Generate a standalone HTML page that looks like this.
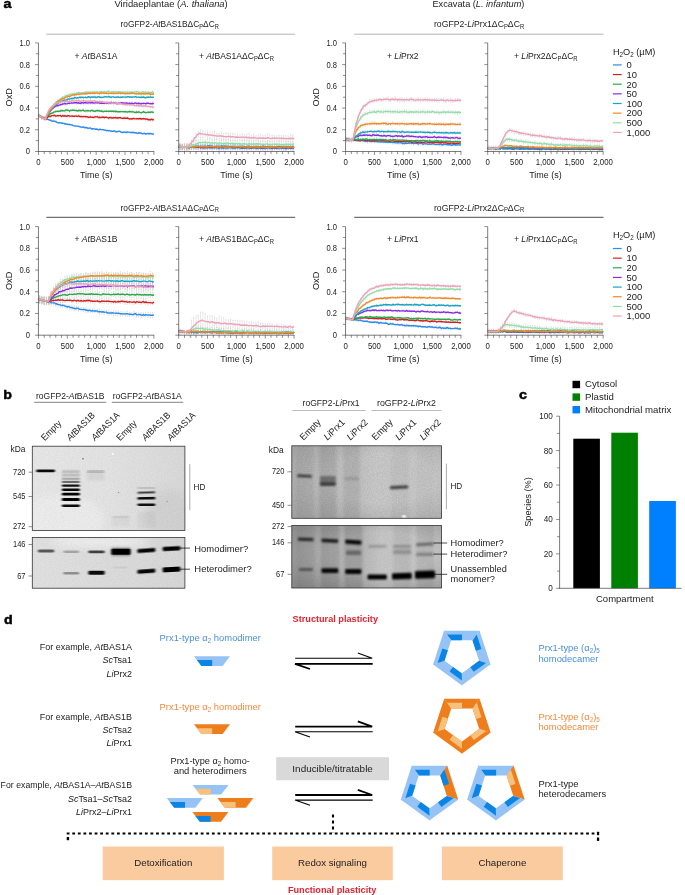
<!DOCTYPE html><html><head><meta charset="utf-8"><title>Figure</title><style>html,body{margin:0;padding:0;background:#fff}svg{display:block}</style></head><body><svg width="685" height="895" viewBox="0 0 685 895" ><style>text{font-family:"Liberation Sans",Arial,sans-serif}</style>
<rect width="685" height="895" fill="#fff"/>
<text transform="translate(3.40 7.80) scale(1.12 1)" font-size="12.8" text-anchor="start" fill="#000" font-weight="bold" stroke="#000" stroke-width="0.45">a</text>
<text transform="translate(171.10 7.00) scale(1.023 1)" font-size="9.2" text-anchor="middle" fill="#222">Viridaeplantae (<tspan font-style="italic">A. thaliana</tspan>)</text>
<text transform="translate(478.40 7.00)" font-size="9.2" text-anchor="middle" fill="#222">Excavata (<tspan font-style="italic">L. infantum</tspan>)</text>
<text transform="translate(169.70 27.20) scale(0.912 1)" font-size="9.2" text-anchor="middle" fill="#222">roGFP2-<tspan font-style="italic">At</tspan>BAS1B&#916;C<tspan font-size="6.3" dy="1.9">P</tspan><tspan dy="-1.9">&#8203;</tspan>&#916;C<tspan font-size="6.3" dy="1.9">R</tspan><tspan dy="-1.9">&#8203;</tspan></text>
<line x1="46.30" y1="34.20" x2="295.20" y2="34.20" stroke="#b4b4b4" stroke-width="1.0"/>
<text transform="translate(479.10 27.20) scale(0.943 1)" font-size="9.2" text-anchor="middle" fill="#222">roGFP2-<tspan font-style="italic">Li</tspan>Prx1&#916;C<tspan font-size="6.3" dy="1.9">P</tspan><tspan dy="-1.9">&#8203;</tspan>&#916;C<tspan font-size="6.3" dy="1.9">R</tspan><tspan dy="-1.9">&#8203;</tspan></text>
<line x1="354.20" y1="34.20" x2="603.50" y2="34.20" stroke="#b4b4b4" stroke-width="1.0"/>
<text transform="translate(169.70 210.50) scale(0.912 1)" font-size="9.2" text-anchor="middle" fill="#222">roGFP2-<tspan font-style="italic">At</tspan>BAS1A&#916;C<tspan font-size="6.3" dy="1.9">P</tspan><tspan dy="-1.9">&#8203;</tspan>&#916;C<tspan font-size="6.3" dy="1.9">R</tspan><tspan dy="-1.9">&#8203;</tspan></text>
<line x1="46.30" y1="217.30" x2="295.20" y2="217.30" stroke="#222" stroke-width="0.8"/>
<text transform="translate(479.10 210.50) scale(0.943 1)" font-size="9.2" text-anchor="middle" fill="#222">roGFP2-<tspan font-style="italic">Li</tspan>Prx2&#916;C<tspan font-size="6.3" dy="1.9">P</tspan><tspan dy="-1.9">&#8203;</tspan>&#916;C<tspan font-size="6.3" dy="1.9">R</tspan><tspan dy="-1.9">&#8203;</tspan></text>
<line x1="354.20" y1="217.30" x2="603.50" y2="217.30" stroke="#222" stroke-width="0.8"/>
<path d="M39.0 115.5h1.2m-.6 0v1.1m-.6 0h1.2M41.3 116.7h1.2m-.6 0v1.3m-.6 0h1.2M43.6 117.8h1.2m-.6 0v1.4m-.6 0h1.2M45.9 118.6h1.2m-.6 0v1.1m-.6 0h1.2M48.2 119.3h1.2m-.6 0v1.0m-.6 0h1.2M50.5 119.8h1.2m-.6 0v1.3m-.6 0h1.2M52.9 120.3h1.2m-.6 0v1.2m-.6 0h1.2M55.2 120.9h1.2m-.6 0v1.3m-.6 0h1.2M57.5 121.9h1.2m-.6 0v1.6m-.6 0h1.2M59.8 122.2h1.2m-.6 0v1.4m-.6 0h1.2M62.1 122.7h1.2m-.6 0v1.3m-.6 0h1.2M64.4 123.3h1.2m-.6 0v1.4m-.6 0h1.2M66.7 123.5h1.2m-.6 0v1.4m-.6 0h1.2M69.0 123.8h1.2m-.6 0v1.0m-.6 0h1.2M71.3 124.1h1.2m-.6 0v1.6m-.6 0h1.2M73.6 125.1h1.2m-.6 0v1.5m-.6 0h1.2M75.9 125.3h1.2m-.6 0v1.5m-.6 0h1.2M78.2 125.7h1.2m-.6 0v1.5m-.6 0h1.2M80.5 126.5h1.2m-.6 0v1.2m-.6 0h1.2M82.9 126.3h1.2m-.6 0v1.2m-.6 0h1.2M85.2 127.0h1.2m-.6 0v1.0m-.6 0h1.2M87.5 127.7h1.2m-.6 0v1.4m-.6 0h1.2M89.8 127.4h1.2m-.6 0v1.0m-.6 0h1.2M92.1 128.2h1.2m-.6 0v1.0m-.6 0h1.2M94.4 128.6h1.2m-.6 0v1.1m-.6 0h1.2M96.7 128.7h1.2m-.6 0v1.1m-.6 0h1.2M99.0 128.7h1.2m-.6 0v1.2m-.6 0h1.2M101.3 129.0h1.2m-.6 0v1.0m-.6 0h1.2M103.6 129.5h1.2m-.6 0v1.0m-.6 0h1.2M105.9 130.2h1.2m-.6 0v1.1m-.6 0h1.2M108.2 130.2h1.2m-.6 0v1.0m-.6 0h1.2M110.6 130.6h1.2m-.6 0v1.2m-.6 0h1.2M112.9 130.7h1.2m-.6 0v1.0m-.6 0h1.2M115.2 131.1h1.2m-.6 0v1.5m-.6 0h1.2M117.5 130.8h1.2m-.6 0v1.4m-.6 0h1.2M119.8 131.0h1.2m-.6 0v1.1m-.6 0h1.2M122.1 132.0h1.2m-.6 0v1.1m-.6 0h1.2M124.4 131.7h1.2m-.6 0v1.2m-.6 0h1.2M126.7 131.4h1.2m-.6 0v1.2m-.6 0h1.2M129.0 131.9h1.2m-.6 0v1.1m-.6 0h1.2M131.3 131.8h1.2m-.6 0v1.5m-.6 0h1.2M133.6 131.8h1.2m-.6 0v1.6m-.6 0h1.2M135.9 132.2h1.2m-.6 0v1.3m-.6 0h1.2M138.2 132.2h1.2m-.6 0v1.3m-.6 0h1.2M140.6 132.6h1.2m-.6 0v1.0m-.6 0h1.2M142.9 133.1h1.2m-.6 0v1.0m-.6 0h1.2M145.2 133.5h1.2m-.6 0v1.2m-.6 0h1.2M147.5 132.9h1.2m-.6 0v1.1m-.6 0h1.2M149.8 132.7h1.2m-.6 0v1.5m-.6 0h1.2M152.1 133.5h1.2m-.6 0v1.1m-.6 0h1.2" stroke="#c4c4c4" stroke-width="0.4" fill="none"/>
<defs><path id="c1" d="M38.5 115.7l1.1 .4 1.2 .7 1.1 .6 1.2 .7 1.1 .3 1.2 .2 1.1 .5 1.2 .2 1.1 .5 1.2 .3 1.1 .4 1.2 .8 1.2-.4 1.1 .4 1.2 .3 1.1 .8 1.2 .3 1.1 .1 1.2 .1 1.1 .1 1.2 .3 1.1 .1 1.2 .6 1.1 0 1.2 .2 1.2 .5 1.1-.4 1.2 .6 1.1 0 1.2 .7 1.1 .3 1.2 .1 1.1 .1 1.2 0 1.1 .3 1.2 .4 1.1 .3 1.2 .1 1.2-.3 1.1 .8 1.2-.2 1.1 .2 1.2 .7 1.1-.3 1.2-.2 1.1 1.1 1.2-.3 1.1 .1 1.2 .4 1.2-.2 1.1 .3 1.2 .5 1.1-.5 1.2 .2 1.1 .1 1.2 0 1.1 .4 1.2 .2 1.1 .5 1.2-.4 1.1 .5 1.2 0 1.2 .4 1.1 0 1.2 0 1.1-.4 1.2 1 1.1 0 1.2-.4 1.1-.2 1.2 .4 1.1 .7 1.2 .3 1.1-.7 1.2 .4 1.2 .2 1.1-.5 1.2 .1 1.1 .3 1.2 .1 1.1 0 1.2-.2 1.1 .4 1.2 .1 1.1 0 1.2 .7 1.1-.7 1.2 .2 1.2 .2 1.1 .7 1.2-.3 1.1-.3 1.2 .8 1.1-.4 1.2-.3 1.1 .7 1.2-.7 1.1 .4 1.2 .2 1.2 0"/></defs>
<path d="M39.0 114.2h1.2m-.6 0v2.6m-.6 0h1.2M41.3 116.5h1.2m-.6 0v2.0m-.6 0h1.2M43.6 117.2h1.2m-.6 0v2.5m-.6 0h1.2M45.9 117.5h1.2m-.6 0v2.2m-.6 0h1.2M48.2 115.4h1.2m-.6 0v2.0m-.6 0h1.2M50.5 114.5h1.2m-.6 0v3.0m-.6 0h1.2M52.9 114.5h1.2m-.6 0v2.2m-.6 0h1.2M55.2 114.9h1.2m-.6 0v2.6m-.6 0h1.2M57.5 114.4h1.2m-.6 0v2.9m-.6 0h1.2M59.8 114.1h1.2m-.6 0v2.7m-.6 0h1.2M62.1 114.3h1.2m-.6 0v2.4m-.6 0h1.2M64.4 114.4h1.2m-.6 0v2.6m-.6 0h1.2M66.7 114.6h1.2m-.6 0v2.7m-.6 0h1.2M69.0 114.6h1.2m-.6 0v3.0m-.6 0h1.2M71.3 114.9h1.2m-.6 0v2.1m-.6 0h1.2M73.6 115.0h1.2m-.6 0v2.7m-.6 0h1.2M75.9 114.9h1.2m-.6 0v2.3m-.6 0h1.2M78.2 114.6h1.2m-.6 0v2.3m-.6 0h1.2M80.5 114.8h1.2m-.6 0v3.0m-.6 0h1.2M82.9 115.3h1.2m-.6 0v2.6m-.6 0h1.2M85.2 115.3h1.2m-.6 0v2.7m-.6 0h1.2M87.5 115.8h1.2m-.6 0v2.9m-.6 0h1.2M89.8 115.2h1.2m-.6 0v3.1m-.6 0h1.2M92.1 116.0h1.2m-.6 0v2.5m-.6 0h1.2M94.4 115.4h1.2m-.6 0v2.8m-.6 0h1.2M96.7 115.5h1.2m-.6 0v2.6m-.6 0h1.2M99.0 116.0h1.2m-.6 0v2.6m-.6 0h1.2M101.3 115.7h1.2m-.6 0v2.9m-.6 0h1.2M103.6 116.4h1.2m-.6 0v2.5m-.6 0h1.2M105.9 116.0h1.2m-.6 0v2.6m-.6 0h1.2M108.2 116.9h1.2m-.6 0v2.6m-.6 0h1.2M110.6 116.2h1.2m-.6 0v3.2m-.6 0h1.2M112.9 116.3h1.2m-.6 0v2.9m-.6 0h1.2M115.2 116.0h1.2m-.6 0v3.1m-.6 0h1.2M117.5 116.1h1.2m-.6 0v3.2m-.6 0h1.2M119.8 116.6h1.2m-.6 0v2.3m-.6 0h1.2M122.1 117.1h1.2m-.6 0v2.7m-.6 0h1.2M124.4 116.7h1.2m-.6 0v3.2m-.6 0h1.2M126.7 116.5h1.2m-.6 0v3.0m-.6 0h1.2M129.0 118.0h1.2m-.6 0v2.1m-.6 0h1.2M131.3 118.0h1.2m-.6 0v2.1m-.6 0h1.2M133.6 117.3h1.2m-.6 0v2.5m-.6 0h1.2M135.9 117.7h1.2m-.6 0v2.0m-.6 0h1.2M138.2 117.7h1.2m-.6 0v2.3m-.6 0h1.2M140.6 117.9h1.2m-.6 0v2.1m-.6 0h1.2M142.9 117.2h1.2m-.6 0v2.8m-.6 0h1.2M145.2 117.8h1.2m-.6 0v3.0m-.6 0h1.2M147.5 118.2h1.2m-.6 0v3.1m-.6 0h1.2M149.8 118.8h1.2m-.6 0v2.2m-.6 0h1.2M152.1 118.3h1.2m-.6 0v2.9m-.6 0h1.2" stroke="#c4c4c4" stroke-width="0.4" fill="none"/>
<defs><path id="c2" d="M38.5 115.5l1.1 0 1.2 1.2 1.1 .7 1.2 .5 1.1 .5 1.2 .5 1.1-.3 1.2-1.4 1.1-.9 1.2 .3 1.1-.6 1.2-.4 1.2-.1 1.1-.2 1.2 .9 1.1-.4 1.2 0 1.1-.2 1.2-.1 1.1 1 1.2-1 1.1 .8 1.2-.6 1.1 .7 1.2-.4 1.2-.3 1.1 .4 1.2 0 1.1-.1 1.2 .2 1.1 .1 1.2-.4 1.1 .2 1.2 .4 1.1-.8 1.2 1.1 1.1-.5 1.2 .4 1.2-.1 1.1-.1 1.2 .2 1.1-.1 1.2 .6 1.1 .1 1.2-.5 1.1 .4 1.2 .1 1.1 .2 1.2-.7 1.2 .1 1.1-.1 1.2 .7 1.1-.2 1.2 .3 1.1-.4 1.2-.2 1.1 .7 1.2-.6 1.1 .2 1.2 .4 1.1 .5 1.2-.9 1.2 .5 1.1 .2 1.2-.3 1.1 .1 1.2-.3 1.1 .8 1.2-.6 1.1 0 1.2 0 1.1 .5 1.2 .2 1.1-.4 1.2 .3 1.2 0 1.1-.3 1.2 .5 1.1 .6 1.2-.5 1.1 .5 1.2-.7 1.1 .2 1.2 .3 1.1-.1 1.2-.2 1.1 .2 1.2-.3 1.2 .5 1.1-.3 1.2-.1 1.1 .1 1.2 .6 1.1-.4 1.2 .8 1.1-.1 1.2 .3 1.1-.8 1.2 .7 1.2-.3"/></defs>
<path d="M39.0 115.3h1.2m-.6 0v2.1m-.6 0h1.2M41.3 116.2h1.2m-.6 0v3.1m-.6 0h1.2M43.6 116.2h1.2m-.6 0v3.1m-.6 0h1.2M45.9 115.8h1.2m-.6 0v2.8m-.6 0h1.2M48.2 113.9h1.2m-.6 0v2.3m-.6 0h1.2M50.5 112.1h1.2m-.6 0v2.3m-.6 0h1.2M52.9 111.3h1.2m-.6 0v2.3m-.6 0h1.2M55.2 110.2h1.2m-.6 0v2.6m-.6 0h1.2M57.5 110.2h1.2m-.6 0v2.2m-.6 0h1.2M59.8 109.7h1.2m-.6 0v2.5m-.6 0h1.2M62.1 109.5h1.2m-.6 0v2.3m-.6 0h1.2M64.4 109.2h1.2m-.6 0v3.2m-.6 0h1.2M66.7 108.6h1.2m-.6 0v3.2m-.6 0h1.2M69.0 109.9h1.2m-.6 0v2.7m-.6 0h1.2M71.3 109.2h1.2m-.6 0v2.3m-.6 0h1.2M73.6 108.8h1.2m-.6 0v3.2m-.6 0h1.2M75.9 109.2h1.2m-.6 0v2.4m-.6 0h1.2M78.2 109.1h1.2m-.6 0v2.4m-.6 0h1.2M80.5 109.8h1.2m-.6 0v2.0m-.6 0h1.2M82.9 108.9h1.2m-.6 0v2.5m-.6 0h1.2M85.2 109.6h1.2m-.6 0v2.6m-.6 0h1.2M87.5 109.4h1.2m-.6 0v2.6m-.6 0h1.2M89.8 110.0h1.2m-.6 0v2.2m-.6 0h1.2M92.1 109.3h1.2m-.6 0v2.6m-.6 0h1.2M94.4 110.3h1.2m-.6 0v2.0m-.6 0h1.2M96.7 109.6h1.2m-.6 0v2.3m-.6 0h1.2M99.0 109.8h1.2m-.6 0v2.1m-.6 0h1.2M101.3 109.8h1.2m-.6 0v2.5m-.6 0h1.2M103.6 110.4h1.2m-.6 0v2.0m-.6 0h1.2M105.9 110.1h1.2m-.6 0v2.0m-.6 0h1.2M108.2 110.1h1.2m-.6 0v2.4m-.6 0h1.2M110.6 110.1h1.2m-.6 0v2.3m-.6 0h1.2M112.9 110.0h1.2m-.6 0v2.7m-.6 0h1.2M115.2 109.9h1.2m-.6 0v2.6m-.6 0h1.2M117.5 110.3h1.2m-.6 0v2.9m-.6 0h1.2M119.8 110.2h1.2m-.6 0v2.8m-.6 0h1.2M122.1 110.1h1.2m-.6 0v2.9m-.6 0h1.2M124.4 110.1h1.2m-.6 0v3.1m-.6 0h1.2M126.7 110.9h1.2m-.6 0v2.5m-.6 0h1.2M129.0 110.3h1.2m-.6 0v2.4m-.6 0h1.2M131.3 110.3h1.2m-.6 0v3.2m-.6 0h1.2M133.6 111.1h1.2m-.6 0v2.1m-.6 0h1.2M135.9 110.5h1.2m-.6 0v2.9m-.6 0h1.2M138.2 110.4h1.2m-.6 0v2.8m-.6 0h1.2M140.6 111.8h1.2m-.6 0v2.0m-.6 0h1.2M142.9 110.2h1.2m-.6 0v3.0m-.6 0h1.2M145.2 111.0h1.2m-.6 0v3.1m-.6 0h1.2M147.5 110.7h1.2m-.6 0v2.8m-.6 0h1.2M149.8 110.8h1.2m-.6 0v2.9m-.6 0h1.2M152.1 110.7h1.2m-.6 0v3.0m-.6 0h1.2" stroke="#c4c4c4" stroke-width="0.4" fill="none"/>
<defs><path id="c3" d="M38.5 115.7l1.1 .6 1.2-.1 1.1 1.6 1.2-.1 1.1 0 1.2 1.5 1.1-2 1.2-1.6 1.1-.5 1.2-1 1.1-.9 1.2 0 1.2-.8 1.1-.5 1.2-.4 1.1-.1 1.2-.1 1.1 0 1.2-.3 1.1-.5 1.2 .2 1.1 .2 1.2-.1 1.1-1 1.2 .4 1.2 .1 1.1 .9 1.2-.9 1.1 .1 1.2-.4 1.1 .4 1.2 .1 1.1-.1 1.2 .7 1.1-.8 1.2 .2 1.1 .3 1.2-.5 1.2-.1 1.1 .9 1.2-.2 1.1-.2 1.2 0 1.1 .2 1.2 .2 1.1-.8 1.2 .3 1.1 .6 1.2 .1 1.2-.8 1.1 .2 1.2-.2 1.1 .3 1.2 .5 1.1-.3 1.2 .7 1.1-.3 1.2-.2 1.1-.1 1.2 .3 1.1-.1 1.2-.1 1.2 0 1.1 0 1.2 .1 1.1 .2 1.2-.3 1.1 .3 1.2 .2 1.1 0 1.2-.1 1.1 0 1.2 0 1.1 .1 1.2-.1 1.2 .1 1.1 .4 1.2-.4 1.1-.2 1.2 .2 1.1 .2 1.2-.1 1.1 .4 1.2 .3 1.1-.5 1.2 .3 1.1-.5 1.2 .6 1.2 .4 1.1-.4 1.2-.7 1.1 .6 1.2 .3 1.1-.2 1.2-.3 1.1 .1 1.2 .1 1.1-.4 1.2 .3 1.2 .2"/></defs>
<path d="M39.0 114.4h1.2m-.6 0v3.1m-.6 0h1.2M41.3 116.6h1.2m-.6 0v2.3m-.6 0h1.2M43.6 117.0h1.2m-.6 0v2.4m-.6 0h1.2M45.9 115.8h1.2m-.6 0v2.5m-.6 0h1.2M48.2 111.3h1.2m-.6 0v3.3m-.6 0h1.2M50.5 108.6h1.2m-.6 0v2.7m-.6 0h1.2M52.9 106.5h1.2m-.6 0v2.4m-.6 0h1.2M55.2 104.8h1.2m-.6 0v2.5m-.6 0h1.2M57.5 104.5h1.2m-.6 0v2.3m-.6 0h1.2M59.8 103.8h1.2m-.6 0v2.0m-.6 0h1.2M62.1 103.0h1.2m-.6 0v2.1m-.6 0h1.2M64.4 101.9h1.2m-.6 0v3.0m-.6 0h1.2M66.7 102.5h1.2m-.6 0v2.3m-.6 0h1.2M69.0 101.6h1.2m-.6 0v3.2m-.6 0h1.2M71.3 101.8h1.2m-.6 0v2.3m-.6 0h1.2M73.6 101.5h1.2m-.6 0v2.3m-.6 0h1.2M75.9 101.5h1.2m-.6 0v2.6m-.6 0h1.2M78.2 101.7h1.2m-.6 0v2.2m-.6 0h1.2M80.5 101.8h1.2m-.6 0v2.4m-.6 0h1.2M82.9 101.6h1.2m-.6 0v3.2m-.6 0h1.2M85.2 101.2h1.2m-.6 0v3.1m-.6 0h1.2M87.5 101.3h1.2m-.6 0v3.0m-.6 0h1.2M89.8 101.3h1.2m-.6 0v2.8m-.6 0h1.2M92.1 101.3h1.2m-.6 0v3.1m-.6 0h1.2M94.4 101.3h1.2m-.6 0v3.2m-.6 0h1.2M96.7 101.3h1.2m-.6 0v2.7m-.6 0h1.2M99.0 101.7h1.2m-.6 0v2.9m-.6 0h1.2M101.3 102.0h1.2m-.6 0v2.0m-.6 0h1.2M103.6 101.8h1.2m-.6 0v2.9m-.6 0h1.2M105.9 101.9h1.2m-.6 0v2.5m-.6 0h1.2M108.2 101.4h1.2m-.6 0v2.9m-.6 0h1.2M110.6 101.0h1.2m-.6 0v2.8m-.6 0h1.2M112.9 101.6h1.2m-.6 0v2.3m-.6 0h1.2M115.2 101.8h1.2m-.6 0v2.0m-.6 0h1.2M117.5 101.8h1.2m-.6 0v3.2m-.6 0h1.2M119.8 102.0h1.2m-.6 0v2.1m-.6 0h1.2M122.1 101.9h1.2m-.6 0v2.6m-.6 0h1.2M124.4 101.9h1.2m-.6 0v2.4m-.6 0h1.2M126.7 102.0h1.2m-.6 0v2.3m-.6 0h1.2M129.0 101.8h1.2m-.6 0v2.9m-.6 0h1.2M131.3 101.5h1.2m-.6 0v3.2m-.6 0h1.2M133.6 102.2h1.2m-.6 0v2.3m-.6 0h1.2M135.9 102.1h1.2m-.6 0v2.8m-.6 0h1.2M138.2 102.0h1.2m-.6 0v2.3m-.6 0h1.2M140.6 102.4h1.2m-.6 0v2.7m-.6 0h1.2M142.9 102.2h1.2m-.6 0v2.5m-.6 0h1.2M145.2 102.7h1.2m-.6 0v2.2m-.6 0h1.2M147.5 102.1h1.2m-.6 0v2.2m-.6 0h1.2M149.8 102.5h1.2m-.6 0v2.2m-.6 0h1.2M152.1 101.7h1.2m-.6 0v3.1m-.6 0h1.2" stroke="#c4c4c4" stroke-width="0.4" fill="none"/>
<defs><path id="c4" d="M38.5 115.5l1.1 .5 1.2 .5 1.1 1.3 1.2 0 1.1 .4 1.2 1.2 1.1-2.4 1.2-2.2 1.1-1.9 1.2-1.3 1.1-1.7 1.2-1.1 1.2-1.1 1.1-.8 1.2-.9 1.1-.5 1.2 .2 1.1-.6 1.2-.3 1.1-.3 1.2-.5 1.1-.2 1.2-.3 1.1 .4 1.2-.3 1.2-.4 1.1 0 1.2-.1 1.1-.1 1.2 .1 1.1-.4 1.2 0 1.1 .1 1.2 .2 1.1-.2 1.2 .7 1.1-.5 1.2-.3 1.2 .5 1.1-.5 1.2 0 1.1 .4 1.2-.2 1.1 0 1.2-.2 1.1-.1 1.2 .2 1.1 .3 1.2-.2 1.2 0 1.1-.2 1.2 .1 1.1 .3 1.2 .2 1.1-.3 1.2 .2 1.1 .1 1.2-.3 1.1 .1 1.2-.1 1.1-.1 1.2 .3 1.2-.8 1.1 .8 1.2-.4 1.1 .3 1.2-.3 1.1 1 1.2-.4 1.1-.3 1.2 0 1.1-.5 1.2 .6 1.1-.3 1.2 .2 1.2-.1 1.1 .2 1.2 .2 1.1-.2 1.2 .5 1.1-.6 1.2 .6 1.1-.3 1.2-.5 1.1 .6 1.2 0 1.1-.3 1.2 .3 1.2 .2 1.1-.2 1.2-.1 1.1 0 1.2 .4 1.1-.7 1.2 .1 1.1 .4 1.2 0 1.1 .2 1.2-.5 1.2 .6"/></defs>
<path d="M39.0 115.3h1.2m-.6 0v1.7m-.6 0h1.2M41.3 117.1h1.2m-.6 0v1.5m-.6 0h1.2M43.6 117.3h1.2m-.6 0v2.1m-.6 0h1.2M45.9 115.7h1.2m-.6 0v1.6m-.6 0h1.2M48.2 111.5h1.2m-.6 0v2.0m-.6 0h1.2M50.5 108.5h1.2m-.6 0v1.5m-.6 0h1.2M52.9 106.4h1.2m-.6 0v1.5m-.6 0h1.2M55.2 104.2h1.2m-.6 0v2.0m-.6 0h1.2M57.5 102.3h1.2m-.6 0v1.6m-.6 0h1.2M59.8 100.7h1.2m-.6 0v2.1m-.6 0h1.2M62.1 100.0h1.2m-.6 0v1.7m-.6 0h1.2M64.4 99.4h1.2m-.6 0v1.5m-.6 0h1.2M66.7 98.7h1.2m-.6 0v1.5m-.6 0h1.2M69.0 98.2h1.2m-.6 0v1.7m-.6 0h1.2M71.3 97.4h1.2m-.6 0v1.9m-.6 0h1.2M73.6 96.9h1.2m-.6 0v2.1m-.6 0h1.2M75.9 97.3h1.2m-.6 0v1.4m-.6 0h1.2M78.2 96.9h1.2m-.6 0v1.6m-.6 0h1.2M80.5 96.7h1.2m-.6 0v1.5m-.6 0h1.2M82.9 96.5h1.2m-.6 0v2.1m-.6 0h1.2M85.2 96.6h1.2m-.6 0v1.4m-.6 0h1.2M87.5 96.2h1.2m-.6 0v1.3m-.6 0h1.2M89.8 97.0h1.2m-.6 0v1.4m-.6 0h1.2M92.1 96.3h1.2m-.6 0v1.6m-.6 0h1.2M94.4 95.9h1.2m-.6 0v2.1m-.6 0h1.2M96.7 96.1h1.2m-.6 0v2.1m-.6 0h1.2M99.0 96.2h1.2m-.6 0v1.9m-.6 0h1.2M101.3 96.3h1.2m-.6 0v2.2m-.6 0h1.2M103.6 95.9h1.2m-.6 0v2.1m-.6 0h1.2M105.9 96.1h1.2m-.6 0v1.6m-.6 0h1.2M108.2 95.7h1.2m-.6 0v1.5m-.6 0h1.2M110.6 96.2h1.2m-.6 0v2.1m-.6 0h1.2M112.9 95.9h1.2m-.6 0v2.0m-.6 0h1.2M115.2 96.7h1.2m-.6 0v1.3m-.6 0h1.2M117.5 96.0h1.2m-.6 0v1.9m-.6 0h1.2M119.8 96.3h1.2m-.6 0v1.6m-.6 0h1.2M122.1 96.1h1.2m-.6 0v1.6m-.6 0h1.2M124.4 96.3h1.2m-.6 0v1.6m-.6 0h1.2M126.7 96.1h1.2m-.6 0v1.5m-.6 0h1.2M129.0 96.5h1.2m-.6 0v1.3m-.6 0h1.2M131.3 96.5h1.2m-.6 0v1.5m-.6 0h1.2M133.6 96.1h1.2m-.6 0v1.6m-.6 0h1.2M135.9 96.2h1.2m-.6 0v2.1m-.6 0h1.2M138.2 96.4h1.2m-.6 0v1.4m-.6 0h1.2M140.6 96.1h1.2m-.6 0v2.1m-.6 0h1.2M142.9 96.3h1.2m-.6 0v1.5m-.6 0h1.2M145.2 96.9h1.2m-.6 0v1.6m-.6 0h1.2M147.5 96.1h1.2m-.6 0v2.0m-.6 0h1.2M149.8 95.9h1.2m-.6 0v2.0m-.6 0h1.2M152.1 96.5h1.2m-.6 0v1.7m-.6 0h1.2" stroke="#c4c4c4" stroke-width="0.4" fill="none"/>
<defs><path id="c5" d="M38.5 115.9l1.1 .3 1.2-.2 1.1 1.8 1.2 .2 1.1 .3 1.2 .6 1.1-2.4 1.2-1.9 1.1-2.1 1.2-1.6 1.1-1.7 1.2-.6 1.2-1.5 1.1-1.3 1.2-.6 1.1-.9 1.2-1.2 1.1-.3 1.2-1 1.1-.6 1.2-.4 1.1-.4 1.2-.3 1.1 0 1.2-.6 1.2-.5 1.1 .1 1.2-.4 1.1-.4 1.2 .3 1.1-.6 1.2-.5 1.1 .6 1.2-.3 1.1-.1 1.2-.5 1.1 .3 1.2-.3 1.2 .4 1.1-.2 1.2-.1 1.1 .5 1.2-1 1.1 .2 1.2 .6 1.1-.7 1.2 .3 1.1-.2 1.2 0 1.2 .5 1.1-.4 1.2-.4 1.1 .5 1.2 .1 1.1 .1 1.2 0 1.1-.5 1.2-.3 1.1 .3 1.2 .1 1.1-.6 1.2 .8 1.2 0 1.1-.3 1.2 0 1.1 .4 1.2 .1 1.1-.4 1.2 0 1.1 .4 1.2-.3 1.1 .1 1.2-.3 1.1 .2 1.2 0 1.2 .1 1.1-.4 1.2-.1 1.1 .5 1.2-.3 1.1 .4 1.2-.2 1.1-.2 1.2-.2 1.1 .5 1.2-.1 1.1 0 1.2 .4 1.2-.4 1.1 .2 1.2-.3 1.1 .5 1.2 .2 1.1-.5 1.2-.1 1.1 .2 1.2-.4 1.1 .4 1.2 .1 1.2-.3"/></defs>
<path d="M39.0 115.2h1.2m-.6 0v1.3m-.6 0h1.2M41.3 116.9h1.2m-.6 0v1.6m-.6 0h1.2M43.6 117.6h1.2m-.6 0v1.4m-.6 0h1.2M45.9 115.5h1.2m-.6 0v1.5m-.6 0h1.2M48.2 111.1h1.2m-.6 0v2.1m-.6 0h1.2M50.5 107.1h1.2m-.6 0v1.8m-.6 0h1.2M52.9 103.9h1.2m-.6 0v2.1m-.6 0h1.2M55.2 101.6h1.2m-.6 0v1.6m-.6 0h1.2M57.5 99.5h1.2m-.6 0v2.1m-.6 0h1.2M59.8 98.2h1.2m-.6 0v1.7m-.6 0h1.2M62.1 96.4h1.2m-.6 0v1.5m-.6 0h1.2M64.4 95.5h1.2m-.6 0v2.0m-.6 0h1.2M66.7 94.6h1.2m-.6 0v2.1m-.6 0h1.2M69.0 93.7h1.2m-.6 0v1.4m-.6 0h1.2M71.3 93.0h1.2m-.6 0v1.8m-.6 0h1.2M73.6 92.8h1.2m-.6 0v1.8m-.6 0h1.2M75.9 92.6h1.2m-.6 0v1.5m-.6 0h1.2M78.2 91.6h1.2m-.6 0v1.6m-.6 0h1.2M80.5 92.3h1.2m-.6 0v1.4m-.6 0h1.2M82.9 92.2h1.2m-.6 0v1.5m-.6 0h1.2M85.2 91.5h1.2m-.6 0v1.5m-.6 0h1.2M87.5 91.3h1.2m-.6 0v1.8m-.6 0h1.2M89.8 91.1h1.2m-.6 0v1.9m-.6 0h1.2M92.1 91.6h1.2m-.6 0v1.5m-.6 0h1.2M94.4 91.5h1.2m-.6 0v1.3m-.6 0h1.2M96.7 91.2h1.2m-.6 0v1.6m-.6 0h1.2M99.0 90.9h1.2m-.6 0v1.9m-.6 0h1.2M101.3 91.3h1.2m-.6 0v1.5m-.6 0h1.2M103.6 90.9h1.2m-.6 0v1.6m-.6 0h1.2M105.9 91.6h1.2m-.6 0v1.5m-.6 0h1.2M108.2 90.4h1.2m-.6 0v2.0m-.6 0h1.2M110.6 91.1h1.2m-.6 0v1.8m-.6 0h1.2M112.9 91.0h1.2m-.6 0v1.4m-.6 0h1.2M115.2 91.4h1.2m-.6 0v1.4m-.6 0h1.2M117.5 91.2h1.2m-.6 0v1.6m-.6 0h1.2M119.8 91.4h1.2m-.6 0v1.8m-.6 0h1.2M122.1 91.1h1.2m-.6 0v1.9m-.6 0h1.2M124.4 91.4h1.2m-.6 0v1.4m-.6 0h1.2M126.7 91.2h1.2m-.6 0v1.4m-.6 0h1.2M129.0 91.4h1.2m-.6 0v1.9m-.6 0h1.2M131.3 91.3h1.2m-.6 0v1.7m-.6 0h1.2M133.6 91.4h1.2m-.6 0v1.5m-.6 0h1.2M135.9 91.0h1.2m-.6 0v1.6m-.6 0h1.2M138.2 91.3h1.2m-.6 0v2.1m-.6 0h1.2M140.6 92.1h1.2m-.6 0v1.6m-.6 0h1.2M142.9 91.5h1.2m-.6 0v1.8m-.6 0h1.2M145.2 91.3h1.2m-.6 0v1.6m-.6 0h1.2M147.5 91.3h1.2m-.6 0v1.7m-.6 0h1.2M149.8 91.8h1.2m-.6 0v2.1m-.6 0h1.2M152.1 90.9h1.2m-.6 0v2.2m-.6 0h1.2" stroke="#c4c4c4" stroke-width="0.4" fill="none"/>
<defs><path id="c6" d="M38.5 116.1l1.1-.2 1.2 .8 1.1 1 1.2-.3 1.1 .9 1.2 .4 1.1-2.5 1.2-2.3 1.1-1.7 1.2-2.7 1.1-1.5 1.2-1.5 1.2-1.6 1.1-1.2 1.2-1.3 1.1-.8 1.2-1.1 1.1-.3 1.2-1.2 1.1-1 1.2-.8 1.1-.1 1.2-.6 1.1-1 1.2 .1 1.2-.6 1.1-.6 1.2 .1 1.1-.6 1.2 .3 1.1-.5 1.2-.1 1.1-.3 1.2-.4 1.1-.5 1.2 .7 1.1-.1 1.2-.4 1.2 .3 1.1-.5 1.2-.1 1.1 .2 1.2-.3 1.1 .5 1.2-.7 1.1 .6 1.2-.3 1.1 0 1.2-.1 1.2-.4 1.1 .2 1.2 .1 1.1-.2 1.2-.3 1.1 .4 1.2-.1 1.1-.3 1.2 .3 1.1 .4 1.2-1 1.1 .1 1.2 1.1 1.2-.5 1.1-.1 1.2-.2 1.1 .1 1.2 .3 1.1 .2 1.2-.3 1.1-.3 1.2 .6 1.1 0 1.2-.3 1.1 .6 1.2-.5 1.2 .1 1.1-.3 1.2 .4 1.1 0 1.2-.1 1.1-.1 1.2 .2 1.1-.2 1.2-.2 1.1-.1 1.2-.1 1.1 .7 1.2-.1 1.2 .6 1.1-1.2 1.2 .7 1.1-.2 1.2-.1 1.1 .5 1.2-.5 1.1 .2 1.2 .5 1.1-.6 1.2-.2 1.2 .8"/></defs>
<path d="M39.0 115.2h1.2m-.6 0v1.7m-.6 0h1.2M41.3 116.4h1.2m-.6 0v2.1m-.6 0h1.2M43.6 117.3h1.2m-.6 0v2.1m-.6 0h1.2M45.9 115.6h1.2m-.6 0v1.4m-.6 0h1.2M48.2 111.0h1.2m-.6 0v2.0m-.6 0h1.2M50.5 107.8h1.2m-.6 0v2.1m-.6 0h1.2M52.9 105.3h1.2m-.6 0v1.4m-.6 0h1.2M55.2 103.3h1.2m-.6 0v1.6m-.6 0h1.2M57.5 100.5h1.2m-.6 0v2.0m-.6 0h1.2M59.8 99.1h1.2m-.6 0v1.4m-.6 0h1.2M62.1 97.5h1.2m-.6 0v2.1m-.6 0h1.2M64.4 97.0h1.2m-.6 0v1.5m-.6 0h1.2M66.7 95.6h1.2m-.6 0v2.0m-.6 0h1.2M69.0 96.0h1.2m-.6 0v1.4m-.6 0h1.2M71.3 94.4h1.2m-.6 0v1.7m-.6 0h1.2M73.6 94.2h1.2m-.6 0v2.1m-.6 0h1.2M75.9 93.8h1.2m-.6 0v1.5m-.6 0h1.2M78.2 93.6h1.2m-.6 0v1.5m-.6 0h1.2M80.5 93.3h1.2m-.6 0v1.7m-.6 0h1.2M82.9 93.1h1.2m-.6 0v1.6m-.6 0h1.2M85.2 93.1h1.2m-.6 0v1.3m-.6 0h1.2M87.5 92.4h1.2m-.6 0v1.5m-.6 0h1.2M89.8 92.8h1.2m-.6 0v1.4m-.6 0h1.2M92.1 92.0h1.2m-.6 0v2.1m-.6 0h1.2M94.4 92.3h1.2m-.6 0v1.9m-.6 0h1.2M96.7 92.0h1.2m-.6 0v2.1m-.6 0h1.2M99.0 93.0h1.2m-.6 0v1.4m-.6 0h1.2M101.3 92.1h1.2m-.6 0v2.0m-.6 0h1.2M103.6 92.5h1.2m-.6 0v1.4m-.6 0h1.2M105.9 92.4h1.2m-.6 0v1.8m-.6 0h1.2M108.2 92.5h1.2m-.6 0v1.9m-.6 0h1.2M110.6 92.6h1.2m-.6 0v1.6m-.6 0h1.2M112.9 92.0h1.2m-.6 0v2.1m-.6 0h1.2M115.2 92.2h1.2m-.6 0v1.8m-.6 0h1.2M117.5 92.3h1.2m-.6 0v1.8m-.6 0h1.2M119.8 92.2h1.2m-.6 0v2.1m-.6 0h1.2M122.1 92.7h1.2m-.6 0v1.4m-.6 0h1.2M124.4 92.8h1.2m-.6 0v2.2m-.6 0h1.2M126.7 92.5h1.2m-.6 0v1.9m-.6 0h1.2M129.0 92.6h1.2m-.6 0v1.6m-.6 0h1.2M131.3 92.3h1.2m-.6 0v2.0m-.6 0h1.2M133.6 92.6h1.2m-.6 0v1.5m-.6 0h1.2M135.9 92.5h1.2m-.6 0v2.2m-.6 0h1.2M138.2 92.8h1.2m-.6 0v1.8m-.6 0h1.2M140.6 93.4h1.2m-.6 0v1.6m-.6 0h1.2M142.9 92.8h1.2m-.6 0v2.0m-.6 0h1.2M145.2 93.0h1.2m-.6 0v1.7m-.6 0h1.2M147.5 93.1h1.2m-.6 0v1.5m-.6 0h1.2M149.8 93.6h1.2m-.6 0v1.9m-.6 0h1.2M152.1 93.7h1.2m-.6 0v1.3m-.6 0h1.2" stroke="#c4c4c4" stroke-width="0.4" fill="none"/>
<defs><path id="c7" d="M38.5 115.8l1.1 .3 1.2 .7 1.1 .7 1.2-.3 1.1 1.2 1.2 1 1.1-3.1 1.2-1.5 1.1-2.8 1.2-1.3 1.1-1.9 1.2-1.8 1.2-1 1.1-.9 1.2-1 1.1-1.8 1.2-.8 1.1-.4 1.2-1.3 1.1-.5 1.2-.7 1.1 .2 1.2-1.1 1.1-.7 1.2-.4 1.2-.5 1.1 .6 1.2-1 1.1-.4 1.2-.8 1.1 .7 1.2-.4 1.1-.3 1.2-.4 1.1 .2 1.2-.5 1.1 .4 1.2-.4 1.2 .1 1.1-.3 1.2 .2 1.1 .2 1.2-.8 1.1 .1 1.2 .2 1.1-.2 1.2-.3 1.1 .5 1.2-.2 1.2-.2 1.1 0 1.2 .2 1.1 .5 1.2-1 1.1 .3 1.2 .1 1.1 .1 1.2-.2 1.1 .2 1.2 .2 1.1-.1 1.2 0 1.2 0 1.1 .1 1.2-.4 1.1 .5 1.2-.5 1.1 .5 1.2-.4 1.1-.3 1.2 .4 1.1 .2 1.2-.1 1.1-.1 1.2 .6 1.2-.3 1.1-.2 1.2 .2 1.1-.1 1.2-.2 1.1 0 1.2 0 1.1 .1 1.2 .3 1.1-.1 1.2 .1 1.1 0 1.2 0 1.2 .5 1.1-.4 1.2-.1 1.1 .3 1.2-.2 1.1-.1 1.2 .2 1.1-.6 1.2 1.3 1.1-.6 1.2 .4 1.2-.7"/></defs>
<path d="M39.0 114.7h1.2m-.6 0v2.9m-.6 0h1.2M41.3 116.6h1.2m-.6 0v2.4m-.6 0h1.2M43.6 117.2h1.2m-.6 0v3.1m-.6 0h1.2M45.9 114.3h1.2m-.6 0v2.4m-.6 0h1.2M48.2 109.2h1.2m-.6 0v2.3m-.6 0h1.2M50.5 105.9h1.2m-.6 0v3.1m-.6 0h1.2M52.9 104.3h1.2m-.6 0v2.8m-.6 0h1.2M55.2 102.1h1.2m-.6 0v2.9m-.6 0h1.2M57.5 101.4h1.2m-.6 0v2.8m-.6 0h1.2M59.8 100.3h1.2m-.6 0v3.2m-.6 0h1.2M62.1 100.3h1.2m-.6 0v2.6m-.6 0h1.2M64.4 99.9h1.2m-.6 0v3.0m-.6 0h1.2M66.7 100.1h1.2m-.6 0v2.9m-.6 0h1.2M69.0 99.9h1.2m-.6 0v3.1m-.6 0h1.2M71.3 99.5h1.2m-.6 0v2.5m-.6 0h1.2M73.6 99.6h1.2m-.6 0v2.9m-.6 0h1.2M75.9 99.4h1.2m-.6 0v2.7m-.6 0h1.2M78.2 99.5h1.2m-.6 0v2.4m-.6 0h1.2M80.5 100.1h1.2m-.6 0v2.2m-.6 0h1.2M82.9 99.2h1.2m-.6 0v2.8m-.6 0h1.2M85.2 100.2h1.2m-.6 0v2.1m-.6 0h1.2M87.5 99.6h1.2m-.6 0v3.1m-.6 0h1.2M89.8 99.5h1.2m-.6 0v2.1m-.6 0h1.2M92.1 100.2h1.2m-.6 0v2.0m-.6 0h1.2M94.4 100.1h1.2m-.6 0v2.1m-.6 0h1.2M96.7 100.2h1.2m-.6 0v3.2m-.6 0h1.2M99.0 100.2h1.2m-.6 0v2.4m-.6 0h1.2M101.3 100.7h1.2m-.6 0v2.1m-.6 0h1.2M103.6 101.2h1.2m-.6 0v2.0m-.6 0h1.2M105.9 101.4h1.2m-.6 0v2.0m-.6 0h1.2M108.2 101.7h1.2m-.6 0v2.9m-.6 0h1.2M110.6 101.5h1.2m-.6 0v2.8m-.6 0h1.2M112.9 101.8h1.2m-.6 0v2.9m-.6 0h1.2M115.2 101.4h1.2m-.6 0v2.9m-.6 0h1.2M117.5 102.5h1.2m-.6 0v2.0m-.6 0h1.2M119.8 101.9h1.2m-.6 0v2.7m-.6 0h1.2M122.1 102.8h1.2m-.6 0v2.4m-.6 0h1.2M124.4 102.8h1.2m-.6 0v3.0m-.6 0h1.2M126.7 102.9h1.2m-.6 0v3.0m-.6 0h1.2M129.0 103.1h1.2m-.6 0v3.1m-.6 0h1.2M131.3 104.1h1.2m-.6 0v2.0m-.6 0h1.2M133.6 103.8h1.2m-.6 0v3.1m-.6 0h1.2M135.9 103.8h1.2m-.6 0v3.1m-.6 0h1.2M138.2 104.2h1.2m-.6 0v3.2m-.6 0h1.2M140.6 104.7h1.2m-.6 0v2.1m-.6 0h1.2M142.9 104.9h1.2m-.6 0v2.2m-.6 0h1.2M145.2 105.0h1.2m-.6 0v2.1m-.6 0h1.2M147.5 105.4h1.2m-.6 0v2.0m-.6 0h1.2M149.8 105.1h1.2m-.6 0v3.1m-.6 0h1.2M152.1 105.4h1.2m-.6 0v3.0m-.6 0h1.2" stroke="#c4c4c4" stroke-width="0.4" fill="none"/>
<defs><path id="c8" d="M38.5 114.9l1.1 1.2 1.2 .8 1.1 .9 1.2 .6 1.1 .3 1.2 .4 1.1-3.6 1.2-2.8 1.1-2.3 1.2-1.7 1.1-1.2 1.2-1.2 1.2-.6 1.1-1.3 1.2-.8 1.1-.6 1.2-.2 1.1-.3 1.2-.6 1.1 0 1.2-.3 1.1-.1 1.2-.1 1.1-.3 1.2 .4 1.2-.1 1.1 0 1.2 0 1.1-.7 1.2-.1 1.1 .5 1.2-.2 1.1-.2 1.2 .1 1.1-.1 1.2 .7 1.1-.2 1.2-.3 1.2-.3 1.1 .4 1.2 .2 1.1-.1 1.2 .1 1.1 0 1.2-.6 1.1 .7 1.2-.1 1.1-.5 1.2 .4 1.2 .4 1.1 .3 1.2-.1 1.1-.3 1.2 .4 1.1-.1 1.2 .5 1.1 0 1.2 .3 1.1-.1 1.2-.1 1.1 .8 1.2-.2 1.2 0 1.1 .3 1.2 .1 1.1-.2 1.2-.3 1.1 .5 1.2 .2 1.1 .6 1.2-.8 1.1 .6 1.2 .2 1.1 .4 1.2-.2 1.2 .4 1.1-.2 1.2 0 1.1 .2 1.2 0 1.1 .4 1.2-.5 1.1 .7 1.2 .4 1.1-.3 1.2 .3 1.1 .1 1.2 0 1.2-.1 1.1 .5 1.2-.2 1.1-.3 1.2 .3 1.1 .4 1.2 0 1.1 .2 1.2 .1 1.1-.1 1.2 .3 1.2 .7"/></defs>
<use href="#c1" stroke="#2b8cf0" stroke-width="1.4" fill="none" stroke-linejoin="round"/>
<use href="#c2" stroke="#d62020" stroke-width="1.4" fill="none" stroke-linejoin="round"/>
<use href="#c3" stroke="#2aa84a" stroke-width="1.4" fill="none" stroke-linejoin="round"/>
<use href="#c4" stroke="#8a2be8" stroke-width="1.4" fill="none" stroke-linejoin="round"/>
<use href="#c5" stroke="#18a4c4" stroke-width="1.4" fill="none" stroke-linejoin="round"/>
<use href="#c6" stroke="#8fe0a8" stroke-width="1.4" fill="none" stroke-linejoin="round"/>
<use href="#c7" stroke="#f5881f" stroke-width="1.4" fill="none" stroke-linejoin="round"/>
<use href="#c8" stroke="#eea0b8" stroke-width="1.4" fill="none" stroke-linejoin="round"/>
<line x1="38.45" y1="42.90" x2="38.45" y2="151.85" stroke="#444" stroke-width="0.7"/>
<line x1="38.10" y1="151.50" x2="154.20" y2="151.50" stroke="#444" stroke-width="0.7"/>
<line x1="35.05" y1="151.50" x2="38.45" y2="151.50" stroke="#444" stroke-width="0.6"/>
<line x1="35.85" y1="140.64" x2="38.45" y2="140.64" stroke="#444" stroke-width="0.6"/>
<line x1="35.05" y1="129.78" x2="38.45" y2="129.78" stroke="#444" stroke-width="0.6"/>
<line x1="35.85" y1="118.92" x2="38.45" y2="118.92" stroke="#444" stroke-width="0.6"/>
<line x1="35.05" y1="108.06" x2="38.45" y2="108.06" stroke="#444" stroke-width="0.6"/>
<line x1="35.85" y1="97.20" x2="38.45" y2="97.20" stroke="#444" stroke-width="0.6"/>
<line x1="35.05" y1="86.34" x2="38.45" y2="86.34" stroke="#444" stroke-width="0.6"/>
<line x1="35.85" y1="75.48" x2="38.45" y2="75.48" stroke="#444" stroke-width="0.6"/>
<line x1="35.05" y1="64.62" x2="38.45" y2="64.62" stroke="#444" stroke-width="0.6"/>
<line x1="35.85" y1="53.76" x2="38.45" y2="53.76" stroke="#444" stroke-width="0.6"/>
<line x1="35.05" y1="42.90" x2="38.45" y2="42.90" stroke="#444" stroke-width="0.6"/>
<line x1="38.45" y1="151.50" x2="38.45" y2="154.90" stroke="#444" stroke-width="0.6"/>
<line x1="44.22" y1="151.50" x2="44.22" y2="154.10" stroke="#444" stroke-width="0.6"/>
<line x1="49.99" y1="151.50" x2="49.99" y2="154.10" stroke="#444" stroke-width="0.6"/>
<line x1="55.76" y1="151.50" x2="55.76" y2="154.10" stroke="#444" stroke-width="0.6"/>
<line x1="61.53" y1="151.50" x2="61.53" y2="154.10" stroke="#444" stroke-width="0.6"/>
<line x1="67.30" y1="151.50" x2="67.30" y2="154.90" stroke="#444" stroke-width="0.6"/>
<line x1="73.07" y1="151.50" x2="73.07" y2="154.10" stroke="#444" stroke-width="0.6"/>
<line x1="78.84" y1="151.50" x2="78.84" y2="154.10" stroke="#444" stroke-width="0.6"/>
<line x1="84.61" y1="151.50" x2="84.61" y2="154.10" stroke="#444" stroke-width="0.6"/>
<line x1="90.38" y1="151.50" x2="90.38" y2="154.10" stroke="#444" stroke-width="0.6"/>
<line x1="96.15" y1="151.50" x2="96.15" y2="154.90" stroke="#444" stroke-width="0.6"/>
<line x1="101.92" y1="151.50" x2="101.92" y2="154.10" stroke="#444" stroke-width="0.6"/>
<line x1="107.69" y1="151.50" x2="107.69" y2="154.10" stroke="#444" stroke-width="0.6"/>
<line x1="113.46" y1="151.50" x2="113.46" y2="154.10" stroke="#444" stroke-width="0.6"/>
<line x1="119.23" y1="151.50" x2="119.23" y2="154.10" stroke="#444" stroke-width="0.6"/>
<line x1="125.00" y1="151.50" x2="125.00" y2="154.90" stroke="#444" stroke-width="0.6"/>
<line x1="130.77" y1="151.50" x2="130.77" y2="154.10" stroke="#444" stroke-width="0.6"/>
<line x1="136.54" y1="151.50" x2="136.54" y2="154.10" stroke="#444" stroke-width="0.6"/>
<line x1="142.31" y1="151.50" x2="142.31" y2="154.10" stroke="#444" stroke-width="0.6"/>
<line x1="148.08" y1="151.50" x2="148.08" y2="154.10" stroke="#444" stroke-width="0.6"/>
<line x1="153.85" y1="151.50" x2="153.85" y2="154.90" stroke="#444" stroke-width="0.6"/>
<text transform="translate(29.95 154.40) scale(0.9 1)" font-size="8.4" text-anchor="end" fill="#222">0</text>
<text transform="translate(29.95 132.68) scale(0.9 1)" font-size="8.4" text-anchor="end" fill="#222">0.2</text>
<text transform="translate(29.95 110.96) scale(0.9 1)" font-size="8.4" text-anchor="end" fill="#222">0.4</text>
<text transform="translate(29.95 89.24) scale(0.9 1)" font-size="8.4" text-anchor="end" fill="#222">0.6</text>
<text transform="translate(29.95 67.52) scale(0.9 1)" font-size="8.4" text-anchor="end" fill="#222">0.8</text>
<text transform="translate(29.95 45.80) scale(0.9 1)" font-size="8.4" text-anchor="end" fill="#222">1.0</text>
<text transform="translate(38.45 165.40) scale(0.93 1)" font-size="8.4" text-anchor="middle" fill="#222">0</text>
<text transform="translate(67.30 165.40) scale(0.93 1)" font-size="8.4" text-anchor="middle" fill="#222">500</text>
<text transform="translate(96.15 165.40) scale(0.93 1)" font-size="8.4" text-anchor="middle" fill="#222">1,000</text>
<text transform="translate(125.00 165.40) scale(0.93 1)" font-size="8.4" text-anchor="middle" fill="#222">1,500</text>
<text transform="translate(153.85 165.40) scale(0.93 1)" font-size="8.4" text-anchor="middle" fill="#222">2,000</text>
<text transform="translate(96.15 178.40) scale(0.975 1)" font-size="9.2" text-anchor="middle" fill="#222">Time (s)</text>
<text transform="translate(11.85 97.20) rotate(-90)" font-size="9.2" text-anchor="middle" fill="#222">OxD</text>
<text transform="translate(74.50 58.70) scale(0.93 1)" font-size="9.2" text-anchor="start" fill="#222">+ <tspan font-style="italic">At</tspan>BAS1A</text>
<path d="M179.3 144.4h1.2m-.6 0v5.4m-.6 0h1.2M181.6 144.6h1.2m-.6 0v4.8m-.6 0h1.2M183.9 145.3h1.2m-.6 0v3.5m-.6 0h1.2M186.2 144.7h1.2m-.6 0v5.3m-.6 0h1.2M188.5 145.3h1.2m-.6 0v3.5m-.6 0h1.2M190.8 145.3h1.2m-.6 0v4.1m-.6 0h1.2M193.1 144.3h1.2m-.6 0v5.4m-.6 0h1.2M195.4 144.8h1.2m-.6 0v5.0m-.6 0h1.2M197.7 145.2h1.2m-.6 0v4.9m-.6 0h1.2M200.0 145.8h1.2m-.6 0v4.2m-.6 0h1.2M202.3 145.7h1.2m-.6 0v3.7m-.6 0h1.2M204.6 145.2h1.2m-.6 0v4.6m-.6 0h1.2M206.9 145.6h1.2m-.6 0v3.5m-.6 0h1.2M209.3 145.9h1.2m-.6 0v3.7m-.6 0h1.2M211.6 145.8h1.2m-.6 0v4.1m-.6 0h1.2M213.9 146.3h1.2m-.6 0v3.3m-.6 0h1.2M216.2 145.7h1.2m-.6 0v4.1m-.6 0h1.2M218.5 146.1h1.2m-.6 0v5.0m-.6 0h1.2M220.8 145.5h1.2m-.6 0v4.8m-.6 0h1.2M223.1 145.7h1.2m-.6 0v4.3m-.6 0h1.2M225.4 145.3h1.2m-.6 0v4.6m-.6 0h1.2M227.7 145.3h1.2m-.6 0v4.3m-.6 0h1.2M230.0 145.5h1.2m-.6 0v3.6m-.6 0h1.2M232.3 145.5h1.2m-.6 0v4.6m-.6 0h1.2M234.6 146.2h1.2m-.6 0v4.1m-.6 0h1.2M237.0 145.3h1.2m-.6 0v4.9m-.6 0h1.2M239.3 145.1h1.2m-.6 0v5.2m-.6 0h1.2M241.6 146.3h1.2m-.6 0v4.2m-.6 0h1.2M243.9 145.9h1.2m-.6 0v4.5m-.6 0h1.2M246.2 145.4h1.2m-.6 0v4.9m-.6 0h1.2M248.5 146.0h1.2m-.6 0v4.2m-.6 0h1.2M250.8 146.2h1.2m-.6 0v3.8m-.6 0h1.2M253.1 145.4h1.2m-.6 0v4.8m-.6 0h1.2M255.4 145.7h1.2m-.6 0v5.2m-.6 0h1.2M257.7 145.2h1.2m-.6 0v4.9m-.6 0h1.2M260.0 145.4h1.2m-.6 0v4.8m-.6 0h1.2M262.3 145.6h1.2m-.6 0v5.1m-.6 0h1.2M264.6 146.1h1.2m-.6 0v4.7m-.6 0h1.2M267.0 145.6h1.2m-.6 0v4.7m-.6 0h1.2M269.3 145.6h1.2m-.6 0v4.2m-.6 0h1.2M271.6 146.5h1.2m-.6 0v3.9m-.6 0h1.2M273.9 145.6h1.2m-.6 0v4.6m-.6 0h1.2M276.2 146.8h1.2m-.6 0v3.5m-.6 0h1.2M278.5 145.9h1.2m-.6 0v4.2m-.6 0h1.2M280.8 145.8h1.2m-.6 0v5.0m-.6 0h1.2M283.1 145.6h1.2m-.6 0v4.8m-.6 0h1.2M285.4 146.4h1.2m-.6 0v4.6m-.6 0h1.2M287.7 146.2h1.2m-.6 0v3.8m-.6 0h1.2M290.0 145.9h1.2m-.6 0v4.2m-.6 0h1.2M292.3 146.1h1.2m-.6 0v4.2m-.6 0h1.2" stroke="#c4c4c4" stroke-width="0.4" fill="none"/>
<defs><path id="c9" d="M178.7 147l1.2 .1 1.1-.2 1.2 .1 1.1-.1 1.2 .1 1.1 .1 1.2 .3 1.1 0 1.2-.4 1.1 .1 1.2 .3 1.1 .1 1.2-.5 1.2 .6 1.1-.3 1.2-.1 1.1 .4 1.2-.2 1.1 .5 1.2-.5 1.1 .2 1.2 .5 1.1-.6 1.2 .4 1.1-.5 1.2 .5 1.2-.1 1.1-.1 1.2 .2 1.1-.2 1.2 .2 1.1-.3 1.2 .2 1.1 0 1.2 .8 1.1-1.1 1.2 .3 1.2 .5 1.1-.5 1.2-.1 1.1-.1 1.2 .6 1.1-.7 1.2 .4 1.1-.6 1.2 .7 1.1-.3 1.2 .3 1.1 .2 1.2-.6 1.2 .1 1.1-.2 1.2 .2 1.1 .4 1.2 .3 1.1-.2 1.2 0 1.1 0 1.2-.4 1.1 .1 1.2 .2 1.1-.1 1.2 .1 1.2-.1 1.1-.2 1.2 0 1.1 .4 1.2 .3 1.1-.8 1.2 .3 1.1-.2 1.2 .7 1.1-.3 1.2-.1 1.1 .4 1.2-.3 1.2-.3 1.1-.1 1.2-.1 1.1 .7 1.2 .1 1.1-.5 1.2-.1 1.1 .2 1.2 .4 1.1-.6 1.2 .1 1.2 0 1.1 .3 1.2-.2 1.1-.1 1.2 .3 1.1 .4 1.2-.6 1.1 0 1.2 .1 1.1-.2 1.2 .4 1.1-.1 1.2 0"/></defs>
<path d="M179.3 145.0h1.2m-.6 0v3.8m-.6 0h1.2M181.6 144.7h1.2m-.6 0v4.9m-.6 0h1.2M183.9 144.9h1.2m-.6 0v4.0m-.6 0h1.2M186.2 145.3h1.2m-.6 0v3.6m-.6 0h1.2M188.5 145.3h1.2m-.6 0v5.2m-.6 0h1.2M190.8 144.3h1.2m-.6 0v5.0m-.6 0h1.2M193.1 145.1h1.2m-.6 0v3.6m-.6 0h1.2M195.4 144.3h1.2m-.6 0v5.2m-.6 0h1.2M197.7 144.6h1.2m-.6 0v4.6m-.6 0h1.2M200.0 145.2h1.2m-.6 0v5.0m-.6 0h1.2M202.3 145.3h1.2m-.6 0v4.7m-.6 0h1.2M204.6 144.5h1.2m-.6 0v5.2m-.6 0h1.2M206.9 145.3h1.2m-.6 0v5.0m-.6 0h1.2M209.3 144.6h1.2m-.6 0v5.1m-.6 0h1.2M211.6 145.8h1.2m-.6 0v3.7m-.6 0h1.2M213.9 144.3h1.2m-.6 0v4.8m-.6 0h1.2M216.2 145.2h1.2m-.6 0v4.4m-.6 0h1.2M218.5 144.9h1.2m-.6 0v4.9m-.6 0h1.2M220.8 144.9h1.2m-.6 0v4.2m-.6 0h1.2M223.1 145.1h1.2m-.6 0v5.2m-.6 0h1.2M225.4 145.2h1.2m-.6 0v4.5m-.6 0h1.2M227.7 145.4h1.2m-.6 0v3.8m-.6 0h1.2M230.0 145.2h1.2m-.6 0v3.8m-.6 0h1.2M232.3 145.5h1.2m-.6 0v3.6m-.6 0h1.2M234.6 145.4h1.2m-.6 0v4.3m-.6 0h1.2M237.0 145.4h1.2m-.6 0v3.4m-.6 0h1.2M239.3 145.1h1.2m-.6 0v4.3m-.6 0h1.2M241.6 146.0h1.2m-.6 0v3.6m-.6 0h1.2M243.9 145.2h1.2m-.6 0v4.3m-.6 0h1.2M246.2 145.5h1.2m-.6 0v4.3m-.6 0h1.2M248.5 145.0h1.2m-.6 0v4.4m-.6 0h1.2M250.8 145.1h1.2m-.6 0v5.1m-.6 0h1.2M253.1 146.0h1.2m-.6 0v3.3m-.6 0h1.2M255.4 144.8h1.2m-.6 0v5.1m-.6 0h1.2M257.7 145.3h1.2m-.6 0v4.3m-.6 0h1.2M260.0 145.4h1.2m-.6 0v4.5m-.6 0h1.2M262.3 145.3h1.2m-.6 0v4.7m-.6 0h1.2M264.6 144.6h1.2m-.6 0v5.1m-.6 0h1.2M267.0 145.6h1.2m-.6 0v4.1m-.6 0h1.2M269.3 145.6h1.2m-.6 0v4.2m-.6 0h1.2M271.6 145.3h1.2m-.6 0v5.3m-.6 0h1.2M273.9 146.0h1.2m-.6 0v3.4m-.6 0h1.2M276.2 144.8h1.2m-.6 0v4.6m-.6 0h1.2M278.5 144.8h1.2m-.6 0v4.6m-.6 0h1.2M280.8 145.6h1.2m-.6 0v3.3m-.6 0h1.2M283.1 145.0h1.2m-.6 0v4.6m-.6 0h1.2M285.4 145.3h1.2m-.6 0v4.7m-.6 0h1.2M287.7 144.4h1.2m-.6 0v5.3m-.6 0h1.2M290.0 145.8h1.2m-.6 0v4.0m-.6 0h1.2M292.3 144.9h1.2m-.6 0v5.4m-.6 0h1.2" stroke="#c4c4c4" stroke-width="0.4" fill="none"/>
<defs><path id="c10" d="M178.7 146.5l1.2 .4 1.1 .1 1.2 .2 1.1 .3 1.2-.6 1.1-.1 1.2 .3 1.1 .3 1.2 .5 1.1-.8 1.2-.3 1.1 .3 1.2-.2 1.2-.1 1.1 .1 1.2 .4 1.1-.4 1.2 .1 1.1 .6 1.2-.3 1.1 .3 1.2-.3 1.1-.2 1.2 .4 1.1 .3 1.2-.9 1.2 .3 1.1-.3 1.2 .7 1.1-.6 1.2-.3 1.1 .1 1.2 .6 1.1-.2 1.2 .2 1.1-.4 1.2 0 1.2 .3 1.1 .4 1.2-.6 1.1 .4 1.2-.3 1.1 .1 1.2-.4 1.1 .2 1.2 .4 1.1-.2 1.2-.4 1.1 .6 1.2-.2 1.2-.2 1.1 0 1.2 .2 1.1 .5 1.2 0 1.1-.4 1.2-.1 1.1-.5 1.2 .9 1.1-.5 1.2 .1 1.1 .6 1.2-.2 1.2-.3 1.1 .2 1.2-.1 1.1-.1 1.2 .3 1.1-.3 1.2 .3 1.1 0 1.2-.3 1.1 .3 1.2-.2 1.1-.4 1.2 .5 1.2 0 1.1-.2 1.2 .3 1.1-.4 1.2 .6 1.1-.5 1.2 .3 1.1 .1 1.2-.7 1.1 .7 1.2-.7 1.2 .4 1.1-.3 1.2 .7 1.1-.6 1.2 0 1.1 .4 1.2 0 1.1-.7 1.2 .6 1.1 .2 1.2 .1 1.1-.3 1.2 0"/></defs>
<path d="M179.3 144.3h1.2m-.6 0v4.9m-.6 0h1.2M181.6 145.1h1.2m-.6 0v3.7m-.6 0h1.2M183.9 145.8h1.2m-.6 0v3.4m-.6 0h1.2M186.2 144.2h1.2m-.6 0v4.9m-.6 0h1.2M188.5 144.4h1.2m-.6 0v4.8m-.6 0h1.2M190.8 144.5h1.2m-.6 0v5.1m-.6 0h1.2M193.1 144.2h1.2m-.6 0v4.8m-.6 0h1.2M195.4 145.0h1.2m-.6 0v3.4m-.6 0h1.2M197.7 144.7h1.2m-.6 0v4.6m-.6 0h1.2M200.0 144.7h1.2m-.6 0v4.8m-.6 0h1.2M202.3 144.7h1.2m-.6 0v4.3m-.6 0h1.2M204.6 144.2h1.2m-.6 0v5.3m-.6 0h1.2M206.9 145.3h1.2m-.6 0v3.8m-.6 0h1.2M209.3 143.9h1.2m-.6 0v5.4m-.6 0h1.2M211.6 144.0h1.2m-.6 0v4.8m-.6 0h1.2M213.9 145.5h1.2m-.6 0v3.3m-.6 0h1.2M216.2 145.0h1.2m-.6 0v3.3m-.6 0h1.2M218.5 144.7h1.2m-.6 0v4.7m-.6 0h1.2M220.8 144.2h1.2m-.6 0v5.0m-.6 0h1.2M223.1 145.1h1.2m-.6 0v3.4m-.6 0h1.2M225.4 145.0h1.2m-.6 0v3.9m-.6 0h1.2M227.7 144.8h1.2m-.6 0v4.8m-.6 0h1.2M230.0 145.2h1.2m-.6 0v3.6m-.6 0h1.2M232.3 144.5h1.2m-.6 0v5.1m-.6 0h1.2M234.6 145.1h1.2m-.6 0v4.3m-.6 0h1.2M237.0 145.4h1.2m-.6 0v3.4m-.6 0h1.2M239.3 145.1h1.2m-.6 0v4.1m-.6 0h1.2M241.6 144.8h1.2m-.6 0v4.5m-.6 0h1.2M243.9 144.7h1.2m-.6 0v4.2m-.6 0h1.2M246.2 145.2h1.2m-.6 0v4.7m-.6 0h1.2M248.5 145.4h1.2m-.6 0v3.6m-.6 0h1.2M250.8 144.9h1.2m-.6 0v5.0m-.6 0h1.2M253.1 145.0h1.2m-.6 0v4.0m-.6 0h1.2M255.4 144.4h1.2m-.6 0v4.7m-.6 0h1.2M257.7 144.4h1.2m-.6 0v4.6m-.6 0h1.2M260.0 145.4h1.2m-.6 0v4.2m-.6 0h1.2M262.3 144.8h1.2m-.6 0v4.1m-.6 0h1.2M264.6 144.5h1.2m-.6 0v5.0m-.6 0h1.2M267.0 144.7h1.2m-.6 0v5.3m-.6 0h1.2M269.3 144.7h1.2m-.6 0v5.0m-.6 0h1.2M271.6 144.8h1.2m-.6 0v4.5m-.6 0h1.2M273.9 145.5h1.2m-.6 0v3.9m-.6 0h1.2M276.2 145.4h1.2m-.6 0v3.4m-.6 0h1.2M278.5 144.3h1.2m-.6 0v5.4m-.6 0h1.2M280.8 144.8h1.2m-.6 0v4.8m-.6 0h1.2M283.1 144.5h1.2m-.6 0v5.1m-.6 0h1.2M285.4 145.1h1.2m-.6 0v4.0m-.6 0h1.2M287.7 144.4h1.2m-.6 0v4.6m-.6 0h1.2M290.0 144.2h1.2m-.6 0v5.4m-.6 0h1.2M292.3 144.6h1.2m-.6 0v5.1m-.6 0h1.2" stroke="#c4c4c4" stroke-width="0.4" fill="none"/>
<defs><path id="c11" d="M178.7 146.9l1.2-.2 1.1 0 1.2 .2 1.1 .2 1.2 .3 1.1 0 1.2-.8 1.1 .7 1.2-.5 1.1 .6 1.2-.4 1.1-.1 1.2-.3 1.2 .6 1.1-.5 1.2 0 1.1 .3 1.2-.3 1.1 .4 1.2-.1 1.1-.2 1.2 .7 1.1-.7 1.2 .3 1.1 .1 1.2-.3 1.2-.3 1.1 .3 1.2-.5 1.1 .7 1.2 0 1.1-.7 1.2 .3 1.1-.2 1.2 .5 1.1-.4 1.2 .1 1.2-.1 1.1 .2 1.2-.3 1.1 .5 1.2 .1 1.1 .1 1.2-.7 1.1 .5 1.2 .1 1.1 0 1.2-.1 1.1 .2 1.2-.3 1.2 .1 1.1 0 1.2 .1 1.1-.2 1.2 .1 1.1-.1 1.2-.1 1.1 0 1.2 .7 1.1-.4 1.2 0 1.1-.4 1.2 .7 1.2-.3 1.1-.1 1.2 .1 1.1-.4 1.2 .4 1.1-.4 1.2 .7 1.1 .1 1.2-.8 1.1 .2 1.2 0 1.1 .1 1.2-.1 1.2 .5 1.1-.6 1.2 .4 1.1-.4 1.2 .2 1.1 .6 1.2-.2 1.1-.6 1.2 .3 1.1 .1 1.2-.2 1.2 .2 1.1 0 1.2-.1 1.1 0 1.2-.4 1.1 .4 1.2-.5 1.1 0 1.2 .1 1.1 .2 1.2 .2 1.1 0 1.2 .1"/></defs>
<path d="M179.3 145.0h1.2m-.6 0v3.8m-.6 0h1.2M181.6 145.2h1.2m-.6 0v4.5m-.6 0h1.2M183.9 145.0h1.2m-.6 0v4.6m-.6 0h1.2M186.2 144.9h1.2m-.6 0v5.3m-.6 0h1.2M188.5 144.6h1.2m-.6 0v4.7m-.6 0h1.2M190.8 144.7h1.2m-.6 0v4.1m-.6 0h1.2M193.1 145.1h1.2m-.6 0v4.2m-.6 0h1.2M195.4 144.8h1.2m-.6 0v3.6m-.6 0h1.2M197.7 143.7h1.2m-.6 0v5.4m-.6 0h1.2M200.0 143.9h1.2m-.6 0v5.4m-.6 0h1.2M202.3 145.1h1.2m-.6 0v3.7m-.6 0h1.2M204.6 144.8h1.2m-.6 0v3.3m-.6 0h1.2M206.9 145.1h1.2m-.6 0v3.8m-.6 0h1.2M209.3 144.8h1.2m-.6 0v4.0m-.6 0h1.2M211.6 144.6h1.2m-.6 0v5.2m-.6 0h1.2M213.9 144.0h1.2m-.6 0v5.2m-.6 0h1.2M216.2 144.1h1.2m-.6 0v5.1m-.6 0h1.2M218.5 145.4h1.2m-.6 0v3.4m-.6 0h1.2M220.8 144.5h1.2m-.6 0v5.0m-.6 0h1.2M223.1 144.4h1.2m-.6 0v4.8m-.6 0h1.2M225.4 144.4h1.2m-.6 0v4.7m-.6 0h1.2M227.7 143.7h1.2m-.6 0v5.4m-.6 0h1.2M230.0 145.1h1.2m-.6 0v3.4m-.6 0h1.2M232.3 145.6h1.2m-.6 0v3.6m-.6 0h1.2M234.6 144.2h1.2m-.6 0v4.9m-.6 0h1.2M237.0 144.6h1.2m-.6 0v5.3m-.6 0h1.2M239.3 144.5h1.2m-.6 0v4.7m-.6 0h1.2M241.6 144.8h1.2m-.6 0v3.9m-.6 0h1.2M243.9 144.9h1.2m-.6 0v4.5m-.6 0h1.2M246.2 144.7h1.2m-.6 0v4.9m-.6 0h1.2M248.5 145.1h1.2m-.6 0v3.5m-.6 0h1.2M250.8 144.7h1.2m-.6 0v4.0m-.6 0h1.2M253.1 144.7h1.2m-.6 0v3.8m-.6 0h1.2M255.4 145.2h1.2m-.6 0v3.5m-.6 0h1.2M257.7 145.0h1.2m-.6 0v4.3m-.6 0h1.2M260.0 145.2h1.2m-.6 0v3.6m-.6 0h1.2M262.3 144.3h1.2m-.6 0v3.8m-.6 0h1.2M264.6 145.0h1.2m-.6 0v3.6m-.6 0h1.2M267.0 144.9h1.2m-.6 0v4.7m-.6 0h1.2M269.3 145.3h1.2m-.6 0v3.3m-.6 0h1.2M271.6 144.2h1.2m-.6 0v4.8m-.6 0h1.2M273.9 144.9h1.2m-.6 0v3.7m-.6 0h1.2M276.2 145.4h1.2m-.6 0v3.3m-.6 0h1.2M278.5 144.4h1.2m-.6 0v5.3m-.6 0h1.2M280.8 145.1h1.2m-.6 0v3.7m-.6 0h1.2M283.1 145.0h1.2m-.6 0v5.3m-.6 0h1.2M285.4 145.2h1.2m-.6 0v5.1m-.6 0h1.2M287.7 144.4h1.2m-.6 0v5.2m-.6 0h1.2M290.0 145.6h1.2m-.6 0v3.6m-.6 0h1.2M292.3 144.5h1.2m-.6 0v4.2m-.6 0h1.2" stroke="#c4c4c4" stroke-width="0.4" fill="none"/>
<defs><path id="c12" d="M178.7 146.8l1.2 .1 1.1 0 1.2 .5 1.1-.7 1.2 .7 1.1-.5 1.2 .7 1.1-.2 1.2-.5 1.1 .3 1.2-.5 1.1 .2 1.2 .3 1.2-.5 1.1-.1 1.2 .8 1.1-1.1 1.2 .4 1.1-.1 1.2 .7 1.1-.3 1.2-.1 1.1-.4 1.2 .7 1.1-.2 1.2 .3 1.2-.4 1.1-.2 1.2 .5 1.1-.3 1.2-.2 1.1-.3 1.2 .2 1.1 .3 1.2 .2 1.1 0 1.2-.1 1.2-.2 1.1 0 1.2-.4 1.1 .3 1.2 .4 1.1-.7 1.2 .2 1.1 .2 1.2 .2 1.1 .4 1.2-.3 1.1-.5 1.2 .5 1.2 .1 1.1-.4 1.2 0 1.1-.1 1.2 0 1.1-.2 1.2 .6 1.1-.5 1.2 .6 1.1-.5 1.2 .2 1.1 0 1.2-.2 1.2 .3 1.1-.3 1.2 0 1.1 .2 1.2 .2 1.1 .1 1.2-.1 1.1-.1 1.2 0 1.1-.8 1.2 .6 1.1 0 1.2 .5 1.2-.1 1.1-.1 1.2-.1 1.1 .3 1.2-.7 1.1 .6 1.2-.4 1.1 .9 1.2-.6 1.1-.1 1.2 0 1.2-.1 1.1 .1 1.2 .1 1.1 .5 1.2-.3 1.1 .5 1.2-.8 1.1 0 1.2 .2 1.1 .2 1.2-.1 1.1-.7 1.2 .1"/></defs>
<path d="M179.3 143.8h1.2m-.6 0v5.0m-.6 0h1.2M181.6 144.6h1.2m-.6 0v5.1m-.6 0h1.2M183.9 145.0h1.2m-.6 0v4.0m-.6 0h1.2M186.2 144.9h1.2m-.6 0v4.8m-.6 0h1.2M188.5 144.9h1.2m-.6 0v4.1m-.6 0h1.2M190.8 144.2h1.2m-.6 0v4.9m-.6 0h1.2M193.1 145.3h1.2m-.6 0v3.4m-.6 0h1.2M195.4 143.6h1.2m-.6 0v5.2m-.6 0h1.2M197.7 143.6h1.2m-.6 0v5.3m-.6 0h1.2M200.0 144.1h1.2m-.6 0v4.3m-.6 0h1.2M202.3 144.5h1.2m-.6 0v4.4m-.6 0h1.2M204.6 143.9h1.2m-.6 0v4.4m-.6 0h1.2M206.9 143.7h1.2m-.6 0v4.4m-.6 0h1.2M209.3 144.3h1.2m-.6 0v3.3m-.6 0h1.2M211.6 143.5h1.2m-.6 0v5.4m-.6 0h1.2M213.9 144.7h1.2m-.6 0v3.7m-.6 0h1.2M216.2 144.6h1.2m-.6 0v3.7m-.6 0h1.2M218.5 144.5h1.2m-.6 0v3.5m-.6 0h1.2M220.8 143.9h1.2m-.6 0v3.8m-.6 0h1.2M223.1 144.0h1.2m-.6 0v5.0m-.6 0h1.2M225.4 144.7h1.2m-.6 0v3.3m-.6 0h1.2M227.7 144.8h1.2m-.6 0v3.5m-.6 0h1.2M230.0 144.4h1.2m-.6 0v4.8m-.6 0h1.2M232.3 144.7h1.2m-.6 0v3.7m-.6 0h1.2M234.6 145.2h1.2m-.6 0v3.3m-.6 0h1.2M237.0 144.3h1.2m-.6 0v4.6m-.6 0h1.2M239.3 144.7h1.2m-.6 0v4.5m-.6 0h1.2M241.6 144.2h1.2m-.6 0v4.4m-.6 0h1.2M243.9 144.4h1.2m-.6 0v4.8m-.6 0h1.2M246.2 145.0h1.2m-.6 0v3.5m-.6 0h1.2M248.5 143.7h1.2m-.6 0v5.1m-.6 0h1.2M250.8 144.5h1.2m-.6 0v4.8m-.6 0h1.2M253.1 145.0h1.2m-.6 0v3.4m-.6 0h1.2M255.4 145.2h1.2m-.6 0v3.5m-.6 0h1.2M257.7 144.5h1.2m-.6 0v4.3m-.6 0h1.2M260.0 144.9h1.2m-.6 0v4.3m-.6 0h1.2M262.3 145.2h1.2m-.6 0v3.9m-.6 0h1.2M264.6 145.0h1.2m-.6 0v3.5m-.6 0h1.2M267.0 145.1h1.2m-.6 0v4.1m-.6 0h1.2M269.3 145.2h1.2m-.6 0v3.6m-.6 0h1.2M271.6 144.9h1.2m-.6 0v4.5m-.6 0h1.2M273.9 144.9h1.2m-.6 0v5.1m-.6 0h1.2M276.2 145.2h1.2m-.6 0v3.6m-.6 0h1.2M278.5 144.9h1.2m-.6 0v4.5m-.6 0h1.2M280.8 144.7h1.2m-.6 0v4.9m-.6 0h1.2M283.1 144.8h1.2m-.6 0v3.6m-.6 0h1.2M285.4 144.4h1.2m-.6 0v5.1m-.6 0h1.2M287.7 144.2h1.2m-.6 0v5.3m-.6 0h1.2M290.0 145.1h1.2m-.6 0v4.1m-.6 0h1.2M292.3 144.9h1.2m-.6 0v4.2m-.6 0h1.2" stroke="#c4c4c4" stroke-width="0.4" fill="none"/>
<defs><path id="c13" d="M178.7 146.1l1.2 .2 1.1 .3 1.2 .6 1.1 0 1.2-.2 1.1 0 1.2 .3 1.1-.2 1.2-.1 1.1-.2 1.2-.1 1.1 .1 1.2 .2 1.2-.7 1.1-.2 1.2 .5 1.1-.4 1.2 .2 1.1-.1 1.2 0 1.1 .4 1.2-.4 1.1-.1 1.2 .5 1.1-.8 1.2-.1 1.2 .1 1.1 0 1.2 .3 1.1 .3 1.2 .1 1.1 0 1.2-.2 1.1 0 1.2-.1 1.1 .7 1.2-1.2 1.2 .1 1.1 .6 1.2-.2 1.1 .1 1.2 0 1.1 .2 1.2 0 1.1 .2 1.2-.3 1.1 .1 1.2-.1 1.1 .3 1.2-.2 1.2 0 1.1-.2 1.2 .5 1.1-.4 1.2-.1 1.1 .1 1.2 .3 1.1 0 1.2-.1 1.1-.2 1.2-.2 1.1 .5 1.2 .1 1.2-.3 1.1 .1 1.2 .3 1.1 0 1.2-.2 1.1-.2 1.2 .5 1.1 0 1.2-.4 1.1 .5 1.2-.4 1.1 0 1.2 .1 1.2 .3 1.1-.3 1.2 .1 1.1-.2 1.2 .4 1.1-.5 1.2 .7 1.1-.4 1.2 0 1.1-.3 1.2 .5 1.2-.3 1.1 .3 1.2-.4 1.1-.2 1.2 .6 1.1-.2 1.2 .3 1.1-.5 1.2 0 1.1 .3 1.2 .3 1.1-.4 1.2-.2"/></defs>
<path d="M179.3 144.8h1.2m-.6 0v3.5m-.6 0h1.2M181.6 145.5h1.2m-.6 0v3.7m-.6 0h1.2M183.9 144.4h1.2m-.6 0v5.3m-.6 0h1.2M186.2 144.6h1.2m-.6 0v4.9m-.6 0h1.2M188.5 145.8h1.2m-.6 0v3.6m-.6 0h1.2M190.8 144.6h1.2m-.6 0v4.0m-.6 0h1.2M193.1 144.6h1.2m-.6 0v4.0m-.6 0h1.2M195.4 144.1h1.2m-.6 0v4.7m-.6 0h1.2M197.7 143.8h1.2m-.6 0v4.6m-.6 0h1.2M200.0 144.2h1.2m-.6 0v5.1m-.6 0h1.2M202.3 144.4h1.2m-.6 0v5.0m-.6 0h1.2M204.6 144.6h1.2m-.6 0v4.4m-.6 0h1.2M206.9 144.6h1.2m-.6 0v4.9m-.6 0h1.2M209.3 144.2h1.2m-.6 0v4.9m-.6 0h1.2M211.6 143.8h1.2m-.6 0v4.9m-.6 0h1.2M213.9 144.3h1.2m-.6 0v4.3m-.6 0h1.2M216.2 144.1h1.2m-.6 0v5.0m-.6 0h1.2M218.5 144.3h1.2m-.6 0v4.8m-.6 0h1.2M220.8 144.3h1.2m-.6 0v5.2m-.6 0h1.2M223.1 145.1h1.2m-.6 0v3.5m-.6 0h1.2M225.4 144.8h1.2m-.6 0v5.1m-.6 0h1.2M227.7 145.3h1.2m-.6 0v3.3m-.6 0h1.2M230.0 144.7h1.2m-.6 0v4.9m-.6 0h1.2M232.3 144.4h1.2m-.6 0v4.5m-.6 0h1.2M234.6 144.8h1.2m-.6 0v4.3m-.6 0h1.2M237.0 143.9h1.2m-.6 0v5.3m-.6 0h1.2M239.3 144.3h1.2m-.6 0v4.5m-.6 0h1.2M241.6 144.8h1.2m-.6 0v4.2m-.6 0h1.2M243.9 144.6h1.2m-.6 0v5.0m-.6 0h1.2M246.2 144.2h1.2m-.6 0v5.2m-.6 0h1.2M248.5 144.7h1.2m-.6 0v4.6m-.6 0h1.2M250.8 144.9h1.2m-.6 0v4.1m-.6 0h1.2M253.1 144.5h1.2m-.6 0v4.2m-.6 0h1.2M255.4 144.6h1.2m-.6 0v4.3m-.6 0h1.2M257.7 144.9h1.2m-.6 0v4.8m-.6 0h1.2M260.0 144.9h1.2m-.6 0v3.9m-.6 0h1.2M262.3 145.3h1.2m-.6 0v4.1m-.6 0h1.2M264.6 145.0h1.2m-.6 0v4.5m-.6 0h1.2M267.0 145.1h1.2m-.6 0v4.1m-.6 0h1.2M269.3 145.0h1.2m-.6 0v4.0m-.6 0h1.2M271.6 144.8h1.2m-.6 0v5.0m-.6 0h1.2M273.9 144.3h1.2m-.6 0v5.1m-.6 0h1.2M276.2 144.8h1.2m-.6 0v4.3m-.6 0h1.2M278.5 145.3h1.2m-.6 0v4.2m-.6 0h1.2M280.8 145.4h1.2m-.6 0v3.7m-.6 0h1.2M283.1 145.3h1.2m-.6 0v3.9m-.6 0h1.2M285.4 145.3h1.2m-.6 0v3.6m-.6 0h1.2M287.7 144.7h1.2m-.6 0v4.5m-.6 0h1.2M290.0 144.6h1.2m-.6 0v4.5m-.6 0h1.2M292.3 145.8h1.2m-.6 0v3.4m-.6 0h1.2" stroke="#c4c4c4" stroke-width="0.4" fill="none"/>
<defs><path id="c14" d="M178.7 146.3l1.2 .2 1.1 .6 1.2 .3 1.1-.8 1.2 .4 1.1 .4 1.2-.4 1.1-.3 1.2 .9 1.1-1 1.2 0 1.1 .8 1.2-.8 1.2 .6 1.1-.8 1.2 .2 1.1-.5 1.2 .8 1.1-.2 1.2-.3 1.1 .5 1.2 0 1.1-.1 1.2-.1 1.1 .3 1.2-.4 1.2 0 1.1 .1 1.2-.4 1.1 .5 1.2-.4 1.1 .5 1.2-.3 1.1 .7 1.2-.6 1.1 .1 1.2 .1 1.2 .1 1.1-.1 1.2 .1 1.1 .4 1.2-.4 1.1 0 1.2 0 1.1 .1 1.2-.2 1.1-.3 1.2 .3 1.1 .1 1.2-.5 1.2 .1 1.1 0 1.2 0 1.1 .4 1.2-.1 1.1-.3 1.2 .5 1.1-.2 1.2-.1 1.1 0 1.2 .2 1.1-.3 1.2 .3 1.2-.2 1.1-.1 1.2 .1 1.1 0 1.2 .5 1.1 0 1.2-.1 1.1-.3 1.2-.3 1.1 .7 1.2-.4 1.1 .3 1.2 0 1.2-.1 1.1-.3 1.2 .2 1.1-.3 1.2 .6 1.1-.5 1.2 0 1.1 .2 1.2-.1 1.1 .3 1.2 .2 1.2-.2 1.1 .1 1.2-1 1.1 .9 1.2-.5 1.1 .4 1.2-.1 1.1-.1 1.2 .4 1.1-.4 1.2 .1 1.1 .6 1.2-.6"/></defs>
<path d="M179.3 143.4h1.2m-.6 0v6.8m-.6 0h1.2M181.6 144.3h1.2m-.6 0v6.0m-.6 0h1.2M183.9 143.9h1.2m-.6 0v6.4m-.6 0h1.2M186.2 143.8h1.2m-.6 0v6.1m-.6 0h1.2M188.5 144.1h1.2m-.6 0v5.1m-.6 0h1.2M190.8 142.0h1.2m-.6 0v7.8m-.6 0h1.2M193.1 141.5h1.2m-.6 0v6.8m-.6 0h1.2M195.4 139.9h1.2m-.6 0v8.0m-.6 0h1.2M197.7 139.7h1.2m-.6 0v6.3m-.6 0h1.2M200.0 139.1h1.2m-.6 0v6.9m-.6 0h1.2M202.3 139.2h1.2m-.6 0v5.7m-.6 0h1.2M204.6 139.4h1.2m-.6 0v5.0m-.6 0h1.2M206.9 138.9h1.2m-.6 0v7.9m-.6 0h1.2M209.3 138.7h1.2m-.6 0v7.7m-.6 0h1.2M211.6 139.7h1.2m-.6 0v5.9m-.6 0h1.2M213.9 139.3h1.2m-.6 0v7.8m-.6 0h1.2M216.2 139.3h1.2m-.6 0v7.5m-.6 0h1.2M218.5 140.0h1.2m-.6 0v5.9m-.6 0h1.2M220.8 139.8h1.2m-.6 0v6.9m-.6 0h1.2M223.1 139.4h1.2m-.6 0v8.0m-.6 0h1.2M225.4 139.9h1.2m-.6 0v6.5m-.6 0h1.2M227.7 139.5h1.2m-.6 0v8.0m-.6 0h1.2M230.0 140.7h1.2m-.6 0v5.7m-.6 0h1.2M232.3 140.7h1.2m-.6 0v6.2m-.6 0h1.2M234.6 140.7h1.2m-.6 0v7.2m-.6 0h1.2M237.0 141.0h1.2m-.6 0v5.6m-.6 0h1.2M239.3 140.6h1.2m-.6 0v5.9m-.6 0h1.2M241.6 139.9h1.2m-.6 0v7.7m-.6 0h1.2M243.9 140.4h1.2m-.6 0v6.5m-.6 0h1.2M246.2 140.4h1.2m-.6 0v7.5m-.6 0h1.2M248.5 140.4h1.2m-.6 0v5.7m-.6 0h1.2M250.8 141.3h1.2m-.6 0v5.5m-.6 0h1.2M253.1 140.7h1.2m-.6 0v6.1m-.6 0h1.2M255.4 140.9h1.2m-.6 0v5.5m-.6 0h1.2M257.7 140.0h1.2m-.6 0v8.1m-.6 0h1.2M260.0 141.4h1.2m-.6 0v5.8m-.6 0h1.2M262.3 140.9h1.2m-.6 0v6.7m-.6 0h1.2M264.6 141.5h1.2m-.6 0v5.3m-.6 0h1.2M267.0 140.4h1.2m-.6 0v6.6m-.6 0h1.2M269.3 141.2h1.2m-.6 0v6.1m-.6 0h1.2M271.6 141.2h1.2m-.6 0v6.2m-.6 0h1.2M273.9 141.5h1.2m-.6 0v5.1m-.6 0h1.2M276.2 141.7h1.2m-.6 0v5.3m-.6 0h1.2M278.5 140.3h1.2m-.6 0v7.6m-.6 0h1.2M280.8 141.3h1.2m-.6 0v6.0m-.6 0h1.2M283.1 141.7h1.2m-.6 0v5.7m-.6 0h1.2M285.4 141.5h1.2m-.6 0v5.5m-.6 0h1.2M287.7 141.6h1.2m-.6 0v5.8m-.6 0h1.2M290.0 141.7h1.2m-.6 0v5.7m-.6 0h1.2M292.3 141.6h1.2m-.6 0v5.0m-.6 0h1.2" stroke="#c4c4c4" stroke-width="0.4" fill="none"/>
<defs><path id="c15" d="M178.7 146.4l1.2 .4 1.1-.3 1.2 .8 1.1-.5 1.2 .3 1.1 .6 1.2-.9 1.1 0 1.2-.2 1.1-.1 1.2-.6 1.1-1.1 1.2 .1 1.2 .2 1.1-1.2 1.2-.4 1.1-.7 1.2-.2 1.1 0 1.2-.1 1.1-.4 1.2 .7 1.1-.9 1.2 .8 1.1 .2 1.2-.5 1.2 .2 1.1 .5 1.2-.5 1.1 .8 1.2-.2 1.1-.5 1.2 .4 1.1 .3 1.2-.4 1.1-.1 1.2 .3 1.2 .5 1.1-.3 1.2-.2 1.1 0 1.2-.3 1.1 .6 1.2 .1 1.1-.1 1.2-.3 1.1 .6 1.2-.6 1.1 1.2 1.2-1 1.2 .5 1.1-.3 1.2-.1 1.1 .6 1.2-.3 1.1-.1 1.2-.1 1.1 .5 1.2 0 1.1 .3 1.2-1.2 1.1 .8 1.2 0 1.2 .3 1.1-.6 1.2 .4 1.1-.5 1.2 .2 1.1 .2 1.2-.2 1.1 .5 1.2-.2 1.1 .1 1.2 .2 1.1-.3 1.2 0 1.2-.4 1.1 1.3 1.2-.7 1.1 .1 1.2-.1 1.1-.2 1.2 0 1.1 .1 1.2 .1 1.1-.2 1.2 0 1.2 .6 1.1-.4 1.2 .3 1.1 0 1.2-.4 1.1 0 1.2 0 1.1 .3 1.2-.2 1.1 .2 1.2-.3 1.1-.1 1.2-.3"/></defs>
<path d="M179.3 143.9h1.2m-.6 0v5.8m-.6 0h1.2M181.6 144.1h1.2m-.6 0v5.0m-.6 0h1.2M183.9 143.1h1.2m-.6 0v7.7m-.6 0h1.2M186.2 143.5h1.2m-.6 0v6.9m-.6 0h1.2M188.5 143.4h1.2m-.6 0v5.0m-.6 0h1.2M190.8 139.9h1.2m-.6 0v5.7m-.6 0h1.2M193.1 137.2h1.2m-.6 0v5.2m-.6 0h1.2M195.4 133.3h1.2m-.6 0v7.5m-.6 0h1.2M197.7 131.4h1.2m-.6 0v5.6m-.6 0h1.2M200.0 129.8h1.2m-.6 0v7.9m-.6 0h1.2M202.3 130.4h1.2m-.6 0v7.3m-.6 0h1.2M204.6 131.8h1.2m-.6 0v5.2m-.6 0h1.2M206.9 130.8h1.2m-.6 0v7.2m-.6 0h1.2M209.3 132.0h1.2m-.6 0v6.2m-.6 0h1.2M211.6 131.7h1.2m-.6 0v7.3m-.6 0h1.2M213.9 131.6h1.2m-.6 0v7.6m-.6 0h1.2M216.2 133.2h1.2m-.6 0v5.8m-.6 0h1.2M218.5 133.5h1.2m-.6 0v5.2m-.6 0h1.2M220.8 132.5h1.2m-.6 0v8.0m-.6 0h1.2M223.1 133.5h1.2m-.6 0v6.3m-.6 0h1.2M225.4 132.7h1.2m-.6 0v7.9m-.6 0h1.2M227.7 132.9h1.2m-.6 0v7.1m-.6 0h1.2M230.0 133.4h1.2m-.6 0v7.3m-.6 0h1.2M232.3 133.0h1.2m-.6 0v7.6m-.6 0h1.2M234.6 133.9h1.2m-.6 0v6.9m-.6 0h1.2M237.0 134.1h1.2m-.6 0v6.4m-.6 0h1.2M239.3 134.9h1.2m-.6 0v5.1m-.6 0h1.2M241.6 133.6h1.2m-.6 0v7.2m-.6 0h1.2M243.9 134.5h1.2m-.6 0v6.3m-.6 0h1.2M246.2 134.0h1.2m-.6 0v6.6m-.6 0h1.2M248.5 133.4h1.2m-.6 0v7.9m-.6 0h1.2M250.8 135.0h1.2m-.6 0v5.3m-.6 0h1.2M253.1 133.8h1.2m-.6 0v7.4m-.6 0h1.2M255.4 135.6h1.2m-.6 0v5.0m-.6 0h1.2M257.7 134.7h1.2m-.6 0v7.2m-.6 0h1.2M260.0 134.4h1.2m-.6 0v7.5m-.6 0h1.2M262.3 135.1h1.2m-.6 0v5.7m-.6 0h1.2M264.6 134.9h1.2m-.6 0v6.7m-.6 0h1.2M267.0 133.7h1.2m-.6 0v8.0m-.6 0h1.2M269.3 134.8h1.2m-.6 0v7.0m-.6 0h1.2M271.6 134.9h1.2m-.6 0v6.7m-.6 0h1.2M273.9 135.3h1.2m-.6 0v5.7m-.6 0h1.2M276.2 135.9h1.2m-.6 0v5.1m-.6 0h1.2M278.5 135.1h1.2m-.6 0v6.1m-.6 0h1.2M280.8 135.4h1.2m-.6 0v6.2m-.6 0h1.2M283.1 135.4h1.2m-.6 0v5.5m-.6 0h1.2M285.4 135.5h1.2m-.6 0v5.9m-.6 0h1.2M287.7 136.2h1.2m-.6 0v5.3m-.6 0h1.2M290.0 134.9h1.2m-.6 0v7.2m-.6 0h1.2M292.3 134.7h1.2m-.6 0v7.1m-.6 0h1.2" stroke="#c4c4c4" stroke-width="0.4" fill="none"/>
<defs><path id="c16" d="M178.7 146.3l1.2 .5 1.1 .2 1.2-.4 1.1 0 1.2 .3 1.1 .1 1.2-.1 1.1-.4 1.2-.6 1.1-1.9 1.2-1.3 1.1-1.4 1.2-1.5 1.2-2.2 1.1-.6 1.2-2.2 1.1-.6 1.2-1.1 1.1 .7 1.2 0 1.1 .3 1.2 0 1.1 .3 1.2 .3 1.1-.3 1.2 .6 1.2 .1 1.1-.1 1.2 .4 1.1 .1 1.2-.1 1.1 .4 1.2 .3 1.1-.2 1.2 .2 1.1-.5 1.2 .9 1.2-.5 1.1 .6 1.2 0 1.1 .1 1.2-.1 1.1-.1 1.2-.2 1.1 .8 1.2-.5 1.1 .1 1.2 .2 1.1 .5 1.2-.4 1.2 .3 1.1-.1 1.2 .2 1.1-.2 1.2 0 1.1 0 1.2 .4 1.1-.3 1.2 0 1.1 .6 1.2-.6 1.1 .8 1.2-.4 1.2 0 1.1-.2 1.2 .3 1.1 .3 1.2 .1 1.1 .1 1.2-.5 1.1 .3 1.2 .2 1.1-.3 1.2 .3 1.1 0 1.2 0 1.2-.6 1.1 .1 1.2 .5 1.1 .4 1.2-.5 1.1 .1 1.2-.1 1.1 0 1.2 .2 1.1-.3 1.2 0 1.2 .2 1.1 .2 1.2 0 1.1-.3 1.2 .5 1.1-.2 1.2 .1 1.1 .2 1.2-.5 1.1 .2 1.2 0 1.1-.3 1.2 .7"/></defs>
<use href="#c9" stroke="#2b8cf0" stroke-width="1.4" fill="none" stroke-linejoin="round"/>
<use href="#c10" stroke="#d62020" stroke-width="1.4" fill="none" stroke-linejoin="round"/>
<use href="#c11" stroke="#2aa84a" stroke-width="1.4" fill="none" stroke-linejoin="round"/>
<use href="#c12" stroke="#8a2be8" stroke-width="1.4" fill="none" stroke-linejoin="round"/>
<use href="#c13" stroke="#18a4c4" stroke-width="1.4" fill="none" stroke-linejoin="round"/>
<use href="#c14" stroke="#f5881f" stroke-width="1.4" fill="none" stroke-linejoin="round"/>
<use href="#c15" stroke="#8fe0a8" stroke-width="1.4" fill="none" stroke-linejoin="round"/>
<use href="#c16" stroke="#eea0b8" stroke-width="1.4" fill="none" stroke-linejoin="round"/>
<line x1="178.70" y1="42.90" x2="178.70" y2="151.85" stroke="#444" stroke-width="0.7"/>
<line x1="178.35" y1="151.50" x2="294.45" y2="151.50" stroke="#444" stroke-width="0.7"/>
<line x1="175.30" y1="151.50" x2="178.70" y2="151.50" stroke="#444" stroke-width="0.6"/>
<line x1="176.10" y1="140.64" x2="178.70" y2="140.64" stroke="#444" stroke-width="0.6"/>
<line x1="175.30" y1="129.78" x2="178.70" y2="129.78" stroke="#444" stroke-width="0.6"/>
<line x1="176.10" y1="118.92" x2="178.70" y2="118.92" stroke="#444" stroke-width="0.6"/>
<line x1="175.30" y1="108.06" x2="178.70" y2="108.06" stroke="#444" stroke-width="0.6"/>
<line x1="176.10" y1="97.20" x2="178.70" y2="97.20" stroke="#444" stroke-width="0.6"/>
<line x1="175.30" y1="86.34" x2="178.70" y2="86.34" stroke="#444" stroke-width="0.6"/>
<line x1="176.10" y1="75.48" x2="178.70" y2="75.48" stroke="#444" stroke-width="0.6"/>
<line x1="175.30" y1="64.62" x2="178.70" y2="64.62" stroke="#444" stroke-width="0.6"/>
<line x1="176.10" y1="53.76" x2="178.70" y2="53.76" stroke="#444" stroke-width="0.6"/>
<line x1="175.30" y1="42.90" x2="178.70" y2="42.90" stroke="#444" stroke-width="0.6"/>
<line x1="178.70" y1="151.50" x2="178.70" y2="154.90" stroke="#444" stroke-width="0.6"/>
<line x1="184.47" y1="151.50" x2="184.47" y2="154.10" stroke="#444" stroke-width="0.6"/>
<line x1="190.24" y1="151.50" x2="190.24" y2="154.10" stroke="#444" stroke-width="0.6"/>
<line x1="196.01" y1="151.50" x2="196.01" y2="154.10" stroke="#444" stroke-width="0.6"/>
<line x1="201.78" y1="151.50" x2="201.78" y2="154.10" stroke="#444" stroke-width="0.6"/>
<line x1="207.55" y1="151.50" x2="207.55" y2="154.90" stroke="#444" stroke-width="0.6"/>
<line x1="213.32" y1="151.50" x2="213.32" y2="154.10" stroke="#444" stroke-width="0.6"/>
<line x1="219.09" y1="151.50" x2="219.09" y2="154.10" stroke="#444" stroke-width="0.6"/>
<line x1="224.86" y1="151.50" x2="224.86" y2="154.10" stroke="#444" stroke-width="0.6"/>
<line x1="230.63" y1="151.50" x2="230.63" y2="154.10" stroke="#444" stroke-width="0.6"/>
<line x1="236.40" y1="151.50" x2="236.40" y2="154.90" stroke="#444" stroke-width="0.6"/>
<line x1="242.17" y1="151.50" x2="242.17" y2="154.10" stroke="#444" stroke-width="0.6"/>
<line x1="247.94" y1="151.50" x2="247.94" y2="154.10" stroke="#444" stroke-width="0.6"/>
<line x1="253.71" y1="151.50" x2="253.71" y2="154.10" stroke="#444" stroke-width="0.6"/>
<line x1="259.48" y1="151.50" x2="259.48" y2="154.10" stroke="#444" stroke-width="0.6"/>
<line x1="265.25" y1="151.50" x2="265.25" y2="154.90" stroke="#444" stroke-width="0.6"/>
<line x1="271.02" y1="151.50" x2="271.02" y2="154.10" stroke="#444" stroke-width="0.6"/>
<line x1="276.79" y1="151.50" x2="276.79" y2="154.10" stroke="#444" stroke-width="0.6"/>
<line x1="282.56" y1="151.50" x2="282.56" y2="154.10" stroke="#444" stroke-width="0.6"/>
<line x1="288.33" y1="151.50" x2="288.33" y2="154.10" stroke="#444" stroke-width="0.6"/>
<line x1="294.10" y1="151.50" x2="294.10" y2="154.90" stroke="#444" stroke-width="0.6"/>
<text transform="translate(178.70 165.40) scale(0.93 1)" font-size="8.4" text-anchor="middle" fill="#222">0</text>
<text transform="translate(207.55 165.40) scale(0.93 1)" font-size="8.4" text-anchor="middle" fill="#222">500</text>
<text transform="translate(236.40 165.40) scale(0.93 1)" font-size="8.4" text-anchor="middle" fill="#222">1,000</text>
<text transform="translate(265.25 165.40) scale(0.93 1)" font-size="8.4" text-anchor="middle" fill="#222">1,500</text>
<text transform="translate(294.10 165.40) scale(0.93 1)" font-size="8.4" text-anchor="middle" fill="#222">2,000</text>
<text transform="translate(236.40 178.40) scale(0.975 1)" font-size="9.2" text-anchor="middle" fill="#222">Time (s)</text>
<text transform="translate(199.00 58.70) scale(0.93 1)" font-size="9.2" text-anchor="start" fill="#222">+ <tspan font-style="italic">At</tspan>BAS1A&#916;C<tspan font-size="6.3" dy="1.9">P</tspan><tspan dy="-1.9">&#8203;</tspan>&#916;C<tspan font-size="6.3" dy="1.9">R</tspan><tspan dy="-1.9">&#8203;</tspan></text>
<path d="M346.1 137.9h1.2m-.6 0v3.0m-.6 0h1.2M348.4 138.6h1.2m-.6 0v2.5m-.6 0h1.2M350.7 138.9h1.2m-.6 0v2.3m-.6 0h1.2M353.0 138.2h1.2m-.6 0v2.8m-.6 0h1.2M355.3 138.7h1.2m-.6 0v2.6m-.6 0h1.2M357.6 138.8h1.2m-.6 0v2.5m-.6 0h1.2M360.0 139.6h1.2m-.6 0v2.4m-.6 0h1.2M362.3 139.2h1.2m-.6 0v2.5m-.6 0h1.2M364.6 139.7h1.2m-.6 0v2.8m-.6 0h1.2M366.9 140.1h1.2m-.6 0v3.0m-.6 0h1.2M369.2 139.6h1.2m-.6 0v3.1m-.6 0h1.2M371.5 140.2h1.2m-.6 0v2.2m-.6 0h1.2M373.8 140.3h1.2m-.6 0v2.3m-.6 0h1.2M376.1 140.0h1.2m-.6 0v2.5m-.6 0h1.2M378.4 140.4h1.2m-.6 0v2.7m-.6 0h1.2M380.7 140.5h1.2m-.6 0v2.4m-.6 0h1.2M383.0 140.9h1.2m-.6 0v2.2m-.6 0h1.2M385.3 141.2h1.2m-.6 0v2.1m-.6 0h1.2M387.6 141.2h1.2m-.6 0v2.4m-.6 0h1.2M390.0 140.9h1.2m-.6 0v2.6m-.6 0h1.2M392.3 141.0h1.2m-.6 0v3.2m-.6 0h1.2M394.6 140.9h1.2m-.6 0v3.1m-.6 0h1.2M396.9 141.2h1.2m-.6 0v3.1m-.6 0h1.2M399.2 141.3h1.2m-.6 0v3.2m-.6 0h1.2M401.5 141.6h1.2m-.6 0v3.2m-.6 0h1.2M403.8 142.2h1.2m-.6 0v2.8m-.6 0h1.2M406.1 141.8h1.2m-.6 0v3.0m-.6 0h1.2M408.4 142.1h1.2m-.6 0v2.0m-.6 0h1.2M410.7 141.9h1.2m-.6 0v2.8m-.6 0h1.2M413.0 142.3h1.2m-.6 0v2.7m-.6 0h1.2M415.3 142.0h1.2m-.6 0v2.3m-.6 0h1.2M417.7 142.8h1.2m-.6 0v2.7m-.6 0h1.2M420.0 141.7h1.2m-.6 0v3.2m-.6 0h1.2M422.3 142.9h1.2m-.6 0v2.6m-.6 0h1.2M424.6 142.3h1.2m-.6 0v2.8m-.6 0h1.2M426.9 143.0h1.2m-.6 0v2.3m-.6 0h1.2M429.2 142.6h1.2m-.6 0v2.4m-.6 0h1.2M431.5 142.2h1.2m-.6 0v3.1m-.6 0h1.2M433.8 143.1h1.2m-.6 0v2.0m-.6 0h1.2M436.1 143.3h1.2m-.6 0v2.2m-.6 0h1.2M438.4 143.3h1.2m-.6 0v2.8m-.6 0h1.2M440.7 143.5h1.2m-.6 0v2.5m-.6 0h1.2M443.0 143.4h1.2m-.6 0v2.1m-.6 0h1.2M445.3 142.9h1.2m-.6 0v2.8m-.6 0h1.2M447.7 143.4h1.2m-.6 0v2.4m-.6 0h1.2M450.0 143.5h1.2m-.6 0v2.7m-.6 0h1.2M452.3 143.2h1.2m-.6 0v2.5m-.6 0h1.2M454.6 143.4h1.2m-.6 0v2.6m-.6 0h1.2M456.9 143.5h1.2m-.6 0v2.7m-.6 0h1.2M459.2 143.7h1.2m-.6 0v2.5m-.6 0h1.2" stroke="#c4c4c4" stroke-width="0.4" fill="none"/>
<defs><path id="c17" d="M345.6 139.5l1.1-.1 1.2 .6 1.1-.2 1.2-.1 1.1 .4 1.2 .1 1.1-.6 1.2 .4 1.1 0 1.2 .7 1.1-.6 1.2 .9 1.2-.2 1.1-.3 1.2 0 1.1 .6 1.2 .1 1.1-.2 1.2 .6 1.1-.6 1.2 .1 1.1 .4 1.2-.2 1.1 0 1.2 .2 1.2 0 1.1-.2 1.2 .6 1.1-.1 1.2 .2 1.1-.3 1.2 .4 1.1-.1 1.2 .1 1.1 .1 1.2-.4 1.1 .5 1.2-.3 1.2 .2 1.1 0 1.2 .4 1.1-.2 1.2 .1 1.1 .4 1.2-.2 1.1 .2 1.2 0 1.1-.3 1.2 .6 1.1 .3 1.2 0 1.2-.3 1.1 .1 1.2-.1 1.1-.1 1.2-.2 1.1 .4 1.2 0 1.1 .3 1.2-.3 1.1-.1 1.2 0 1.2 .9 1.1-.7 1.2-.1 1.1 .2 1.2 .7 1.1-.3 1.2-.2 1.1 .1 1.2 .4 1.1 0 1.2-.4 1.1 .6 1.2-.7 1.2 .4 1.1 0 1.2 .5 1.1-.2 1.2-.3 1.1 .6 1.2-.9 1.1 1 1.2 0 1.1-.3 1.2-.1 1.1 0 1.2 .3 1.2 0 1.1 0 1.2 .1 1.1 .6 1.2-.9 1.1 .2 1.2 .1 1.1 .2 1.2-.2 1.1 .1 1.2 .1 1.2-.3"/></defs>
<path d="M346.1 138.1h1.2m-.6 0v2.8m-.6 0h1.2M348.4 138.3h1.2m-.6 0v2.5m-.6 0h1.2M350.7 138.3h1.2m-.6 0v2.6m-.6 0h1.2M353.0 139.0h1.2m-.6 0v2.2m-.6 0h1.2M355.3 138.8h1.2m-.6 0v3.1m-.6 0h1.2M357.6 139.2h1.2m-.6 0v2.5m-.6 0h1.2M360.0 138.6h1.2m-.6 0v3.1m-.6 0h1.2M362.3 138.6h1.2m-.6 0v2.8m-.6 0h1.2M364.6 139.3h1.2m-.6 0v2.1m-.6 0h1.2M366.9 139.2h1.2m-.6 0v2.4m-.6 0h1.2M369.2 139.8h1.2m-.6 0v2.2m-.6 0h1.2M371.5 139.3h1.2m-.6 0v3.1m-.6 0h1.2M373.8 139.2h1.2m-.6 0v2.7m-.6 0h1.2M376.1 139.2h1.2m-.6 0v2.0m-.6 0h1.2M378.4 139.2h1.2m-.6 0v2.2m-.6 0h1.2M380.7 139.7h1.2m-.6 0v2.4m-.6 0h1.2M383.0 139.2h1.2m-.6 0v2.6m-.6 0h1.2M385.3 139.6h1.2m-.6 0v2.7m-.6 0h1.2M387.6 139.8h1.2m-.6 0v2.5m-.6 0h1.2M390.0 139.9h1.2m-.6 0v2.4m-.6 0h1.2M392.3 139.8h1.2m-.6 0v2.0m-.6 0h1.2M394.6 139.8h1.2m-.6 0v2.7m-.6 0h1.2M396.9 140.2h1.2m-.6 0v2.4m-.6 0h1.2M399.2 140.1h1.2m-.6 0v2.0m-.6 0h1.2M401.5 140.0h1.2m-.6 0v2.6m-.6 0h1.2M403.8 139.5h1.2m-.6 0v3.2m-.6 0h1.2M406.1 140.4h1.2m-.6 0v2.0m-.6 0h1.2M408.4 140.9h1.2m-.6 0v2.1m-.6 0h1.2M410.7 140.6h1.2m-.6 0v2.8m-.6 0h1.2M413.0 140.5h1.2m-.6 0v2.3m-.6 0h1.2M415.3 140.8h1.2m-.6 0v2.3m-.6 0h1.2M417.7 140.7h1.2m-.6 0v2.6m-.6 0h1.2M420.0 141.0h1.2m-.6 0v2.3m-.6 0h1.2M422.3 141.3h1.2m-.6 0v2.7m-.6 0h1.2M424.6 140.5h1.2m-.6 0v2.6m-.6 0h1.2M426.9 140.8h1.2m-.6 0v3.2m-.6 0h1.2M429.2 140.7h1.2m-.6 0v3.2m-.6 0h1.2M431.5 141.3h1.2m-.6 0v2.0m-.6 0h1.2M433.8 141.1h1.2m-.6 0v2.7m-.6 0h1.2M436.1 140.7h1.2m-.6 0v3.0m-.6 0h1.2M438.4 141.0h1.2m-.6 0v3.1m-.6 0h1.2M440.7 141.4h1.2m-.6 0v3.0m-.6 0h1.2M443.0 141.5h1.2m-.6 0v2.8m-.6 0h1.2M445.3 141.3h1.2m-.6 0v2.8m-.6 0h1.2M447.7 141.9h1.2m-.6 0v2.4m-.6 0h1.2M450.0 141.8h1.2m-.6 0v2.3m-.6 0h1.2M452.3 141.7h1.2m-.6 0v3.0m-.6 0h1.2M454.6 142.2h1.2m-.6 0v3.1m-.6 0h1.2M456.9 141.6h1.2m-.6 0v3.2m-.6 0h1.2M459.2 141.7h1.2m-.6 0v2.8m-.6 0h1.2" stroke="#c4c4c4" stroke-width="0.4" fill="none"/>
<defs><path id="c18" d="M345.6 140l1.1-.5 1.2 .1 1.1-.1 1.2 .6 1.1-.5 1.2 .1 1.1 .4 1.2-.1 1.1 .3 1.2-.1 1.1 .3 1.2-.4 1.2 0 1.1-.3 1.2 .2 1.1 0 1.2 .4 1.1 0 1.2 0 1.1-.1 1.2 .6 1.1-.7 1.2 .7 1.1-.2 1.2-.2 1.2 .2 1.1-.5 1.2 .5 1.1-.4 1.2 .1 1.1 .5 1.2-.2 1.1-.2 1.2 .5 1.1-.1 1.2 .2 1.1-.1 1.2 .2 1.2-.1 1.1-.2 1.2-.1 1.1 .4 1.2 0 1.1-.1 1.2 .3 1.1 .3 1.2-.6 1.1 .6 1.2-.5 1.1 .6 1.2-.7 1.2 .8 1.1-.5 1.2-.1 1.1 .7 1.2-.6 1.1 .6 1.2 .3 1.1-.6 1.2 0 1.1 .3 1.2 .6 1.2-.6 1.1 .1 1.2 .1 1.1 0 1.2 .4 1.1-.2 1.2-.6 1.1 .1 1.2 .5 1.1 .1 1.2-.2 1.1-.2 1.2 .2 1.2 .5 1.1-.3 1.2 0 1.1-.3 1.2 .1 1.1 .2 1.2-.1 1.1 .4 1.2-.4 1.1 .5 1.2-.1 1.1-.2 1.2 .6 1.2-.1 1.1 .4 1.2-.5 1.1 .1 1.2 .1 1.1-.2 1.2 .7 1.1-.5 1.2 0 1.1 .1 1.2-.2 1.2-.2"/></defs>
<path d="M346.1 137.9h1.2m-.6 0v2.7m-.6 0h1.2M348.4 138.8h1.2m-.6 0v2.7m-.6 0h1.2M350.7 138.8h1.2m-.6 0v2.7m-.6 0h1.2M353.0 138.7h1.2m-.6 0v2.8m-.6 0h1.2M355.3 138.2h1.2m-.6 0v2.7m-.6 0h1.2M357.6 137.6h1.2m-.6 0v2.4m-.6 0h1.2M360.0 138.0h1.2m-.6 0v2.9m-.6 0h1.2M362.3 138.1h1.2m-.6 0v2.3m-.6 0h1.2M364.6 137.9h1.2m-.6 0v2.9m-.6 0h1.2M366.9 137.9h1.2m-.6 0v2.9m-.6 0h1.2M369.2 137.9h1.2m-.6 0v3.0m-.6 0h1.2M371.5 138.4h1.2m-.6 0v2.4m-.6 0h1.2M373.8 138.0h1.2m-.6 0v3.0m-.6 0h1.2M376.1 137.8h1.2m-.6 0v3.2m-.6 0h1.2M378.4 138.7h1.2m-.6 0v2.5m-.6 0h1.2M380.7 138.7h1.2m-.6 0v2.3m-.6 0h1.2M383.0 138.6h1.2m-.6 0v2.6m-.6 0h1.2M385.3 138.2h1.2m-.6 0v3.2m-.6 0h1.2M387.6 139.2h1.2m-.6 0v2.1m-.6 0h1.2M390.0 138.6h1.2m-.6 0v2.0m-.6 0h1.2M392.3 138.5h1.2m-.6 0v2.6m-.6 0h1.2M394.6 138.5h1.2m-.6 0v2.8m-.6 0h1.2M396.9 138.8h1.2m-.6 0v3.0m-.6 0h1.2M399.2 138.9h1.2m-.6 0v2.4m-.6 0h1.2M401.5 138.4h1.2m-.6 0v3.2m-.6 0h1.2M403.8 139.4h1.2m-.6 0v2.3m-.6 0h1.2M406.1 138.8h1.2m-.6 0v2.9m-.6 0h1.2M408.4 139.7h1.2m-.6 0v2.1m-.6 0h1.2M410.7 139.6h1.2m-.6 0v2.0m-.6 0h1.2M413.0 140.2h1.2m-.6 0v2.1m-.6 0h1.2M415.3 139.6h1.2m-.6 0v2.0m-.6 0h1.2M417.7 139.9h1.2m-.6 0v2.6m-.6 0h1.2M420.0 139.2h1.2m-.6 0v2.7m-.6 0h1.2M422.3 139.4h1.2m-.6 0v2.2m-.6 0h1.2M424.6 139.5h1.2m-.6 0v3.2m-.6 0h1.2M426.9 139.8h1.2m-.6 0v2.4m-.6 0h1.2M429.2 139.5h1.2m-.6 0v2.1m-.6 0h1.2M431.5 140.1h1.2m-.6 0v2.2m-.6 0h1.2M433.8 139.8h1.2m-.6 0v2.9m-.6 0h1.2M436.1 139.4h1.2m-.6 0v3.2m-.6 0h1.2M438.4 140.0h1.2m-.6 0v2.2m-.6 0h1.2M440.7 140.0h1.2m-.6 0v2.0m-.6 0h1.2M443.0 139.9h1.2m-.6 0v3.0m-.6 0h1.2M445.3 140.2h1.2m-.6 0v2.3m-.6 0h1.2M447.7 139.9h1.2m-.6 0v3.2m-.6 0h1.2M450.0 140.2h1.2m-.6 0v2.6m-.6 0h1.2M452.3 140.4h1.2m-.6 0v2.8m-.6 0h1.2M454.6 140.3h1.2m-.6 0v2.4m-.6 0h1.2M456.9 140.0h1.2m-.6 0v3.0m-.6 0h1.2M459.2 140.5h1.2m-.6 0v2.6m-.6 0h1.2" stroke="#c4c4c4" stroke-width="0.4" fill="none"/>
<defs><path id="c19" d="M345.6 139.7l1.1-.5 1.2 .5 1.1 .4 1.2 0 1.1 .1 1.2 .1 1.1-.2 1.2-.5 1.1 0 1.2 .4 1.1-1.2 1.2 .9 1.2-.3 1.1 0 1.2-.2 1.1 .3 1.2-.2 1.1-.4 1.2 .5 1.1 .3 1.2-.3 1.1 .3 1.2-.1 1.1-.1 1.2 0 1.2 .2 1.1-.3 1.2 .3 1.1 .3 1.2-.5 1.1 .3 1.2-.4 1.1 .6 1.2-.3 1.1 .1 1.2 .8 1.1-.3 1.2-.1 1.2-.6 1.1 .9 1.2-.7 1.1 0 1.2 .1 1.1 0 1.2 .4 1.1-.1 1.2-.1 1.1 0 1.2 0 1.1 .2 1.2 .2 1.2 0 1.1-.2 1.2 .5 1.1-.1 1.2-.1 1.1 0 1.2 0 1.1 .6 1.2-.5 1.1 0 1.2-.3 1.2 .8 1.1-.4 1.2-.2 1.1 0 1.2-.1 1.1 0 1.2 .6 1.1-.4 1.2 .3 1.1 .1 1.2-.6 1.1 .6 1.2 .1 1.2-.1 1.1 .2 1.2-.5 1.1 .2 1.2-.2 1.1 .3 1.2 .3 1.1-.4 1.2 .4 1.1 0 1.2 0 1.1-.1 1.2-.2 1.2 .5 1.1-.3 1.2 .2 1.1 .3 1.2 0 1.1-.2 1.2-.1 1.1 0 1.2 0 1.1 .2 1.2 .1 1.2-.2"/></defs>
<path d="M346.1 138.8h1.2m-.6 0v2.3m-.6 0h1.2M348.4 138.4h1.2m-.6 0v2.0m-.6 0h1.2M350.7 138.6h1.2m-.6 0v2.0m-.6 0h1.2M353.0 138.4h1.2m-.6 0v2.6m-.6 0h1.2M355.3 135.5h1.2m-.6 0v2.5m-.6 0h1.2M357.6 135.2h1.2m-.6 0v2.7m-.6 0h1.2M360.0 133.9h1.2m-.6 0v2.4m-.6 0h1.2M362.3 134.3h1.2m-.6 0v2.0m-.6 0h1.2M364.6 133.8h1.2m-.6 0v2.9m-.6 0h1.2M366.9 133.8h1.2m-.6 0v2.8m-.6 0h1.2M369.2 133.9h1.2m-.6 0v2.7m-.6 0h1.2M371.5 134.2h1.2m-.6 0v2.7m-.6 0h1.2M373.8 133.9h1.2m-.6 0v2.9m-.6 0h1.2M376.1 133.5h1.2m-.6 0v3.2m-.6 0h1.2M378.4 133.8h1.2m-.6 0v3.1m-.6 0h1.2M380.7 134.2h1.2m-.6 0v2.9m-.6 0h1.2M383.0 134.5h1.2m-.6 0v2.5m-.6 0h1.2M385.3 135.1h1.2m-.6 0v2.4m-.6 0h1.2M387.6 134.4h1.2m-.6 0v2.5m-.6 0h1.2M390.0 134.5h1.2m-.6 0v3.2m-.6 0h1.2M392.3 135.3h1.2m-.6 0v2.5m-.6 0h1.2M394.6 134.7h1.2m-.6 0v2.5m-.6 0h1.2M396.9 135.2h1.2m-.6 0v2.5m-.6 0h1.2M399.2 135.0h1.2m-.6 0v2.1m-.6 0h1.2M401.5 134.1h1.2m-.6 0v3.3m-.6 0h1.2M403.8 135.4h1.2m-.6 0v2.0m-.6 0h1.2M406.1 134.5h1.2m-.6 0v2.7m-.6 0h1.2M408.4 134.3h1.2m-.6 0v3.2m-.6 0h1.2M410.7 135.2h1.2m-.6 0v2.3m-.6 0h1.2M413.0 135.2h1.2m-.6 0v2.8m-.6 0h1.2M415.3 135.6h1.2m-.6 0v2.4m-.6 0h1.2M417.7 136.0h1.2m-.6 0v2.3m-.6 0h1.2M420.0 135.9h1.2m-.6 0v2.2m-.6 0h1.2M422.3 135.9h1.2m-.6 0v2.1m-.6 0h1.2M424.6 135.5h1.2m-.6 0v3.1m-.6 0h1.2M426.9 135.7h1.2m-.6 0v3.0m-.6 0h1.2M429.2 135.8h1.2m-.6 0v3.1m-.6 0h1.2M431.5 136.4h1.2m-.6 0v2.0m-.6 0h1.2M433.8 135.1h1.2m-.6 0v2.9m-.6 0h1.2M436.1 136.5h1.2m-.6 0v2.4m-.6 0h1.2M438.4 135.9h1.2m-.6 0v2.8m-.6 0h1.2M440.7 136.1h1.2m-.6 0v2.7m-.6 0h1.2M443.0 136.3h1.2m-.6 0v2.4m-.6 0h1.2M445.3 135.9h1.2m-.6 0v3.2m-.6 0h1.2M447.7 137.0h1.2m-.6 0v2.0m-.6 0h1.2M450.0 136.6h1.2m-.6 0v2.9m-.6 0h1.2M452.3 136.2h1.2m-.6 0v3.1m-.6 0h1.2M454.6 136.6h1.2m-.6 0v2.6m-.6 0h1.2M456.9 136.4h1.2m-.6 0v2.7m-.6 0h1.2M459.2 136.6h1.2m-.6 0v3.3m-.6 0h1.2" stroke="#c4c4c4" stroke-width="0.4" fill="none"/>
<defs><path id="c20" d="M345.6 139.8l1.1 .1 1.2-.7 1.1 .3 1.2 .1 1.1 0 1.2 .3 1.1-.2 1.2-2 1.1-.9 1.2-.5 1.1 .2 1.2-1.1 1.2-.2 1.1 .3 1.2-.2 1.1-.3 1.2 .2 1.1-.3 1.2 .3 1.1-.1 1.2 .1 1.1 .5 1.2-.1 1.1-1.1 1.2 .8 1.2-.2 1.1 .1 1.2-.2 1.1 .4 1.2 .3 1.1-.1 1.2 .6 1.1-.5 1.2-.2 1.1 .8 1.2-.6 1.1-.1 1.2-.1 1.2 .7 1.1-.1 1.2 .4 1.1-.2 1.2-.4 1.1-.3 1.2 .8 1.1-.6 1.2 .3 1.1 .3 1.2-.7 1.1 1.3 1.2-.6 1.2 0 1.1-.5 1.2 .1 1.1-.1 1.2 .6 1.1-.2 1.2 0 1.1 .2 1.2 .1 1.1 .2 1.2 .1 1.2 .3 1.1-.8 1.2 .6 1.1 .5 1.2-.6 1.1 .1 1.2 0 1.1-.4 1.2 .6 1.1 0 1.2 .2 1.1-.1 1.2 .1 1.2-.1 1.1-.8 1.2 .8 1.1 .4 1.2-.7 1.1 .3 1.2 0 1.1 .1 1.2 0 1.1 .1 1.2-.2 1.1 .2 1.2-.1 1.2 .6 1.1-.1 1.2 .2 1.1-.4 1.2 .1 1.1 .3 1.2-.2 1.1-.5 1.2 .4 1.1 .7 1.2-.3 1.2-.1"/></defs>
<path d="M346.1 137.9h1.2m-.6 0v2.6m-.6 0h1.2M348.4 138.8h1.2m-.6 0v2.6m-.6 0h1.2M350.7 138.7h1.2m-.6 0v3.1m-.6 0h1.2M353.0 137.7h1.2m-.6 0v2.9m-.6 0h1.2M355.3 135.4h1.2m-.6 0v2.0m-.6 0h1.2M357.6 133.2h1.2m-.6 0v2.7m-.6 0h1.2M360.0 131.5h1.2m-.6 0v2.6m-.6 0h1.2M362.3 130.6h1.2m-.6 0v2.6m-.6 0h1.2M364.6 130.4h1.2m-.6 0v3.0m-.6 0h1.2M366.9 130.5h1.2m-.6 0v2.5m-.6 0h1.2M369.2 130.1h1.2m-.6 0v2.6m-.6 0h1.2M371.5 130.1h1.2m-.6 0v3.1m-.6 0h1.2M373.8 130.2h1.2m-.6 0v2.5m-.6 0h1.2M376.1 130.3h1.2m-.6 0v2.6m-.6 0h1.2M378.4 129.7h1.2m-.6 0v2.6m-.6 0h1.2M380.7 129.9h1.2m-.6 0v3.0m-.6 0h1.2M383.0 130.6h1.2m-.6 0v2.8m-.6 0h1.2M385.3 130.1h1.2m-.6 0v2.9m-.6 0h1.2M387.6 130.0h1.2m-.6 0v2.5m-.6 0h1.2M390.0 130.8h1.2m-.6 0v2.0m-.6 0h1.2M392.3 130.1h1.2m-.6 0v2.8m-.6 0h1.2M394.6 130.2h1.2m-.6 0v2.7m-.6 0h1.2M396.9 130.6h1.2m-.6 0v3.0m-.6 0h1.2M399.2 130.3h1.2m-.6 0v3.0m-.6 0h1.2M401.5 130.2h1.2m-.6 0v2.1m-.6 0h1.2M403.8 131.1h1.2m-.6 0v2.2m-.6 0h1.2M406.1 130.9h1.2m-.6 0v2.1m-.6 0h1.2M408.4 130.6h1.2m-.6 0v3.0m-.6 0h1.2M410.7 131.2h1.2m-.6 0v2.1m-.6 0h1.2M413.0 131.1h1.2m-.6 0v2.1m-.6 0h1.2M415.3 130.5h1.2m-.6 0v2.9m-.6 0h1.2M417.7 130.8h1.2m-.6 0v2.7m-.6 0h1.2M420.0 130.9h1.2m-.6 0v2.0m-.6 0h1.2M422.3 130.8h1.2m-.6 0v2.8m-.6 0h1.2M424.6 131.1h1.2m-.6 0v2.9m-.6 0h1.2M426.9 130.9h1.2m-.6 0v2.6m-.6 0h1.2M429.2 131.5h1.2m-.6 0v2.0m-.6 0h1.2M431.5 131.4h1.2m-.6 0v2.9m-.6 0h1.2M433.8 131.0h1.2m-.6 0v2.5m-.6 0h1.2M436.1 131.6h1.2m-.6 0v2.7m-.6 0h1.2M438.4 130.9h1.2m-.6 0v3.3m-.6 0h1.2M440.7 131.0h1.2m-.6 0v3.0m-.6 0h1.2M443.0 131.4h1.2m-.6 0v3.1m-.6 0h1.2M445.3 131.4h1.2m-.6 0v2.1m-.6 0h1.2M447.7 131.8h1.2m-.6 0v2.4m-.6 0h1.2M450.0 131.3h1.2m-.6 0v2.6m-.6 0h1.2M452.3 132.0h1.2m-.6 0v2.0m-.6 0h1.2M454.6 131.4h1.2m-.6 0v3.2m-.6 0h1.2M456.9 131.5h1.2m-.6 0v2.3m-.6 0h1.2M459.2 131.8h1.2m-.6 0v2.3m-.6 0h1.2" stroke="#c4c4c4" stroke-width="0.4" fill="none"/>
<defs><path id="c21" d="M345.6 139.5l1.1-.2 1.2 .4 1.1 .4 1.2-.1 1.1 .2 1.2 .2 1.1-1.2 1.2-1.6 1.1-1.2 1.2-1 1.1-.8 1.2-1 1.2-.8 1.1 0 1.2-1 1.1 .8 1.2-.7 1.1 .2 1.2-.3 1.1-.2 1.2-.2 1.1-.2 1.2 .4 1.1 .2 1.2-.3 1.2-.1 1.1 .2 1.2-.4 1.1-.2 1.2 .8 1.1-.4 1.2-.2 1.1 .8 1.2-.5 1.1 .1 1.2 .3 1.1-.7 1.2 .3 1.2 .3 1.1-.3 1.2 0 1.1 0 1.2 .1 1.1 0 1.2 .5 1.1-.2 1.2-.1 1.1 .8 1.2-1.3 1.1 .7 1.2 .2 1.2 .2 1.1-.5 1.2 .1 1.1 .1 1.2 0 1.1 .2 1.2 0 1.1-.2 1.2 .2 1.1-.3 1.2 .2 1.2-.1 1.1 0 1.2-.2 1.1 .2 1.2 .1 1.1 .1 1.2 .2 1.1-.1 1.2-.2 1.1 .1 1.2 .2 1.1 .3 1.2 .1 1.2-.5 1.1-.2 1.2 .2 1.1 .5 1.2-.3 1.1-.1 1.2 .4 1.1-.3 1.2 .1 1.1 .2 1.2 .1 1.1-.5 1.2 .2 1.2 .3 1.1 .1 1.2-.5 1.1 .1 1.2 .3 1.1-.5 1.2 .5 1.1 .2 1.2-.5 1.1 .3 1.2-.1 1.2 .1"/></defs>
<path d="M346.1 137.9h1.2m-.6 0v3.7m-.6 0h1.2M348.4 137.7h1.2m-.6 0v3.8m-.6 0h1.2M350.7 138.4h1.2m-.6 0v3.7m-.6 0h1.2M353.0 136.1h1.2m-.6 0v3.1m-.6 0h1.2M355.3 129.8h1.2m-.6 0v2.7m-.6 0h1.2M357.6 126.4h1.2m-.6 0v2.8m-.6 0h1.2M360.0 124.2h1.2m-.6 0v3.4m-.6 0h1.2M362.3 123.6h1.2m-.6 0v3.0m-.6 0h1.2M364.6 122.7h1.2m-.6 0v3.7m-.6 0h1.2M366.9 122.9h1.2m-.6 0v2.4m-.6 0h1.2M369.2 122.1h1.2m-.6 0v3.0m-.6 0h1.2M371.5 121.5h1.2m-.6 0v3.6m-.6 0h1.2M373.8 121.7h1.2m-.6 0v3.2m-.6 0h1.2M376.1 122.3h1.2m-.6 0v3.1m-.6 0h1.2M378.4 122.6h1.2m-.6 0v2.4m-.6 0h1.2M380.7 122.4h1.2m-.6 0v2.5m-.6 0h1.2M383.0 122.3h1.2m-.6 0v2.7m-.6 0h1.2M385.3 121.7h1.2m-.6 0v3.6m-.6 0h1.2M387.6 122.4h1.2m-.6 0v3.6m-.6 0h1.2M390.0 122.9h1.2m-.6 0v2.6m-.6 0h1.2M392.3 121.6h1.2m-.6 0v3.7m-.6 0h1.2M394.6 122.6h1.2m-.6 0v2.3m-.6 0h1.2M396.9 122.0h1.2m-.6 0v3.2m-.6 0h1.2M399.2 122.0h1.2m-.6 0v3.8m-.6 0h1.2M401.5 122.0h1.2m-.6 0v2.8m-.6 0h1.2M403.8 121.8h1.2m-.6 0v3.7m-.6 0h1.2M406.1 122.4h1.2m-.6 0v3.3m-.6 0h1.2M408.4 122.7h1.2m-.6 0v2.4m-.6 0h1.2M410.7 122.4h1.2m-.6 0v2.8m-.6 0h1.2M413.0 122.2h1.2m-.6 0v3.0m-.6 0h1.2M415.3 122.5h1.2m-.6 0v2.7m-.6 0h1.2M417.7 122.1h1.2m-.6 0v3.4m-.6 0h1.2M420.0 123.0h1.2m-.6 0v2.6m-.6 0h1.2M422.3 122.3h1.2m-.6 0v3.5m-.6 0h1.2M424.6 122.7h1.2m-.6 0v2.7m-.6 0h1.2M426.9 122.4h1.2m-.6 0v2.4m-.6 0h1.2M429.2 122.0h1.2m-.6 0v3.1m-.6 0h1.2M431.5 122.9h1.2m-.6 0v2.4m-.6 0h1.2M433.8 122.7h1.2m-.6 0v3.1m-.6 0h1.2M436.1 122.5h1.2m-.6 0v3.5m-.6 0h1.2M438.4 122.3h1.2m-.6 0v3.2m-.6 0h1.2M440.7 122.6h1.2m-.6 0v3.0m-.6 0h1.2M443.0 122.8h1.2m-.6 0v2.3m-.6 0h1.2M445.3 122.7h1.2m-.6 0v3.1m-.6 0h1.2M447.7 123.3h1.2m-.6 0v2.4m-.6 0h1.2M450.0 122.6h1.2m-.6 0v3.3m-.6 0h1.2M452.3 122.8h1.2m-.6 0v2.5m-.6 0h1.2M454.6 122.8h1.2m-.6 0v3.2m-.6 0h1.2M456.9 123.0h1.2m-.6 0v2.8m-.6 0h1.2M459.2 122.8h1.2m-.6 0v2.9m-.6 0h1.2" stroke="#c4c4c4" stroke-width="0.4" fill="none"/>
<defs><path id="c22" d="M345.6 139.8l1.1-.1 1.2-.2 1.1 .1 1.2 .6 1.1 .1 1.2-.2 1.1-2.5 1.2-3.4 1.1-3 1.2-1.4 1.1-2 1.2-.8 1.2-1.1 1.1-.7 1.2-.1 1.1-.6 1.2 0 1.1-.5 1.2 .1 1.1-.2 1.2-.3 1.1 .2 1.2-.5 1.1 .4 1.2-.4 1.2 .2 1.1 .3 1.2-.2 1.1 .2 1.2-.1 1.1-.1 1.2-.5 1.1 .6 1.2-.5 1.1 .3 1.2 .5 1.1 .2 1.2-.7 1.2 .7 1.1-.7 1.2-.1 1.1 .2 1.2 .1 1.1 .1 1.2-.2 1.1 .2 1.2 .1 1.1-.1 1.2-.4 1.1 .5 1.2-.2 1.2 .4 1.1-.1 1.2 .2 1.1-.3 1.2-.2 1.1 .1 1.2 .2 1.1-.3 1.2 .3 1.1-.2 1.2 0 1.2 0 1.1 .8 1.2-.3 1.1-.5 1.2 .2 1.1-.6 1.2 .7 1.1 0 1.2-.5 1.1 .3 1.2-.4 1.1 .4 1.2 .2 1.2-.2 1.1 .4 1.2-.1 1.1 .1 1.2-.1 1.1-.3 1.2 .4 1.1-.2 1.2 .2 1.1-.4 1.2 1 1.1-.6 1.2-.1 1.2 .3 1.1-.5 1.2 .2 1.1-.3 1.2 .1 1.1 .1 1.2 .2 1.1 .3 1.2-.2 1.1 0 1.2-.1 1.2 .2"/></defs>
<path d="M346.1 138.2h1.2m-.6 0v3.2m-.6 0h1.2M348.4 137.8h1.2m-.6 0v2.9m-.6 0h1.2M350.7 137.7h1.2m-.6 0v3.5m-.6 0h1.2M353.0 135.6h1.2m-.6 0v3.5m-.6 0h1.2M355.3 125.9h1.2m-.6 0v3.6m-.6 0h1.2M357.6 120.7h1.2m-.6 0v2.7m-.6 0h1.2M360.0 116.3h1.2m-.6 0v3.7m-.6 0h1.2M362.3 114.0h1.2m-.6 0v3.1m-.6 0h1.2M364.6 112.1h1.2m-.6 0v3.7m-.6 0h1.2M366.9 112.0h1.2m-.6 0v2.5m-.6 0h1.2M369.2 110.5h1.2m-.6 0v3.8m-.6 0h1.2M371.5 110.4h1.2m-.6 0v3.5m-.6 0h1.2M373.8 110.1h1.2m-.6 0v2.7m-.6 0h1.2M376.1 110.1h1.2m-.6 0v3.6m-.6 0h1.2M378.4 110.4h1.2m-.6 0v2.6m-.6 0h1.2M380.7 110.4h1.2m-.6 0v2.6m-.6 0h1.2M383.0 110.4h1.2m-.6 0v3.0m-.6 0h1.2M385.3 109.9h1.2m-.6 0v2.6m-.6 0h1.2M387.6 110.0h1.2m-.6 0v3.0m-.6 0h1.2M390.0 109.8h1.2m-.6 0v3.7m-.6 0h1.2M392.3 110.1h1.2m-.6 0v3.3m-.6 0h1.2M394.6 110.1h1.2m-.6 0v3.4m-.6 0h1.2M396.9 110.4h1.2m-.6 0v2.9m-.6 0h1.2M399.2 110.3h1.2m-.6 0v3.5m-.6 0h1.2M401.5 110.2h1.2m-.6 0v3.5m-.6 0h1.2M403.8 109.8h1.2m-.6 0v3.3m-.6 0h1.2M406.1 110.0h1.2m-.6 0v3.7m-.6 0h1.2M408.4 110.4h1.2m-.6 0v3.5m-.6 0h1.2M410.7 110.7h1.2m-.6 0v2.9m-.6 0h1.2M413.0 111.0h1.2m-.6 0v2.4m-.6 0h1.2M415.3 110.3h1.2m-.6 0v3.3m-.6 0h1.2M417.7 110.3h1.2m-.6 0v3.6m-.6 0h1.2M420.0 110.5h1.2m-.6 0v2.8m-.6 0h1.2M422.3 110.0h1.2m-.6 0v3.2m-.6 0h1.2M424.6 110.4h1.2m-.6 0v3.6m-.6 0h1.2M426.9 110.2h1.2m-.6 0v3.5m-.6 0h1.2M429.2 110.8h1.2m-.6 0v2.3m-.6 0h1.2M431.5 110.0h1.2m-.6 0v3.0m-.6 0h1.2M433.8 111.0h1.2m-.6 0v2.3m-.6 0h1.2M436.1 110.9h1.2m-.6 0v2.4m-.6 0h1.2M438.4 111.0h1.2m-.6 0v3.5m-.6 0h1.2M440.7 111.1h1.2m-.6 0v2.9m-.6 0h1.2M443.0 110.3h1.2m-.6 0v3.2m-.6 0h1.2M445.3 111.2h1.2m-.6 0v3.0m-.6 0h1.2M447.7 110.6h1.2m-.6 0v2.8m-.6 0h1.2M450.0 110.9h1.2m-.6 0v2.6m-.6 0h1.2M452.3 111.0h1.2m-.6 0v2.8m-.6 0h1.2M454.6 110.7h1.2m-.6 0v3.6m-.6 0h1.2M456.9 111.3h1.2m-.6 0v3.2m-.6 0h1.2M459.2 111.3h1.2m-.6 0v2.7m-.6 0h1.2" stroke="#c4c4c4" stroke-width="0.4" fill="none"/>
<defs><path id="c23" d="M345.6 139.6l1.1 .2 1.2-.4 1.1-.2 1.2 .9 1.1-.6 1.2 .3 1.1-2.5 1.2-5.4 1.1-4.2 1.2-3.2 1.1-2.5 1.2-1.8 1.2-2 1.1-1.6 1.2-1.1 1.1-.8 1.2-.8 1.1 0 1.2-.6 1.1-.5 1.2-.4 1.1 0 1.2-.3 1.1 0 1.2-.6 1.2 1 1.1-.6 1.2-.7 1.1 .5 1.2 .5 1.1-.5 1.2 .4 1.1-.2 1.2-.3 1.1-.3 1.2 .3 1.1-.1 1.2-.1 1.2 .3 1.1 .2 1.2-.1 1.1-.1 1.2 .1 1.1 .1 1.2 0 1.1 .3 1.2-.1 1.1-.3 1.2 .1 1.1-.1 1.2-.3 1.2 .3 1.1 .1 1.2 .3 1.1 0 1.2-.4 1.1 .3 1.2-.3 1.1 .4 1.2-.3 1.1 .1 1.2-.3 1.2 .4 1.1 0 1.2-.2 1.1 .1 1.2-.4 1.1 .5 1.2 .1 1.1-.1 1.2-.2 1.1 .1 1.2-.1 1.1 .6 1.2-1 1.2 .1 1.1 .5 1.2 .4 1.1-.4 1.2 0 1.1 .7 1.2-.6 1.1 .4 1.2-.5 1.1-.2 1.2 .1 1.1 .6 1.2-.7 1.2 .1 1.1 .4 1.2-.2 1.1-.3 1.2 .5 1.1-.1 1.2 .2 1.1-.4 1.2 .8 1.1-.9 1.2 .6 1.2-.4"/></defs>
<path d="M346.1 137.5h1.2m-.6 0v3.9m-.6 0h1.2M348.4 138.4h1.2m-.6 0v2.9m-.6 0h1.2M350.7 138.7h1.2m-.6 0v3.1m-.6 0h1.2M353.0 134.9h1.2m-.6 0v2.7m-.6 0h1.2M355.3 123.0h1.2m-.6 0v3.1m-.6 0h1.2M357.6 115.4h1.2m-.6 0v3.3m-.6 0h1.2M360.0 109.2h1.2m-.6 0v4.3m-.6 0h1.2M362.3 105.5h1.2m-.6 0v4.3m-.6 0h1.2M364.6 104.1h1.2m-.6 0v2.9m-.6 0h1.2M366.9 102.0h1.2m-.6 0v3.1m-.6 0h1.2M369.2 99.6h1.2m-.6 0v4.2m-.6 0h1.2M371.5 99.5h1.2m-.6 0v2.9m-.6 0h1.2M373.8 98.9h1.2m-.6 0v3.2m-.6 0h1.2M376.1 98.5h1.2m-.6 0v3.4m-.6 0h1.2M378.4 98.2h1.2m-.6 0v2.8m-.6 0h1.2M380.7 98.7h1.2m-.6 0v3.1m-.6 0h1.2M383.0 98.0h1.2m-.6 0v3.3m-.6 0h1.2M385.3 97.6h1.2m-.6 0v3.3m-.6 0h1.2M387.6 97.2h1.2m-.6 0v4.3m-.6 0h1.2M390.0 98.4h1.2m-.6 0v3.1m-.6 0h1.2M392.3 97.7h1.2m-.6 0v3.0m-.6 0h1.2M394.6 97.1h1.2m-.6 0v4.2m-.6 0h1.2M396.9 98.5h1.2m-.6 0v3.4m-.6 0h1.2M399.2 97.8h1.2m-.6 0v4.1m-.6 0h1.2M401.5 97.9h1.2m-.6 0v3.7m-.6 0h1.2M403.8 98.0h1.2m-.6 0v4.0m-.6 0h1.2M406.1 97.8h1.2m-.6 0v3.2m-.6 0h1.2M408.4 98.7h1.2m-.6 0v2.9m-.6 0h1.2M410.7 97.3h1.2m-.6 0v3.9m-.6 0h1.2M413.0 98.2h1.2m-.6 0v3.4m-.6 0h1.2M415.3 98.4h1.2m-.6 0v3.6m-.6 0h1.2M417.7 97.6h1.2m-.6 0v3.8m-.6 0h1.2M420.0 97.9h1.2m-.6 0v3.9m-.6 0h1.2M422.3 98.4h1.2m-.6 0v3.1m-.6 0h1.2M424.6 97.8h1.2m-.6 0v3.2m-.6 0h1.2M426.9 97.6h1.2m-.6 0v4.2m-.6 0h1.2M429.2 98.3h1.2m-.6 0v3.5m-.6 0h1.2M431.5 98.8h1.2m-.6 0v3.1m-.6 0h1.2M433.8 98.3h1.2m-.6 0v3.7m-.6 0h1.2M436.1 98.5h1.2m-.6 0v3.1m-.6 0h1.2M438.4 98.4h1.2m-.6 0v3.9m-.6 0h1.2M440.7 98.4h1.2m-.6 0v2.7m-.6 0h1.2M443.0 98.0h1.2m-.6 0v4.0m-.6 0h1.2M445.3 98.9h1.2m-.6 0v3.6m-.6 0h1.2M447.7 98.8h1.2m-.6 0v3.2m-.6 0h1.2M450.0 98.2h1.2m-.6 0v4.2m-.6 0h1.2M452.3 99.3h1.2m-.6 0v3.1m-.6 0h1.2M454.6 98.8h1.2m-.6 0v3.0m-.6 0h1.2M456.9 98.8h1.2m-.6 0v2.7m-.6 0h1.2M459.2 98.5h1.2m-.6 0v3.6m-.6 0h1.2" stroke="#c4c4c4" stroke-width="0.4" fill="none"/>
<defs><path id="c24" d="M345.6 140l1.1-.5 1.2 .1 1.1 .3 1.2 .3 1.1 0 1.2 .3 1.1-4.3 1.2-6.2 1.1-5.4 1.2-4 1.1-3.6 1.2-3.1 1.2-2.6 1.1-1.8 1.2-1.8 1.1-2 1.2-.2 1.1-1 1.2-1 1.1-1.1 1.2-.7 1.1-.1 1.2-.6 1.1-.2 1.2-.3 1.2 0 1.1-.3 1.2-.2 1.1-.4 1.2-.4 1.1 1 1.2-.7 1.1 .1 1.2-.3 1.1 0 1.2 0 1.1 0 1.2 .5 1.2 .2 1.1-.9 1.2 .1 1.1 .6 1.2-.6 1.1 .2 1.2 .8 1.1-.9 1.2 .5 1.1-.5 1.2 .5 1.1 0 1.2 .2 1.2-.3 1.1-.3 1.2 .4 1.1 .4 1.2-1.1 1.1 .1 1.2 .3 1.1 .4 1.2 .2 1.1 .1 1.2-.5 1.2-.2 1.1 .6 1.2-.3 1.1 .1 1.2 .1 1.1-.2 1.2-.4 1.1 .7 1.2-.4 1.1 0 1.2 .4 1.1-.1 1.2 .4 1.2-.6 1.1 .4 1.2 0 1.1-.1 1.2 .2 1.1 .1 1.2-.2 1.1-.4 1.2 .4 1.1-.1 1.2 .5 1.1 .1 1.2-.9 1.2 .6 1.1 .3 1.2-.4 1.1-.1 1.2 .6 1.1-.2 1.2-.3 1.1 .3 1.2-.4 1.1 0 1.2 .1 1.2 .3"/></defs>
<use href="#c17" stroke="#2b8cf0" stroke-width="1.4" fill="none" stroke-linejoin="round"/>
<use href="#c18" stroke="#d62020" stroke-width="1.4" fill="none" stroke-linejoin="round"/>
<use href="#c19" stroke="#2aa84a" stroke-width="1.4" fill="none" stroke-linejoin="round"/>
<use href="#c20" stroke="#8a2be8" stroke-width="1.4" fill="none" stroke-linejoin="round"/>
<use href="#c21" stroke="#18a4c4" stroke-width="1.4" fill="none" stroke-linejoin="round"/>
<use href="#c22" stroke="#f5881f" stroke-width="1.4" fill="none" stroke-linejoin="round"/>
<use href="#c23" stroke="#8fe0a8" stroke-width="1.4" fill="none" stroke-linejoin="round"/>
<use href="#c24" stroke="#eea0b8" stroke-width="1.4" fill="none" stroke-linejoin="round"/>
<line x1="345.55" y1="42.90" x2="345.55" y2="151.85" stroke="#444" stroke-width="0.7"/>
<line x1="345.20" y1="151.50" x2="461.30" y2="151.50" stroke="#444" stroke-width="0.7"/>
<line x1="342.15" y1="151.50" x2="345.55" y2="151.50" stroke="#444" stroke-width="0.6"/>
<line x1="342.95" y1="140.64" x2="345.55" y2="140.64" stroke="#444" stroke-width="0.6"/>
<line x1="342.15" y1="129.78" x2="345.55" y2="129.78" stroke="#444" stroke-width="0.6"/>
<line x1="342.95" y1="118.92" x2="345.55" y2="118.92" stroke="#444" stroke-width="0.6"/>
<line x1="342.15" y1="108.06" x2="345.55" y2="108.06" stroke="#444" stroke-width="0.6"/>
<line x1="342.95" y1="97.20" x2="345.55" y2="97.20" stroke="#444" stroke-width="0.6"/>
<line x1="342.15" y1="86.34" x2="345.55" y2="86.34" stroke="#444" stroke-width="0.6"/>
<line x1="342.95" y1="75.48" x2="345.55" y2="75.48" stroke="#444" stroke-width="0.6"/>
<line x1="342.15" y1="64.62" x2="345.55" y2="64.62" stroke="#444" stroke-width="0.6"/>
<line x1="342.95" y1="53.76" x2="345.55" y2="53.76" stroke="#444" stroke-width="0.6"/>
<line x1="342.15" y1="42.90" x2="345.55" y2="42.90" stroke="#444" stroke-width="0.6"/>
<line x1="345.55" y1="151.50" x2="345.55" y2="154.90" stroke="#444" stroke-width="0.6"/>
<line x1="351.32" y1="151.50" x2="351.32" y2="154.10" stroke="#444" stroke-width="0.6"/>
<line x1="357.09" y1="151.50" x2="357.09" y2="154.10" stroke="#444" stroke-width="0.6"/>
<line x1="362.86" y1="151.50" x2="362.86" y2="154.10" stroke="#444" stroke-width="0.6"/>
<line x1="368.63" y1="151.50" x2="368.63" y2="154.10" stroke="#444" stroke-width="0.6"/>
<line x1="374.40" y1="151.50" x2="374.40" y2="154.90" stroke="#444" stroke-width="0.6"/>
<line x1="380.17" y1="151.50" x2="380.17" y2="154.10" stroke="#444" stroke-width="0.6"/>
<line x1="385.94" y1="151.50" x2="385.94" y2="154.10" stroke="#444" stroke-width="0.6"/>
<line x1="391.71" y1="151.50" x2="391.71" y2="154.10" stroke="#444" stroke-width="0.6"/>
<line x1="397.48" y1="151.50" x2="397.48" y2="154.10" stroke="#444" stroke-width="0.6"/>
<line x1="403.25" y1="151.50" x2="403.25" y2="154.90" stroke="#444" stroke-width="0.6"/>
<line x1="409.02" y1="151.50" x2="409.02" y2="154.10" stroke="#444" stroke-width="0.6"/>
<line x1="414.79" y1="151.50" x2="414.79" y2="154.10" stroke="#444" stroke-width="0.6"/>
<line x1="420.56" y1="151.50" x2="420.56" y2="154.10" stroke="#444" stroke-width="0.6"/>
<line x1="426.33" y1="151.50" x2="426.33" y2="154.10" stroke="#444" stroke-width="0.6"/>
<line x1="432.10" y1="151.50" x2="432.10" y2="154.90" stroke="#444" stroke-width="0.6"/>
<line x1="437.87" y1="151.50" x2="437.87" y2="154.10" stroke="#444" stroke-width="0.6"/>
<line x1="443.64" y1="151.50" x2="443.64" y2="154.10" stroke="#444" stroke-width="0.6"/>
<line x1="449.41" y1="151.50" x2="449.41" y2="154.10" stroke="#444" stroke-width="0.6"/>
<line x1="455.18" y1="151.50" x2="455.18" y2="154.10" stroke="#444" stroke-width="0.6"/>
<line x1="460.95" y1="151.50" x2="460.95" y2="154.90" stroke="#444" stroke-width="0.6"/>
<text transform="translate(337.05 154.40) scale(0.9 1)" font-size="8.4" text-anchor="end" fill="#222">0</text>
<text transform="translate(337.05 132.68) scale(0.9 1)" font-size="8.4" text-anchor="end" fill="#222">0.2</text>
<text transform="translate(337.05 110.96) scale(0.9 1)" font-size="8.4" text-anchor="end" fill="#222">0.4</text>
<text transform="translate(337.05 89.24) scale(0.9 1)" font-size="8.4" text-anchor="end" fill="#222">0.6</text>
<text transform="translate(337.05 67.52) scale(0.9 1)" font-size="8.4" text-anchor="end" fill="#222">0.8</text>
<text transform="translate(337.05 45.80) scale(0.9 1)" font-size="8.4" text-anchor="end" fill="#222">1.0</text>
<text transform="translate(345.55 165.40) scale(0.93 1)" font-size="8.4" text-anchor="middle" fill="#222">0</text>
<text transform="translate(374.40 165.40) scale(0.93 1)" font-size="8.4" text-anchor="middle" fill="#222">500</text>
<text transform="translate(403.25 165.40) scale(0.93 1)" font-size="8.4" text-anchor="middle" fill="#222">1,000</text>
<text transform="translate(432.10 165.40) scale(0.93 1)" font-size="8.4" text-anchor="middle" fill="#222">1,500</text>
<text transform="translate(460.95 165.40) scale(0.93 1)" font-size="8.4" text-anchor="middle" fill="#222">2,000</text>
<text transform="translate(403.25 178.40) scale(0.975 1)" font-size="9.2" text-anchor="middle" fill="#222">Time (s)</text>
<text transform="translate(318.95 97.20) rotate(-90)" font-size="9.2" text-anchor="middle" fill="#222">OxD</text>
<text transform="translate(387.00 58.70) scale(0.93 1)" font-size="9.2" text-anchor="start" fill="#222">+ <tspan font-style="italic">Li</tspan>Prx2</text>
<path d="M488.3 147.9h1.2m-.6 0v1.5m-.6 0h1.2M490.6 147.0h1.2m-.6 0v2.1m-.6 0h1.2M492.9 147.0h1.2m-.6 0v2.2m-.6 0h1.2M495.2 147.8h1.2m-.6 0v2.0m-.6 0h1.2M497.5 147.6h1.2m-.6 0v2.1m-.6 0h1.2M499.8 147.9h1.2m-.6 0v1.6m-.6 0h1.2M502.1 147.6h1.2m-.6 0v2.2m-.6 0h1.2M504.4 147.6h1.2m-.6 0v1.4m-.6 0h1.2M506.7 148.0h1.2m-.6 0v1.7m-.6 0h1.2M509.0 147.4h1.2m-.6 0v1.4m-.6 0h1.2M511.3 147.9h1.2m-.6 0v1.7m-.6 0h1.2M513.6 148.3h1.2m-.6 0v1.9m-.6 0h1.2M515.9 147.6h1.2m-.6 0v1.9m-.6 0h1.2M518.3 147.8h1.2m-.6 0v1.7m-.6 0h1.2M520.6 148.0h1.2m-.6 0v1.6m-.6 0h1.2M522.9 148.4h1.2m-.6 0v1.5m-.6 0h1.2M525.2 147.9h1.2m-.6 0v1.7m-.6 0h1.2M527.5 147.6h1.2m-.6 0v1.5m-.6 0h1.2M529.8 148.7h1.2m-.6 0v1.5m-.6 0h1.2M532.1 147.6h1.2m-.6 0v1.9m-.6 0h1.2M534.4 148.4h1.2m-.6 0v1.8m-.6 0h1.2M536.7 148.5h1.2m-.6 0v1.7m-.6 0h1.2M539.0 148.8h1.2m-.6 0v1.5m-.6 0h1.2M541.3 148.5h1.2m-.6 0v1.9m-.6 0h1.2M543.6 148.0h1.2m-.6 0v1.5m-.6 0h1.2M546.0 148.6h1.2m-.6 0v1.5m-.6 0h1.2M548.3 148.0h1.2m-.6 0v1.8m-.6 0h1.2M550.6 148.4h1.2m-.6 0v1.9m-.6 0h1.2M552.9 147.8h1.2m-.6 0v2.1m-.6 0h1.2M555.2 148.0h1.2m-.6 0v2.0m-.6 0h1.2M557.5 148.7h1.2m-.6 0v2.1m-.6 0h1.2M559.8 148.3h1.2m-.6 0v2.1m-.6 0h1.2M562.1 148.3h1.2m-.6 0v1.9m-.6 0h1.2M564.4 148.4h1.2m-.6 0v1.9m-.6 0h1.2M566.7 148.5h1.2m-.6 0v1.4m-.6 0h1.2M569.0 148.2h1.2m-.6 0v1.5m-.6 0h1.2M571.3 148.4h1.2m-.6 0v1.3m-.6 0h1.2M573.6 148.3h1.2m-.6 0v2.1m-.6 0h1.2M576.0 148.1h1.2m-.6 0v1.9m-.6 0h1.2M578.3 148.2h1.2m-.6 0v1.9m-.6 0h1.2M580.6 148.6h1.2m-.6 0v1.5m-.6 0h1.2M582.9 148.1h1.2m-.6 0v1.6m-.6 0h1.2M585.2 148.0h1.2m-.6 0v1.4m-.6 0h1.2M587.5 147.8h1.2m-.6 0v1.9m-.6 0h1.2M589.8 148.5h1.2m-.6 0v2.2m-.6 0h1.2M592.1 148.4h1.2m-.6 0v1.6m-.6 0h1.2M594.4 148.6h1.2m-.6 0v1.3m-.6 0h1.2M596.7 148.5h1.2m-.6 0v1.5m-.6 0h1.2M599.0 148.8h1.2m-.6 0v1.6m-.6 0h1.2M601.3 148.4h1.2m-.6 0v2.1m-.6 0h1.2" stroke="#c4c4c4" stroke-width="0.4" fill="none"/>
<defs><path id="c25" d="M487.7 148.2l1.2 .5 1.1 0 1.2-.7 1.1 .1 1.2 0 1.1 .6 1.2 .1 1.1-.3 1.2 .1 1.1-.3 1.2 .4 1.1-.7 1.2 .6 1.2 .1 1.1-.4 1.2 .2 1.1 .3 1.2-.4 1.1-.2 1.2 .8 1.1-.2 1.2 .2 1.1 .3 1.2-.7 1.1 0 1.2-.1 1.2 .2 1.1 .7 1.2-.6 1.1 .2 1.2 .2 1.1 0 1.2-.5 1.1 .3 1.2-.6 1.1 .4 1.2 .6 1.2-.7 1.1-.1 1.2 .3 1.1 .4 1.2-.8 1.1 .8 1.2-.3 1.1 .5 1.2-.2 1.1 .2 1.2-.8 1.1 0 1.2 .4 1.2 .3 1.1-.3 1.2-.2 1.1 .6 1.2-.1 1.1-.3 1.2-.2 1.1 .2 1.2-.1 1.1 .4 1.2 .4 1.1-.8 1.2 .4 1.2-.3 1.1 .1 1.2-.2 1.1 .3 1.2-.5 1.1 .3 1.2-.1 1.1 0 1.2-.1 1.1 .2 1.2 .5 1.1-.3 1.2-.6 1.2 .4 1.1-.1 1.2 .1 1.1 .3 1.2 0 1.1 0 1.2-.5 1.1 .2 1.2-.3 1.1 .3 1.2-.4 1.2 .4 1.1 .5 1.2-.8 1.1 .4 1.2-.2 1.1 .2 1.2 .2 1.1-.1 1.2 .3 1.1 0 1.2 0 1.1-.1 1.2 .2"/></defs>
<path d="M488.3 147.1h1.2m-.6 0v2.1m-.6 0h1.2M490.6 147.2h1.2m-.6 0v1.9m-.6 0h1.2M492.9 147.2h1.2m-.6 0v1.5m-.6 0h1.2M495.2 148.1h1.2m-.6 0v2.0m-.6 0h1.2M497.5 147.1h1.2m-.6 0v1.4m-.6 0h1.2M499.8 147.9h1.2m-.6 0v1.7m-.6 0h1.2M502.1 147.5h1.2m-.6 0v1.4m-.6 0h1.2M504.4 147.6h1.2m-.6 0v2.0m-.6 0h1.2M506.7 147.2h1.2m-.6 0v2.1m-.6 0h1.2M509.0 146.7h1.2m-.6 0v2.1m-.6 0h1.2M511.3 147.8h1.2m-.6 0v1.3m-.6 0h1.2M513.6 147.0h1.2m-.6 0v2.0m-.6 0h1.2M515.9 147.5h1.2m-.6 0v1.8m-.6 0h1.2M518.3 147.2h1.2m-.6 0v2.0m-.6 0h1.2M520.6 147.5h1.2m-.6 0v1.7m-.6 0h1.2M522.9 147.4h1.2m-.6 0v1.8m-.6 0h1.2M525.2 147.6h1.2m-.6 0v1.8m-.6 0h1.2M527.5 147.3h1.2m-.6 0v2.0m-.6 0h1.2M529.8 147.9h1.2m-.6 0v1.4m-.6 0h1.2M532.1 147.6h1.2m-.6 0v1.4m-.6 0h1.2M534.4 147.4h1.2m-.6 0v1.8m-.6 0h1.2M536.7 148.2h1.2m-.6 0v1.6m-.6 0h1.2M539.0 148.1h1.2m-.6 0v1.6m-.6 0h1.2M541.3 147.9h1.2m-.6 0v1.3m-.6 0h1.2M543.6 147.4h1.2m-.6 0v2.0m-.6 0h1.2M546.0 147.7h1.2m-.6 0v1.3m-.6 0h1.2M548.3 147.5h1.2m-.6 0v2.0m-.6 0h1.2M550.6 148.0h1.2m-.6 0v2.0m-.6 0h1.2M552.9 148.1h1.2m-.6 0v1.7m-.6 0h1.2M555.2 148.1h1.2m-.6 0v1.4m-.6 0h1.2M557.5 147.8h1.2m-.6 0v1.9m-.6 0h1.2M559.8 148.3h1.2m-.6 0v1.5m-.6 0h1.2M562.1 148.1h1.2m-.6 0v1.7m-.6 0h1.2M564.4 148.1h1.2m-.6 0v1.4m-.6 0h1.2M566.7 147.9h1.2m-.6 0v2.2m-.6 0h1.2M569.0 147.6h1.2m-.6 0v1.8m-.6 0h1.2M571.3 148.1h1.2m-.6 0v1.6m-.6 0h1.2M573.6 148.1h1.2m-.6 0v1.4m-.6 0h1.2M576.0 147.9h1.2m-.6 0v1.9m-.6 0h1.2M578.3 147.8h1.2m-.6 0v2.0m-.6 0h1.2M580.6 148.2h1.2m-.6 0v2.0m-.6 0h1.2M582.9 148.1h1.2m-.6 0v1.4m-.6 0h1.2M585.2 147.7h1.2m-.6 0v1.6m-.6 0h1.2M587.5 148.1h1.2m-.6 0v1.6m-.6 0h1.2M589.8 148.0h1.2m-.6 0v2.0m-.6 0h1.2M592.1 148.2h1.2m-.6 0v1.4m-.6 0h1.2M594.4 147.8h1.2m-.6 0v1.8m-.6 0h1.2M596.7 147.8h1.2m-.6 0v2.2m-.6 0h1.2M599.0 148.1h1.2m-.6 0v2.0m-.6 0h1.2M601.3 148.4h1.2m-.6 0v1.3m-.6 0h1.2" stroke="#c4c4c4" stroke-width="0.4" fill="none"/>
<defs><path id="c26" d="M487.7 148.3l1.2-.2 1.1 .4 1.2-.4 1.1 .1 1.2-.2 1.1-.1 1.2 1.2 1.1-1 1.2-.3 1.1 .7 1.2 .3 1.1-.6 1.2 0 1.2 0 1.1 .4 1.2-.2 1.1-.2 1.2-.1 1.1-.4 1.2 .5 1.1 .3 1.2 .5 1.1-.9 1.2 .3 1.1 0 1.2 .3 1.2-.5 1.1 .7 1.2-.5 1.1 0 1.2 0 1.1-.3 1.2 .4 1.1-.1 1.2-.1 1.1 .6 1.2-.3 1.2-.1 1.1-.2 1.2 .5 1.1-.5 1.2 .2 1.1 .5 1.2 0 1.1 0 1.2-.4 1.1 0 1.2-.2 1.1 0 1.2 .4 1.2-.4 1.1 0 1.2 .1 1.1 0 1.2 .5 1.1-.4 1.2 .4 1.1 0 1.2-.2 1.1-.1 1.2 .1 1.1 0 1.2 .2 1.2-.3 1.1 .3 1.2 .2 1.1-.4 1.2-.4 1.1 .5 1.2 .2 1.1-.6 1.2-.1 1.1 .5 1.2 0 1.1-.1 1.2-.7 1.2 .8 1.1-.3 1.2 .2 1.1 .6 1.2-.2 1.1 .1 1.2-.5 1.1 .1 1.2-.4 1.1 .6 1.2-.2 1.2 .1 1.1 0 1.2-.6 1.1 .5 1.2-.3 1.1 .1 1.2 .5 1.1-.3 1.2 .3 1.1-.1 1.2-.1 1.1 .1 1.2 .1"/></defs>
<path d="M488.3 147.4h1.2m-.6 0v1.5m-.6 0h1.2M490.6 147.6h1.2m-.6 0v2.0m-.6 0h1.2M492.9 147.6h1.2m-.6 0v1.5m-.6 0h1.2M495.2 147.3h1.2m-.6 0v1.4m-.6 0h1.2M497.5 147.9h1.2m-.6 0v1.6m-.6 0h1.2M499.8 147.9h1.2m-.6 0v1.7m-.6 0h1.2M502.1 147.6h1.2m-.6 0v1.9m-.6 0h1.2M504.4 147.5h1.2m-.6 0v1.7m-.6 0h1.2M506.7 147.8h1.2m-.6 0v1.9m-.6 0h1.2M509.0 147.4h1.2m-.6 0v1.4m-.6 0h1.2M511.3 146.7h1.2m-.6 0v2.1m-.6 0h1.2M513.6 147.4h1.2m-.6 0v1.6m-.6 0h1.2M515.9 147.1h1.2m-.6 0v2.0m-.6 0h1.2M518.3 147.5h1.2m-.6 0v1.3m-.6 0h1.2M520.6 147.2h1.2m-.6 0v2.0m-.6 0h1.2M522.9 147.7h1.2m-.6 0v1.5m-.6 0h1.2M525.2 147.5h1.2m-.6 0v2.0m-.6 0h1.2M527.5 148.1h1.2m-.6 0v2.0m-.6 0h1.2M529.8 147.7h1.2m-.6 0v1.9m-.6 0h1.2M532.1 147.4h1.2m-.6 0v1.5m-.6 0h1.2M534.4 147.8h1.2m-.6 0v1.3m-.6 0h1.2M536.7 148.1h1.2m-.6 0v1.5m-.6 0h1.2M539.0 147.0h1.2m-.6 0v2.1m-.6 0h1.2M541.3 148.3h1.2m-.6 0v1.4m-.6 0h1.2M543.6 147.9h1.2m-.6 0v1.9m-.6 0h1.2M546.0 147.3h1.2m-.6 0v1.8m-.6 0h1.2M548.3 147.2h1.2m-.6 0v1.9m-.6 0h1.2M550.6 147.5h1.2m-.6 0v1.5m-.6 0h1.2M552.9 147.9h1.2m-.6 0v1.4m-.6 0h1.2M555.2 147.9h1.2m-.6 0v1.4m-.6 0h1.2M557.5 147.6h1.2m-.6 0v2.2m-.6 0h1.2M559.8 147.4h1.2m-.6 0v1.6m-.6 0h1.2M562.1 148.3h1.2m-.6 0v1.9m-.6 0h1.2M564.4 147.6h1.2m-.6 0v1.8m-.6 0h1.2M566.7 147.3h1.2m-.6 0v1.5m-.6 0h1.2M569.0 147.9h1.2m-.6 0v1.4m-.6 0h1.2M571.3 148.8h1.2m-.6 0v1.3m-.6 0h1.2M573.6 147.4h1.2m-.6 0v2.0m-.6 0h1.2M576.0 148.3h1.2m-.6 0v1.4m-.6 0h1.2M578.3 148.0h1.2m-.6 0v2.1m-.6 0h1.2M580.6 147.7h1.2m-.6 0v1.6m-.6 0h1.2M582.9 147.6h1.2m-.6 0v1.9m-.6 0h1.2M585.2 147.8h1.2m-.6 0v1.4m-.6 0h1.2M587.5 147.8h1.2m-.6 0v2.0m-.6 0h1.2M589.8 148.2h1.2m-.6 0v1.5m-.6 0h1.2M592.1 148.2h1.2m-.6 0v1.6m-.6 0h1.2M594.4 147.8h1.2m-.6 0v1.8m-.6 0h1.2M596.7 148.0h1.2m-.6 0v1.4m-.6 0h1.2M599.0 147.9h1.2m-.6 0v1.5m-.6 0h1.2M601.3 147.6h1.2m-.6 0v2.0m-.6 0h1.2" stroke="#c4c4c4" stroke-width="0.4" fill="none"/>
<defs><path id="c27" d="M487.7 148.1l1.2 .1 1.1 .2 1.2 .2 1.1-.1 1.2-.2 1.1 .3 1.2-.6 1.1 .6 1.2 .1 1.1-.4 1.2 .4 1.1-.9 1.2 .7 1.2-.2 1.1 0 1.2 .2 1.1 .3 1.2 0 1.1-.7 1.2-.1 1.1-.3 1.2 1 1.1-.5 1.2 .1 1.1-.2 1.2 .4 1.2-.4 1.1 0 1.2 .1 1.1-.2 1.2 .4 1.1-.4 1.2 .6 1.1-.7 1.2 1.2 1.1-.7 1.2 .2 1.2-.2 1.1-.3 1.2 .1 1.1 .2 1.2-.4 1.1 .8 1.2-.1 1.1-.7 1.2 .4 1.1 .6 1.2-.6 1.1 .4 1.2-.7 1.2 .1 1.1 .4 1.2-.4 1.1 .5 1.2-.4 1.1 .1 1.2 .2 1.1 .3 1.2-.3 1.1 .6 1.2-.5 1.1 .4 1.2-.9 1.2 .6 1.1 .4 1.2-.8 1.1 .1 1.2 .2 1.1-.7 1.2 .4 1.1 .2 1.2 .2 1.1 .6 1.2-.9 1.1-.1 1.2 .4 1.2 .2 1.1-.3 1.2 .4 1.1-.4 1.2-.2 1.1-.2 1.2 .3 1.1 0 1.2-.1 1.1-.2 1.2 .5 1.2 .2 1.1-.1 1.2 .2 1.1-.1 1.2-.2 1.1-.1 1.2 0 1.1 0 1.2 .2 1.1-.2 1.2-.2 1.1 .1 1.2-.2"/></defs>
<path d="M488.3 147.4h1.2m-.6 0v1.7m-.6 0h1.2M490.6 147.1h1.2m-.6 0v2.2m-.6 0h1.2M492.9 147.3h1.2m-.6 0v1.8m-.6 0h1.2M495.2 147.7h1.2m-.6 0v1.5m-.6 0h1.2M497.5 147.4h1.2m-.6 0v2.0m-.6 0h1.2M499.8 147.4h1.2m-.6 0v1.5m-.6 0h1.2M502.1 147.4h1.2m-.6 0v2.2m-.6 0h1.2M504.4 147.3h1.2m-.6 0v1.7m-.6 0h1.2M506.7 147.5h1.2m-.6 0v1.5m-.6 0h1.2M509.0 147.5h1.2m-.6 0v2.1m-.6 0h1.2M511.3 147.3h1.2m-.6 0v1.6m-.6 0h1.2M513.6 147.5h1.2m-.6 0v1.7m-.6 0h1.2M515.9 147.3h1.2m-.6 0v1.6m-.6 0h1.2M518.3 147.2h1.2m-.6 0v1.9m-.6 0h1.2M520.6 147.7h1.2m-.6 0v1.3m-.6 0h1.2M522.9 147.1h1.2m-.6 0v1.6m-.6 0h1.2M525.2 147.3h1.2m-.6 0v1.4m-.6 0h1.2M527.5 147.3h1.2m-.6 0v2.0m-.6 0h1.2M529.8 147.1h1.2m-.6 0v1.3m-.6 0h1.2M532.1 147.3h1.2m-.6 0v1.8m-.6 0h1.2M534.4 147.2h1.2m-.6 0v1.5m-.6 0h1.2M536.7 147.5h1.2m-.6 0v1.7m-.6 0h1.2M539.0 147.3h1.2m-.6 0v1.8m-.6 0h1.2M541.3 147.2h1.2m-.6 0v1.9m-.6 0h1.2M543.6 147.4h1.2m-.6 0v1.4m-.6 0h1.2M546.0 147.6h1.2m-.6 0v1.5m-.6 0h1.2M548.3 147.9h1.2m-.6 0v1.4m-.6 0h1.2M550.6 147.2h1.2m-.6 0v2.1m-.6 0h1.2M552.9 147.8h1.2m-.6 0v1.4m-.6 0h1.2M555.2 147.4h1.2m-.6 0v1.4m-.6 0h1.2M557.5 147.6h1.2m-.6 0v1.8m-.6 0h1.2M559.8 147.8h1.2m-.6 0v1.8m-.6 0h1.2M562.1 147.2h1.2m-.6 0v2.1m-.6 0h1.2M564.4 147.9h1.2m-.6 0v1.4m-.6 0h1.2M566.7 147.7h1.2m-.6 0v1.5m-.6 0h1.2M569.0 148.1h1.2m-.6 0v1.4m-.6 0h1.2M571.3 147.4h1.2m-.6 0v1.8m-.6 0h1.2M573.6 147.3h1.2m-.6 0v1.7m-.6 0h1.2M576.0 147.6h1.2m-.6 0v1.7m-.6 0h1.2M578.3 147.4h1.2m-.6 0v2.1m-.6 0h1.2M580.6 147.6h1.2m-.6 0v1.9m-.6 0h1.2M582.9 147.5h1.2m-.6 0v2.1m-.6 0h1.2M585.2 147.6h1.2m-.6 0v2.1m-.6 0h1.2M587.5 148.0h1.2m-.6 0v1.5m-.6 0h1.2M589.8 147.5h1.2m-.6 0v2.1m-.6 0h1.2M592.1 148.4h1.2m-.6 0v1.7m-.6 0h1.2M594.4 148.4h1.2m-.6 0v1.3m-.6 0h1.2M596.7 147.0h1.2m-.6 0v2.1m-.6 0h1.2M599.0 148.0h1.2m-.6 0v1.4m-.6 0h1.2M601.3 148.8h1.2m-.6 0v1.3m-.6 0h1.2" stroke="#c4c4c4" stroke-width="0.4" fill="none"/>
<defs><path id="c28" d="M487.7 148.3l1.2 0 1.1-.3 1.2 .2 1.1 .2 1.2-.2 1.1-.1 1.2 .3 1.1-.3 1.2 .3 1.1 0 1.2-.3 1.1 .1 1.2 .2 1.2 .2 1.1-.4 1.2-.1 1.1 .2 1.2-.2 1.1 .5 1.2-.5 1.1 0 1.2 0 1.1 .2 1.2-.1 1.1-.1 1.2-.2 1.2 .2 1.1 0 1.2 .3 1.1-.4 1.2-.1 1.1 .5 1.2-.3 1.1 .1 1.2 .1 1.1 .3 1.2-.8 1.2 1 1.1-.6 1.2 .2 1.1-.4 1.2 .4 1.1-.1 1.2-.1 1.1 0 1.2 .3 1.1-.3 1.2 0 1.1-.1 1.2 .4 1.2-.1 1.1 .1 1.2 .1 1.1-.3 1.2 0 1.1-.3 1.2 .5 1.1-.2 1.2-.2 1.1 .4 1.2-.1 1.1 0 1.2 .3 1.2 .1 1.1-.6 1.2 .3 1.1 0 1.2 .4 1.1-.4 1.2-.3 1.1 .7 1.2-.1 1.1-.5 1.2-.1 1.1 0 1.2 .5 1.2-.3 1.1 .4 1.2-.3 1.1 .2 1.2-.1 1.1-.3 1.2 .3 1.1 .1 1.2-.1 1.1 0 1.2 .2 1.2-.2 1.1-.1 1.2-.2 1.1 1 1.2-.3 1.1 .1 1.2-.6 1.1-.4 1.2 .6 1.1 0 1.2-.2 1.1 .9 1.2-.6"/></defs>
<path d="M488.3 147.3h1.2m-.6 0v1.5m-.6 0h1.2M490.6 147.4h1.2m-.6 0v1.9m-.6 0h1.2M492.9 147.0h1.2m-.6 0v2.2m-.6 0h1.2M495.2 148.0h1.2m-.6 0v1.3m-.6 0h1.2M497.5 147.7h1.2m-.6 0v1.4m-.6 0h1.2M499.8 146.9h1.2m-.6 0v2.1m-.6 0h1.2M502.1 147.3h1.2m-.6 0v2.1m-.6 0h1.2M504.4 147.8h1.2m-.6 0v1.4m-.6 0h1.2M506.7 147.2h1.2m-.6 0v1.6m-.6 0h1.2M509.0 146.8h1.2m-.6 0v1.8m-.6 0h1.2M511.3 147.2h1.2m-.6 0v1.6m-.6 0h1.2M513.6 147.3h1.2m-.6 0v1.7m-.6 0h1.2M515.9 146.8h1.2m-.6 0v1.7m-.6 0h1.2M518.3 147.2h1.2m-.6 0v1.5m-.6 0h1.2M520.6 147.0h1.2m-.6 0v1.4m-.6 0h1.2M522.9 147.5h1.2m-.6 0v1.4m-.6 0h1.2M525.2 147.6h1.2m-.6 0v1.4m-.6 0h1.2M527.5 147.2h1.2m-.6 0v1.4m-.6 0h1.2M529.8 147.4h1.2m-.6 0v1.8m-.6 0h1.2M532.1 147.2h1.2m-.6 0v1.9m-.6 0h1.2M534.4 147.3h1.2m-.6 0v1.5m-.6 0h1.2M536.7 146.7h1.2m-.6 0v2.0m-.6 0h1.2M539.0 147.1h1.2m-.6 0v1.9m-.6 0h1.2M541.3 146.9h1.2m-.6 0v1.6m-.6 0h1.2M543.6 147.3h1.2m-.6 0v1.7m-.6 0h1.2M546.0 147.6h1.2m-.6 0v1.5m-.6 0h1.2M548.3 147.4h1.2m-.6 0v2.1m-.6 0h1.2M550.6 147.1h1.2m-.6 0v1.8m-.6 0h1.2M552.9 147.2h1.2m-.6 0v1.3m-.6 0h1.2M555.2 147.4h1.2m-.6 0v1.4m-.6 0h1.2M557.5 147.0h1.2m-.6 0v1.9m-.6 0h1.2M559.8 147.2h1.2m-.6 0v1.6m-.6 0h1.2M562.1 147.3h1.2m-.6 0v1.9m-.6 0h1.2M564.4 147.1h1.2m-.6 0v1.5m-.6 0h1.2M566.7 147.1h1.2m-.6 0v2.0m-.6 0h1.2M569.0 147.2h1.2m-.6 0v2.0m-.6 0h1.2M571.3 147.7h1.2m-.6 0v1.4m-.6 0h1.2M573.6 146.8h1.2m-.6 0v1.8m-.6 0h1.2M576.0 148.0h1.2m-.6 0v1.5m-.6 0h1.2M578.3 147.6h1.2m-.6 0v1.9m-.6 0h1.2M580.6 148.0h1.2m-.6 0v2.0m-.6 0h1.2M582.9 146.9h1.2m-.6 0v2.0m-.6 0h1.2M585.2 147.4h1.2m-.6 0v1.5m-.6 0h1.2M587.5 148.0h1.2m-.6 0v1.4m-.6 0h1.2M589.8 147.9h1.2m-.6 0v1.9m-.6 0h1.2M592.1 147.6h1.2m-.6 0v1.8m-.6 0h1.2M594.4 147.7h1.2m-.6 0v1.4m-.6 0h1.2M596.7 147.9h1.2m-.6 0v1.5m-.6 0h1.2M599.0 147.5h1.2m-.6 0v1.8m-.6 0h1.2M601.3 147.4h1.2m-.6 0v1.4m-.6 0h1.2" stroke="#c4c4c4" stroke-width="0.4" fill="none"/>
<defs><path id="c29" d="M487.7 148.3l1.2-.3 1.1-.3 1.2 .7 1.1 .1 1.2-.4 1.1-.1 1.2 .6 1.1-.2 1.2 0 1.1-.4 1.2 0 1.1 .3 1.2 0 1.2-.5 1.1 .7 1.2-.7 1.1 .2 1.2-.6 1.1 .3 1.2 .4 1.1-.1 1.2 0 1.1 .1 1.2-.2 1.1-.2 1.2 .6 1.2-.3 1.1-.5 1.2 .2 1.1 .4 1.2 0 1.1 .1 1.2 .2 1.1-.8 1.2 .3 1.1 .2 1.2 .2 1.2-.2 1.1 0 1.2-.6 1.1 .6 1.2-.1 1.1-.3 1.2 .1 1.1 .3 1.2 .5 1.1-.9 1.2 .2 1.1 .3 1.2-.1 1.2 .2 1.1 0 1.2 .2 1.1-.6 1.2 .1 1.1 .1 1.2-.2 1.1 .1 1.2 .1 1.1 .3 1.2-.4 1.1-.2 1.2 .2 1.2-.2 1.1 .5 1.2 .1 1.1-.5 1.2 .5 1.1-.3 1.2 .2 1.1-.1 1.2 .1 1.1 .1 1.2 .3 1.1-1 1.2 .5 1.2 .6 1.1-.3 1.2 .1 1.1-.1 1.2 .5 1.1-.8 1.2-.3 1.1 .5 1.2-.3 1.1 .1 1.2 .5 1.2-.7 1.1 .8 1.2-.3 1.1 0 1.2-.4 1.1 .3 1.2 0 1.1 .2 1.2-.2 1.1 0 1.2-.2 1.1-.1 1.2 .2"/></defs>
<path d="M488.3 147.3h1.2m-.6 0v2.1m-.6 0h1.2M490.6 147.2h1.2m-.6 0v2.1m-.6 0h1.2M492.9 147.8h1.2m-.6 0v1.7m-.6 0h1.2M495.2 146.7h1.2m-.6 0v2.1m-.6 0h1.2M497.5 147.0h1.2m-.6 0v1.8m-.6 0h1.2M499.8 146.5h1.2m-.6 0v1.6m-.6 0h1.2M502.1 145.6h1.2m-.6 0v1.7m-.6 0h1.2M504.4 144.5h1.2m-.6 0v1.9m-.6 0h1.2M506.7 144.8h1.2m-.6 0v1.9m-.6 0h1.2M509.0 145.1h1.2m-.6 0v1.4m-.6 0h1.2M511.3 145.2h1.2m-.6 0v1.5m-.6 0h1.2M513.6 145.2h1.2m-.6 0v2.1m-.6 0h1.2M515.9 145.5h1.2m-.6 0v1.4m-.6 0h1.2M518.3 145.6h1.2m-.6 0v2.0m-.6 0h1.2M520.6 145.4h1.2m-.6 0v1.6m-.6 0h1.2M522.9 145.8h1.2m-.6 0v1.5m-.6 0h1.2M525.2 146.1h1.2m-.6 0v1.5m-.6 0h1.2M527.5 145.5h1.2m-.6 0v1.7m-.6 0h1.2M529.8 146.0h1.2m-.6 0v2.2m-.6 0h1.2M532.1 146.1h1.2m-.6 0v1.4m-.6 0h1.2M534.4 146.3h1.2m-.6 0v2.0m-.6 0h1.2M536.7 146.5h1.2m-.6 0v1.6m-.6 0h1.2M539.0 146.5h1.2m-.6 0v1.5m-.6 0h1.2M541.3 146.1h1.2m-.6 0v2.0m-.6 0h1.2M543.6 146.8h1.2m-.6 0v1.6m-.6 0h1.2M546.0 146.8h1.2m-.6 0v1.5m-.6 0h1.2M548.3 146.8h1.2m-.6 0v1.7m-.6 0h1.2M550.6 146.6h1.2m-.6 0v2.0m-.6 0h1.2M552.9 146.8h1.2m-.6 0v2.1m-.6 0h1.2M555.2 146.1h1.2m-.6 0v1.8m-.6 0h1.2M557.5 147.1h1.2m-.6 0v1.3m-.6 0h1.2M559.8 147.1h1.2m-.6 0v2.0m-.6 0h1.2M562.1 146.8h1.2m-.6 0v1.8m-.6 0h1.2M564.4 146.1h1.2m-.6 0v2.1m-.6 0h1.2M566.7 146.5h1.2m-.6 0v2.1m-.6 0h1.2M569.0 147.2h1.2m-.6 0v1.6m-.6 0h1.2M571.3 146.4h1.2m-.6 0v2.0m-.6 0h1.2M573.6 146.8h1.2m-.6 0v2.0m-.6 0h1.2M576.0 146.9h1.2m-.6 0v1.5m-.6 0h1.2M578.3 146.5h1.2m-.6 0v1.6m-.6 0h1.2M580.6 146.9h1.2m-.6 0v1.6m-.6 0h1.2M582.9 147.1h1.2m-.6 0v1.6m-.6 0h1.2M585.2 147.1h1.2m-.6 0v1.6m-.6 0h1.2M587.5 147.1h1.2m-.6 0v1.4m-.6 0h1.2M589.8 147.2h1.2m-.6 0v1.5m-.6 0h1.2M592.1 146.8h1.2m-.6 0v2.1m-.6 0h1.2M594.4 147.4h1.2m-.6 0v1.7m-.6 0h1.2M596.7 147.0h1.2m-.6 0v1.9m-.6 0h1.2M599.0 146.9h1.2m-.6 0v2.1m-.6 0h1.2M601.3 147.1h1.2m-.6 0v2.0m-.6 0h1.2" stroke="#c4c4c4" stroke-width="0.4" fill="none"/>
<defs><path id="c30" d="M487.7 148.2l1.2 .2 1.1 0 1.2-.1 1.1-.3 1.2 .7 1.1-.4 1.2-.5 1.1 .3 1.2-.2 1.1-.6 1.2 0 1.1-.5 1.2-.4 1.2-.4 1.1-.5 1.2-.1 1.1 .4 1.2 .2 1.1-.2 1.2 0 1.1 .2 1.2 .6 1.1-.3 1.2 .6 1.1-.7 1.2 .4 1.2 0 1.1-.5 1.2 .1 1.1 .3 1.2 .1 1.1 .1 1.2 .2 1.1-.1 1.2-.5 1.1 .8 1.2 0 1.2-.2 1.1-.1 1.2 0 1.1 .6 1.2-.2 1.1 0 1.2 .3 1.1-.3 1.2 .2 1.1-.3 1.2 .1 1.1 .4 1.2-.2 1.2 .1 1.1 .1 1.2 0 1.1-.4 1.2 .4 1.1 .4 1.2-.2 1.1-.4 1.2-.4 1.1 .9 1.2-.2 1.1 .1 1.2 .3 1.2-.5 1.1 .1 1.2 0 1.1-.5 1.2 .6 1.1-.2 1.2 0 1.1 .4 1.2 0 1.1-.6 1.2 .3 1.1 .1 1.2 .4 1.2-.5 1.1 .1 1.2-.5 1.1 .2 1.2 .2 1.1 .2 1.2 0 1.1 .2 1.2-.2 1.1 0 1.2-.1 1.2-.1 1.1 .2 1.2 .3 1.1-.4 1.2-.2 1.1 .7 1.2-.4 1.1 0 1.2 0 1.1 0 1.2 .2 1.1 0 1.2-.5"/></defs>
<path d="M488.3 145.7h1.2m-.6 0v3.8m-.6 0h1.2M490.6 147.5h1.2m-.6 0v3.1m-.6 0h1.2M492.9 146.9h1.2m-.6 0v3.5m-.6 0h1.2M495.2 147.2h1.2m-.6 0v2.6m-.6 0h1.2M497.5 146.1h1.2m-.6 0v3.7m-.6 0h1.2M499.8 144.3h1.2m-.6 0v3.1m-.6 0h1.2M502.1 141.2h1.2m-.6 0v3.4m-.6 0h1.2M504.4 138.8h1.2m-.6 0v3.6m-.6 0h1.2M506.7 138.1h1.2m-.6 0v2.8m-.6 0h1.2M509.0 137.6h1.2m-.6 0v3.7m-.6 0h1.2M511.3 138.7h1.2m-.6 0v2.6m-.6 0h1.2M513.6 139.4h1.2m-.6 0v2.3m-.6 0h1.2M515.9 138.9h1.2m-.6 0v3.0m-.6 0h1.2M518.3 139.2h1.2m-.6 0v3.6m-.6 0h1.2M520.6 139.1h1.2m-.6 0v3.6m-.6 0h1.2M522.9 140.3h1.2m-.6 0v3.7m-.6 0h1.2M525.2 140.2h1.2m-.6 0v3.1m-.6 0h1.2M527.5 140.2h1.2m-.6 0v3.7m-.6 0h1.2M529.8 140.9h1.2m-.6 0v3.1m-.6 0h1.2M532.1 141.7h1.2m-.6 0v2.5m-.6 0h1.2M534.4 141.3h1.2m-.6 0v3.2m-.6 0h1.2M536.7 141.7h1.2m-.6 0v3.5m-.6 0h1.2M539.0 141.9h1.2m-.6 0v2.9m-.6 0h1.2M541.3 142.7h1.2m-.6 0v3.2m-.6 0h1.2M543.6 142.2h1.2m-.6 0v2.7m-.6 0h1.2M546.0 142.9h1.2m-.6 0v2.7m-.6 0h1.2M548.3 143.0h1.2m-.6 0v2.9m-.6 0h1.2M550.6 142.3h1.2m-.6 0v3.1m-.6 0h1.2M552.9 143.1h1.2m-.6 0v3.0m-.6 0h1.2M555.2 143.7h1.2m-.6 0v2.4m-.6 0h1.2M557.5 143.7h1.2m-.6 0v2.3m-.6 0h1.2M559.8 143.3h1.2m-.6 0v2.8m-.6 0h1.2M562.1 143.5h1.2m-.6 0v3.4m-.6 0h1.2M564.4 143.3h1.2m-.6 0v3.4m-.6 0h1.2M566.7 144.1h1.2m-.6 0v2.6m-.6 0h1.2M569.0 143.6h1.2m-.6 0v2.7m-.6 0h1.2M571.3 143.9h1.2m-.6 0v3.1m-.6 0h1.2M573.6 144.1h1.2m-.6 0v2.5m-.6 0h1.2M576.0 144.0h1.2m-.6 0v3.2m-.6 0h1.2M578.3 144.0h1.2m-.6 0v3.7m-.6 0h1.2M580.6 144.8h1.2m-.6 0v2.6m-.6 0h1.2M582.9 143.9h1.2m-.6 0v3.2m-.6 0h1.2M585.2 144.5h1.2m-.6 0v3.4m-.6 0h1.2M587.5 144.9h1.2m-.6 0v3.4m-.6 0h1.2M589.8 144.3h1.2m-.6 0v3.4m-.6 0h1.2M592.1 145.1h1.2m-.6 0v3.4m-.6 0h1.2M594.4 144.6h1.2m-.6 0v2.7m-.6 0h1.2M596.7 144.1h1.2m-.6 0v3.6m-.6 0h1.2M599.0 144.2h1.2m-.6 0v3.7m-.6 0h1.2M601.3 145.2h1.2m-.6 0v2.4m-.6 0h1.2" stroke="#c4c4c4" stroke-width="0.4" fill="none"/>
<defs><path id="c31" d="M487.7 148.2l1.2-.6 1.1 .4 1.2 1 1.1-.7 1.2 .4 1.1-.5 1.2 .2 1.1-.1 1.2-.3 1.1-1.2 1.2-1 1.1-1.2 1.2-1.6 1.2-1.6 1.1-.8 1.2-1.4 1.1 .3 1.2-.5 1.1 .5 1.2-.3 1.1 .8 1.2 .2 1.1 .3 1.2-.6 1.1 .5 1.2 .7 1.2-.1 1.1 .4 1.2-.5 1.1 .4 1.2 .9 1.1-.5 1.2 0 1.1 .4 1.2 0 1.1 .3 1.2 0 1.2 .2 1.1 .3 1.2-.1 1.1 .2 1.2 .1 1.1 .3 1.2 .2 1.1-.2 1.2-.1 1.1 1 1.2-.4 1.1-.4 1.2 .2 1.2 .5 1.1-.4 1.2 .7 1.1 0 1.2-.6 1.1 .7 1.2 0 1.1 .4 1.2-.1 1.1 .1 1.2-.2 1.1 .6 1.2-.7 1.2 .4 1.1 .1 1.2 .1 1.1-.3 1.2-.2 1.1 .6 1.2-.5 1.1 .1 1.2 .1 1.1 .3 1.2 .5 1.1-.5 1.2 .3 1.2-.1 1.1 .6 1.2-.4 1.1-.1 1.2 .4 1.1-.3 1.2-.3 1.1 .4 1.2 .3 1.1-.8 1.2 1.2 1.2-.3 1.1-.3 1.2 .3 1.1 .5 1.2-.7 1.1-.1 1.2 .5 1.1-.6 1.2 .3 1.1-.2 1.2 .7 1.1-.3 1.2-.4"/></defs>
<path d="M488.3 146.8h1.2m-.6 0v2.3m-.6 0h1.2M490.6 146.9h1.2m-.6 0v2.6m-.6 0h1.2M492.9 146.9h1.2m-.6 0v2.4m-.6 0h1.2M495.2 146.3h1.2m-.6 0v3.5m-.6 0h1.2M497.5 146.9h1.2m-.6 0v2.5m-.6 0h1.2M499.8 143.4h1.2m-.6 0v2.6m-.6 0h1.2M502.1 138.7h1.2m-.6 0v2.4m-.6 0h1.2M504.4 133.7h1.2m-.6 0v2.7m-.6 0h1.2M506.7 130.1h1.2m-.6 0v3.4m-.6 0h1.2M509.0 128.5h1.2m-.6 0v3.4m-.6 0h1.2M511.3 128.9h1.2m-.6 0v3.7m-.6 0h1.2M513.6 129.7h1.2m-.6 0v3.7m-.6 0h1.2M515.9 130.3h1.2m-.6 0v3.1m-.6 0h1.2M518.3 131.3h1.2m-.6 0v3.7m-.6 0h1.2M520.6 132.4h1.2m-.6 0v2.4m-.6 0h1.2M522.9 131.7h1.2m-.6 0v3.7m-.6 0h1.2M525.2 132.5h1.2m-.6 0v2.9m-.6 0h1.2M527.5 132.9h1.2m-.6 0v2.6m-.6 0h1.2M529.8 133.1h1.2m-.6 0v3.4m-.6 0h1.2M532.1 133.4h1.2m-.6 0v3.6m-.6 0h1.2M534.4 134.2h1.2m-.6 0v2.9m-.6 0h1.2M536.7 134.6h1.2m-.6 0v2.4m-.6 0h1.2M539.0 133.9h1.2m-.6 0v3.6m-.6 0h1.2M541.3 134.7h1.2m-.6 0v3.4m-.6 0h1.2M543.6 134.8h1.2m-.6 0v3.2m-.6 0h1.2M546.0 135.3h1.2m-.6 0v3.8m-.6 0h1.2M548.3 135.8h1.2m-.6 0v2.3m-.6 0h1.2M550.6 136.5h1.2m-.6 0v2.4m-.6 0h1.2M552.9 136.9h1.2m-.6 0v2.5m-.6 0h1.2M555.2 136.9h1.2m-.6 0v2.3m-.6 0h1.2M557.5 136.4h1.2m-.6 0v3.4m-.6 0h1.2M559.8 136.5h1.2m-.6 0v3.2m-.6 0h1.2M562.1 137.8h1.2m-.6 0v2.5m-.6 0h1.2M564.4 138.0h1.2m-.6 0v2.5m-.6 0h1.2M566.7 138.0h1.2m-.6 0v2.6m-.6 0h1.2M569.0 137.6h1.2m-.6 0v3.2m-.6 0h1.2M571.3 137.4h1.2m-.6 0v3.3m-.6 0h1.2M573.6 137.5h1.2m-.6 0v3.8m-.6 0h1.2M576.0 138.7h1.2m-.6 0v2.8m-.6 0h1.2M578.3 138.4h1.2m-.6 0v3.8m-.6 0h1.2M580.6 138.8h1.2m-.6 0v2.9m-.6 0h1.2M582.9 138.4h1.2m-.6 0v2.9m-.6 0h1.2M585.2 139.3h1.2m-.6 0v2.7m-.6 0h1.2M587.5 139.4h1.2m-.6 0v2.6m-.6 0h1.2M589.8 138.7h1.2m-.6 0v3.8m-.6 0h1.2M592.1 139.0h1.2m-.6 0v3.8m-.6 0h1.2M594.4 139.6h1.2m-.6 0v3.4m-.6 0h1.2M596.7 139.9h1.2m-.6 0v2.5m-.6 0h1.2M599.0 140.0h1.2m-.6 0v2.6m-.6 0h1.2M601.3 139.7h1.2m-.6 0v2.5m-.6 0h1.2" stroke="#c4c4c4" stroke-width="0.4" fill="none"/>
<defs><path id="c32" d="M487.7 147.7l1.2 .3 1.1 .3 1.2-.1 1.1 0 1.2-.1 1.1 .5 1.2-.5 1.1-.2 1.2 .2 1.1-1.1 1.2-2.3 1.1-2.8 1.2-2 1.2-2.6 1.1-2.3 1.2-2.1 1.1-1.1 1.2-1 1.1-.6 1.2 .2 1.1 .3 1.2 .4 1.1 .5 1.2-.2 1.1 .4 1.2 .1 1.2 1.2 1.1-.7 1.2 1.2 1.1-.5 1.2 .5 1.1 0 1.2 .3 1.1 .2 1.2 .1 1.1 .1 1.2 .5 1.2 .7 1.1-.3 1.2-.2 1.1 .6 1.2-.2 1.1 .4 1.2 .3 1.1-.4 1.2 .1 1.1 .6 1.2 .1 1.1-.1 1.2 .8 1.2 0 1.1-.4 1.2 .2 1.1 .5 1.2 .2 1.1-.2 1.2 .6 1.1-.1 1.2 .1 1.1 .7 1.2-.7 1.1 0 1.2 .1 1.2 .7 1.1 .1 1.2 0 1.1 .2 1.2-.8 1.1 .9 1.2-.1 1.1 0 1.2 0 1.1-.2 1.2 .8 1.1-.4 1.2 .2 1.2 .5 1.1-.3 1.2 .5 1.1-.7 1.2 .7 1.1-.4 1.2 0 1.1 .5 1.2 .2 1.1-.2 1.2 .4 1.2-.5 1.1 .3 1.2 .3 1.1 0 1.2-.3 1.1 .6 1.2-.8 1.1 .8 1.2-.1 1.1 .2 1.2-.6 1.1 .2 1.2-.1"/></defs>
<use href="#c25" stroke="#2b8cf0" stroke-width="1.4" fill="none" stroke-linejoin="round"/>
<use href="#c26" stroke="#d62020" stroke-width="1.4" fill="none" stroke-linejoin="round"/>
<use href="#c27" stroke="#2aa84a" stroke-width="1.4" fill="none" stroke-linejoin="round"/>
<use href="#c28" stroke="#8a2be8" stroke-width="1.4" fill="none" stroke-linejoin="round"/>
<use href="#c29" stroke="#18a4c4" stroke-width="1.4" fill="none" stroke-linejoin="round"/>
<use href="#c30" stroke="#f5881f" stroke-width="1.4" fill="none" stroke-linejoin="round"/>
<use href="#c31" stroke="#8fe0a8" stroke-width="1.4" fill="none" stroke-linejoin="round"/>
<use href="#c32" stroke="#eea0b8" stroke-width="1.4" fill="none" stroke-linejoin="round"/>
<line x1="487.70" y1="42.90" x2="487.70" y2="151.85" stroke="#444" stroke-width="0.7"/>
<line x1="487.35" y1="151.50" x2="603.45" y2="151.50" stroke="#444" stroke-width="0.7"/>
<line x1="484.30" y1="151.50" x2="487.70" y2="151.50" stroke="#444" stroke-width="0.6"/>
<line x1="485.10" y1="140.64" x2="487.70" y2="140.64" stroke="#444" stroke-width="0.6"/>
<line x1="484.30" y1="129.78" x2="487.70" y2="129.78" stroke="#444" stroke-width="0.6"/>
<line x1="485.10" y1="118.92" x2="487.70" y2="118.92" stroke="#444" stroke-width="0.6"/>
<line x1="484.30" y1="108.06" x2="487.70" y2="108.06" stroke="#444" stroke-width="0.6"/>
<line x1="485.10" y1="97.20" x2="487.70" y2="97.20" stroke="#444" stroke-width="0.6"/>
<line x1="484.30" y1="86.34" x2="487.70" y2="86.34" stroke="#444" stroke-width="0.6"/>
<line x1="485.10" y1="75.48" x2="487.70" y2="75.48" stroke="#444" stroke-width="0.6"/>
<line x1="484.30" y1="64.62" x2="487.70" y2="64.62" stroke="#444" stroke-width="0.6"/>
<line x1="485.10" y1="53.76" x2="487.70" y2="53.76" stroke="#444" stroke-width="0.6"/>
<line x1="484.30" y1="42.90" x2="487.70" y2="42.90" stroke="#444" stroke-width="0.6"/>
<line x1="487.70" y1="151.50" x2="487.70" y2="154.90" stroke="#444" stroke-width="0.6"/>
<line x1="493.47" y1="151.50" x2="493.47" y2="154.10" stroke="#444" stroke-width="0.6"/>
<line x1="499.24" y1="151.50" x2="499.24" y2="154.10" stroke="#444" stroke-width="0.6"/>
<line x1="505.01" y1="151.50" x2="505.01" y2="154.10" stroke="#444" stroke-width="0.6"/>
<line x1="510.78" y1="151.50" x2="510.78" y2="154.10" stroke="#444" stroke-width="0.6"/>
<line x1="516.55" y1="151.50" x2="516.55" y2="154.90" stroke="#444" stroke-width="0.6"/>
<line x1="522.32" y1="151.50" x2="522.32" y2="154.10" stroke="#444" stroke-width="0.6"/>
<line x1="528.09" y1="151.50" x2="528.09" y2="154.10" stroke="#444" stroke-width="0.6"/>
<line x1="533.86" y1="151.50" x2="533.86" y2="154.10" stroke="#444" stroke-width="0.6"/>
<line x1="539.63" y1="151.50" x2="539.63" y2="154.10" stroke="#444" stroke-width="0.6"/>
<line x1="545.40" y1="151.50" x2="545.40" y2="154.90" stroke="#444" stroke-width="0.6"/>
<line x1="551.17" y1="151.50" x2="551.17" y2="154.10" stroke="#444" stroke-width="0.6"/>
<line x1="556.94" y1="151.50" x2="556.94" y2="154.10" stroke="#444" stroke-width="0.6"/>
<line x1="562.71" y1="151.50" x2="562.71" y2="154.10" stroke="#444" stroke-width="0.6"/>
<line x1="568.48" y1="151.50" x2="568.48" y2="154.10" stroke="#444" stroke-width="0.6"/>
<line x1="574.25" y1="151.50" x2="574.25" y2="154.90" stroke="#444" stroke-width="0.6"/>
<line x1="580.02" y1="151.50" x2="580.02" y2="154.10" stroke="#444" stroke-width="0.6"/>
<line x1="585.79" y1="151.50" x2="585.79" y2="154.10" stroke="#444" stroke-width="0.6"/>
<line x1="591.56" y1="151.50" x2="591.56" y2="154.10" stroke="#444" stroke-width="0.6"/>
<line x1="597.33" y1="151.50" x2="597.33" y2="154.10" stroke="#444" stroke-width="0.6"/>
<line x1="603.10" y1="151.50" x2="603.10" y2="154.90" stroke="#444" stroke-width="0.6"/>
<text transform="translate(487.70 165.40) scale(0.93 1)" font-size="8.4" text-anchor="middle" fill="#222">0</text>
<text transform="translate(516.55 165.40) scale(0.93 1)" font-size="8.4" text-anchor="middle" fill="#222">500</text>
<text transform="translate(545.40 165.40) scale(0.93 1)" font-size="8.4" text-anchor="middle" fill="#222">1,000</text>
<text transform="translate(574.25 165.40) scale(0.93 1)" font-size="8.4" text-anchor="middle" fill="#222">1,500</text>
<text transform="translate(603.10 165.40) scale(0.93 1)" font-size="8.4" text-anchor="middle" fill="#222">2,000</text>
<text transform="translate(545.40 178.40) scale(0.975 1)" font-size="9.2" text-anchor="middle" fill="#222">Time (s)</text>
<text transform="translate(514.00 58.70) scale(0.93 1)" font-size="9.2" text-anchor="start" fill="#222">+ <tspan font-style="italic">Li</tspan>Prx2&#916;C<tspan font-size="6.3" dy="1.9">P</tspan><tspan dy="-1.9">&#8203;</tspan>&#916;C<tspan font-size="6.3" dy="1.9">R</tspan><tspan dy="-1.9">&#8203;</tspan></text>
<text transform="translate(612.90 54.60)" font-size="9.2" text-anchor="start" fill="#222">H<tspan font-size="6.3" dy="1.9">2</tspan><tspan dy="-1.9">&#8203;</tspan>O<tspan font-size="6.3" dy="1.9">2</tspan><tspan dy="-1.9">&#8203;</tspan> (&#181;M)</text>
<line x1="612.90" y1="64.90" x2="621.70" y2="64.90" stroke="#2b8cf0" stroke-width="1.2"/>
<text transform="translate(626.60 68.20) scale(0.99 1)" font-size="9.5" text-anchor="start" fill="#222">0</text>
<line x1="612.90" y1="74.55" x2="621.70" y2="74.55" stroke="#d62020" stroke-width="1.2"/>
<text transform="translate(626.60 77.85) scale(0.99 1)" font-size="9.5" text-anchor="start" fill="#222">10</text>
<line x1="612.90" y1="84.20" x2="621.70" y2="84.20" stroke="#2aa84a" stroke-width="1.2"/>
<text transform="translate(626.60 87.50) scale(0.99 1)" font-size="9.5" text-anchor="start" fill="#222">20</text>
<line x1="612.90" y1="93.85" x2="621.70" y2="93.85" stroke="#8a2be8" stroke-width="1.2"/>
<text transform="translate(626.60 97.15) scale(0.99 1)" font-size="9.5" text-anchor="start" fill="#222">50</text>
<line x1="612.90" y1="103.50" x2="621.70" y2="103.50" stroke="#18a4c4" stroke-width="1.2"/>
<text transform="translate(626.60 106.80) scale(0.99 1)" font-size="9.5" text-anchor="start" fill="#222">100</text>
<line x1="612.90" y1="113.15" x2="621.70" y2="113.15" stroke="#f5881f" stroke-width="1.2"/>
<text transform="translate(626.60 116.45) scale(0.99 1)" font-size="9.5" text-anchor="start" fill="#222">200</text>
<line x1="612.90" y1="122.80" x2="621.70" y2="122.80" stroke="#8fe0a8" stroke-width="1.2"/>
<text transform="translate(626.60 126.10) scale(0.99 1)" font-size="9.5" text-anchor="start" fill="#222">500</text>
<line x1="612.90" y1="132.45" x2="621.70" y2="132.45" stroke="#eea0b8" stroke-width="1.2"/>
<text transform="translate(626.60 135.75) scale(0.99 1)" font-size="9.5" text-anchor="start" fill="#222">1,000</text>
<path d="M39.0 296.8h1.2m-.6 0v4.9m-.6 0h1.2M41.3 298.2h1.2m-.6 0v3.5m-.6 0h1.2M43.6 298.4h1.2m-.6 0v4.6m-.6 0h1.2M45.9 298.9h1.2m-.6 0v4.1m-.6 0h1.2M48.2 300.0h1.2m-.6 0v3.8m-.6 0h1.2M50.5 300.2h1.2m-.6 0v5.0m-.6 0h1.2M52.9 301.3h1.2m-.6 0v3.3m-.6 0h1.2M55.2 301.9h1.2m-.6 0v4.3m-.6 0h1.2M57.5 302.9h1.2m-.6 0v3.4m-.6 0h1.2M59.8 302.4h1.2m-.6 0v5.1m-.6 0h1.2M62.1 302.7h1.2m-.6 0v5.2m-.6 0h1.2M64.4 304.5h1.2m-.6 0v3.3m-.6 0h1.2M66.7 304.9h1.2m-.6 0v4.3m-.6 0h1.2M69.0 305.0h1.2m-.6 0v4.3m-.6 0h1.2M71.3 305.0h1.2m-.6 0v4.8m-.6 0h1.2M73.6 305.8h1.2m-.6 0v4.8m-.6 0h1.2M75.9 306.1h1.2m-.6 0v4.0m-.6 0h1.2M78.2 306.4h1.2m-.6 0v5.3m-.6 0h1.2M80.5 307.6h1.2m-.6 0v3.7m-.6 0h1.2M82.9 307.7h1.2m-.6 0v3.6m-.6 0h1.2M85.2 307.8h1.2m-.6 0v5.0m-.6 0h1.2M87.5 309.1h1.2m-.6 0v3.5m-.6 0h1.2M89.8 308.8h1.2m-.6 0v3.7m-.6 0h1.2M92.1 308.3h1.2m-.6 0v4.3m-.6 0h1.2M94.4 308.8h1.2m-.6 0v4.0m-.6 0h1.2M96.7 309.2h1.2m-.6 0v3.6m-.6 0h1.2M99.0 309.1h1.2m-.6 0v5.3m-.6 0h1.2M101.3 309.9h1.2m-.6 0v4.3m-.6 0h1.2M103.6 309.9h1.2m-.6 0v5.0m-.6 0h1.2M105.9 310.2h1.2m-.6 0v3.8m-.6 0h1.2M108.2 310.3h1.2m-.6 0v5.2m-.6 0h1.2M110.6 311.1h1.2m-.6 0v3.7m-.6 0h1.2M112.9 310.5h1.2m-.6 0v5.2m-.6 0h1.2M115.2 311.0h1.2m-.6 0v4.6m-.6 0h1.2M117.5 310.6h1.2m-.6 0v5.4m-.6 0h1.2M119.8 311.3h1.2m-.6 0v4.9m-.6 0h1.2M122.1 311.6h1.2m-.6 0v4.6m-.6 0h1.2M124.4 312.0h1.2m-.6 0v4.4m-.6 0h1.2M126.7 311.3h1.2m-.6 0v5.1m-.6 0h1.2M129.0 312.2h1.2m-.6 0v4.2m-.6 0h1.2M131.3 312.7h1.2m-.6 0v3.5m-.6 0h1.2M133.6 311.3h1.2m-.6 0v5.2m-.6 0h1.2M135.9 312.3h1.2m-.6 0v5.0m-.6 0h1.2M138.2 312.1h1.2m-.6 0v4.7m-.6 0h1.2M140.6 312.7h1.2m-.6 0v4.9m-.6 0h1.2M142.9 312.8h1.2m-.6 0v3.8m-.6 0h1.2M145.2 312.4h1.2m-.6 0v4.3m-.6 0h1.2M147.5 312.4h1.2m-.6 0v5.0m-.6 0h1.2M149.8 312.6h1.2m-.6 0v5.3m-.6 0h1.2M152.1 312.6h1.2m-.6 0v5.3m-.6 0h1.2" stroke="#c4c4c4" stroke-width="0.4" fill="none"/>
<defs><path id="c33" d="M38.5 299.6l1.1-.3 1.2 .3 1.1 .4 1.2 .4 1.1 .3 1.2 .6 1.1-.3 1.2 .7 1.1 .2 1.2-.1 1.1 .9 1.2 .2 1.2 0 1.1 .1 1.2 1 1.1-.2 1.2 .8 1.1 0 1.2 .3 1.1 .7 1.2-.3 1.1 .1 1.2 .7 1.1 .2 1.2 .7 1.2-.6 1.1 .7 1.2 .6 1.1-.3 1.2 .9 1.1 0 1.2 .6 1.1-.8 1.2 0 1.1 1 1.2 .2 1.1 .1 1.2 .2 1.2-.1 1.1-.1 1.2 .9 1.1-.3 1.2 .8 1.1-.7 1.2 .6 1.1 .3 1.2-.5 1.1 .6 1.2-.3 1.2 .3 1.1-.1 1.2 .8 1.1-.1 1.2 .1 1.1 .2 1.2-.3 1.1 .7 1.2-.3 1.1 0 1.2 1 1.1-.2 1.2 .1 1.2 0 1.1-.2 1.2 .3 1.1 0 1.2 .2 1.1 0 1.2 0 1.1 0 1.2 .5 1.1-.1 1.2 .2 1.1-.1 1.2 .4 1.2-.5 1.1 .1 1.2 .3 1.1 .2 1.2 0 1.1 .1 1.2 .3 1.1-.8 1.2-.4 1.1 1.3 1.2 .1 1.1-.5 1.2 .1 1.2 .6 1.1 .2 1.2-.6 1.1 .7 1.2-.9 1.1 .6 1.2-.1 1.1 0 1.2 .2 1.1 0 1.2 0 1.2-.3"/></defs>
<path d="M39.0 297.5h1.2m-.6 0v3.8m-.6 0h1.2M41.3 298.6h1.2m-.6 0v3.6m-.6 0h1.2M43.6 298.8h1.2m-.6 0v3.6m-.6 0h1.2M45.9 299.7h1.2m-.6 0v3.6m-.6 0h1.2M48.2 299.0h1.2m-.6 0v4.5m-.6 0h1.2M50.5 298.6h1.2m-.6 0v5.0m-.6 0h1.2M52.9 298.7h1.2m-.6 0v3.6m-.6 0h1.2M55.2 297.9h1.2m-.6 0v4.4m-.6 0h1.2M57.5 297.2h1.2m-.6 0v4.5m-.6 0h1.2M59.8 297.8h1.2m-.6 0v4.5m-.6 0h1.2M62.1 298.0h1.2m-.6 0v4.2m-.6 0h1.2M64.4 298.4h1.2m-.6 0v4.4m-.6 0h1.2M66.7 298.6h1.2m-.6 0v3.3m-.6 0h1.2M69.0 298.6h1.2m-.6 0v3.4m-.6 0h1.2M71.3 298.7h1.2m-.6 0v4.2m-.6 0h1.2M73.6 298.3h1.2m-.6 0v3.8m-.6 0h1.2M75.9 298.6h1.2m-.6 0v4.9m-.6 0h1.2M78.2 299.0h1.2m-.6 0v3.8m-.6 0h1.2M80.5 298.0h1.2m-.6 0v5.0m-.6 0h1.2M82.9 299.2h1.2m-.6 0v3.8m-.6 0h1.2M85.2 299.4h1.2m-.6 0v3.5m-.6 0h1.2M87.5 298.8h1.2m-.6 0v4.3m-.6 0h1.2M89.8 298.9h1.2m-.6 0v4.1m-.6 0h1.2M92.1 299.2h1.2m-.6 0v4.0m-.6 0h1.2M94.4 298.8h1.2m-.6 0v4.9m-.6 0h1.2M96.7 299.1h1.2m-.6 0v3.7m-.6 0h1.2M99.0 299.1h1.2m-.6 0v4.7m-.6 0h1.2M101.3 298.3h1.2m-.6 0v5.1m-.6 0h1.2M103.6 299.2h1.2m-.6 0v4.2m-.6 0h1.2M105.9 299.0h1.2m-.6 0v4.4m-.6 0h1.2M108.2 298.6h1.2m-.6 0v5.3m-.6 0h1.2M110.6 299.3h1.2m-.6 0v4.6m-.6 0h1.2M112.9 300.3h1.2m-.6 0v3.7m-.6 0h1.2M115.2 300.4h1.2m-.6 0v3.4m-.6 0h1.2M117.5 299.8h1.2m-.6 0v3.4m-.6 0h1.2M119.8 299.5h1.2m-.6 0v4.0m-.6 0h1.2M122.1 299.6h1.2m-.6 0v3.5m-.6 0h1.2M124.4 299.6h1.2m-.6 0v4.7m-.6 0h1.2M126.7 300.1h1.2m-.6 0v4.2m-.6 0h1.2M129.0 299.8h1.2m-.6 0v3.9m-.6 0h1.2M131.3 299.9h1.2m-.6 0v4.4m-.6 0h1.2M133.6 299.1h1.2m-.6 0v5.3m-.6 0h1.2M135.9 299.9h1.2m-.6 0v3.8m-.6 0h1.2M138.2 300.5h1.2m-.6 0v3.6m-.6 0h1.2M140.6 300.6h1.2m-.6 0v3.9m-.6 0h1.2M142.9 299.5h1.2m-.6 0v4.0m-.6 0h1.2M145.2 299.4h1.2m-.6 0v5.2m-.6 0h1.2M147.5 300.2h1.2m-.6 0v4.8m-.6 0h1.2M149.8 300.5h1.2m-.6 0v4.2m-.6 0h1.2M152.1 301.1h1.2m-.6 0v3.6m-.6 0h1.2" stroke="#c4c4c4" stroke-width="0.4" fill="none"/>
<defs><path id="c34" d="M38.5 299.4l1.1 0 1.2 .1 1.1 .9 1.2 .1 1.1 .1 1.2 .2 1.1 .7 1.2-.2 1.1 0 1.2-.6 1.1 .4 1.2-.5 1.2-.1 1.1-.1 1.2-.3 1.1 .3 1.2-.9 1.1 .9 1.2-.4 1.1 0 1.2 0 1.1 .4 1.2 .2 1.1-.2 1.2-.2 1.2 .2 1.1-.1 1.2 0 1.1 .5 1.2 0 1.1-.6 1.2 .5 1.1 .4 1.2-.9 1.1 .7 1.2 .1 1.1-.5 1.2 .6 1.2-.1 1.1-.4 1.2 .5 1.1-.9 1.2 .7 1.1-.7 1.2 .8 1.1 0 1.2 .2 1.1-.1 1.2 .1 1.2-.1 1.1-.1 1.2 .5 1.1 0 1.2 .3 1.1-.9 1.2 .4 1.1 0 1.2 .1 1.1-.3 1.2 .2 1.1-.1 1.2 .3 1.2 .1 1.1 0 1.2 .5 1.1-.8 1.2 .8 1.1-.2 1.2-.4 1.1 .2 1.2-.2 1.1-.2 1.2 0 1.1 .2 1.2 .4 1.2-.5 1.1 .8 1.2-.2 1.1-.3 1.2 .4 1.1 0 1.2 .1 1.1-.5 1.2 1.1 1.1-1 1.2 .1 1.1 .4 1.2-.2 1.2 .5 1.1-.6 1.2-.5 1.1 1.1 1.2-.6 1.1 .5 1.2 .1 1.1 0 1.2 0 1.1 .3 1.2 .1 1.2-.8"/></defs>
<path d="M39.0 296.2h1.2m-.6 0v6.8m-.6 0h1.2M41.3 297.6h1.2m-.6 0v5.6m-.6 0h1.2M43.6 297.4h1.2m-.6 0v5.8m-.6 0h1.2M45.9 297.8h1.2m-.6 0v6.5m-.6 0h1.2M48.2 297.6h1.2m-.6 0v6.5m-.6 0h1.2M50.5 296.5h1.2m-.6 0v6.3m-.6 0h1.2M52.9 294.4h1.2m-.6 0v7.1m-.6 0h1.2M55.2 294.4h1.2m-.6 0v5.5m-.6 0h1.2M57.5 292.9h1.2m-.6 0v6.6m-.6 0h1.2M59.8 292.7h1.2m-.6 0v5.8m-.6 0h1.2M62.1 291.1h1.2m-.6 0v7.4m-.6 0h1.2M64.4 291.1h1.2m-.6 0v7.2m-.6 0h1.2M66.7 291.6h1.2m-.6 0v7.4m-.6 0h1.2M69.0 290.9h1.2m-.6 0v6.6m-.6 0h1.2M71.3 291.6h1.2m-.6 0v5.7m-.6 0h1.2M73.6 290.0h1.2m-.6 0v7.9m-.6 0h1.2M75.9 290.8h1.2m-.6 0v6.6m-.6 0h1.2M78.2 290.9h1.2m-.6 0v6.1m-.6 0h1.2M80.5 291.2h1.2m-.6 0v5.8m-.6 0h1.2M82.9 290.8h1.2m-.6 0v6.2m-.6 0h1.2M85.2 290.5h1.2m-.6 0v7.2m-.6 0h1.2M87.5 290.6h1.2m-.6 0v7.6m-.6 0h1.2M89.8 291.1h1.2m-.6 0v6.5m-.6 0h1.2M92.1 290.7h1.2m-.6 0v7.3m-.6 0h1.2M94.4 291.3h1.2m-.6 0v5.6m-.6 0h1.2M96.7 291.0h1.2m-.6 0v6.4m-.6 0h1.2M99.0 291.6h1.2m-.6 0v6.1m-.6 0h1.2M101.3 291.6h1.2m-.6 0v5.9m-.6 0h1.2M103.6 291.1h1.2m-.6 0v6.1m-.6 0h1.2M105.9 290.7h1.2m-.6 0v7.3m-.6 0h1.2M108.2 290.6h1.2m-.6 0v7.3m-.6 0h1.2M110.6 291.8h1.2m-.6 0v5.6m-.6 0h1.2M112.9 291.2h1.2m-.6 0v5.6m-.6 0h1.2M115.2 290.4h1.2m-.6 0v7.4m-.6 0h1.2M117.5 290.2h1.2m-.6 0v7.0m-.6 0h1.2M119.8 290.9h1.2m-.6 0v7.1m-.6 0h1.2M122.1 290.8h1.2m-.6 0v7.0m-.6 0h1.2M124.4 291.3h1.2m-.6 0v7.1m-.6 0h1.2M126.7 291.3h1.2m-.6 0v5.8m-.6 0h1.2M129.0 292.2h1.2m-.6 0v5.1m-.6 0h1.2M131.3 291.4h1.2m-.6 0v6.1m-.6 0h1.2M133.6 292.2h1.2m-.6 0v5.0m-.6 0h1.2M135.9 290.3h1.2m-.6 0v8.0m-.6 0h1.2M138.2 291.5h1.2m-.6 0v6.6m-.6 0h1.2M140.6 291.5h1.2m-.6 0v7.1m-.6 0h1.2M142.9 291.1h1.2m-.6 0v8.0m-.6 0h1.2M145.2 291.2h1.2m-.6 0v7.5m-.6 0h1.2M147.5 292.2h1.2m-.6 0v5.6m-.6 0h1.2M149.8 291.7h1.2m-.6 0v6.0m-.6 0h1.2M152.1 292.4h1.2m-.6 0v5.2m-.6 0h1.2" stroke="#c4c4c4" stroke-width="0.4" fill="none"/>
<defs><path id="c35" d="M38.5 299.2l1.1 .4 1.2 0 1.1 .8 1.2-.2 1.1 .1 1.2 .3 1.1 .4 1.2 .5 1.1-.6 1.2-.8 1.1-.4 1.2-1 1.2-.8 1.1-.4 1.2-.4 1.1-.6 1.2-.3 1.1-.4 1.2-.2 1.1-.3 1.2-.5 1.1 .1 1.2-.2 1.1 .3 1.2 .4 1.2-.8 1.1-.4 1.2 .2 1.1 0 1.2 .1 1.1-.6 1.2 .4 1.1-.2 1.2-.3 1.1 .1 1.2-.4 1.1 .6 1.2-.3 1.2 .1 1.1 .3 1.2-.1 1.1 .1 1.2 .2 1.1-.4 1.2 .3 1.1-.6 1.2 .6 1.1 0 1.2-.2 1.2 .2 1.1-.1 1.2 .2 1.1 .2 1.2 .3 1.1-.3 1.2-.8 1.1 .3 1.2 .1 1.1 .2 1.2 0 1.1-.2 1.2 .5 1.2-.1 1.1 0 1.2-.5 1.1 .6 1.2-.6 1.1 .5 1.2-.9 1.1 .8 1.2 0 1.1-.3 1.2 .1 1.1 0 1.2 .6 1.2-.6 1.1-.1 1.2 .5 1.1 .1 1.2 .2 1.1-.6 1.2 .2 1.1 .1 1.2 .4 1.1-.8 1.2 .2 1.1 .3 1.2-.4 1.2 .7 1.1-.5 1.2 .5 1.1-.6 1.2 .5 1.1-.4 1.2 .4 1.1-.2 1.2-.1 1.1 .5 1.2-.2 1.2 .2"/></defs>
<path d="M39.0 296.2h1.2m-.6 0v6.5m-.6 0h1.2M41.3 297.5h1.2m-.6 0v5.8m-.6 0h1.2M43.6 297.1h1.2m-.6 0v7.2m-.6 0h1.2M45.9 298.0h1.2m-.6 0v6.6m-.6 0h1.2M48.2 296.5h1.2m-.6 0v8.1m-.6 0h1.2M50.5 295.9h1.2m-.6 0v5.4m-.6 0h1.2M52.9 293.3h1.2m-.6 0v6.6m-.6 0h1.2M55.2 291.2h1.2m-.6 0v6.5m-.6 0h1.2M57.5 290.1h1.2m-.6 0v6.1m-.6 0h1.2M59.8 287.9h1.2m-.6 0v7.7m-.6 0h1.2M62.1 287.7h1.2m-.6 0v5.6m-.6 0h1.2M64.4 286.3h1.2m-.6 0v7.7m-.6 0h1.2M66.7 286.2h1.2m-.6 0v6.1m-.6 0h1.2M69.0 285.3h1.2m-.6 0v6.0m-.6 0h1.2M71.3 285.0h1.2m-.6 0v6.9m-.6 0h1.2M73.6 284.6h1.2m-.6 0v6.7m-.6 0h1.2M75.9 284.3h1.2m-.6 0v5.8m-.6 0h1.2M78.2 284.6h1.2m-.6 0v5.2m-.6 0h1.2M80.5 283.2h1.2m-.6 0v8.0m-.6 0h1.2M82.9 283.9h1.2m-.6 0v6.1m-.6 0h1.2M85.2 284.1h1.2m-.6 0v5.3m-.6 0h1.2M87.5 282.5h1.2m-.6 0v7.0m-.6 0h1.2M89.8 283.2h1.2m-.6 0v6.6m-.6 0h1.2M92.1 283.1h1.2m-.6 0v6.0m-.6 0h1.2M94.4 283.0h1.2m-.6 0v6.0m-.6 0h1.2M96.7 282.6h1.2m-.6 0v7.6m-.6 0h1.2M99.0 283.1h1.2m-.6 0v6.0m-.6 0h1.2M101.3 283.1h1.2m-.6 0v6.2m-.6 0h1.2M103.6 282.3h1.2m-.6 0v8.0m-.6 0h1.2M105.9 282.9h1.2m-.6 0v6.1m-.6 0h1.2M108.2 283.0h1.2m-.6 0v6.2m-.6 0h1.2M110.6 283.7h1.2m-.6 0v5.4m-.6 0h1.2M112.9 281.9h1.2m-.6 0v7.0m-.6 0h1.2M115.2 282.5h1.2m-.6 0v7.1m-.6 0h1.2M117.5 282.9h1.2m-.6 0v6.3m-.6 0h1.2M119.8 283.0h1.2m-.6 0v6.2m-.6 0h1.2M122.1 283.1h1.2m-.6 0v5.6m-.6 0h1.2M124.4 282.4h1.2m-.6 0v7.5m-.6 0h1.2M126.7 283.7h1.2m-.6 0v6.4m-.6 0h1.2M129.0 282.1h1.2m-.6 0v7.6m-.6 0h1.2M131.3 283.0h1.2m-.6 0v6.1m-.6 0h1.2M133.6 282.4h1.2m-.6 0v7.3m-.6 0h1.2M135.9 283.9h1.2m-.6 0v5.0m-.6 0h1.2M138.2 283.4h1.2m-.6 0v5.6m-.6 0h1.2M140.6 282.2h1.2m-.6 0v8.0m-.6 0h1.2M142.9 283.5h1.2m-.6 0v7.1m-.6 0h1.2M145.2 282.5h1.2m-.6 0v7.1m-.6 0h1.2M147.5 283.0h1.2m-.6 0v6.5m-.6 0h1.2M149.8 283.0h1.2m-.6 0v6.4m-.6 0h1.2M152.1 283.8h1.2m-.6 0v5.5m-.6 0h1.2" stroke="#c4c4c4" stroke-width="0.4" fill="none"/>
<defs><path id="c36" d="M38.5 299.1l1.1 .4 1.2 .8 1.1 .1 1.2 0 1.1 .3 1.2-.1 1.1 .7 1.2 .7 1.1-1.5 1.2-.5 1.1-1.4 1.2-1.4 1.2-.6 1.1-1.9 1.2-.2 1.1-.9 1.2-.4 1.1-1.4 1.2-.1 1.1-.2 1.2-1 1.1 .3 1.2-.7 1.1-.6 1.2-.3 1.2 0 1.1-.9 1.2-.3 1.1 .4 1.2-.5 1.1 0 1.2-.2 1.1-.5 1.2 .1 1.1-.1 1.2-.2 1.1 .2 1.2-.7 1.2 .4 1.1-.6 1.2 .4 1.1-.1 1.2-.6 1.1 .3 1.2 .2 1.1-.1 1.2-.3 1.1-.4 1.2 .3 1.2 .3 1.1 .1 1.2-.1 1.1-.2 1.2-.1 1.1 .2 1.2-.5 1.1 .6 1.2-.1 1.1-.3 1.2 0 1.1 .2 1.2-.3 1.2 .6 1.1-.8 1.2-.2 1.1 .1 1.2 .5 1.1-.5 1.2 .5 1.1-.3 1.2 .4 1.1-.1 1.2-.1 1.1 .6 1.2-.4 1.2-.5 1.1 1.3 1.2-.9 1.1-.1 1.2 .1 1.1 .1 1.2-.3 1.1 .3 1.2 .6 1.1-.3 1.2-.1 1.1-.1 1.2 .1 1.2-.1 1.1-.4 1.2 1.2 1.1-1.1 1.2 .1 1.1 .1 1.2 .2 1.1 0 1.2-.1 1.1 0 1.2 .3 1.2-.4"/></defs>
<path d="M39.0 296.3h1.2m-.6 0v6.0m-.6 0h1.2M41.3 296.7h1.2m-.6 0v7.3m-.6 0h1.2M43.6 297.2h1.2m-.6 0v7.0m-.6 0h1.2M45.9 298.2h1.2m-.6 0v6.2m-.6 0h1.2M48.2 297.0h1.2m-.6 0v6.6m-.6 0h1.2M50.5 293.2h1.2m-.6 0v5.4m-.6 0h1.2M52.9 288.5h1.2m-.6 0v7.9m-.6 0h1.2M55.2 286.4h1.2m-.6 0v6.4m-.6 0h1.2M57.5 284.8h1.2m-.6 0v6.5m-.6 0h1.2M59.8 282.7h1.2m-.6 0v7.5m-.6 0h1.2M62.1 282.2h1.2m-.6 0v5.5m-.6 0h1.2M64.4 280.2h1.2m-.6 0v7.2m-.6 0h1.2M66.7 280.4h1.2m-.6 0v6.0m-.6 0h1.2M69.0 278.7h1.2m-.6 0v7.5m-.6 0h1.2M71.3 279.7h1.2m-.6 0v5.2m-.6 0h1.2M73.6 279.1h1.2m-.6 0v5.8m-.6 0h1.2M75.9 278.2h1.2m-.6 0v7.0m-.6 0h1.2M78.2 278.5h1.2m-.6 0v6.5m-.6 0h1.2M80.5 278.4h1.2m-.6 0v6.1m-.6 0h1.2M82.9 277.9h1.2m-.6 0v6.8m-.6 0h1.2M85.2 278.6h1.2m-.6 0v5.6m-.6 0h1.2M87.5 277.8h1.2m-.6 0v6.3m-.6 0h1.2M89.8 278.4h1.2m-.6 0v4.9m-.6 0h1.2M92.1 277.5h1.2m-.6 0v7.5m-.6 0h1.2M94.4 278.3h1.2m-.6 0v5.7m-.6 0h1.2M96.7 277.3h1.2m-.6 0v7.6m-.6 0h1.2M99.0 277.6h1.2m-.6 0v6.7m-.6 0h1.2M101.3 277.5h1.2m-.6 0v6.8m-.6 0h1.2M103.6 277.6h1.2m-.6 0v6.9m-.6 0h1.2M105.9 278.2h1.2m-.6 0v5.3m-.6 0h1.2M108.2 276.7h1.2m-.6 0v7.4m-.6 0h1.2M110.6 278.4h1.2m-.6 0v5.8m-.6 0h1.2M112.9 277.2h1.2m-.6 0v7.7m-.6 0h1.2M115.2 277.6h1.2m-.6 0v7.4m-.6 0h1.2M117.5 277.8h1.2m-.6 0v7.1m-.6 0h1.2M119.8 277.5h1.2m-.6 0v7.5m-.6 0h1.2M122.1 277.6h1.2m-.6 0v6.3m-.6 0h1.2M124.4 277.7h1.2m-.6 0v7.1m-.6 0h1.2M126.7 277.3h1.2m-.6 0v8.0m-.6 0h1.2M129.0 278.7h1.2m-.6 0v5.5m-.6 0h1.2M131.3 278.9h1.2m-.6 0v5.2m-.6 0h1.2M133.6 277.5h1.2m-.6 0v6.2m-.6 0h1.2M135.9 277.6h1.2m-.6 0v6.5m-.6 0h1.2M138.2 278.8h1.2m-.6 0v5.4m-.6 0h1.2M140.6 278.8h1.2m-.6 0v5.6m-.6 0h1.2M142.9 277.3h1.2m-.6 0v7.7m-.6 0h1.2M145.2 278.4h1.2m-.6 0v6.2m-.6 0h1.2M147.5 278.7h1.2m-.6 0v5.4m-.6 0h1.2M149.8 278.6h1.2m-.6 0v5.5m-.6 0h1.2M152.1 278.6h1.2m-.6 0v6.8m-.6 0h1.2" stroke="#c4c4c4" stroke-width="0.4" fill="none"/>
<defs><path id="c37" d="M38.5 299.2l1.1 .1 1.2 .6 1.1 .4 1.2 .2 1.1 .3 1.2 .2 1.1 .3 1.2 .3 1.1-1.3 1.2-2.2 1.1-2.2 1.2-1.5 1.2-2 1.1-1.5 1.2-1.3 1.1-.7 1.2-.9 1.1-.8 1.2-.7 1.1-.8 1.2-.7 1.1-.1 1.2-1.1 1.1 .2 1.2-.6 1.2-.3 1.1-.7 1.2-.5 1.1 .4 1.2-.2 1.1-.1 1.2-.2 1.1-.1 1.2-.8 1.1 .8 1.2-.3 1.1 .1 1.2-.4 1.2 .2 1.1-.3 1.2 .4 1.1-.9 1.2 .5 1.1 .5 1.2-.7 1.1 .3 1.2 .2 1.1-.4 1.2 .2 1.2-.3 1.1 .3 1.2-.4 1.1 .2 1.2 0 1.1 0 1.2 .2 1.1 0 1.2-.2 1.1-.1 1.2 .3 1.1-.7 1.2 .2 1.2 .7 1.1-.6 1.2 .4 1.1-.1 1.2 .3 1.1-.7 1.2 .7 1.1-.2 1.2 .2 1.1-.7 1.2 .2 1.1 .7 1.2-.2 1.2-.2 1.1 .2 1.2 0 1.1 .2 1.2-.4 1.1 .4 1.2-.5 1.1-.4 1.2 .7 1.1-.5 1.2 .4 1.1 .3 1.2-.1 1.2 .2 1.1-.3 1.2-.2 1.1 0 1.2 .3 1.1 .3 1.2-.3 1.1-.5 1.2 .4 1.1 .1 1.2 .6 1.2-.4"/></defs>
<path d="M39.0 296.0h1.2m-.6 0v7.1m-.6 0h1.2M41.3 297.5h1.2m-.6 0v5.8m-.6 0h1.2M43.6 297.4h1.2m-.6 0v7.5m-.6 0h1.2M45.9 297.6h1.2m-.6 0v5.9m-.6 0h1.2M48.2 296.7h1.2m-.6 0v6.7m-.6 0h1.2M50.5 291.0h1.2m-.6 0v7.5m-.6 0h1.2M52.9 288.2h1.2m-.6 0v5.3m-.6 0h1.2M55.2 283.7h1.2m-.6 0v7.3m-.6 0h1.2M57.5 282.3h1.2m-.6 0v5.1m-.6 0h1.2M59.8 279.2h1.2m-.6 0v7.9m-.6 0h1.2M62.1 279.0h1.2m-.6 0v5.0m-.6 0h1.2M64.4 276.1h1.2m-.6 0v7.2m-.6 0h1.2M66.7 276.1h1.2m-.6 0v6.1m-.6 0h1.2M69.0 276.0h1.2m-.6 0v5.5m-.6 0h1.2M71.3 274.3h1.2m-.6 0v6.2m-.6 0h1.2M73.6 274.0h1.2m-.6 0v6.5m-.6 0h1.2M75.9 273.8h1.2m-.6 0v6.2m-.6 0h1.2M78.2 274.1h1.2m-.6 0v5.3m-.6 0h1.2M80.5 273.4h1.2m-.6 0v6.6m-.6 0h1.2M82.9 273.5h1.2m-.6 0v5.9m-.6 0h1.2M85.2 272.6h1.2m-.6 0v8.0m-.6 0h1.2M87.5 273.1h1.2m-.6 0v6.1m-.6 0h1.2M89.8 273.0h1.2m-.6 0v6.3m-.6 0h1.2M92.1 273.4h1.2m-.6 0v5.6m-.6 0h1.2M94.4 272.2h1.2m-.6 0v8.0m-.6 0h1.2M96.7 273.0h1.2m-.6 0v5.9m-.6 0h1.2M99.0 272.2h1.2m-.6 0v7.0m-.6 0h1.2M101.3 272.9h1.2m-.6 0v7.6m-.6 0h1.2M103.6 273.3h1.2m-.6 0v6.2m-.6 0h1.2M105.9 271.9h1.2m-.6 0v7.3m-.6 0h1.2M108.2 273.6h1.2m-.6 0v5.8m-.6 0h1.2M110.6 274.1h1.2m-.6 0v5.2m-.6 0h1.2M112.9 273.6h1.2m-.6 0v5.0m-.6 0h1.2M115.2 273.0h1.2m-.6 0v6.3m-.6 0h1.2M117.5 272.3h1.2m-.6 0v7.7m-.6 0h1.2M119.8 273.8h1.2m-.6 0v5.5m-.6 0h1.2M122.1 273.7h1.2m-.6 0v6.3m-.6 0h1.2M124.4 272.8h1.2m-.6 0v7.4m-.6 0h1.2M126.7 273.6h1.2m-.6 0v5.8m-.6 0h1.2M129.0 274.3h1.2m-.6 0v5.4m-.6 0h1.2M131.3 273.3h1.2m-.6 0v6.6m-.6 0h1.2M133.6 273.8h1.2m-.6 0v6.3m-.6 0h1.2M135.9 272.6h1.2m-.6 0v7.9m-.6 0h1.2M138.2 272.7h1.2m-.6 0v7.8m-.6 0h1.2M140.6 274.1h1.2m-.6 0v5.7m-.6 0h1.2M142.9 273.4h1.2m-.6 0v6.7m-.6 0h1.2M145.2 274.0h1.2m-.6 0v6.2m-.6 0h1.2M147.5 274.2h1.2m-.6 0v5.0m-.6 0h1.2M149.8 274.0h1.2m-.6 0v6.3m-.6 0h1.2M152.1 273.2h1.2m-.6 0v7.9m-.6 0h1.2" stroke="#c4c4c4" stroke-width="0.4" fill="none"/>
<defs><path id="c38" d="M38.5 299.2l1.1 .3 1.2 .1 1.1 .8 1.2 .1 1.1 .7 1.2-.3 1.1-.4 1.2 .8 1.1-1.3 1.2-2.8 1.1-2.5 1.2-1.8 1.2-2.1 1.1-1.8 1.2-1.7 1.1-1 1.2-1.4 1.1-.9 1.2-.8 1.1-1 1.2-.7 1.1-1.1 1.2-.7 1.1-.3 1.2-.3 1.2-.3 1.1 0 1.2-.6 1.1-.9 1.2-.1 1.1 0 1.2 0 1.1-.2 1.2-.3 1.1 0 1.2-.2 1.1 .2 1.2-.3 1.2 .1 1.1-.5 1.2 .6 1.1-.7 1.2 .3 1.1 .1 1.2-.2 1.1 0 1.2 .1 1.1-.2 1.2 .3 1.2 .3 1.1-.7 1.2 .2 1.1-.4 1.2 .3 1.1 .7 1.2-.9 1.1 .5 1.2-.3 1.1-.4 1.2 .3 1.1 .6 1.2-.2 1.2 .4 1.1-.6 1.2 .1 1.1 .4 1.2-.4 1.1-.1 1.2 .1 1.1 .4 1.2 0 1.1 .1 1.2 .1 1.1-.4 1.2 .1 1.2-.3 1.1 .3 1.2 .2 1.1 .3 1.2-.8 1.1 .4 1.2 .1 1.1 .3 1.2 0 1.1-.4 1.2 .4 1.1-.4 1.2 0 1.2 .3 1.1 .4 1.2-.5 1.1-.3 1.2 .7 1.1 .1 1.2-.6 1.1 .3 1.2 .2 1.1-.5 1.2 .4 1.2-.1"/></defs>
<path d="M39.0 295.5h1.2m-.6 0v7.6m-.6 0h1.2M41.3 297.4h1.2m-.6 0v5.7m-.6 0h1.2M43.6 297.0h1.2m-.6 0v7.3m-.6 0h1.2M45.9 297.1h1.2m-.6 0v7.2m-.6 0h1.2M48.2 296.4h1.2m-.6 0v7.9m-.6 0h1.2M50.5 292.2h1.2m-.6 0v7.6m-.6 0h1.2M52.9 288.9h1.2m-.6 0v7.8m-.6 0h1.2M55.2 286.9h1.2m-.6 0v5.8m-.6 0h1.2M57.5 283.6h1.2m-.6 0v7.5m-.6 0h1.2M59.8 282.2h1.2m-.6 0v6.4m-.6 0h1.2M62.1 281.0h1.2m-.6 0v5.9m-.6 0h1.2M64.4 279.0h1.2m-.6 0v6.1m-.6 0h1.2M66.7 277.4h1.2m-.6 0v7.5m-.6 0h1.2M69.0 276.4h1.2m-.6 0v7.6m-.6 0h1.2M71.3 275.5h1.2m-.6 0v7.6m-.6 0h1.2M73.6 275.3h1.2m-.6 0v7.1m-.6 0h1.2M75.9 275.2h1.2m-.6 0v5.4m-.6 0h1.2M78.2 275.2h1.2m-.6 0v5.4m-.6 0h1.2M80.5 274.0h1.2m-.6 0v6.7m-.6 0h1.2M82.9 274.0h1.2m-.6 0v5.6m-.6 0h1.2M85.2 273.5h1.2m-.6 0v6.0m-.6 0h1.2M87.5 273.8h1.2m-.6 0v5.2m-.6 0h1.2M89.8 273.1h1.2m-.6 0v5.4m-.6 0h1.2M92.1 272.1h1.2m-.6 0v7.2m-.6 0h1.2M94.4 273.1h1.2m-.6 0v5.6m-.6 0h1.2M96.7 271.8h1.2m-.6 0v7.6m-.6 0h1.2M99.0 272.8h1.2m-.6 0v6.0m-.6 0h1.2M101.3 271.6h1.2m-.6 0v7.7m-.6 0h1.2M103.6 272.8h1.2m-.6 0v5.9m-.6 0h1.2M105.9 272.8h1.2m-.6 0v5.8m-.6 0h1.2M108.2 272.5h1.2m-.6 0v6.2m-.6 0h1.2M110.6 272.6h1.2m-.6 0v4.9m-.6 0h1.2M112.9 272.5h1.2m-.6 0v6.3m-.6 0h1.2M115.2 272.5h1.2m-.6 0v6.1m-.6 0h1.2M117.5 273.5h1.2m-.6 0v4.9m-.6 0h1.2M119.8 271.5h1.2m-.6 0v7.7m-.6 0h1.2M122.1 272.4h1.2m-.6 0v6.1m-.6 0h1.2M124.4 273.3h1.2m-.6 0v4.9m-.6 0h1.2M126.7 271.6h1.2m-.6 0v8.0m-.6 0h1.2M129.0 272.7h1.2m-.6 0v5.6m-.6 0h1.2M131.3 272.7h1.2m-.6 0v5.7m-.6 0h1.2M133.6 273.6h1.2m-.6 0v5.0m-.6 0h1.2M135.9 273.1h1.2m-.6 0v5.2m-.6 0h1.2M138.2 272.3h1.2m-.6 0v7.2m-.6 0h1.2M140.6 272.3h1.2m-.6 0v6.8m-.6 0h1.2M142.9 273.0h1.2m-.6 0v6.5m-.6 0h1.2M145.2 273.3h1.2m-.6 0v5.7m-.6 0h1.2M147.5 273.2h1.2m-.6 0v5.8m-.6 0h1.2M149.8 271.3h1.2m-.6 0v8.0m-.6 0h1.2M152.1 273.1h1.2m-.6 0v6.1m-.6 0h1.2" stroke="#c4c4c4" stroke-width="0.4" fill="none"/>
<defs><path id="c39" d="M38.5 299.5l1.1-.2 1.2 .6 1.1 .3 1.2 .1 1.1 .4 1.2 .3 1.1-.3 1.2 .4 1.1-.8 1.2-2.3 1.1-2 1.2-1.7 1.2-1.5 1.1-1.6 1.2-1.4 1.1-1.4 1.2-1.1 1.1-.8 1.2-1.1 1.1-1 1.2-.5 1.1-1 1.2-.8 1.1-.5 1.2-.5 1.2-.5 1.1-.4 1.2-.8 1.1-.1 1.2 0 1.1-.4 1.2-.7 1.1-.3 1.2 0 1.1 0 1.2-.5 1.1-.1 1.2-.2 1.2-.3 1.1 .1 1.2-.4 1.1 .1 1.2-.2 1.1-.1 1.2-.5 1.1-.2 1.2 .2 1.1 .3 1.2-.2 1.2-.3 1.1 0 1.2 .6 1.1-.5 1.2 .2 1.1-.4 1.2 0 1.1 .3 1.2-.7 1.1 .6 1.2-.8 1.1 .7 1.2 0 1.2-.5 1.1 .6 1.2 0 1.1-.5 1.2 .4 1.1-.1 1.2 .4 1.1-.8 1.2 .3 1.1 .1 1.2-.1 1.1 .4 1.2 0 1.2 .3 1.1-.5 1.2-.2 1.1 .1 1.2 0 1.1 0 1.2 .5 1.1 .1 1.2-.5 1.1 .1 1.2-.2 1.1 .4 1.2 .2 1.2-.4 1.1 .3 1.2 .3 1.1-.2 1.2 0 1.1 .1 1.2-.1 1.1-.4 1.2-.3 1.1 .1 1.2 .6 1.2-.4"/></defs>
<path d="M39.0 296.4h1.2m-.6 0v5.3m-.6 0h1.2M41.3 296.3h1.2m-.6 0v6.8m-.6 0h1.2M43.6 296.4h1.2m-.6 0v7.7m-.6 0h1.2M45.9 296.9h1.2m-.6 0v8.1m-.6 0h1.2M48.2 296.6h1.2m-.6 0v7.4m-.6 0h1.2M50.5 291.7h1.2m-.6 0v5.0m-.6 0h1.2M52.9 286.9h1.2m-.6 0v7.7m-.6 0h1.2M55.2 284.6h1.2m-.6 0v7.1m-.6 0h1.2M57.5 284.1h1.2m-.6 0v5.8m-.6 0h1.2M59.8 281.7h1.2m-.6 0v7.9m-.6 0h1.2M62.1 280.4h1.2m-.6 0v7.6m-.6 0h1.2M64.4 280.5h1.2m-.6 0v7.8m-.6 0h1.2M66.7 280.8h1.2m-.6 0v5.7m-.6 0h1.2M69.0 280.1h1.2m-.6 0v6.8m-.6 0h1.2M71.3 280.8h1.2m-.6 0v6.1m-.6 0h1.2M73.6 280.9h1.2m-.6 0v5.9m-.6 0h1.2M75.9 279.5h1.2m-.6 0v7.4m-.6 0h1.2M78.2 280.5h1.2m-.6 0v6.9m-.6 0h1.2M80.5 280.8h1.2m-.6 0v6.0m-.6 0h1.2M82.9 280.2h1.2m-.6 0v6.7m-.6 0h1.2M85.2 279.9h1.2m-.6 0v7.9m-.6 0h1.2M87.5 280.9h1.2m-.6 0v6.7m-.6 0h1.2M89.8 280.1h1.2m-.6 0v7.9m-.6 0h1.2M92.1 281.2h1.2m-.6 0v6.7m-.6 0h1.2M94.4 279.5h1.2m-.6 0v8.1m-.6 0h1.2M96.7 282.5h1.2m-.6 0v5.0m-.6 0h1.2M99.0 281.6h1.2m-.6 0v6.4m-.6 0h1.2M101.3 281.2h1.2m-.6 0v6.7m-.6 0h1.2M103.6 281.0h1.2m-.6 0v7.3m-.6 0h1.2M105.9 280.7h1.2m-.6 0v8.0m-.6 0h1.2M108.2 282.2h1.2m-.6 0v6.9m-.6 0h1.2M110.6 282.5h1.2m-.6 0v6.4m-.6 0h1.2M112.9 281.8h1.2m-.6 0v7.0m-.6 0h1.2M115.2 282.1h1.2m-.6 0v6.6m-.6 0h1.2M117.5 282.3h1.2m-.6 0v7.2m-.6 0h1.2M119.8 281.9h1.2m-.6 0v8.0m-.6 0h1.2M122.1 283.5h1.2m-.6 0v4.9m-.6 0h1.2M124.4 282.8h1.2m-.6 0v5.9m-.6 0h1.2M126.7 282.2h1.2m-.6 0v7.7m-.6 0h1.2M129.0 283.6h1.2m-.6 0v5.1m-.6 0h1.2M131.3 283.0h1.2m-.6 0v7.5m-.6 0h1.2M133.6 284.1h1.2m-.6 0v5.0m-.6 0h1.2M135.9 282.8h1.2m-.6 0v7.0m-.6 0h1.2M138.2 282.9h1.2m-.6 0v7.5m-.6 0h1.2M140.6 284.1h1.2m-.6 0v5.7m-.6 0h1.2M142.9 283.9h1.2m-.6 0v6.1m-.6 0h1.2M145.2 284.4h1.2m-.6 0v5.6m-.6 0h1.2M147.5 283.8h1.2m-.6 0v7.2m-.6 0h1.2M149.8 283.6h1.2m-.6 0v6.6m-.6 0h1.2M152.1 283.8h1.2m-.6 0v6.9m-.6 0h1.2" stroke="#c4c4c4" stroke-width="0.4" fill="none"/>
<defs><path id="c40" d="M38.5 299.4l1.1-.3 1.2 .8 1.1-.1 1.2 .2 1.1 .2 1.2 .6 1.1 .2 1.2 .8 1.1-1.5 1.2-3.3 1.1-2.7 1.2-2.2 1.2-1.3 1.1-1.7 1.2-1 1.1-1.2 1.2 .1 1.1-.9 1.2-.4 1.1-.4 1.2-1.1 1.1 .4 1.2-.2 1.1-.3 1.2-.4 1.2 .2 1.1-.4 1.2 0 1.1 .3 1.2 .4 1.1-.3 1.2 .1 1.1-.8 1.2 .7 1.1 .1 1.2-.4 1.1 .2 1.2 .3 1.2-.5 1.1 .1 1.2 .2 1.1 .3 1.2 .1 1.1 .3 1.2-.5 1.1 0 1.2 .4 1.1-.2 1.2-.8 1.2 1.2 1.1 .3 1.2-.6 1.1 .3 1.2 .1 1.1-.2 1.2 .2 1.1-.2 1.2 .2 1.1-.1 1.2 .3 1.1 .7 1.2-.9 1.2 .9 1.1-.7 1.2 .3 1.1 .5 1.2-.4 1.1-.1 1.2 .5 1.1-.2 1.2 .3 1.1 .1 1.2 0 1.1-.5 1.2 .2 1.2 .3 1.1 .1 1.2 0 1.1 0 1.2 .1 1.1 .5 1.2-.6 1.1 .5 1.2 .5 1.1-.8 1.2 .6 1.1-.2 1.2 0 1.2 .2 1.1-.2 1.2 .3 1.1 0 1.2 .3 1.1-.2 1.2 .3 1.1-.2 1.2-.3 1.1 .1 1.2 .2 1.2 .6"/></defs>
<use href="#c33" stroke="#2b8cf0" stroke-width="1.4" fill="none" stroke-linejoin="round"/>
<use href="#c34" stroke="#d62020" stroke-width="1.4" fill="none" stroke-linejoin="round"/>
<use href="#c35" stroke="#2aa84a" stroke-width="1.4" fill="none" stroke-linejoin="round"/>
<use href="#c36" stroke="#8a2be8" stroke-width="1.4" fill="none" stroke-linejoin="round"/>
<use href="#c37" stroke="#18a4c4" stroke-width="1.4" fill="none" stroke-linejoin="round"/>
<use href="#c38" stroke="#8fe0a8" stroke-width="1.4" fill="none" stroke-linejoin="round"/>
<use href="#c39" stroke="#f5881f" stroke-width="1.4" fill="none" stroke-linejoin="round"/>
<use href="#c40" stroke="#eea0b8" stroke-width="1.4" fill="none" stroke-linejoin="round"/>
<line x1="38.45" y1="226.60" x2="38.45" y2="335.55" stroke="#444" stroke-width="0.7"/>
<line x1="38.10" y1="335.20" x2="154.20" y2="335.20" stroke="#444" stroke-width="0.7"/>
<line x1="35.05" y1="335.20" x2="38.45" y2="335.20" stroke="#444" stroke-width="0.6"/>
<line x1="35.85" y1="324.34" x2="38.45" y2="324.34" stroke="#444" stroke-width="0.6"/>
<line x1="35.05" y1="313.48" x2="38.45" y2="313.48" stroke="#444" stroke-width="0.6"/>
<line x1="35.85" y1="302.62" x2="38.45" y2="302.62" stroke="#444" stroke-width="0.6"/>
<line x1="35.05" y1="291.76" x2="38.45" y2="291.76" stroke="#444" stroke-width="0.6"/>
<line x1="35.85" y1="280.90" x2="38.45" y2="280.90" stroke="#444" stroke-width="0.6"/>
<line x1="35.05" y1="270.04" x2="38.45" y2="270.04" stroke="#444" stroke-width="0.6"/>
<line x1="35.85" y1="259.18" x2="38.45" y2="259.18" stroke="#444" stroke-width="0.6"/>
<line x1="35.05" y1="248.32" x2="38.45" y2="248.32" stroke="#444" stroke-width="0.6"/>
<line x1="35.85" y1="237.46" x2="38.45" y2="237.46" stroke="#444" stroke-width="0.6"/>
<line x1="35.05" y1="226.60" x2="38.45" y2="226.60" stroke="#444" stroke-width="0.6"/>
<line x1="38.45" y1="335.20" x2="38.45" y2="338.60" stroke="#444" stroke-width="0.6"/>
<line x1="44.22" y1="335.20" x2="44.22" y2="337.80" stroke="#444" stroke-width="0.6"/>
<line x1="49.99" y1="335.20" x2="49.99" y2="337.80" stroke="#444" stroke-width="0.6"/>
<line x1="55.76" y1="335.20" x2="55.76" y2="337.80" stroke="#444" stroke-width="0.6"/>
<line x1="61.53" y1="335.20" x2="61.53" y2="337.80" stroke="#444" stroke-width="0.6"/>
<line x1="67.30" y1="335.20" x2="67.30" y2="338.60" stroke="#444" stroke-width="0.6"/>
<line x1="73.07" y1="335.20" x2="73.07" y2="337.80" stroke="#444" stroke-width="0.6"/>
<line x1="78.84" y1="335.20" x2="78.84" y2="337.80" stroke="#444" stroke-width="0.6"/>
<line x1="84.61" y1="335.20" x2="84.61" y2="337.80" stroke="#444" stroke-width="0.6"/>
<line x1="90.38" y1="335.20" x2="90.38" y2="337.80" stroke="#444" stroke-width="0.6"/>
<line x1="96.15" y1="335.20" x2="96.15" y2="338.60" stroke="#444" stroke-width="0.6"/>
<line x1="101.92" y1="335.20" x2="101.92" y2="337.80" stroke="#444" stroke-width="0.6"/>
<line x1="107.69" y1="335.20" x2="107.69" y2="337.80" stroke="#444" stroke-width="0.6"/>
<line x1="113.46" y1="335.20" x2="113.46" y2="337.80" stroke="#444" stroke-width="0.6"/>
<line x1="119.23" y1="335.20" x2="119.23" y2="337.80" stroke="#444" stroke-width="0.6"/>
<line x1="125.00" y1="335.20" x2="125.00" y2="338.60" stroke="#444" stroke-width="0.6"/>
<line x1="130.77" y1="335.20" x2="130.77" y2="337.80" stroke="#444" stroke-width="0.6"/>
<line x1="136.54" y1="335.20" x2="136.54" y2="337.80" stroke="#444" stroke-width="0.6"/>
<line x1="142.31" y1="335.20" x2="142.31" y2="337.80" stroke="#444" stroke-width="0.6"/>
<line x1="148.08" y1="335.20" x2="148.08" y2="337.80" stroke="#444" stroke-width="0.6"/>
<line x1="153.85" y1="335.20" x2="153.85" y2="338.60" stroke="#444" stroke-width="0.6"/>
<text transform="translate(29.95 338.10) scale(0.9 1)" font-size="8.4" text-anchor="end" fill="#222">0</text>
<text transform="translate(29.95 316.38) scale(0.9 1)" font-size="8.4" text-anchor="end" fill="#222">0.2</text>
<text transform="translate(29.95 294.66) scale(0.9 1)" font-size="8.4" text-anchor="end" fill="#222">0.4</text>
<text transform="translate(29.95 272.94) scale(0.9 1)" font-size="8.4" text-anchor="end" fill="#222">0.6</text>
<text transform="translate(29.95 251.22) scale(0.9 1)" font-size="8.4" text-anchor="end" fill="#222">0.8</text>
<text transform="translate(29.95 229.50) scale(0.9 1)" font-size="8.4" text-anchor="end" fill="#222">1.0</text>
<text transform="translate(38.45 349.10) scale(0.93 1)" font-size="8.4" text-anchor="middle" fill="#222">0</text>
<text transform="translate(67.30 349.10) scale(0.93 1)" font-size="8.4" text-anchor="middle" fill="#222">500</text>
<text transform="translate(96.15 349.10) scale(0.93 1)" font-size="8.4" text-anchor="middle" fill="#222">1,000</text>
<text transform="translate(125.00 349.10) scale(0.93 1)" font-size="8.4" text-anchor="middle" fill="#222">1,500</text>
<text transform="translate(153.85 349.10) scale(0.93 1)" font-size="8.4" text-anchor="middle" fill="#222">2,000</text>
<text transform="translate(96.15 362.10) scale(0.975 1)" font-size="9.2" text-anchor="middle" fill="#222">Time (s)</text>
<text transform="translate(11.85 280.90) rotate(-90)" font-size="9.2" text-anchor="middle" fill="#222">OxD</text>
<text transform="translate(74.50 242.40) scale(0.93 1)" font-size="9.2" text-anchor="start" fill="#222">+ <tspan font-style="italic">At</tspan>BAS1B</text>
<path d="M179.3 330.0h1.2m-.6 0v2.4m-.6 0h1.2M181.6 330.9h1.2m-.6 0v1.9m-.6 0h1.2M183.9 330.9h1.2m-.6 0v2.0m-.6 0h1.2M186.2 331.1h1.2m-.6 0v1.9m-.6 0h1.2M188.5 330.4h1.2m-.6 0v2.6m-.6 0h1.2M190.8 330.7h1.2m-.6 0v2.3m-.6 0h1.2M193.1 331.8h1.2m-.6 0v2.2m-.6 0h1.2M195.4 331.2h1.2m-.6 0v2.0m-.6 0h1.2M197.7 331.0h1.2m-.6 0v2.6m-.6 0h1.2M200.0 330.6h1.2m-.6 0v2.6m-.6 0h1.2M202.3 331.2h1.2m-.6 0v2.1m-.6 0h1.2M204.6 331.4h1.2m-.6 0v2.2m-.6 0h1.2M206.9 331.1h1.2m-.6 0v2.6m-.6 0h1.2M209.3 331.4h1.2m-.6 0v1.9m-.6 0h1.2M211.6 331.9h1.2m-.6 0v1.9m-.6 0h1.2M213.9 331.4h1.2m-.6 0v1.7m-.6 0h1.2M216.2 331.5h1.2m-.6 0v2.2m-.6 0h1.2M218.5 331.8h1.2m-.6 0v2.5m-.6 0h1.2M220.8 331.1h1.2m-.6 0v1.8m-.6 0h1.2M223.1 331.8h1.2m-.6 0v2.1m-.6 0h1.2M225.4 331.3h1.2m-.6 0v2.7m-.6 0h1.2M227.7 331.7h1.2m-.6 0v2.2m-.6 0h1.2M230.0 332.1h1.2m-.6 0v2.0m-.6 0h1.2M232.3 331.8h1.2m-.6 0v2.5m-.6 0h1.2M234.6 331.4h1.2m-.6 0v2.6m-.6 0h1.2M237.0 332.2h1.2m-.6 0v2.0m-.6 0h1.2M239.3 331.5h1.2m-.6 0v1.8m-.6 0h1.2M241.6 332.1h1.2m-.6 0v2.3m-.6 0h1.2M243.9 331.6h1.2m-.6 0v2.4m-.6 0h1.2M246.2 331.1h1.2m-.6 0v2.6m-.6 0h1.2M248.5 331.2h1.2m-.6 0v2.3m-.6 0h1.2M250.8 332.0h1.2m-.6 0v2.0m-.6 0h1.2M253.1 332.1h1.2m-.6 0v2.2m-.6 0h1.2M255.4 331.5h1.2m-.6 0v1.9m-.6 0h1.2M257.7 332.0h1.2m-.6 0v2.1m-.6 0h1.2M260.0 331.7h1.2m-.6 0v2.1m-.6 0h1.2M262.3 331.9h1.2m-.6 0v2.6m-.6 0h1.2M264.6 331.7h1.2m-.6 0v2.6m-.6 0h1.2M267.0 331.4h1.2m-.6 0v2.6m-.6 0h1.2M269.3 331.9h1.2m-.6 0v2.1m-.6 0h1.2M271.6 331.4h1.2m-.6 0v2.7m-.6 0h1.2M273.9 331.8h1.2m-.6 0v1.8m-.6 0h1.2M276.2 331.5h1.2m-.6 0v2.6m-.6 0h1.2M278.5 332.3h1.2m-.6 0v2.3m-.6 0h1.2M280.8 331.5h1.2m-.6 0v2.6m-.6 0h1.2M283.1 331.9h1.2m-.6 0v2.1m-.6 0h1.2M285.4 331.2h1.2m-.6 0v2.7m-.6 0h1.2M287.7 332.6h1.2m-.6 0v1.7m-.6 0h1.2M290.0 331.8h1.2m-.6 0v2.5m-.6 0h1.2M292.3 331.6h1.2m-.6 0v2.5m-.6 0h1.2" stroke="#c4c4c4" stroke-width="0.4" fill="none"/>
<defs><path id="c41" d="M178.7 331.6l1.2-.4 1.1-.1 1.2 .7 1.1-.2 1.2 .3 1.1 .3 1.2-.2 1.1 .3 1.2-.6 1.1 .3 1.2-.1 1.1 .2 1.2 .8 1.2-.8 1.1 .2 1.2 .7 1.1-.7 1.2-.2 1.1-.2 1.2 .8 1.1-.5 1.2 .2 1.1 .1 1.2 .1 1.1-.2 1.2 0 1.2 0 1.1 .2 1.2 .3 1.1-.7 1.2 0 1.1 .5 1.2-.1 1.1-.2 1.2 .7 1.1-.6 1.2-.5 1.2 .6 1.1 .2 1.2-.7 1.1 .6 1.2-.1 1.1 .2 1.2-.2 1.1 .6 1.2-.2 1.1 .1 1.2-.6 1.1 .2 1.2-.3 1.2 .9 1.1-.4 1.2-.5 1.1 .6 1.2 .2 1.1-.2 1.2-.1 1.1-.1 1.2-.4 1.1 0 1.2 0 1.1 .3 1.2 .2 1.2 0 1.1 .3 1.2-.7 1.1 0 1.2 .3 1.1 .3 1.2-.4 1.1 0 1.2 .1 1.1 .4 1.2-.4 1.1 .2 1.2-.3 1.2 0 1.1 .1 1.2 .2 1.1-.5 1.2 .2 1.1-.1 1.2 .1 1.1 .1 1.2 0 1.1 .4 1.2 .2 1.2-.2 1.1-.4 1.2-.1 1.1 .2 1.2 .1 1.1-.5 1.2 .6 1.1 .4 1.2-.1 1.1-.3 1.2-.3 1.1 0 1.2 .3"/></defs>
<path d="M179.3 330.8h1.2m-.6 0v2.0m-.6 0h1.2M181.6 330.3h1.2m-.6 0v2.5m-.6 0h1.2M183.9 331.0h1.2m-.6 0v2.3m-.6 0h1.2M186.2 330.5h1.2m-.6 0v2.5m-.6 0h1.2M188.5 330.6h1.2m-.6 0v2.7m-.6 0h1.2M190.8 330.7h1.2m-.6 0v2.0m-.6 0h1.2M193.1 330.8h1.2m-.6 0v2.7m-.6 0h1.2M195.4 331.7h1.2m-.6 0v1.6m-.6 0h1.2M197.7 330.4h1.2m-.6 0v2.6m-.6 0h1.2M200.0 331.3h1.2m-.6 0v1.7m-.6 0h1.2M202.3 330.6h1.2m-.6 0v2.2m-.6 0h1.2M204.6 331.3h1.2m-.6 0v2.1m-.6 0h1.2M206.9 330.6h1.2m-.6 0v2.5m-.6 0h1.2M209.3 331.3h1.2m-.6 0v2.0m-.6 0h1.2M211.6 330.9h1.2m-.6 0v1.9m-.6 0h1.2M213.9 331.2h1.2m-.6 0v2.5m-.6 0h1.2M216.2 331.2h1.2m-.6 0v2.2m-.6 0h1.2M218.5 331.1h1.2m-.6 0v2.4m-.6 0h1.2M220.8 331.8h1.2m-.6 0v2.2m-.6 0h1.2M223.1 331.6h1.2m-.6 0v1.7m-.6 0h1.2M225.4 330.9h1.2m-.6 0v2.5m-.6 0h1.2M227.7 331.6h1.2m-.6 0v1.9m-.6 0h1.2M230.0 331.1h1.2m-.6 0v2.1m-.6 0h1.2M232.3 331.4h1.2m-.6 0v1.6m-.6 0h1.2M234.6 331.7h1.2m-.6 0v1.9m-.6 0h1.2M237.0 331.1h1.2m-.6 0v2.4m-.6 0h1.2M239.3 331.3h1.2m-.6 0v2.5m-.6 0h1.2M241.6 331.7h1.2m-.6 0v2.3m-.6 0h1.2M243.9 331.3h1.2m-.6 0v2.1m-.6 0h1.2M246.2 330.9h1.2m-.6 0v2.4m-.6 0h1.2M248.5 331.4h1.2m-.6 0v2.4m-.6 0h1.2M250.8 331.2h1.2m-.6 0v1.9m-.6 0h1.2M253.1 330.9h1.2m-.6 0v2.2m-.6 0h1.2M255.4 331.5h1.2m-.6 0v2.3m-.6 0h1.2M257.7 331.5h1.2m-.6 0v2.4m-.6 0h1.2M260.0 331.6h1.2m-.6 0v1.8m-.6 0h1.2M262.3 331.5h1.2m-.6 0v2.0m-.6 0h1.2M264.6 331.6h1.2m-.6 0v2.0m-.6 0h1.2M267.0 331.6h1.2m-.6 0v1.7m-.6 0h1.2M269.3 331.8h1.2m-.6 0v2.0m-.6 0h1.2M271.6 331.6h1.2m-.6 0v2.4m-.6 0h1.2M273.9 331.1h1.2m-.6 0v2.3m-.6 0h1.2M276.2 332.1h1.2m-.6 0v1.8m-.6 0h1.2M278.5 331.3h1.2m-.6 0v2.4m-.6 0h1.2M280.8 331.8h1.2m-.6 0v1.8m-.6 0h1.2M283.1 331.2h1.2m-.6 0v2.4m-.6 0h1.2M285.4 331.5h1.2m-.6 0v1.8m-.6 0h1.2M287.7 331.9h1.2m-.6 0v1.7m-.6 0h1.2M290.0 331.8h1.2m-.6 0v1.9m-.6 0h1.2M292.3 331.8h1.2m-.6 0v2.2m-.6 0h1.2" stroke="#c4c4c4" stroke-width="0.4" fill="none"/>
<defs><path id="c42" d="M178.7 331.2l1.2 .6 1.1-.6 1.2 .4 1.1-.3 1.2 .8 1.1-.2 1.2-.1 1.1-.3 1.2 .5 1.1 .1 1.2-.3 1.1 .2 1.2 .2 1.2-.4 1.1 .7 1.2-.2 1.1-.7 1.2 .5 1.1 0 1.2-.2 1.1-.1 1.2 .1 1.1 .4 1.2-.1 1.1-.4 1.2 .3 1.2 .2 1.1-.4 1.2-.1 1.1-.2 1.2 .8 1.1-.1 1.2 .1 1.1-.3 1.2 .2 1.1-.4 1.2 1 1.2-.9 1.1 .4 1.2-.1 1.1-.2 1.2 .1 1.1 .3 1.2-.6 1.1 .2 1.2 .3 1.1-.1 1.2 .3 1.1 .1 1.2-.3 1.2-.1 1.1 0 1.2 .3 1.1 .1 1.2 .1 1.1-.8 1.2 .3 1.1 .3 1.2-.5 1.1 .2 1.2 .3 1.1 0 1.2-.4 1.2 .2 1.1-.3 1.2 .3 1.1 .3 1.2 0 1.1 0 1.2-.2 1.1 0 1.2-.1 1.1 0 1.2 .4 1.1-.2 1.2 .2 1.2-.3 1.1 .4 1.2-.1 1.1 0 1.2 0 1.1-.1 1.2-.4 1.1 .4 1.2 .4 1.1-.3 1.2-.3 1.2 .1 1.1 0 1.2-.4 1.1 .2 1.2 .3 1.1-.3 1.2 .7 1.1-.3 1.2 .2 1.1-.3 1.2-.3 1.1 .5 1.2-.5"/></defs>
<path d="M179.3 329.9h1.2m-.6 0v2.1m-.6 0h1.2M181.6 330.5h1.2m-.6 0v2.5m-.6 0h1.2M183.9 331.3h1.2m-.6 0v2.0m-.6 0h1.2M186.2 330.9h1.2m-.6 0v2.2m-.6 0h1.2M188.5 331.3h1.2m-.6 0v1.7m-.6 0h1.2M190.8 330.9h1.2m-.6 0v2.2m-.6 0h1.2M193.1 330.9h1.2m-.6 0v1.7m-.6 0h1.2M195.4 330.4h1.2m-.6 0v2.6m-.6 0h1.2M197.7 330.7h1.2m-.6 0v2.4m-.6 0h1.2M200.0 330.9h1.2m-.6 0v2.1m-.6 0h1.2M202.3 330.8h1.2m-.6 0v2.7m-.6 0h1.2M204.6 330.6h1.2m-.6 0v2.7m-.6 0h1.2M206.9 330.6h1.2m-.6 0v2.7m-.6 0h1.2M209.3 331.0h1.2m-.6 0v1.7m-.6 0h1.2M211.6 331.0h1.2m-.6 0v2.4m-.6 0h1.2M213.9 330.6h1.2m-.6 0v2.4m-.6 0h1.2M216.2 331.4h1.2m-.6 0v2.3m-.6 0h1.2M218.5 330.8h1.2m-.6 0v1.6m-.6 0h1.2M220.8 331.1h1.2m-.6 0v2.6m-.6 0h1.2M223.1 331.0h1.2m-.6 0v2.1m-.6 0h1.2M225.4 330.6h1.2m-.6 0v2.3m-.6 0h1.2M227.7 331.0h1.2m-.6 0v2.5m-.6 0h1.2M230.0 331.5h1.2m-.6 0v1.9m-.6 0h1.2M232.3 331.3h1.2m-.6 0v1.7m-.6 0h1.2M234.6 330.5h1.2m-.6 0v2.6m-.6 0h1.2M237.0 331.5h1.2m-.6 0v1.9m-.6 0h1.2M239.3 331.4h1.2m-.6 0v1.7m-.6 0h1.2M241.6 331.0h1.2m-.6 0v1.8m-.6 0h1.2M243.9 330.5h1.2m-.6 0v2.7m-.6 0h1.2M246.2 330.6h1.2m-.6 0v2.4m-.6 0h1.2M248.5 331.3h1.2m-.6 0v1.9m-.6 0h1.2M250.8 331.3h1.2m-.6 0v1.8m-.6 0h1.2M253.1 331.0h1.2m-.6 0v2.6m-.6 0h1.2M255.4 331.2h1.2m-.6 0v2.4m-.6 0h1.2M257.7 331.6h1.2m-.6 0v2.3m-.6 0h1.2M260.0 331.3h1.2m-.6 0v1.8m-.6 0h1.2M262.3 331.6h1.2m-.6 0v2.1m-.6 0h1.2M264.6 331.1h1.2m-.6 0v2.7m-.6 0h1.2M267.0 331.1h1.2m-.6 0v1.6m-.6 0h1.2M269.3 330.7h1.2m-.6 0v2.1m-.6 0h1.2M271.6 331.6h1.2m-.6 0v1.7m-.6 0h1.2M273.9 331.2h1.2m-.6 0v2.7m-.6 0h1.2M276.2 331.2h1.2m-.6 0v1.7m-.6 0h1.2M278.5 331.5h1.2m-.6 0v2.7m-.6 0h1.2M280.8 331.2h1.2m-.6 0v2.5m-.6 0h1.2M283.1 331.3h1.2m-.6 0v2.4m-.6 0h1.2M285.4 332.0h1.2m-.6 0v1.7m-.6 0h1.2M287.7 330.9h1.2m-.6 0v2.4m-.6 0h1.2M290.0 331.1h1.2m-.6 0v2.2m-.6 0h1.2M292.3 331.2h1.2m-.6 0v2.2m-.6 0h1.2" stroke="#c4c4c4" stroke-width="0.4" fill="none"/>
<defs><path id="c43" d="M178.7 331.5l1.2-.6 1.1 .5 1.2 .4 1.1 0 1.2 .5 1.1-.2 1.2-.1 1.1-.7 1.2 .9 1.1-.5 1.2 .2 1.1 .1 1.2-.2 1.2 .7 1.1-.8 1.2-.2 1.1 .4 1.2 .1 1.1 0 1.2-.2 1.1 .3 1.2-.1 1.1-.1 1.2 .2 1.1-.2 1.2 .1 1.2-.1 1.1 .4 1.2-.1 1.1 0 1.2-.4 1.1 .2 1.2 .5 1.1-.1 1.2-.8 1.1 .4 1.2 .5 1.2-.1 1.1-.3 1.2-.3 1.1-.1 1.2 .5 1.1 0 1.2-.5 1.1 .7 1.2-.6 1.1 .3 1.2 .1 1.1-.3 1.2 .2 1.2 .3 1.1 .2 1.2-.4 1.1-.1 1.2-.2 1.1 1 1.2-1 1.1 .2 1.2-.2 1.1 .1 1.2 .2 1.1 0 1.2 0 1.2 .2 1.1-.1 1.2 0 1.1 .1 1.2 .3 1.1 0 1.2-.5 1.1 0 1.2 .1 1.1 .3 1.2-.5 1.1 .3 1.2 .5 1.2-1 1.1 .9 1.2-1 1.1 .4 1.2 .3 1.1 .5 1.2-.4 1.1-.6 1.2 0 1.1 .3 1.2 .6 1.2-.4 1.1 0 1.2-.2 1.1 .2 1.2-.2 1.1 .6 1.2-.3 1.1-.5 1.2 .7 1.1-.6 1.2-.3 1.1 .4 1.2 .6"/></defs>
<path d="M179.3 330.4h1.2m-.6 0v1.7m-.6 0h1.2M181.6 330.4h1.2m-.6 0v2.5m-.6 0h1.2M183.9 330.5h1.2m-.6 0v2.4m-.6 0h1.2M186.2 330.9h1.2m-.6 0v2.1m-.6 0h1.2M188.5 331.0h1.2m-.6 0v2.6m-.6 0h1.2M190.8 331.1h1.2m-.6 0v2.6m-.6 0h1.2M193.1 331.1h1.2m-.6 0v2.3m-.6 0h1.2M195.4 330.9h1.2m-.6 0v1.7m-.6 0h1.2M197.7 330.6h1.2m-.6 0v2.3m-.6 0h1.2M200.0 331.0h1.2m-.6 0v2.1m-.6 0h1.2M202.3 331.1h1.2m-.6 0v1.9m-.6 0h1.2M204.6 330.4h1.2m-.6 0v2.6m-.6 0h1.2M206.9 330.5h1.2m-.6 0v2.4m-.6 0h1.2M209.3 331.2h1.2m-.6 0v1.8m-.6 0h1.2M211.6 331.3h1.2m-.6 0v1.9m-.6 0h1.2M213.9 331.0h1.2m-.6 0v2.0m-.6 0h1.2M216.2 331.3h1.2m-.6 0v2.3m-.6 0h1.2M218.5 331.0h1.2m-.6 0v2.0m-.6 0h1.2M220.8 330.8h1.2m-.6 0v2.1m-.6 0h1.2M223.1 330.7h1.2m-.6 0v2.5m-.6 0h1.2M225.4 331.2h1.2m-.6 0v1.8m-.6 0h1.2M227.7 331.0h1.2m-.6 0v2.4m-.6 0h1.2M230.0 331.5h1.2m-.6 0v2.0m-.6 0h1.2M232.3 331.2h1.2m-.6 0v2.7m-.6 0h1.2M234.6 330.5h1.2m-.6 0v2.7m-.6 0h1.2M237.0 331.4h1.2m-.6 0v2.0m-.6 0h1.2M239.3 331.5h1.2m-.6 0v2.3m-.6 0h1.2M241.6 331.5h1.2m-.6 0v1.7m-.6 0h1.2M243.9 331.5h1.2m-.6 0v2.1m-.6 0h1.2M246.2 331.4h1.2m-.6 0v2.3m-.6 0h1.2M248.5 331.3h1.2m-.6 0v2.3m-.6 0h1.2M250.8 331.5h1.2m-.6 0v2.0m-.6 0h1.2M253.1 331.3h1.2m-.6 0v1.7m-.6 0h1.2M255.4 331.0h1.2m-.6 0v1.8m-.6 0h1.2M257.7 331.4h1.2m-.6 0v2.2m-.6 0h1.2M260.0 331.6h1.2m-.6 0v1.8m-.6 0h1.2M262.3 331.3h1.2m-.6 0v2.0m-.6 0h1.2M264.6 330.7h1.2m-.6 0v2.3m-.6 0h1.2M267.0 331.1h1.2m-.6 0v2.6m-.6 0h1.2M269.3 331.3h1.2m-.6 0v2.2m-.6 0h1.2M271.6 331.0h1.2m-.6 0v1.9m-.6 0h1.2M273.9 331.2h1.2m-.6 0v2.3m-.6 0h1.2M276.2 331.6h1.2m-.6 0v1.9m-.6 0h1.2M278.5 331.4h1.2m-.6 0v2.5m-.6 0h1.2M280.8 331.5h1.2m-.6 0v1.8m-.6 0h1.2M283.1 331.1h1.2m-.6 0v1.9m-.6 0h1.2M285.4 331.1h1.2m-.6 0v2.1m-.6 0h1.2M287.7 330.7h1.2m-.6 0v2.6m-.6 0h1.2M290.0 331.7h1.2m-.6 0v1.8m-.6 0h1.2M292.3 331.2h1.2m-.6 0v1.8m-.6 0h1.2" stroke="#c4c4c4" stroke-width="0.4" fill="none"/>
<defs><path id="c44" d="M178.7 331.1l1.2 .2 1.1 0 1.2 .3 1.1 .3 1.2-.3 1.1 .5 1.2-.1 1.1-.3 1.2 .6 1.1-.4 1.2 .6 1.1-.3 1.2 .1 1.2-.3 1.1-.2 1.2 .2 1.1-.3 1.2 .3 1.1 .1 1.2-.2 1.1 .2 1.2-.1 1.1-.3 1.2 .5 1.1-.5 1.2 .6 1.2-.2 1.1 .4 1.2-.3 1.1-.5 1.2 .3 1.1-.3 1.2 .8 1.1-.1 1.2-.4 1.1-.1 1.2 0 1.2 .7 1.1-.6 1.2 .2 1.1-.1 1.2-.1 1.1 .2 1.2 .4 1.1-.2 1.2 .1 1.1 0 1.2-.3 1.1-.4 1.2 .6 1.2 0 1.1 .1 1.2 .2 1.1-.5 1.2 .2 1.1-.1 1.2 .2 1.1-.4 1.2 .5 1.1-.5 1.2 .3 1.1-.3 1.2 .4 1.2-.3 1.1 0 1.2 .1 1.1-.4 1.2 .4 1.1 .2 1.2-.4 1.1 .4 1.2 0 1.1-.2 1.2 0 1.1-.4 1.2 .9 1.2-.4 1.1-.3 1.2 .3 1.1-.1 1.2-.3 1.1 .7 1.2-.3 1.1-.2 1.2 .4 1.1 .3 1.2-.2 1.2-.3 1.1 0 1.2-.5 1.1 .2 1.2 .7 1.1-.6 1.2 0 1.1-.2 1.2 .5 1.1 .1 1.2-.2 1.1-.3 1.2 .2"/></defs>
<path d="M179.3 330.4h1.2m-.6 0v2.0m-.6 0h1.2M181.6 330.2h1.2m-.6 0v2.4m-.6 0h1.2M183.9 331.1h1.2m-.6 0v2.1m-.6 0h1.2M186.2 330.5h1.2m-.6 0v2.7m-.6 0h1.2M188.5 331.0h1.2m-.6 0v3.0m-.6 0h1.2M190.8 330.6h1.2m-.6 0v2.1m-.6 0h1.2M193.1 330.0h1.2m-.6 0v2.3m-.6 0h1.2M195.4 330.5h1.2m-.6 0v3.1m-.6 0h1.2M197.7 330.4h1.2m-.6 0v2.9m-.6 0h1.2M200.0 330.5h1.2m-.6 0v2.1m-.6 0h1.2M202.3 330.3h1.2m-.6 0v2.8m-.6 0h1.2M204.6 330.4h1.2m-.6 0v3.0m-.6 0h1.2M206.9 330.6h1.2m-.6 0v2.5m-.6 0h1.2M209.3 330.6h1.2m-.6 0v2.2m-.6 0h1.2M211.6 330.7h1.2m-.6 0v2.8m-.6 0h1.2M213.9 331.2h1.2m-.6 0v2.4m-.6 0h1.2M216.2 330.9h1.2m-.6 0v2.1m-.6 0h1.2M218.5 330.5h1.2m-.6 0v2.2m-.6 0h1.2M220.8 330.9h1.2m-.6 0v2.5m-.6 0h1.2M223.1 330.8h1.2m-.6 0v2.1m-.6 0h1.2M225.4 330.7h1.2m-.6 0v2.5m-.6 0h1.2M227.7 331.3h1.2m-.6 0v2.7m-.6 0h1.2M230.0 331.4h1.2m-.6 0v2.7m-.6 0h1.2M232.3 331.0h1.2m-.6 0v2.5m-.6 0h1.2M234.6 330.6h1.2m-.6 0v3.0m-.6 0h1.2M237.0 330.8h1.2m-.6 0v2.1m-.6 0h1.2M239.3 331.3h1.2m-.6 0v2.4m-.6 0h1.2M241.6 330.6h1.2m-.6 0v3.2m-.6 0h1.2M243.9 330.7h1.2m-.6 0v3.1m-.6 0h1.2M246.2 330.6h1.2m-.6 0v3.2m-.6 0h1.2M248.5 330.8h1.2m-.6 0v3.0m-.6 0h1.2M250.8 331.1h1.2m-.6 0v2.7m-.6 0h1.2M253.1 331.0h1.2m-.6 0v3.0m-.6 0h1.2M255.4 331.1h1.2m-.6 0v2.7m-.6 0h1.2M257.7 331.1h1.2m-.6 0v2.1m-.6 0h1.2M260.0 331.9h1.2m-.6 0v2.3m-.6 0h1.2M262.3 331.6h1.2m-.6 0v2.1m-.6 0h1.2M264.6 330.6h1.2m-.6 0v3.1m-.6 0h1.2M267.0 330.8h1.2m-.6 0v2.4m-.6 0h1.2M269.3 331.0h1.2m-.6 0v2.5m-.6 0h1.2M271.6 330.9h1.2m-.6 0v2.7m-.6 0h1.2M273.9 331.1h1.2m-.6 0v2.1m-.6 0h1.2M276.2 330.8h1.2m-.6 0v2.9m-.6 0h1.2M278.5 331.2h1.2m-.6 0v3.0m-.6 0h1.2M280.8 330.9h1.2m-.6 0v3.0m-.6 0h1.2M283.1 331.0h1.2m-.6 0v3.1m-.6 0h1.2M285.4 331.1h1.2m-.6 0v2.4m-.6 0h1.2M287.7 331.4h1.2m-.6 0v2.1m-.6 0h1.2M290.0 331.1h1.2m-.6 0v2.9m-.6 0h1.2M292.3 331.2h1.2m-.6 0v2.9m-.6 0h1.2" stroke="#c4c4c4" stroke-width="0.4" fill="none"/>
<defs><path id="c45" d="M178.7 331.3l1.2 .1 1.1 .3 1.2-.3 1.1 .3 1.2 .4 1.1 .1 1.2-.3 1.1 0 1.2 .6 1.1 0 1.2-.8 1.1 .3 1.2-.8 1.2 1.2 1.1-.4 1.2 .1 1.1-.3 1.2-.2 1.1 0 1.2 .7 1.1-.6 1.2 .6 1.1-.4 1.2 .1 1.1-.1 1.2 .4 1.2-.6 1.1 .4 1.2 0 1.1 0 1.2 .3 1.1-.5 1.2 .1 1.1 0 1.2-.4 1.1 .7 1.2-.1 1.2-.1 1.1-.2 1.2 .3 1.1-.3 1.2 .1 1.1 .6 1.2-.3 1.1 .4 1.2-.5 1.1 .1 1.2-.3 1.1 .1 1.2 .1 1.2-.3 1.1 .1 1.2 .5 1.1-.1 1.2-.3 1.1-.3 1.2 .5 1.1 0 1.2-.1 1.1-.2 1.2 .3 1.1-.1 1.2 .2 1.2 0 1.1 .1 1.2-.4 1.1 .3 1.2-.2 1.1 0 1.2-.1 1.1 .9 1.2-.4 1.1 0 1.2-.2 1.1-.3 1.2-.4 1.2 .2 1.1 .1 1.2 .3 1.1 .2 1.2-.3 1.1 .8 1.2-.9 1.1 .3 1.2-.2 1.1 .5 1.2 0 1.2-.1 1.1-.2 1.2-.1 1.1 .2 1.2-.2 1.1 0 1.2 .5 1.1-.3 1.2 .4 1.1-.3 1.2-.4 1.1 .5 1.2-.7"/></defs>
<path d="M179.3 329.1h1.2m-.6 0v5.1m-.6 0h1.2M181.6 329.7h1.2m-.6 0v3.4m-.6 0h1.2M183.9 330.6h1.2m-.6 0v3.5m-.6 0h1.2M186.2 330.0h1.2m-.6 0v4.0m-.6 0h1.2M188.5 329.9h1.2m-.6 0v3.5m-.6 0h1.2M190.8 327.9h1.2m-.6 0v4.2m-.6 0h1.2M193.1 326.5h1.2m-.6 0v5.4m-.6 0h1.2M195.4 325.5h1.2m-.6 0v5.1m-.6 0h1.2M197.7 325.8h1.2m-.6 0v5.3m-.6 0h1.2M200.0 326.7h1.2m-.6 0v3.7m-.6 0h1.2M202.3 326.9h1.2m-.6 0v3.7m-.6 0h1.2M204.6 327.3h1.2m-.6 0v3.3m-.6 0h1.2M206.9 327.3h1.2m-.6 0v3.9m-.6 0h1.2M209.3 327.7h1.2m-.6 0v3.4m-.6 0h1.2M211.6 327.8h1.2m-.6 0v4.4m-.6 0h1.2M213.9 328.2h1.2m-.6 0v3.9m-.6 0h1.2M216.2 327.2h1.2m-.6 0v4.7m-.6 0h1.2M218.5 327.9h1.2m-.6 0v4.5m-.6 0h1.2M220.8 328.3h1.2m-.6 0v4.6m-.6 0h1.2M223.1 328.4h1.2m-.6 0v3.9m-.6 0h1.2M225.4 328.1h1.2m-.6 0v4.9m-.6 0h1.2M227.7 328.2h1.2m-.6 0v4.8m-.6 0h1.2M230.0 328.4h1.2m-.6 0v4.8m-.6 0h1.2M232.3 329.3h1.2m-.6 0v4.3m-.6 0h1.2M234.6 328.7h1.2m-.6 0v4.3m-.6 0h1.2M237.0 328.8h1.2m-.6 0v3.9m-.6 0h1.2M239.3 329.8h1.2m-.6 0v3.3m-.6 0h1.2M241.6 329.3h1.2m-.6 0v4.3m-.6 0h1.2M243.9 329.0h1.2m-.6 0v4.6m-.6 0h1.2M246.2 329.7h1.2m-.6 0v3.7m-.6 0h1.2M248.5 329.4h1.2m-.6 0v5.1m-.6 0h1.2M250.8 329.3h1.2m-.6 0v5.2m-.6 0h1.2M253.1 329.1h1.2m-.6 0v5.1m-.6 0h1.2M255.4 329.6h1.2m-.6 0v5.0m-.6 0h1.2M257.7 330.2h1.2m-.6 0v4.3m-.6 0h1.2M260.0 329.3h1.2m-.6 0v3.6m-.6 0h1.2M262.3 329.9h1.2m-.6 0v3.8m-.6 0h1.2M264.6 329.3h1.2m-.6 0v4.9m-.6 0h1.2M267.0 329.3h1.2m-.6 0v5.4m-.6 0h1.2M269.3 330.0h1.2m-.6 0v3.5m-.6 0h1.2M271.6 329.8h1.2m-.6 0v3.3m-.6 0h1.2M273.9 329.7h1.2m-.6 0v4.0m-.6 0h1.2M276.2 329.6h1.2m-.6 0v4.0m-.6 0h1.2M278.5 329.7h1.2m-.6 0v4.6m-.6 0h1.2M280.8 330.3h1.2m-.6 0v3.5m-.6 0h1.2M283.1 329.0h1.2m-.6 0v5.1m-.6 0h1.2M285.4 330.2h1.2m-.6 0v4.0m-.6 0h1.2M287.7 329.5h1.2m-.6 0v5.2m-.6 0h1.2M290.0 330.4h1.2m-.6 0v4.0m-.6 0h1.2M292.3 329.6h1.2m-.6 0v3.9m-.6 0h1.2" stroke="#c4c4c4" stroke-width="0.4" fill="none"/>
<defs><path id="c46" d="M178.7 331.3l1.2 .4 1.1-.3 1.2 0 1.1-.1 1.2 1 1.1-.5 1.2 .2 1.1-.6 1.2 .3 1.1-.9 1.2-.8 1.1-.2 1.2-.6 1.2-.3 1.1-.9 1.2 .5 1.1 0 1.2 0 1.1 .1 1.2-.5 1.1 .6 1.2 .5 1.1-.3 1.2 .2 1.1 .1 1.2 .2 1.2 0 1.1 .5 1.2 .1 1.1-.1 1.2 .3 1.1-.4 1.2-.2 1.1 .2 1.2 .3 1.1 .1 1.2 .4 1.2 .2 1.1-.4 1.2 .6 1.1-.4 1.2 .1 1.1-.1 1.2 .2 1.1 0 1.2 .3 1.1 .3 1.2-.3 1.1-.2 1.2-.1 1.2 0 1.1 .7 1.2 0 1.1-.4 1.2 .3 1.1-.7 1.2 .6 1.1 .5 1.2-.2 1.1-.6 1.2 1 1.1-.5 1.2 .4 1.2-.8 1.1 .6 1.2 .2 1.1 .2 1.2-.3 1.1 .5 1.2-.5 1.1-.7 1.2 .6 1.1 .1 1.2 .3 1.1-.4 1.2 .2 1.2 .1 1.1-.6 1.2 .3 1.1 .4 1.2-.6 1.1 .4 1.2-.2 1.1 .2 1.2-.3 1.1 .1 1.2 .3 1.2-.3 1.1 .3 1.2-.1 1.1-.4 1.2 .7 1.1 0 1.2-.1 1.1 0 1.2-.5 1.1 .8 1.2-1 1.1 .2 1.2 .5"/></defs>
<path d="M179.3 329.4h1.2m-.6 0v3.0m-.6 0h1.2M181.6 330.8h1.2m-.6 0v2.2m-.6 0h1.2M183.9 330.7h1.2m-.6 0v2.1m-.6 0h1.2M186.2 331.3h1.2m-.6 0v2.8m-.6 0h1.2M188.5 330.5h1.2m-.6 0v2.5m-.6 0h1.2M190.8 329.2h1.2m-.6 0v3.2m-.6 0h1.2M193.1 330.5h1.2m-.6 0v2.1m-.6 0h1.2M195.4 330.0h1.2m-.6 0v2.9m-.6 0h1.2M197.7 330.3h1.2m-.6 0v2.8m-.6 0h1.2M200.0 330.6h1.2m-.6 0v2.4m-.6 0h1.2M202.3 331.1h1.2m-.6 0v2.1m-.6 0h1.2M204.6 330.8h1.2m-.6 0v2.8m-.6 0h1.2M206.9 330.1h1.2m-.6 0v2.9m-.6 0h1.2M209.3 330.8h1.2m-.6 0v2.6m-.6 0h1.2M211.6 331.0h1.2m-.6 0v2.6m-.6 0h1.2M213.9 330.6h1.2m-.6 0v2.8m-.6 0h1.2M216.2 330.5h1.2m-.6 0v2.7m-.6 0h1.2M218.5 331.2h1.2m-.6 0v2.5m-.6 0h1.2M220.8 331.4h1.2m-.6 0v2.2m-.6 0h1.2M223.1 331.4h1.2m-.6 0v2.6m-.6 0h1.2M225.4 331.1h1.2m-.6 0v2.7m-.6 0h1.2M227.7 331.0h1.2m-.6 0v3.1m-.6 0h1.2M230.0 330.8h1.2m-.6 0v3.3m-.6 0h1.2M232.3 331.4h1.2m-.6 0v2.7m-.6 0h1.2M234.6 331.5h1.2m-.6 0v2.4m-.6 0h1.2M237.0 331.6h1.2m-.6 0v2.2m-.6 0h1.2M239.3 331.7h1.2m-.6 0v2.8m-.6 0h1.2M241.6 331.5h1.2m-.6 0v2.9m-.6 0h1.2M243.9 331.8h1.2m-.6 0v2.3m-.6 0h1.2M246.2 330.8h1.2m-.6 0v2.9m-.6 0h1.2M248.5 331.1h1.2m-.6 0v3.3m-.6 0h1.2M250.8 331.6h1.2m-.6 0v2.5m-.6 0h1.2M253.1 331.4h1.2m-.6 0v3.2m-.6 0h1.2M255.4 331.3h1.2m-.6 0v2.5m-.6 0h1.2M257.7 331.6h1.2m-.6 0v2.8m-.6 0h1.2M260.0 331.3h1.2m-.6 0v3.1m-.6 0h1.2M262.3 331.9h1.2m-.6 0v2.2m-.6 0h1.2M264.6 331.2h1.2m-.6 0v2.4m-.6 0h1.2M267.0 331.7h1.2m-.6 0v3.2m-.6 0h1.2M269.3 331.9h1.2m-.6 0v2.0m-.6 0h1.2M271.6 332.1h1.2m-.6 0v2.4m-.6 0h1.2M273.9 331.6h1.2m-.6 0v2.6m-.6 0h1.2M276.2 331.4h1.2m-.6 0v2.9m-.6 0h1.2M278.5 332.0h1.2m-.6 0v2.8m-.6 0h1.2M280.8 331.3h1.2m-.6 0v3.2m-.6 0h1.2M283.1 331.7h1.2m-.6 0v2.8m-.6 0h1.2M285.4 331.7h1.2m-.6 0v2.0m-.6 0h1.2M287.7 332.0h1.2m-.6 0v2.0m-.6 0h1.2M290.0 331.7h1.2m-.6 0v2.0m-.6 0h1.2M292.3 331.5h1.2m-.6 0v2.5m-.6 0h1.2" stroke="#c4c4c4" stroke-width="0.4" fill="none"/>
<defs><path id="c47" d="M178.7 331.1l1.2-.2 1.1 1.1 1.2-.1 1.1-.5 1.2 .3 1.1 .3 1.2 .7 1.1-1 1.2 .1 1.1 .5 1.2-1.5 1.1 1.3 1.2-.5 1.2-.1 1.1 0 1.2-.1 1.1 .3 1.2 .3 1.1-.1 1.2 .5 1.1-.2 1.2-.8 1.1 .7 1.2-.1 1.1-.5 1.2 .3 1.2 .3 1.1-.1 1.2 .3 1.1 .2 1.2-.5 1.1 .2 1.2-.3 1.1 .5 1.2 .1 1.1-.2 1.2 .2 1.2 0 1.1 .2 1.2-.3 1.1 0 1.2-.4 1.1 .6 1.2 .4 1.1-.5 1.2-.5 1.1 .7 1.2 .1 1.1-.1 1.2 .7 1.2-.6 1.1-.1 1.2 .4 1.1-.5 1.2 .4 1.1 .2 1.2-.3 1.1-.3 1.2-.3 1.1 .2 1.2 .2 1.1 .2 1.2 0 1.2-.3 1.1 .4 1.2-.3 1.1-.1 1.2 .5 1.1-.1 1.2-.3 1.1 .2 1.2 0 1.1 .1 1.2-.1 1.1-.5 1.2 .1 1.2 .8 1.1-.4 1.2 0 1.1 0 1.2 .4 1.1-.3 1.2-.1 1.1 .2 1.2-.2 1.1 .7 1.2-.3 1.2-.4 1.1-.1 1.2 .2 1.1 .1 1.2-.2 1.1-.2 1.2 0 1.1 .3 1.2 .1 1.1-.4 1.2 .1 1.1-.1 1.2 .4"/></defs>
<path d="M179.3 330.1h1.2m-.6 0v2.1m-.6 0h1.2M181.6 330.8h1.2m-.6 0v2.1m-.6 0h1.2M183.9 330.5h1.2m-.6 0v2.4m-.6 0h1.2M186.2 330.5h1.2m-.6 0v2.1m-.6 0h1.2M188.5 329.9h1.2m-.6 0v2.0m-.6 0h1.2M190.8 320.1h1.2m-.6 0v17.3m-.6 0h1.2M193.1 317.3h1.2m-.6 0v17.4m-.6 0h1.2M195.4 315.7h1.2m-.6 0v16.5m-.6 0h1.2M197.7 315.2h1.2m-.6 0v13.3m-.6 0h1.2M200.0 312.1h1.2m-.6 0v17.4m-.6 0h1.2M202.3 312.0h1.2m-.6 0v17.5m-.6 0h1.2M204.6 313.4h1.2m-.6 0v15.2m-.6 0h1.2M206.9 315.8h1.2m-.6 0v11.9m-.6 0h1.2M209.3 315.8h1.2m-.6 0v13.7m-.6 0h1.2M211.6 315.6h1.2m-.6 0v12.0m-.6 0h1.2M213.9 317.1h1.2m-.6 0v10.8m-.6 0h1.2M216.2 317.9h1.2m-.6 0v9.7m-.6 0h1.2M218.5 316.1h1.2m-.6 0v13.3m-.6 0h1.2M220.8 317.6h1.2m-.6 0v11.6m-.6 0h1.2M223.1 317.2h1.2m-.6 0v12.7m-.6 0h1.2M225.4 319.6h1.2m-.6 0v8.4m-.6 0h1.2M227.7 319.8h1.2m-.6 0v8.5m-.6 0h1.2M230.0 318.8h1.2m-.6 0v9.4m-.6 0h1.2M232.3 320.4h1.2m-.6 0v7.0m-.6 0h1.2M234.6 320.3h1.2m-.6 0v7.8m-.6 0h1.2M237.0 320.1h1.2m-.6 0v8.5m-.6 0h1.2M239.3 320.7h1.2m-.6 0v8.0m-.6 0h1.2M241.6 320.3h1.2m-.6 0v9.4m-.6 0h1.2M243.9 321.1h1.2m-.6 0v7.8m-.6 0h1.2M246.2 321.1h1.2m-.6 0v7.8m-.6 0h1.2M248.5 321.9h1.2m-.6 0v7.4m-.6 0h1.2M250.8 321.5h1.2m-.6 0v7.8m-.6 0h1.2M253.1 322.6h1.2m-.6 0v6.2m-.6 0h1.2M255.4 323.1h1.2m-.6 0v4.8m-.6 0h1.2M257.7 321.9h1.2m-.6 0v7.7m-.6 0h1.2M260.0 323.2h1.2m-.6 0v6.9m-.6 0h1.2M262.3 323.6h1.2m-.6 0v4.8m-.6 0h1.2M264.6 323.7h1.2m-.6 0v4.6m-.6 0h1.2M267.0 323.8h1.2m-.6 0v4.8m-.6 0h1.2M269.3 323.5h1.2m-.6 0v5.8m-.6 0h1.2M271.6 324.1h1.2m-.6 0v4.3m-.6 0h1.2M273.9 324.6h1.2m-.6 0v3.9m-.6 0h1.2M276.2 323.7h1.2m-.6 0v5.0m-.6 0h1.2M278.5 324.8h1.2m-.6 0v3.7m-.6 0h1.2M280.8 324.5h1.2m-.6 0v4.2m-.6 0h1.2M283.1 324.9h1.2m-.6 0v4.4m-.6 0h1.2M285.4 324.9h1.2m-.6 0v3.9m-.6 0h1.2M287.7 325.3h1.2m-.6 0v3.4m-.6 0h1.2M290.0 324.9h1.2m-.6 0v3.8m-.6 0h1.2M292.3 325.3h1.2m-.6 0v3.7m-.6 0h1.2" stroke="#c4c4c4" stroke-width="0.4" fill="none"/>
<defs><path id="c48" d="M178.7 331.6l1.2-.4 1.1 .3 1.2 .3 1.1 .1 1.2-.2 1.1 .5 1.2-.6 1.1-.2 1.2-.5 1.1-.9 1.2-1.2 1.1-1.8 1.2-1 1.2-1 1.1-1 1.2-1.8 1.1-.3 1.2-.8 1.1-.3 1.2-.6 1.1 .5 1.2 .4 1.1 0 1.2 .5 1.1 .2 1.2-.1 1.2 .9 1.1-.9 1.2-.1 1.1 1 1.2-.1 1.1 .5 1.2-.3 1.1 .1 1.2 0 1.1 .7 1.2-.1 1.2 .1 1.1 .1 1.2-.6 1.1 .8 1.2 0 1.1 .3 1.2-.3 1.1-.3 1.2 .4 1.1 0 1.2 .8 1.1-.5 1.2 .4 1.2-.2 1.1 .1 1.2 .2 1.1 .7 1.2-.4 1.1 .2 1.2-.2 1.1 .2 1.2-.2 1.1 .8 1.2-.2 1.1-.1 1.2-.1 1.2 .3 1.1 0 1.2 0 1.1-.2 1.2 .3 1.1 0 1.2 .6 1.1 .3 1.2-.3 1.1-.5 1.2 .8 1.1-.7 1.2 .2 1.2 0 1.1 .2 1.2 0 1.1-.3 1.2 .2 1.1 .1 1.2 .2 1.1-.2 1.2-.2 1.1 .3 1.2 .2 1.2 .2 1.1-.3 1.2 .3 1.1 .2 1.2-.6 1.1 .4 1.2 .4 1.1-.3 1.2-.7 1.1 .5 1.2 .4 1.1 0 1.2-.5"/></defs>
<use href="#c41" stroke="#2b8cf0" stroke-width="1.4" fill="none" stroke-linejoin="round"/>
<use href="#c42" stroke="#d62020" stroke-width="1.4" fill="none" stroke-linejoin="round"/>
<use href="#c43" stroke="#2aa84a" stroke-width="1.4" fill="none" stroke-linejoin="round"/>
<use href="#c44" stroke="#8a2be8" stroke-width="1.4" fill="none" stroke-linejoin="round"/>
<use href="#c45" stroke="#18a4c4" stroke-width="1.4" fill="none" stroke-linejoin="round"/>
<use href="#c46" stroke="#8fe0a8" stroke-width="1.4" fill="none" stroke-linejoin="round"/>
<use href="#c47" stroke="#f5881f" stroke-width="1.4" fill="none" stroke-linejoin="round"/>
<use href="#c48" stroke="#eea0b8" stroke-width="1.4" fill="none" stroke-linejoin="round"/>
<line x1="178.70" y1="226.60" x2="178.70" y2="335.55" stroke="#444" stroke-width="0.7"/>
<line x1="178.35" y1="335.20" x2="294.45" y2="335.20" stroke="#444" stroke-width="0.7"/>
<line x1="175.30" y1="335.20" x2="178.70" y2="335.20" stroke="#444" stroke-width="0.6"/>
<line x1="176.10" y1="324.34" x2="178.70" y2="324.34" stroke="#444" stroke-width="0.6"/>
<line x1="175.30" y1="313.48" x2="178.70" y2="313.48" stroke="#444" stroke-width="0.6"/>
<line x1="176.10" y1="302.62" x2="178.70" y2="302.62" stroke="#444" stroke-width="0.6"/>
<line x1="175.30" y1="291.76" x2="178.70" y2="291.76" stroke="#444" stroke-width="0.6"/>
<line x1="176.10" y1="280.90" x2="178.70" y2="280.90" stroke="#444" stroke-width="0.6"/>
<line x1="175.30" y1="270.04" x2="178.70" y2="270.04" stroke="#444" stroke-width="0.6"/>
<line x1="176.10" y1="259.18" x2="178.70" y2="259.18" stroke="#444" stroke-width="0.6"/>
<line x1="175.30" y1="248.32" x2="178.70" y2="248.32" stroke="#444" stroke-width="0.6"/>
<line x1="176.10" y1="237.46" x2="178.70" y2="237.46" stroke="#444" stroke-width="0.6"/>
<line x1="175.30" y1="226.60" x2="178.70" y2="226.60" stroke="#444" stroke-width="0.6"/>
<line x1="178.70" y1="335.20" x2="178.70" y2="338.60" stroke="#444" stroke-width="0.6"/>
<line x1="184.47" y1="335.20" x2="184.47" y2="337.80" stroke="#444" stroke-width="0.6"/>
<line x1="190.24" y1="335.20" x2="190.24" y2="337.80" stroke="#444" stroke-width="0.6"/>
<line x1="196.01" y1="335.20" x2="196.01" y2="337.80" stroke="#444" stroke-width="0.6"/>
<line x1="201.78" y1="335.20" x2="201.78" y2="337.80" stroke="#444" stroke-width="0.6"/>
<line x1="207.55" y1="335.20" x2="207.55" y2="338.60" stroke="#444" stroke-width="0.6"/>
<line x1="213.32" y1="335.20" x2="213.32" y2="337.80" stroke="#444" stroke-width="0.6"/>
<line x1="219.09" y1="335.20" x2="219.09" y2="337.80" stroke="#444" stroke-width="0.6"/>
<line x1="224.86" y1="335.20" x2="224.86" y2="337.80" stroke="#444" stroke-width="0.6"/>
<line x1="230.63" y1="335.20" x2="230.63" y2="337.80" stroke="#444" stroke-width="0.6"/>
<line x1="236.40" y1="335.20" x2="236.40" y2="338.60" stroke="#444" stroke-width="0.6"/>
<line x1="242.17" y1="335.20" x2="242.17" y2="337.80" stroke="#444" stroke-width="0.6"/>
<line x1="247.94" y1="335.20" x2="247.94" y2="337.80" stroke="#444" stroke-width="0.6"/>
<line x1="253.71" y1="335.20" x2="253.71" y2="337.80" stroke="#444" stroke-width="0.6"/>
<line x1="259.48" y1="335.20" x2="259.48" y2="337.80" stroke="#444" stroke-width="0.6"/>
<line x1="265.25" y1="335.20" x2="265.25" y2="338.60" stroke="#444" stroke-width="0.6"/>
<line x1="271.02" y1="335.20" x2="271.02" y2="337.80" stroke="#444" stroke-width="0.6"/>
<line x1="276.79" y1="335.20" x2="276.79" y2="337.80" stroke="#444" stroke-width="0.6"/>
<line x1="282.56" y1="335.20" x2="282.56" y2="337.80" stroke="#444" stroke-width="0.6"/>
<line x1="288.33" y1="335.20" x2="288.33" y2="337.80" stroke="#444" stroke-width="0.6"/>
<line x1="294.10" y1="335.20" x2="294.10" y2="338.60" stroke="#444" stroke-width="0.6"/>
<text transform="translate(178.70 349.10) scale(0.93 1)" font-size="8.4" text-anchor="middle" fill="#222">0</text>
<text transform="translate(207.55 349.10) scale(0.93 1)" font-size="8.4" text-anchor="middle" fill="#222">500</text>
<text transform="translate(236.40 349.10) scale(0.93 1)" font-size="8.4" text-anchor="middle" fill="#222">1,000</text>
<text transform="translate(265.25 349.10) scale(0.93 1)" font-size="8.4" text-anchor="middle" fill="#222">1,500</text>
<text transform="translate(294.10 349.10) scale(0.93 1)" font-size="8.4" text-anchor="middle" fill="#222">2,000</text>
<text transform="translate(236.40 362.10) scale(0.975 1)" font-size="9.2" text-anchor="middle" fill="#222">Time (s)</text>
<text transform="translate(199.00 242.40) scale(0.93 1)" font-size="9.2" text-anchor="start" fill="#222">+ <tspan font-style="italic">At</tspan>BAS1B&#916;C<tspan font-size="6.3" dy="1.9">P</tspan><tspan dy="-1.9">&#8203;</tspan>&#916;C<tspan font-size="6.3" dy="1.9">R</tspan><tspan dy="-1.9">&#8203;</tspan></text>
<path d="M346.1 316.9h1.2m-.6 0v2.7m-.6 0h1.2M348.4 317.4h1.2m-.6 0v2.7m-.6 0h1.2M350.7 318.0h1.2m-.6 0v2.5m-.6 0h1.2M353.0 319.0h1.2m-.6 0v1.9m-.6 0h1.2M355.3 318.8h1.2m-.6 0v2.4m-.6 0h1.2M357.6 319.4h1.2m-.6 0v2.2m-.6 0h1.2M360.0 318.8h1.2m-.6 0v2.7m-.6 0h1.2M362.3 319.9h1.2m-.6 0v2.1m-.6 0h1.2M364.6 320.2h1.2m-.6 0v2.0m-.6 0h1.2M366.9 320.5h1.2m-.6 0v1.7m-.6 0h1.2M369.2 321.0h1.2m-.6 0v2.1m-.6 0h1.2M371.5 321.2h1.2m-.6 0v2.2m-.6 0h1.2M373.8 321.3h1.2m-.6 0v2.0m-.6 0h1.2M376.1 321.6h1.2m-.6 0v1.7m-.6 0h1.2M378.4 322.2h1.2m-.6 0v2.2m-.6 0h1.2M380.7 322.0h1.2m-.6 0v1.7m-.6 0h1.2M383.0 322.2h1.2m-.6 0v1.8m-.6 0h1.2M385.3 322.0h1.2m-.6 0v2.1m-.6 0h1.2M387.6 323.2h1.2m-.6 0v2.0m-.6 0h1.2M390.0 322.5h1.2m-.6 0v2.2m-.6 0h1.2M392.3 322.7h1.2m-.6 0v2.2m-.6 0h1.2M394.6 323.6h1.2m-.6 0v2.1m-.6 0h1.2M396.9 323.6h1.2m-.6 0v1.8m-.6 0h1.2M399.2 324.2h1.2m-.6 0v1.6m-.6 0h1.2M401.5 323.7h1.2m-.6 0v2.2m-.6 0h1.2M403.8 324.2h1.2m-.6 0v2.7m-.6 0h1.2M406.1 324.5h1.2m-.6 0v1.9m-.6 0h1.2M408.4 324.8h1.2m-.6 0v2.0m-.6 0h1.2M410.7 324.8h1.2m-.6 0v2.0m-.6 0h1.2M413.0 324.6h1.2m-.6 0v2.4m-.6 0h1.2M415.3 324.9h1.2m-.6 0v2.2m-.6 0h1.2M417.7 325.3h1.2m-.6 0v2.5m-.6 0h1.2M420.0 325.5h1.2m-.6 0v1.6m-.6 0h1.2M422.3 325.9h1.2m-.6 0v1.8m-.6 0h1.2M424.6 325.8h1.2m-.6 0v1.9m-.6 0h1.2M426.9 326.0h1.2m-.6 0v2.0m-.6 0h1.2M429.2 325.8h1.2m-.6 0v2.1m-.6 0h1.2M431.5 325.8h1.2m-.6 0v2.0m-.6 0h1.2M433.8 326.1h1.2m-.6 0v2.7m-.6 0h1.2M436.1 326.5h1.2m-.6 0v2.1m-.6 0h1.2M438.4 326.3h1.2m-.6 0v2.3m-.6 0h1.2M440.7 327.1h1.2m-.6 0v2.7m-.6 0h1.2M443.0 327.1h1.2m-.6 0v2.3m-.6 0h1.2M445.3 327.3h1.2m-.6 0v2.3m-.6 0h1.2M447.7 327.1h1.2m-.6 0v2.5m-.6 0h1.2M450.0 327.5h1.2m-.6 0v2.0m-.6 0h1.2M452.3 327.7h1.2m-.6 0v1.7m-.6 0h1.2M454.6 326.8h1.2m-.6 0v2.7m-.6 0h1.2M456.9 327.2h1.2m-.6 0v2.2m-.6 0h1.2M459.2 327.7h1.2m-.6 0v2.3m-.6 0h1.2" stroke="#c4c4c4" stroke-width="0.4" fill="none"/>
<defs><path id="c49" d="M345.6 318.5l1.1-.2 1.2 .6 1.1-.2 1.2-.1 1.1 .6 1.2 .3 1.1 .4 1.2-.3 1.1 .4 1.2-.1 1.1 .6 1.2-.2 1.2-.2 1.1 .5 1.2 .4 1.1 .4 1.2-.2 1.1 0 1.2 .1 1.1 .6 1.2 .1 1.1 .2 1.2 .1 1.1-.1 1.2 0 1.2-.3 1.1 .6 1.2-.2 1.1 1 1.2-.8 1.1 .3 1.2 .3 1.1 0 1.2 .2 1.1-.3 1.2 .4 1.1 .8 1.2 .1 1.2-.7 1.1 .5 1.2-.3 1.1 .6 1.2 .2 1.1 0 1.2-.1 1.1 .2 1.2 .3 1.1-.2 1.2 0 1.1 .6 1.2 .1 1.2 .3 1.1-.3 1.2 0 1.1 .3 1.2 0 1.1 0 1.2 0 1.1 0 1.2 0 1.1 .2 1.2-.1 1.2 .6 1.1-.3 1.2 .1 1.1 .5 1.2 0 1.1-.2 1.2 .1 1.1 .5 1.2-.2 1.1-.4 1.2 .2 1.1 .3 1.2-.3 1.2 .7 1.1-.1 1.2-.2 1.1 .4 1.2 .3 1.1-.4 1.2-.2 1.1 1.2 1.2-.7 1.1 .4 1.2-.1 1.1 .3 1.2-1 1.2 1 1.1-.2 1.2 .3 1.1 .1 1.2 0 1.1-.2 1.2-.3 1.1 .4 1.2-.2 1.1 .7 1.2-.2 1.2 .2"/></defs>
<path d="M346.1 317.3h1.2m-.6 0v1.8m-.6 0h1.2M348.4 318.3h1.2m-.6 0v1.8m-.6 0h1.2M350.7 318.7h1.2m-.6 0v1.4m-.6 0h1.2M353.0 318.3h1.2m-.6 0v1.8m-.6 0h1.2M355.3 317.6h1.2m-.6 0v1.7m-.6 0h1.2M357.6 317.5h1.2m-.6 0v1.6m-.6 0h1.2M360.0 317.0h1.2m-.6 0v2.0m-.6 0h1.2M362.3 317.0h1.2m-.6 0v1.9m-.6 0h1.2M364.6 317.1h1.2m-.6 0v1.4m-.6 0h1.2M366.9 317.4h1.2m-.6 0v1.4m-.6 0h1.2M369.2 317.5h1.2m-.6 0v1.3m-.6 0h1.2M371.5 317.3h1.2m-.6 0v1.5m-.6 0h1.2M373.8 317.4h1.2m-.6 0v1.9m-.6 0h1.2M376.1 317.2h1.2m-.6 0v2.1m-.6 0h1.2M378.4 317.6h1.2m-.6 0v2.1m-.6 0h1.2M380.7 317.8h1.2m-.6 0v2.1m-.6 0h1.2M383.0 317.9h1.2m-.6 0v1.4m-.6 0h1.2M385.3 318.4h1.2m-.6 0v2.0m-.6 0h1.2M387.6 317.9h1.2m-.6 0v2.0m-.6 0h1.2M390.0 318.5h1.2m-.6 0v1.7m-.6 0h1.2M392.3 318.3h1.2m-.6 0v2.2m-.6 0h1.2M394.6 318.6h1.2m-.6 0v1.8m-.6 0h1.2M396.9 319.2h1.2m-.6 0v1.4m-.6 0h1.2M399.2 318.6h1.2m-.6 0v1.5m-.6 0h1.2M401.5 318.5h1.2m-.6 0v1.4m-.6 0h1.2M403.8 318.9h1.2m-.6 0v1.8m-.6 0h1.2M406.1 318.9h1.2m-.6 0v1.8m-.6 0h1.2M408.4 319.3h1.2m-.6 0v2.0m-.6 0h1.2M410.7 319.7h1.2m-.6 0v1.3m-.6 0h1.2M413.0 319.8h1.2m-.6 0v1.3m-.6 0h1.2M415.3 319.6h1.2m-.6 0v2.1m-.6 0h1.2M417.7 319.2h1.2m-.6 0v1.5m-.6 0h1.2M420.0 319.8h1.2m-.6 0v1.5m-.6 0h1.2M422.3 320.0h1.2m-.6 0v2.1m-.6 0h1.2M424.6 320.2h1.2m-.6 0v1.4m-.6 0h1.2M426.9 319.9h1.2m-.6 0v2.0m-.6 0h1.2M429.2 320.8h1.2m-.6 0v2.1m-.6 0h1.2M431.5 320.1h1.2m-.6 0v1.8m-.6 0h1.2M433.8 320.2h1.2m-.6 0v1.8m-.6 0h1.2M436.1 321.3h1.2m-.6 0v1.3m-.6 0h1.2M438.4 320.6h1.2m-.6 0v1.8m-.6 0h1.2M440.7 320.8h1.2m-.6 0v1.8m-.6 0h1.2M443.0 321.0h1.2m-.6 0v2.0m-.6 0h1.2M445.3 321.1h1.2m-.6 0v1.8m-.6 0h1.2M447.7 321.2h1.2m-.6 0v1.4m-.6 0h1.2M450.0 321.3h1.2m-.6 0v1.5m-.6 0h1.2M452.3 321.3h1.2m-.6 0v1.9m-.6 0h1.2M454.6 321.5h1.2m-.6 0v1.4m-.6 0h1.2M456.9 321.6h1.2m-.6 0v1.4m-.6 0h1.2M459.2 321.9h1.2m-.6 0v1.5m-.6 0h1.2" stroke="#c4c4c4" stroke-width="0.4" fill="none"/>
<defs><path id="c50" d="M345.6 318.8l1.1-.7 1.2 .4 1.1 .7 1.2-.4 1.1 .6 1.2-.5 1.1 .3 1.2-.6 1.1-.2 1.2 .1 1.1-.2 1.2-.4 1.2 .1 1.1 .1 1.2-.1 1.1-.4 1.2 .2 1.1 .2 1.2 0 1.1 .6 1.2-.4 1.1 .2 1.2-.3 1.1 .4 1.2-.2 1.2 .4 1.1-.4 1.2 .5 1.1-.2 1.2-.1 1.1 .3 1.2 0 1.1-.2 1.2-.2 1.1 1 1.2-.1 1.1-.4 1.2 0 1.2 .4 1.1-.1 1.2 .2 1.1-.7 1.2 .8 1.1 .3 1.2 .2 1.1-.1 1.2-.6 1.1 .5 1.2-.6 1.1 .5 1.2 .1 1.2 0 1.1 0 1.2 0 1.1 .6 1.2-.1 1.1 .1 1.2-.1 1.1 .1 1.2 .3 1.1-.1 1.2-.6 1.2 0 1.1 .9 1.2-.3 1.1 .2 1.2 .2 1.1-.3 1.2 .2 1.1-.4 1.2 .4 1.1 .3 1.2 .7 1.1-.7 1.2-.2 1.2 .5 1.1-.4 1.2 .2 1.1 .7 1.2-.4 1.1-.1 1.2 0 1.1 .2 1.2 .1 1.1 .1 1.2 .1 1.1 0 1.2 .3 1.2-.4 1.1 .3 1.2-.1 1.1 .3 1.2-.2 1.1 .1 1.2-.1 1.1 .2 1.2-.1 1.1 .3 1.2 .1 1.2 .1"/></defs>
<path d="M346.1 318.2h1.2m-.6 0v1.4m-.6 0h1.2M348.4 317.5h1.2m-.6 0v1.8m-.6 0h1.2M350.7 318.3h1.2m-.6 0v2.1m-.6 0h1.2M353.0 318.2h1.2m-.6 0v1.8m-.6 0h1.2M355.3 316.8h1.2m-.6 0v2.1m-.6 0h1.2M357.6 317.2h1.2m-.6 0v1.4m-.6 0h1.2M360.0 316.4h1.2m-.6 0v1.8m-.6 0h1.2M362.3 316.4h1.2m-.6 0v1.5m-.6 0h1.2M364.6 316.1h1.2m-.6 0v1.6m-.6 0h1.2M366.9 316.2h1.2m-.6 0v1.4m-.6 0h1.2M369.2 315.7h1.2m-.6 0v1.7m-.6 0h1.2M371.5 316.6h1.2m-.6 0v1.3m-.6 0h1.2M373.8 316.2h1.2m-.6 0v1.9m-.6 0h1.2M376.1 315.8h1.2m-.6 0v1.9m-.6 0h1.2M378.4 316.1h1.2m-.6 0v2.1m-.6 0h1.2M380.7 316.6h1.2m-.6 0v2.0m-.6 0h1.2M383.0 316.4h1.2m-.6 0v1.4m-.6 0h1.2M385.3 316.8h1.2m-.6 0v2.1m-.6 0h1.2M387.6 316.6h1.2m-.6 0v1.8m-.6 0h1.2M390.0 316.3h1.2m-.6 0v2.1m-.6 0h1.2M392.3 316.7h1.2m-.6 0v1.7m-.6 0h1.2M394.6 317.2h1.2m-.6 0v1.4m-.6 0h1.2M396.9 316.7h1.2m-.6 0v1.9m-.6 0h1.2M399.2 316.9h1.2m-.6 0v1.5m-.6 0h1.2M401.5 317.3h1.2m-.6 0v2.2m-.6 0h1.2M403.8 317.2h1.2m-.6 0v1.8m-.6 0h1.2M406.1 316.8h1.2m-.6 0v2.1m-.6 0h1.2M408.4 317.2h1.2m-.6 0v1.7m-.6 0h1.2M410.7 317.7h1.2m-.6 0v1.6m-.6 0h1.2M413.0 317.6h1.2m-.6 0v1.9m-.6 0h1.2M415.3 317.4h1.2m-.6 0v1.9m-.6 0h1.2M417.7 317.4h1.2m-.6 0v1.7m-.6 0h1.2M420.0 317.9h1.2m-.6 0v1.5m-.6 0h1.2M422.3 317.8h1.2m-.6 0v1.7m-.6 0h1.2M424.6 317.4h1.2m-.6 0v1.9m-.6 0h1.2M426.9 318.1h1.2m-.6 0v1.5m-.6 0h1.2M429.2 318.4h1.2m-.6 0v1.4m-.6 0h1.2M431.5 318.1h1.2m-.6 0v1.7m-.6 0h1.2M433.8 318.5h1.2m-.6 0v1.9m-.6 0h1.2M436.1 318.7h1.2m-.6 0v1.4m-.6 0h1.2M438.4 318.4h1.2m-.6 0v1.5m-.6 0h1.2M440.7 318.6h1.2m-.6 0v2.1m-.6 0h1.2M443.0 318.6h1.2m-.6 0v1.5m-.6 0h1.2M445.3 318.7h1.2m-.6 0v2.0m-.6 0h1.2M447.7 318.4h1.2m-.6 0v1.6m-.6 0h1.2M450.0 319.2h1.2m-.6 0v1.4m-.6 0h1.2M452.3 319.2h1.2m-.6 0v1.7m-.6 0h1.2M454.6 318.6h1.2m-.6 0v2.1m-.6 0h1.2M456.9 319.1h1.2m-.6 0v2.0m-.6 0h1.2M459.2 318.9h1.2m-.6 0v1.3m-.6 0h1.2" stroke="#c4c4c4" stroke-width="0.4" fill="none"/>
<defs><path id="c51" d="M345.6 318.3l1.1 .6 1.2 .3 1.1-.8 1.2 .9 1.1 .1 1.2 .5 1.1-.8 1.2-.5 1.1-.8 1.2 .7 1.1-.6 1.2-.4 1.2-.2 1.1 0 1.2-.1 1.1 .2 1.2-.5 1.1-.3 1.2 .3 1.1 .2 1.2-.5 1.1 .2 1.2 .4 1.1-.1 1.2 .1 1.2-.1 1.1-.3 1.2 .5 1.1-.1 1.2 0 1.1 .3 1.2-.1 1.1-.3 1.2-.1 1.1 .9 1.2-.7 1.1 .3 1.2-.4 1.2 .3 1.1-.4 1.2 .5 1.1 .3 1.2 .1 1.1 .2 1.2-.5 1.1 .1 1.2-.1 1.1 .2 1.2 .5 1.1-.2 1.2 0 1.2-.1 1.1-.1 1.2-.1 1.1 .3 1.2 .7 1.1-.3 1.2 .4 1.1-.4 1.2 .2 1.1-.3 1.2 .1 1.2-.3 1.1 .1 1.2 .4 1.1-.3 1.2 .3 1.1-.1 1.2-.2 1.1 .7 1.2-.3 1.1-.3 1.2 .6 1.1-.2 1.2 0 1.2 .2 1.1 .3 1.2-.1 1.1 .1 1.2-.5 1.1 .3 1.2-.1 1.1 .5 1.2-.4 1.1 .2 1.2-.3 1.1 .6 1.2-.4 1.2-.1 1.1-.1 1.2 .8 1.1 .1 1.2 .1 1.1-.6 1.2 .1 1.1 .1 1.2 .4 1.1-.5 1.2-.1 1.2 .5"/></defs>
<path d="M346.1 317.7h1.2m-.6 0v1.9m-.6 0h1.2M348.4 318.4h1.2m-.6 0v1.8m-.6 0h1.2M350.7 318.4h1.2m-.6 0v2.0m-.6 0h1.2M353.0 317.0h1.2m-.6 0v2.0m-.6 0h1.2M355.3 315.0h1.2m-.6 0v1.8m-.6 0h1.2M357.6 313.4h1.2m-.6 0v1.9m-.6 0h1.2M360.0 312.2h1.2m-.6 0v1.5m-.6 0h1.2M362.3 311.5h1.2m-.6 0v1.6m-.6 0h1.2M364.6 310.4h1.2m-.6 0v1.6m-.6 0h1.2M366.9 309.1h1.2m-.6 0v2.0m-.6 0h1.2M369.2 309.4h1.2m-.6 0v2.0m-.6 0h1.2M371.5 309.5h1.2m-.6 0v1.6m-.6 0h1.2M373.8 309.4h1.2m-.6 0v2.2m-.6 0h1.2M376.1 309.9h1.2m-.6 0v1.4m-.6 0h1.2M378.4 309.7h1.2m-.6 0v1.4m-.6 0h1.2M380.7 309.4h1.2m-.6 0v1.6m-.6 0h1.2M383.0 309.7h1.2m-.6 0v1.4m-.6 0h1.2M385.3 309.4h1.2m-.6 0v2.1m-.6 0h1.2M387.6 309.7h1.2m-.6 0v1.6m-.6 0h1.2M390.0 309.4h1.2m-.6 0v1.6m-.6 0h1.2M392.3 309.9h1.2m-.6 0v2.0m-.6 0h1.2M394.6 309.7h1.2m-.6 0v1.8m-.6 0h1.2M396.9 310.1h1.2m-.6 0v1.9m-.6 0h1.2M399.2 310.3h1.2m-.6 0v1.7m-.6 0h1.2M401.5 310.0h1.2m-.6 0v1.7m-.6 0h1.2M403.8 310.0h1.2m-.6 0v2.1m-.6 0h1.2M406.1 309.7h1.2m-.6 0v1.5m-.6 0h1.2M408.4 310.0h1.2m-.6 0v1.8m-.6 0h1.2M410.7 310.5h1.2m-.6 0v1.7m-.6 0h1.2M413.0 310.6h1.2m-.6 0v1.4m-.6 0h1.2M415.3 311.3h1.2m-.6 0v1.4m-.6 0h1.2M417.7 310.6h1.2m-.6 0v1.7m-.6 0h1.2M420.0 310.6h1.2m-.6 0v2.0m-.6 0h1.2M422.3 310.3h1.2m-.6 0v1.7m-.6 0h1.2M424.6 310.9h1.2m-.6 0v1.4m-.6 0h1.2M426.9 310.3h1.2m-.6 0v2.1m-.6 0h1.2M429.2 311.4h1.2m-.6 0v1.4m-.6 0h1.2M431.5 311.1h1.2m-.6 0v2.1m-.6 0h1.2M433.8 310.9h1.2m-.6 0v1.3m-.6 0h1.2M436.1 311.2h1.2m-.6 0v1.9m-.6 0h1.2M438.4 311.4h1.2m-.6 0v1.4m-.6 0h1.2M440.7 311.5h1.2m-.6 0v1.5m-.6 0h1.2M443.0 311.0h1.2m-.6 0v1.7m-.6 0h1.2M445.3 311.6h1.2m-.6 0v2.0m-.6 0h1.2M447.7 311.5h1.2m-.6 0v1.7m-.6 0h1.2M450.0 311.8h1.2m-.6 0v1.7m-.6 0h1.2M452.3 312.2h1.2m-.6 0v1.7m-.6 0h1.2M454.6 311.6h1.2m-.6 0v1.8m-.6 0h1.2M456.9 311.5h1.2m-.6 0v1.5m-.6 0h1.2M459.2 311.7h1.2m-.6 0v2.1m-.6 0h1.2" stroke="#c4c4c4" stroke-width="0.4" fill="none"/>
<defs><path id="c52" d="M345.6 318.4l1.1 .3 1.2 .4 1.1 .2 1.2-.3 1.1 .4 1.2 .1 1.1-1.5 1.2-1.1 1.1-1 1.2-1.6 1.1 0 1.2-.8 1.2-.6 1.1-.2 1.2-.5 1.1-.8 1.2-.3 1.1 0 1.2-1 1.1 .5 1.2-.2 1.1 .4 1.2-.6 1.1-.2 1.2 .5 1.2-.6 1.1 .7 1.2 0 1.1-.2 1.2 .2 1.1-.4 1.2 .5 1.1-.4 1.2 .6 1.1-.5 1.2-.2 1.1 .3 1.2-.1 1.2-.2 1.1 .6 1.2 .1 1.1-.3 1.2 0 1.1 .2 1.2 .2 1.1-.6 1.2 .7 1.1-.2 1.2 0 1.1-.2 1.2 .4 1.2 .1 1.1-.7 1.2 .8 1.1-.4 1.2 .3 1.1 .1 1.2 0 1.1 0 1.2-.1 1.1 .8 1.2-.6 1.2 0 1.1 .3 1.2-.1 1.1-.7 1.2 .2 1.1 .4 1.2 .1 1.1 .2 1.2-.4 1.1 .5 1.2 .2 1.1-.4 1.2 .5 1.2 0 1.1-.6 1.2 .9 1.1-.4 1.2 0 1.1 0 1.2 .5 1.1-.3 1.2 .1 1.1-.6 1.2 .3 1.1 .5 1.2-.4 1.2 .1 1.1 .3 1.2 0 1.1 .1 1.2 .4 1.1-.2 1.2-.4 1.1-.1 1.2-.1 1.1 .7 1.2-.3 1.2 .9"/></defs>
<path d="M346.1 317.7h1.2m-.6 0v1.4m-.6 0h1.2M348.4 318.1h1.2m-.6 0v1.7m-.6 0h1.2M350.7 318.3h1.2m-.6 0v2.1m-.6 0h1.2M353.0 317.3h1.2m-.6 0v1.6m-.6 0h1.2M355.3 314.5h1.2m-.6 0v1.8m-.6 0h1.2M357.6 312.2h1.2m-.6 0v1.7m-.6 0h1.2M360.0 310.5h1.2m-.6 0v1.7m-.6 0h1.2M362.3 309.5h1.2m-.6 0v1.3m-.6 0h1.2M364.6 308.0h1.2m-.6 0v2.1m-.6 0h1.2M366.9 306.9h1.2m-.6 0v1.8m-.6 0h1.2M369.2 306.7h1.2m-.6 0v1.6m-.6 0h1.2M371.5 305.7h1.2m-.6 0v1.6m-.6 0h1.2M373.8 305.2h1.2m-.6 0v1.5m-.6 0h1.2M376.1 304.5h1.2m-.6 0v2.1m-.6 0h1.2M378.4 304.6h1.2m-.6 0v2.0m-.6 0h1.2M380.7 304.5h1.2m-.6 0v1.6m-.6 0h1.2M383.0 303.9h1.2m-.6 0v1.8m-.6 0h1.2M385.3 303.6h1.2m-.6 0v1.8m-.6 0h1.2M387.6 304.1h1.2m-.6 0v1.5m-.6 0h1.2M390.0 304.4h1.2m-.6 0v1.3m-.6 0h1.2M392.3 303.5h1.2m-.6 0v1.9m-.6 0h1.2M394.6 304.1h1.2m-.6 0v1.4m-.6 0h1.2M396.9 303.6h1.2m-.6 0v1.8m-.6 0h1.2M399.2 304.0h1.2m-.6 0v1.3m-.6 0h1.2M401.5 304.0h1.2m-.6 0v1.3m-.6 0h1.2M403.8 304.4h1.2m-.6 0v1.4m-.6 0h1.2M406.1 303.5h1.2m-.6 0v1.9m-.6 0h1.2M408.4 303.8h1.2m-.6 0v1.8m-.6 0h1.2M410.7 303.5h1.2m-.6 0v2.2m-.6 0h1.2M413.0 304.1h1.2m-.6 0v1.9m-.6 0h1.2M415.3 304.1h1.2m-.6 0v1.8m-.6 0h1.2M417.7 304.7h1.2m-.6 0v1.3m-.6 0h1.2M420.0 303.9h1.2m-.6 0v2.1m-.6 0h1.2M422.3 303.6h1.2m-.6 0v1.7m-.6 0h1.2M424.6 304.3h1.2m-.6 0v2.0m-.6 0h1.2M426.9 304.6h1.2m-.6 0v1.3m-.6 0h1.2M429.2 304.0h1.2m-.6 0v2.0m-.6 0h1.2M431.5 304.4h1.2m-.6 0v1.7m-.6 0h1.2M433.8 304.1h1.2m-.6 0v1.5m-.6 0h1.2M436.1 304.7h1.2m-.6 0v1.7m-.6 0h1.2M438.4 304.3h1.2m-.6 0v1.4m-.6 0h1.2M440.7 304.0h1.2m-.6 0v1.8m-.6 0h1.2M443.0 304.3h1.2m-.6 0v1.5m-.6 0h1.2M445.3 304.6h1.2m-.6 0v1.9m-.6 0h1.2M447.7 304.7h1.2m-.6 0v1.5m-.6 0h1.2M450.0 304.7h1.2m-.6 0v1.9m-.6 0h1.2M452.3 304.6h1.2m-.6 0v1.8m-.6 0h1.2M454.6 304.3h1.2m-.6 0v1.9m-.6 0h1.2M456.9 304.3h1.2m-.6 0v2.1m-.6 0h1.2M459.2 305.0h1.2m-.6 0v1.6m-.6 0h1.2" stroke="#c4c4c4" stroke-width="0.4" fill="none"/>
<defs><path id="c53" d="M345.6 318.3l1.1 .1 1.2 .6 1.1 0 1.2 .1 1.1 .2 1.2 .3 1.1-1.5 1.2-1.8 1.1-.9 1.2-1.1 1.1-1.3 1.2-.6 1.2-1 1.1-.7 1.2-.5 1.1-.8 1.2-.4 1.1-.4 1.2-.8 1.1-.2 1.2-.1 1.1-.6 1.2-.4 1.1-.3 1.2-.2 1.2-.2 1.1-.3 1.2 .2 1.1-.1 1.2-.5 1.1 .2 1.2-.2 1.1-.3 1.2-.1 1.1-.2 1.2 .5 1.1-.2 1.2-.2 1.2 .5 1.1-.1 1.2-.5 1.1 .3 1.2 .1 1.1-.5 1.2 .1 1.1-.2 1.2 .4 1.1 0 1.2 0 1.1-.2 1.2 .7 1.2-.4 1.1-.3 1.2 .4 1.1-.2 1.2 0 1.1-.1 1.2 .3 1.1 .2 1.2-1 1.1 .9 1.2-.6 1.2 .9 1.1-.4 1.2 .1 1.1-.6 1.2 0 1.1 .3 1.2 .6 1.1-.1 1.2 .1 1.1-.1 1.2-.2 1.1 .4 1.2-.2 1.2-.4 1.1 0 1.2 .9 1.1-.2 1.2-.1 1.1-.4 1.2 .5 1.1-.6 1.2 .4 1.1-.2 1.2 .6 1.1-.1 1.2-.3 1.2 .1 1.1 .7 1.2-.4 1.1-.1 1.2-.1 1.1 .4 1.2-.6 1.1 .4 1.2-.3 1.1 .3 1.2 .1 1.2 .2"/></defs>
<path d="M346.1 317.6h1.2m-.6 0v2.1m-.6 0h1.2M348.4 317.6h1.2m-.6 0v1.8m-.6 0h1.2M350.7 318.5h1.2m-.6 0v1.5m-.6 0h1.2M353.0 316.5h1.2m-.6 0v1.5m-.6 0h1.2M355.3 311.7h1.2m-.6 0v1.9m-.6 0h1.2M357.6 309.4h1.2m-.6 0v2.0m-.6 0h1.2M360.0 307.1h1.2m-.6 0v1.4m-.6 0h1.2M362.3 304.5h1.2m-.6 0v1.7m-.6 0h1.2M364.6 303.4h1.2m-.6 0v1.5m-.6 0h1.2M366.9 301.7h1.2m-.6 0v1.7m-.6 0h1.2M369.2 300.2h1.2m-.6 0v2.1m-.6 0h1.2M371.5 299.2h1.2m-.6 0v1.8m-.6 0h1.2M373.8 298.3h1.2m-.6 0v1.9m-.6 0h1.2M376.1 297.7h1.2m-.6 0v2.0m-.6 0h1.2M378.4 297.9h1.2m-.6 0v1.5m-.6 0h1.2M380.7 297.4h1.2m-.6 0v1.8m-.6 0h1.2M383.0 297.5h1.2m-.6 0v1.6m-.6 0h1.2M385.3 297.6h1.2m-.6 0v1.7m-.6 0h1.2M387.6 297.1h1.2m-.6 0v1.8m-.6 0h1.2M390.0 296.9h1.2m-.6 0v1.9m-.6 0h1.2M392.3 296.8h1.2m-.6 0v1.4m-.6 0h1.2M394.6 296.6h1.2m-.6 0v2.0m-.6 0h1.2M396.9 296.6h1.2m-.6 0v1.4m-.6 0h1.2M399.2 296.6h1.2m-.6 0v1.6m-.6 0h1.2M401.5 296.1h1.2m-.6 0v2.0m-.6 0h1.2M403.8 295.9h1.2m-.6 0v2.2m-.6 0h1.2M406.1 296.4h1.2m-.6 0v1.6m-.6 0h1.2M408.4 296.3h1.2m-.6 0v2.1m-.6 0h1.2M410.7 296.7h1.2m-.6 0v1.3m-.6 0h1.2M413.0 296.6h1.2m-.6 0v2.1m-.6 0h1.2M415.3 296.9h1.2m-.6 0v1.5m-.6 0h1.2M417.7 297.1h1.2m-.6 0v1.3m-.6 0h1.2M420.0 296.9h1.2m-.6 0v2.0m-.6 0h1.2M422.3 297.0h1.2m-.6 0v1.4m-.6 0h1.2M424.6 296.9h1.2m-.6 0v2.0m-.6 0h1.2M426.9 297.4h1.2m-.6 0v1.3m-.6 0h1.2M429.2 296.5h1.2m-.6 0v1.4m-.6 0h1.2M431.5 297.2h1.2m-.6 0v1.6m-.6 0h1.2M433.8 297.2h1.2m-.6 0v1.4m-.6 0h1.2M436.1 297.1h1.2m-.6 0v1.7m-.6 0h1.2M438.4 297.1h1.2m-.6 0v1.6m-.6 0h1.2M440.7 297.3h1.2m-.6 0v1.9m-.6 0h1.2M443.0 297.5h1.2m-.6 0v1.7m-.6 0h1.2M445.3 297.2h1.2m-.6 0v2.1m-.6 0h1.2M447.7 297.2h1.2m-.6 0v2.0m-.6 0h1.2M450.0 297.7h1.2m-.6 0v1.5m-.6 0h1.2M452.3 297.3h1.2m-.6 0v2.1m-.6 0h1.2M454.6 297.7h1.2m-.6 0v2.1m-.6 0h1.2M456.9 298.0h1.2m-.6 0v1.8m-.6 0h1.2M459.2 297.9h1.2m-.6 0v1.8m-.6 0h1.2" stroke="#c4c4c4" stroke-width="0.4" fill="none"/>
<defs><path id="c54" d="M345.6 318.7l1.1 0 1.2 .3 1.1-.5 1.2 .9 1.1-.2 1.2 .6 1.1-2.6 1.2-2.7 1.1-1.9 1.2-.8 1.1-1.4 1.2-2.1 1.2-.5 1.1-.9 1.2-1.5 1.1-.5 1.2-.7 1.1-1.4 1.2-.2 1.1-.5 1.2-.9 1.1-.3 1.2-.8 1.1-.1 1.2-.7 1.2-.2 1.1-.5 1.2 0 1.1 .1 1.2-.4 1.1 0 1.2 .3 1.1-.3 1.2-.6 1.1 .8 1.2-.5 1.1 0 1.2-.4 1.2 .2 1.1-.4 1.2 .1 1.1 .1 1.2 0 1.1 .4 1.2-.7 1.1 .4 1.2-.3 1.1-.1 1.2-.2 1.1 .1 1.2-.2 1.2 .8 1.1-.6 1.2-.2 1.1 .3 1.2 .4 1.1-.3 1.2 .2 1.1 .1 1.2-.4 1.1 .3 1.2 .3 1.2-.1 1.1-.7 1.2 .8 1.1-.4 1.2 .2 1.1-.3 1.2 .5 1.1 .2 1.2-.1 1.1 .1 1.2-.9 1.1 .7 1.2 .2 1.2-.4 1.1 .2 1.2 .2 1.1-.2 1.2 .2 1.1-.2 1.2-.1 1.1 .5 1.2 0 1.1 .1 1.2-.4 1.1 .3 1.2-.1 1.2 0 1.1 .4 1.2-.1 1.1-.3 1.2 .1 1.1 .1 1.2 .3 1.1 .1 1.2 .1 1.1-.1 1.2 0 1.2 .4"/></defs>
<path d="M346.1 317.4h1.2m-.6 0v1.9m-.6 0h1.2M348.4 318.0h1.2m-.6 0v1.4m-.6 0h1.2M350.7 318.8h1.2m-.6 0v1.3m-.6 0h1.2M353.0 315.9h1.2m-.6 0v1.5m-.6 0h1.2M355.3 310.3h1.2m-.6 0v1.4m-.6 0h1.2M357.6 305.7h1.2m-.6 0v2.0m-.6 0h1.2M360.0 302.3h1.2m-.6 0v1.5m-.6 0h1.2M362.3 299.2h1.2m-.6 0v2.1m-.6 0h1.2M364.6 297.0h1.2m-.6 0v1.9m-.6 0h1.2M366.9 294.8h1.2m-.6 0v1.5m-.6 0h1.2M369.2 293.2h1.2m-.6 0v1.9m-.6 0h1.2M371.5 292.3h1.2m-.6 0v1.6m-.6 0h1.2M373.8 291.2h1.2m-.6 0v1.8m-.6 0h1.2M376.1 290.3h1.2m-.6 0v1.4m-.6 0h1.2M378.4 289.5h1.2m-.6 0v2.0m-.6 0h1.2M380.7 288.9h1.2m-.6 0v2.0m-.6 0h1.2M383.0 288.6h1.2m-.6 0v1.8m-.6 0h1.2M385.3 288.0h1.2m-.6 0v1.9m-.6 0h1.2M387.6 288.2h1.2m-.6 0v1.6m-.6 0h1.2M390.0 288.2h1.2m-.6 0v1.4m-.6 0h1.2M392.3 287.4h1.2m-.6 0v1.6m-.6 0h1.2M394.6 287.4h1.2m-.6 0v1.9m-.6 0h1.2M396.9 287.5h1.2m-.6 0v1.8m-.6 0h1.2M399.2 287.6h1.2m-.6 0v1.4m-.6 0h1.2M401.5 287.7h1.2m-.6 0v1.5m-.6 0h1.2M403.8 287.6h1.2m-.6 0v1.7m-.6 0h1.2M406.1 287.4h1.2m-.6 0v1.3m-.6 0h1.2M408.4 287.7h1.2m-.6 0v1.3m-.6 0h1.2M410.7 288.0h1.2m-.6 0v1.7m-.6 0h1.2M413.0 287.7h1.2m-.6 0v1.4m-.6 0h1.2M415.3 287.5h1.2m-.6 0v2.1m-.6 0h1.2M417.7 288.1h1.2m-.6 0v1.4m-.6 0h1.2M420.0 287.4h1.2m-.6 0v2.0m-.6 0h1.2M422.3 288.3h1.2m-.6 0v2.0m-.6 0h1.2M424.6 287.9h1.2m-.6 0v1.6m-.6 0h1.2M426.9 288.1h1.2m-.6 0v1.8m-.6 0h1.2M429.2 287.4h1.2m-.6 0v2.2m-.6 0h1.2M431.5 287.8h1.2m-.6 0v1.8m-.6 0h1.2M433.8 287.5h1.2m-.6 0v1.6m-.6 0h1.2M436.1 288.2h1.2m-.6 0v2.2m-.6 0h1.2M438.4 288.5h1.2m-.6 0v1.5m-.6 0h1.2M440.7 288.1h1.2m-.6 0v2.1m-.6 0h1.2M443.0 288.3h1.2m-.6 0v1.6m-.6 0h1.2M445.3 288.3h1.2m-.6 0v1.7m-.6 0h1.2M447.7 288.4h1.2m-.6 0v1.6m-.6 0h1.2M450.0 287.8h1.2m-.6 0v1.9m-.6 0h1.2M452.3 288.2h1.2m-.6 0v2.1m-.6 0h1.2M454.6 289.0h1.2m-.6 0v1.9m-.6 0h1.2M456.9 288.1h1.2m-.6 0v1.5m-.6 0h1.2M459.2 288.3h1.2m-.6 0v2.2m-.6 0h1.2" stroke="#c4c4c4" stroke-width="0.4" fill="none"/>
<defs><path id="c55" d="M345.6 318.3l1.1 0 1.2 .4 1.1 0 1.2 .6 1.1 .1 1.2 0 1.1-2.7 1.2-3.3 1.1-2.4 1.2-2.6 1.1-1.6 1.2-2.1 1.2-1.7 1.1-1.5 1.2-1.3 1.1-1.4 1.2-.8 1.1-1.5 1.2-1 1.1-.6 1.2-.7 1.1-.5 1.2-.6 1.1-.7 1.2-.3 1.2-.4 1.1-.7 1.2-.3 1.1-.2 1.2-.2 1.1-.4 1.2-.1 1.1-.3 1.2-.3 1.1-.3 1.2-.1 1.1 .2 1.2-.6 1.2 .6 1.1-.4 1.2-.4 1.1-.4 1.2 .6 1.1 0 1.2 0 1.1 .2 1.2-.3 1.1 .1 1.2 0 1.1-.5 1.2 .5 1.2-.6 1.1 .2 1.2 .1 1.1 .3 1.2 0 1.1 .4 1.2-.6 1.1 .2 1.2-.2 1.1 .3 1.2-.2 1.2 .5 1.1 .2 1.2-.7 1.1-.1 1.2 1.1 1.1-1.1 1.2 .5 1.1-.1 1.2 .4 1.1-.1 1.2-.4 1.1 .4 1.2-.1 1.2 0 1.1-.5 1.2 .3 1.1 .6 1.2-.2 1.1 .2 1.2 .1 1.1-.1 1.2-.4 1.1 .3 1.2-.2 1.1 .3 1.2 .1 1.2-.1 1.1 .1 1.2-.5 1.1 0 1.2 .5 1.1-.1 1.2 .7 1.1-.4 1.2-.6 1.1 .8 1.2-.4 1.2 0"/></defs>
<path d="M346.1 317.5h1.2m-.6 0v2.2m-.6 0h1.2M348.4 317.9h1.2m-.6 0v1.9m-.6 0h1.2M350.7 318.3h1.2m-.6 0v2.7m-.6 0h1.2M353.0 314.3h1.2m-.6 0v2.4m-.6 0h1.2M355.3 307.7h1.2m-.6 0v2.0m-.6 0h1.2M357.6 302.6h1.2m-.6 0v2.4m-.6 0h1.2M360.0 298.6h1.2m-.6 0v2.6m-.6 0h1.2M362.3 295.8h1.2m-.6 0v1.8m-.6 0h1.2M364.6 292.4h1.2m-.6 0v2.3m-.6 0h1.2M366.9 290.3h1.2m-.6 0v2.7m-.6 0h1.2M369.2 288.6h1.2m-.6 0v2.0m-.6 0h1.2M371.5 287.3h1.2m-.6 0v2.6m-.6 0h1.2M373.8 286.8h1.2m-.6 0v2.5m-.6 0h1.2M376.1 285.4h1.2m-.6 0v2.0m-.6 0h1.2M378.4 285.1h1.2m-.6 0v1.8m-.6 0h1.2M380.7 284.3h1.2m-.6 0v2.5m-.6 0h1.2M383.0 284.4h1.2m-.6 0v2.1m-.6 0h1.2M385.3 284.1h1.2m-.6 0v2.0m-.6 0h1.2M387.6 283.9h1.2m-.6 0v2.1m-.6 0h1.2M390.0 283.4h1.2m-.6 0v2.4m-.6 0h1.2M392.3 283.3h1.2m-.6 0v2.6m-.6 0h1.2M394.6 282.9h1.2m-.6 0v2.6m-.6 0h1.2M396.9 283.3h1.2m-.6 0v2.5m-.6 0h1.2M399.2 283.5h1.2m-.6 0v1.8m-.6 0h1.2M401.5 283.7h1.2m-.6 0v2.0m-.6 0h1.2M403.8 283.7h1.2m-.6 0v1.6m-.6 0h1.2M406.1 283.0h1.2m-.6 0v1.8m-.6 0h1.2M408.4 283.6h1.2m-.6 0v2.0m-.6 0h1.2M410.7 283.8h1.2m-.6 0v1.8m-.6 0h1.2M413.0 283.4h1.2m-.6 0v2.1m-.6 0h1.2M415.3 283.7h1.2m-.6 0v1.8m-.6 0h1.2M417.7 283.8h1.2m-.6 0v2.3m-.6 0h1.2M420.0 284.1h1.2m-.6 0v2.1m-.6 0h1.2M422.3 283.8h1.2m-.6 0v1.9m-.6 0h1.2M424.6 284.1h1.2m-.6 0v2.4m-.6 0h1.2M426.9 283.7h1.2m-.6 0v2.0m-.6 0h1.2M429.2 284.4h1.2m-.6 0v1.7m-.6 0h1.2M431.5 284.3h1.2m-.6 0v2.5m-.6 0h1.2M433.8 284.2h1.2m-.6 0v2.4m-.6 0h1.2M436.1 284.3h1.2m-.6 0v2.6m-.6 0h1.2M438.4 284.6h1.2m-.6 0v1.9m-.6 0h1.2M440.7 285.2h1.2m-.6 0v1.9m-.6 0h1.2M443.0 284.6h1.2m-.6 0v2.4m-.6 0h1.2M445.3 285.3h1.2m-.6 0v1.8m-.6 0h1.2M447.7 284.8h1.2m-.6 0v2.7m-.6 0h1.2M450.0 285.2h1.2m-.6 0v2.3m-.6 0h1.2M452.3 284.7h1.2m-.6 0v2.2m-.6 0h1.2M454.6 285.2h1.2m-.6 0v1.7m-.6 0h1.2M456.9 285.1h1.2m-.6 0v1.9m-.6 0h1.2M459.2 285.3h1.2m-.6 0v2.1m-.6 0h1.2" stroke="#c4c4c4" stroke-width="0.4" fill="none"/>
<defs><path id="c56" d="M345.6 318.5l1.1 .1 1.2 .4 1.1-.2 1.2 .4 1.1 .5 1.2 0 1.1-4.2 1.2-3 1.1-3.8 1.2-2.6 1.1-2.3 1.2-2.6 1.2-1.3 1.1-2.2 1.2-1 1.1-1.7 1.2-1.5 1.1-.7 1.2-1.1 1.1-1.1 1.2-1 1.1-.6 1.2-.4 1.1-.4 1.2-.1 1.2-1.3 1.1-.4 1.2 .7 1.1-1.1 1.2 0 1.1-.4 1.2-.1 1.1 0 1.2-.2 1.1-.2 1.2-.4 1.1 .3 1.2 0 1.2-.4 1.1-.1 1.2 .1 1.1 0 1.2-.4 1.1 .1 1.2 .2 1.1 .1 1.2-.2 1.1 .7 1.2-.4 1.1 .1 1.2-.3 1.2 .2 1.1-.7 1.2 .4 1.1 .2 1.2-.5 1.1 .6 1.2 .1 1.1-.4 1.2 .2 1.1 0 1.2-.1 1.2 .5 1.1 .1 1.2 0 1.1-.1 1.2-.2 1.1 .5 1.2-.1 1.1 .3 1.2-.8 1.1 .3 1.2 .2 1.1 .4 1.2 0 1.2-.1 1.1-.1 1.2 .4 1.1-.3 1.2-.3 1.1 .4 1.2 0 1.1 .6 1.2-.4 1.1 0 1.2 .2 1.1 .2 1.2-.3 1.2 .3 1.1-.1 1.2 .3 1.1-.4 1.2-.2 1.1 .5 1.2-.3 1.1 .6 1.2-.5 1.1 0 1.2 .3 1.2-.3"/></defs>
<use href="#c49" stroke="#2b8cf0" stroke-width="1.4" fill="none" stroke-linejoin="round"/>
<use href="#c50" stroke="#d62020" stroke-width="1.4" fill="none" stroke-linejoin="round"/>
<use href="#c51" stroke="#2aa84a" stroke-width="1.4" fill="none" stroke-linejoin="round"/>
<use href="#c52" stroke="#8a2be8" stroke-width="1.4" fill="none" stroke-linejoin="round"/>
<use href="#c53" stroke="#18a4c4" stroke-width="1.4" fill="none" stroke-linejoin="round"/>
<use href="#c54" stroke="#f5881f" stroke-width="1.4" fill="none" stroke-linejoin="round"/>
<use href="#c55" stroke="#8fe0a8" stroke-width="1.4" fill="none" stroke-linejoin="round"/>
<use href="#c56" stroke="#eea0b8" stroke-width="1.4" fill="none" stroke-linejoin="round"/>
<line x1="345.55" y1="226.60" x2="345.55" y2="335.55" stroke="#444" stroke-width="0.7"/>
<line x1="345.20" y1="335.20" x2="461.30" y2="335.20" stroke="#444" stroke-width="0.7"/>
<line x1="342.15" y1="335.20" x2="345.55" y2="335.20" stroke="#444" stroke-width="0.6"/>
<line x1="342.95" y1="324.34" x2="345.55" y2="324.34" stroke="#444" stroke-width="0.6"/>
<line x1="342.15" y1="313.48" x2="345.55" y2="313.48" stroke="#444" stroke-width="0.6"/>
<line x1="342.95" y1="302.62" x2="345.55" y2="302.62" stroke="#444" stroke-width="0.6"/>
<line x1="342.15" y1="291.76" x2="345.55" y2="291.76" stroke="#444" stroke-width="0.6"/>
<line x1="342.95" y1="280.90" x2="345.55" y2="280.90" stroke="#444" stroke-width="0.6"/>
<line x1="342.15" y1="270.04" x2="345.55" y2="270.04" stroke="#444" stroke-width="0.6"/>
<line x1="342.95" y1="259.18" x2="345.55" y2="259.18" stroke="#444" stroke-width="0.6"/>
<line x1="342.15" y1="248.32" x2="345.55" y2="248.32" stroke="#444" stroke-width="0.6"/>
<line x1="342.95" y1="237.46" x2="345.55" y2="237.46" stroke="#444" stroke-width="0.6"/>
<line x1="342.15" y1="226.60" x2="345.55" y2="226.60" stroke="#444" stroke-width="0.6"/>
<line x1="345.55" y1="335.20" x2="345.55" y2="338.60" stroke="#444" stroke-width="0.6"/>
<line x1="351.32" y1="335.20" x2="351.32" y2="337.80" stroke="#444" stroke-width="0.6"/>
<line x1="357.09" y1="335.20" x2="357.09" y2="337.80" stroke="#444" stroke-width="0.6"/>
<line x1="362.86" y1="335.20" x2="362.86" y2="337.80" stroke="#444" stroke-width="0.6"/>
<line x1="368.63" y1="335.20" x2="368.63" y2="337.80" stroke="#444" stroke-width="0.6"/>
<line x1="374.40" y1="335.20" x2="374.40" y2="338.60" stroke="#444" stroke-width="0.6"/>
<line x1="380.17" y1="335.20" x2="380.17" y2="337.80" stroke="#444" stroke-width="0.6"/>
<line x1="385.94" y1="335.20" x2="385.94" y2="337.80" stroke="#444" stroke-width="0.6"/>
<line x1="391.71" y1="335.20" x2="391.71" y2="337.80" stroke="#444" stroke-width="0.6"/>
<line x1="397.48" y1="335.20" x2="397.48" y2="337.80" stroke="#444" stroke-width="0.6"/>
<line x1="403.25" y1="335.20" x2="403.25" y2="338.60" stroke="#444" stroke-width="0.6"/>
<line x1="409.02" y1="335.20" x2="409.02" y2="337.80" stroke="#444" stroke-width="0.6"/>
<line x1="414.79" y1="335.20" x2="414.79" y2="337.80" stroke="#444" stroke-width="0.6"/>
<line x1="420.56" y1="335.20" x2="420.56" y2="337.80" stroke="#444" stroke-width="0.6"/>
<line x1="426.33" y1="335.20" x2="426.33" y2="337.80" stroke="#444" stroke-width="0.6"/>
<line x1="432.10" y1="335.20" x2="432.10" y2="338.60" stroke="#444" stroke-width="0.6"/>
<line x1="437.87" y1="335.20" x2="437.87" y2="337.80" stroke="#444" stroke-width="0.6"/>
<line x1="443.64" y1="335.20" x2="443.64" y2="337.80" stroke="#444" stroke-width="0.6"/>
<line x1="449.41" y1="335.20" x2="449.41" y2="337.80" stroke="#444" stroke-width="0.6"/>
<line x1="455.18" y1="335.20" x2="455.18" y2="337.80" stroke="#444" stroke-width="0.6"/>
<line x1="460.95" y1="335.20" x2="460.95" y2="338.60" stroke="#444" stroke-width="0.6"/>
<text transform="translate(337.05 338.10) scale(0.9 1)" font-size="8.4" text-anchor="end" fill="#222">0</text>
<text transform="translate(337.05 316.38) scale(0.9 1)" font-size="8.4" text-anchor="end" fill="#222">0.2</text>
<text transform="translate(337.05 294.66) scale(0.9 1)" font-size="8.4" text-anchor="end" fill="#222">0.4</text>
<text transform="translate(337.05 272.94) scale(0.9 1)" font-size="8.4" text-anchor="end" fill="#222">0.6</text>
<text transform="translate(337.05 251.22) scale(0.9 1)" font-size="8.4" text-anchor="end" fill="#222">0.8</text>
<text transform="translate(337.05 229.50) scale(0.9 1)" font-size="8.4" text-anchor="end" fill="#222">1.0</text>
<text transform="translate(345.55 349.10) scale(0.93 1)" font-size="8.4" text-anchor="middle" fill="#222">0</text>
<text transform="translate(374.40 349.10) scale(0.93 1)" font-size="8.4" text-anchor="middle" fill="#222">500</text>
<text transform="translate(403.25 349.10) scale(0.93 1)" font-size="8.4" text-anchor="middle" fill="#222">1,000</text>
<text transform="translate(432.10 349.10) scale(0.93 1)" font-size="8.4" text-anchor="middle" fill="#222">1,500</text>
<text transform="translate(460.95 349.10) scale(0.93 1)" font-size="8.4" text-anchor="middle" fill="#222">2,000</text>
<text transform="translate(403.25 362.10) scale(0.975 1)" font-size="9.2" text-anchor="middle" fill="#222">Time (s)</text>
<text transform="translate(318.95 280.90) rotate(-90)" font-size="9.2" text-anchor="middle" fill="#222">OxD</text>
<text transform="translate(387.00 242.40) scale(0.93 1)" font-size="9.2" text-anchor="start" fill="#222">+ <tspan font-style="italic">Li</tspan>Prx1</text>
<path d="M488.3 330.5h1.2m-.6 0v1.9m-.6 0h1.2M490.6 330.4h1.2m-.6 0v2.1m-.6 0h1.2M492.9 330.8h1.2m-.6 0v1.4m-.6 0h1.2M495.2 330.8h1.2m-.6 0v2.0m-.6 0h1.2M497.5 330.6h1.2m-.6 0v1.3m-.6 0h1.2M499.8 330.6h1.2m-.6 0v1.8m-.6 0h1.2M502.1 330.7h1.2m-.6 0v1.8m-.6 0h1.2M504.4 330.5h1.2m-.6 0v1.4m-.6 0h1.2M506.7 331.1h1.2m-.6 0v1.7m-.6 0h1.2M509.0 330.9h1.2m-.6 0v1.9m-.6 0h1.2M511.3 330.6h1.2m-.6 0v2.1m-.6 0h1.2M513.6 331.3h1.2m-.6 0v1.4m-.6 0h1.2M515.9 331.4h1.2m-.6 0v1.7m-.6 0h1.2M518.3 331.2h1.2m-.6 0v2.0m-.6 0h1.2M520.6 331.3h1.2m-.6 0v1.4m-.6 0h1.2M522.9 331.3h1.2m-.6 0v2.1m-.6 0h1.2M525.2 331.2h1.2m-.6 0v2.1m-.6 0h1.2M527.5 331.1h1.2m-.6 0v1.6m-.6 0h1.2M529.8 331.7h1.2m-.6 0v1.5m-.6 0h1.2M532.1 331.0h1.2m-.6 0v1.4m-.6 0h1.2M534.4 331.3h1.2m-.6 0v1.5m-.6 0h1.2M536.7 330.8h1.2m-.6 0v1.7m-.6 0h1.2M539.0 331.6h1.2m-.6 0v1.9m-.6 0h1.2M541.3 331.0h1.2m-.6 0v2.1m-.6 0h1.2M543.6 331.6h1.2m-.6 0v1.8m-.6 0h1.2M546.0 331.1h1.2m-.6 0v2.1m-.6 0h1.2M548.3 331.5h1.2m-.6 0v1.7m-.6 0h1.2M550.6 331.3h1.2m-.6 0v1.9m-.6 0h1.2M552.9 331.8h1.2m-.6 0v1.3m-.6 0h1.2M555.2 331.5h1.2m-.6 0v1.7m-.6 0h1.2M557.5 331.6h1.2m-.6 0v1.3m-.6 0h1.2M559.8 331.6h1.2m-.6 0v1.4m-.6 0h1.2M562.1 331.0h1.2m-.6 0v2.0m-.6 0h1.2M564.4 331.4h1.2m-.6 0v1.4m-.6 0h1.2M566.7 332.1h1.2m-.6 0v1.6m-.6 0h1.2M569.0 331.3h1.2m-.6 0v1.8m-.6 0h1.2M571.3 331.2h1.2m-.6 0v1.8m-.6 0h1.2M573.6 332.1h1.2m-.6 0v1.3m-.6 0h1.2M576.0 331.5h1.2m-.6 0v1.4m-.6 0h1.2M578.3 331.5h1.2m-.6 0v1.9m-.6 0h1.2M580.6 331.8h1.2m-.6 0v1.7m-.6 0h1.2M582.9 331.5h1.2m-.6 0v1.4m-.6 0h1.2M585.2 331.2h1.2m-.6 0v1.7m-.6 0h1.2M587.5 332.0h1.2m-.6 0v1.6m-.6 0h1.2M589.8 331.5h1.2m-.6 0v2.2m-.6 0h1.2M592.1 331.1h1.2m-.6 0v1.3m-.6 0h1.2M594.4 331.9h1.2m-.6 0v1.5m-.6 0h1.2M596.7 331.7h1.2m-.6 0v1.4m-.6 0h1.2M599.0 332.0h1.2m-.6 0v1.8m-.6 0h1.2M601.3 331.6h1.2m-.6 0v2.1m-.6 0h1.2" stroke="#c4c4c4" stroke-width="0.4" fill="none"/>
<defs><path id="c57" d="M487.7 331.2l1.2 .2 1.1 .1 1.2 0 1.1-.5 1.2 .5 1.1-.3 1.2 .6 1.1-.5 1.2 0 1.1-.1 1.2 .3 1.1 0 1.2 .1 1.2-.2 1.1-.2 1.2 .5 1.1 .3 1.2-.4 1.1 .2 1.2-.1 1.1 0 1.2 .1 1.1 .2 1.2-.2 1.1 .5 1.2-.4 1.2 .3 1.1-.3 1.2 .1 1.1 .1 1.2 .2 1.1-.3 1.2 .2 1.1-.1 1.2-.2 1.1-.1 1.2 .6 1.2-.6 1.1-.1 1.2 .1 1.1 .2 1.2 .1 1.1-.4 1.2 .5 1.1 .3 1.2-.4 1.1 0 1.2 .3 1.1 .1 1.2-.8 1.2 .5 1.1-.2 1.2 .4 1.1 .2 1.2-.3 1.1-.4 1.2 .5 1.1 .3 1.2-.4 1.1 0 1.2-.1 1.1 .3 1.2-.2 1.2 .1 1.1-.4 1.2 .2 1.1-.1 1.2 .2 1.1 .6 1.2-.1 1.1-.6 1.2-.1 1.1 0 1.2 .2 1.1 .5 1.2-.3 1.2-.3 1.1-.2 1.2 .5 1.1 0 1.2 .1 1.1-.5 1.2 .1 1.1 .7 1.2-.8 1.1 .5 1.2 .2 1.2 0 1.1-.2 1.2-.8 1.1 0 1.2 1 1.1-.2 1.2-.2 1.1-.1 1.2 .3 1.1 .3 1.2-.3 1.1 .1 1.2 .2"/></defs>
<path d="M488.3 330.7h1.2m-.6 0v1.4m-.6 0h1.2M490.6 330.8h1.2m-.6 0v1.7m-.6 0h1.2M492.9 330.3h1.2m-.6 0v1.4m-.6 0h1.2M495.2 330.6h1.2m-.6 0v1.8m-.6 0h1.2M497.5 331.0h1.2m-.6 0v1.5m-.6 0h1.2M499.8 331.0h1.2m-.6 0v1.5m-.6 0h1.2M502.1 330.3h1.2m-.6 0v1.9m-.6 0h1.2M504.4 330.2h1.2m-.6 0v2.1m-.6 0h1.2M506.7 331.4h1.2m-.6 0v1.3m-.6 0h1.2M509.0 330.5h1.2m-.6 0v1.9m-.6 0h1.2M511.3 331.0h1.2m-.6 0v1.8m-.6 0h1.2M513.6 330.7h1.2m-.6 0v1.7m-.6 0h1.2M515.9 330.7h1.2m-.6 0v1.7m-.6 0h1.2M518.3 330.9h1.2m-.6 0v1.3m-.6 0h1.2M520.6 330.9h1.2m-.6 0v1.6m-.6 0h1.2M522.9 330.8h1.2m-.6 0v1.8m-.6 0h1.2M525.2 330.3h1.2m-.6 0v1.6m-.6 0h1.2M527.5 331.1h1.2m-.6 0v2.2m-.6 0h1.2M529.8 330.7h1.2m-.6 0v1.6m-.6 0h1.2M532.1 330.7h1.2m-.6 0v2.0m-.6 0h1.2M534.4 330.7h1.2m-.6 0v2.0m-.6 0h1.2M536.7 330.8h1.2m-.6 0v2.0m-.6 0h1.2M539.0 330.7h1.2m-.6 0v1.7m-.6 0h1.2M541.3 331.3h1.2m-.6 0v1.7m-.6 0h1.2M543.6 330.7h1.2m-.6 0v2.0m-.6 0h1.2M546.0 331.0h1.2m-.6 0v1.4m-.6 0h1.2M548.3 330.8h1.2m-.6 0v1.5m-.6 0h1.2M550.6 331.4h1.2m-.6 0v1.3m-.6 0h1.2M552.9 331.3h1.2m-.6 0v1.7m-.6 0h1.2M555.2 331.0h1.2m-.6 0v1.7m-.6 0h1.2M557.5 330.9h1.2m-.6 0v2.1m-.6 0h1.2M559.8 330.7h1.2m-.6 0v2.1m-.6 0h1.2M562.1 330.9h1.2m-.6 0v1.7m-.6 0h1.2M564.4 330.6h1.2m-.6 0v1.7m-.6 0h1.2M566.7 331.4h1.2m-.6 0v1.4m-.6 0h1.2M569.0 331.0h1.2m-.6 0v2.0m-.6 0h1.2M571.3 331.3h1.2m-.6 0v1.8m-.6 0h1.2M573.6 330.9h1.2m-.6 0v1.4m-.6 0h1.2M576.0 331.1h1.2m-.6 0v2.1m-.6 0h1.2M578.3 332.1h1.2m-.6 0v1.3m-.6 0h1.2M580.6 331.1h1.2m-.6 0v1.5m-.6 0h1.2M582.9 330.5h1.2m-.6 0v1.7m-.6 0h1.2M585.2 331.3h1.2m-.6 0v2.2m-.6 0h1.2M587.5 331.2h1.2m-.6 0v1.4m-.6 0h1.2M589.8 331.8h1.2m-.6 0v1.5m-.6 0h1.2M592.1 330.8h1.2m-.6 0v2.0m-.6 0h1.2M594.4 331.4h1.2m-.6 0v1.6m-.6 0h1.2M596.7 330.9h1.2m-.6 0v2.1m-.6 0h1.2M599.0 331.3h1.2m-.6 0v1.3m-.6 0h1.2M601.3 331.1h1.2m-.6 0v1.5m-.6 0h1.2" stroke="#c4c4c4" stroke-width="0.4" fill="none"/>
<defs><path id="c58" d="M487.7 331.4l1.2 0 1.1 .1 1.2 .1 1.1-.1 1.2-.5 1.1 .5 1.2 .1 1.1-.1 1.2 .2 1.1-.4 1.2 .4 1.1-.5 1.2 .1 1.2 .1 1.1-.1 1.2 .3 1.1 .4 1.2-.4 1.1-.2 1.2 .6 1.1-.1 1.2-.6 1.1 .2 1.2-.2 1.1 .2 1.2 .2 1.2-.1 1.1-.1 1.2 .2 1.1 .1 1.2-.2 1.1 .2 1.2-.7 1.1 .8 1.2 .2 1.1 0 1.2-.6 1.2 .4 1.1-.2 1.2 .1 1.1-.1 1.2 .5 1.1-.4 1.2 .2 1.1-.5 1.2 .2 1.1 .5 1.2-.1 1.1-.4 1.2-.2 1.2 .2 1.1 .2 1.2-.3 1.1 .9 1.2-.5 1.1 .2 1.2 0 1.1-.4 1.2 0 1.1 0 1.2 .2 1.1-.2 1.2-.1 1.2 .4 1.1-.4 1.2 .5 1.1-.7 1.2 .8 1.1-.3 1.2 .3 1.1-.3 1.2-.4 1.1 .6 1.2-.7 1.1 .1 1.2 .3 1.2 .3 1.1-.4 1.2 1 1.1-.6 1.2-.4 1.1 .3 1.2-.7 1.1 .8 1.2 .2 1.1-.3 1.2-.2 1.2-.3 1.1 1 1.2-.5 1.1-.3 1.2 .5 1.1-.1 1.2 .2 1.1-.5 1.2 0 1.1 .1 1.2 .1 1.1-.2 1.2 .3"/></defs>
<path d="M488.3 330.2h1.2m-.6 0v1.3m-.6 0h1.2M490.6 330.3h1.2m-.6 0v1.8m-.6 0h1.2M492.9 331.0h1.2m-.6 0v1.8m-.6 0h1.2M495.2 330.7h1.2m-.6 0v1.5m-.6 0h1.2M497.5 330.5h1.2m-.6 0v1.8m-.6 0h1.2M499.8 330.6h1.2m-.6 0v1.3m-.6 0h1.2M502.1 331.1h1.2m-.6 0v1.3m-.6 0h1.2M504.4 330.2h1.2m-.6 0v2.1m-.6 0h1.2M506.7 330.1h1.2m-.6 0v2.1m-.6 0h1.2M509.0 331.1h1.2m-.6 0v1.4m-.6 0h1.2M511.3 330.7h1.2m-.6 0v1.9m-.6 0h1.2M513.6 330.4h1.2m-.6 0v1.7m-.6 0h1.2M515.9 330.2h1.2m-.6 0v1.8m-.6 0h1.2M518.3 330.7h1.2m-.6 0v2.0m-.6 0h1.2M520.6 330.9h1.2m-.6 0v1.9m-.6 0h1.2M522.9 330.1h1.2m-.6 0v2.1m-.6 0h1.2M525.2 330.6h1.2m-.6 0v1.9m-.6 0h1.2M527.5 330.5h1.2m-.6 0v2.1m-.6 0h1.2M529.8 331.1h1.2m-.6 0v1.4m-.6 0h1.2M532.1 330.9h1.2m-.6 0v2.0m-.6 0h1.2M534.4 330.9h1.2m-.6 0v1.6m-.6 0h1.2M536.7 331.0h1.2m-.6 0v2.1m-.6 0h1.2M539.0 330.9h1.2m-.6 0v2.0m-.6 0h1.2M541.3 330.2h1.2m-.6 0v2.1m-.6 0h1.2M543.6 330.4h1.2m-.6 0v2.0m-.6 0h1.2M546.0 331.0h1.2m-.6 0v1.6m-.6 0h1.2M548.3 330.9h1.2m-.6 0v1.8m-.6 0h1.2M550.6 331.0h1.2m-.6 0v2.0m-.6 0h1.2M552.9 330.9h1.2m-.6 0v1.4m-.6 0h1.2M555.2 331.1h1.2m-.6 0v1.8m-.6 0h1.2M557.5 330.6h1.2m-.6 0v1.8m-.6 0h1.2M559.8 330.5h1.2m-.6 0v1.9m-.6 0h1.2M562.1 331.2h1.2m-.6 0v1.6m-.6 0h1.2M564.4 331.3h1.2m-.6 0v1.8m-.6 0h1.2M566.7 330.7h1.2m-.6 0v1.9m-.6 0h1.2M569.0 330.8h1.2m-.6 0v1.6m-.6 0h1.2M571.3 331.4h1.2m-.6 0v1.9m-.6 0h1.2M573.6 330.3h1.2m-.6 0v2.1m-.6 0h1.2M576.0 331.0h1.2m-.6 0v1.6m-.6 0h1.2M578.3 331.4h1.2m-.6 0v1.8m-.6 0h1.2M580.6 330.2h1.2m-.6 0v1.7m-.6 0h1.2M582.9 331.1h1.2m-.6 0v2.0m-.6 0h1.2M585.2 331.6h1.2m-.6 0v1.5m-.6 0h1.2M587.5 330.6h1.2m-.6 0v1.6m-.6 0h1.2M589.8 331.0h1.2m-.6 0v1.6m-.6 0h1.2M592.1 330.7h1.2m-.6 0v1.9m-.6 0h1.2M594.4 331.2h1.2m-.6 0v1.4m-.6 0h1.2M596.7 330.7h1.2m-.6 0v2.2m-.6 0h1.2M599.0 331.5h1.2m-.6 0v1.7m-.6 0h1.2M601.3 330.6h1.2m-.6 0v1.9m-.6 0h1.2" stroke="#c4c4c4" stroke-width="0.4" fill="none"/>
<defs><path id="c59" d="M487.7 331.6l1.2-.7 1.1 .2 1.2 .1 1.1-.4 1.2 1.1 1.1-.5 1.2 .1 1.1 .1 1.2-.2 1.1-.1 1.2 0 1.1 .1 1.2 .4 1.2-.5 1.1 0 1.2-.4 1.1 .3 1.2 .2 1.1 .4 1.2-1.1 1.1 .9 1.2-.2 1.1-.1 1.2 0 1.1-.2 1.2 .7 1.2-.1 1.1-.2 1.2 .3 1.1-.1 1.2-.5 1.1 .2 1.2 .2 1.1 .1 1.2-.2 1.1 .1 1.2 .3 1.2-.5 1.1 .5 1.2-.7 1.1 .5 1.2 .5 1.1-.2 1.2-.5 1.1 .3 1.2-.7 1.1 .2 1.2-.2 1.1 .3 1.2-.1 1.2 .5 1.1-.5 1.2 .5 1.1-.1 1.2 .3 1.1-.3 1.2-.1 1.1 .1 1.2 .3 1.1-.5 1.2 0 1.1 .2 1.2-.2 1.2 0 1.1 .5 1.2-.3 1.1 .5 1.2-.2 1.1-.4 1.2 .4 1.1-.3 1.2 0 1.1 .6 1.2-.4 1.1-.5 1.2 .4 1.2 0 1.1 .2 1.2 .2 1.1 0 1.2-1.1 1.1 .8 1.2 .2 1.1-.3 1.2 .6 1.1-.9 1.2-.1 1.2 .7 1.1-.3 1.2 .3 1.1-.4 1.2 .4 1.1-.2 1.2-.3 1.1 .2 1.2 .2 1.1 .3 1.2 .1 1.1-.8 1.2 .2"/></defs>
<path d="M488.3 330.6h1.2m-.6 0v1.7m-.6 0h1.2M490.6 330.7h1.2m-.6 0v2.0m-.6 0h1.2M492.9 329.7h1.2m-.6 0v2.1m-.6 0h1.2M495.2 330.7h1.2m-.6 0v2.0m-.6 0h1.2M497.5 330.2h1.2m-.6 0v1.9m-.6 0h1.2M499.8 330.6h1.2m-.6 0v2.0m-.6 0h1.2M502.1 330.2h1.2m-.6 0v2.1m-.6 0h1.2M504.4 330.3h1.2m-.6 0v2.1m-.6 0h1.2M506.7 330.6h1.2m-.6 0v1.8m-.6 0h1.2M509.0 330.6h1.2m-.6 0v1.6m-.6 0h1.2M511.3 330.4h1.2m-.6 0v1.3m-.6 0h1.2M513.6 331.0h1.2m-.6 0v1.8m-.6 0h1.2M515.9 330.4h1.2m-.6 0v1.6m-.6 0h1.2M518.3 330.7h1.2m-.6 0v1.3m-.6 0h1.2M520.6 330.4h1.2m-.6 0v2.2m-.6 0h1.2M522.9 330.5h1.2m-.6 0v1.6m-.6 0h1.2M525.2 330.7h1.2m-.6 0v2.1m-.6 0h1.2M527.5 331.0h1.2m-.6 0v1.3m-.6 0h1.2M529.8 330.8h1.2m-.6 0v1.6m-.6 0h1.2M532.1 330.3h1.2m-.6 0v2.0m-.6 0h1.2M534.4 330.4h1.2m-.6 0v1.9m-.6 0h1.2M536.7 330.7h1.2m-.6 0v1.9m-.6 0h1.2M539.0 331.1h1.2m-.6 0v1.7m-.6 0h1.2M541.3 330.7h1.2m-.6 0v1.4m-.6 0h1.2M543.6 330.5h1.2m-.6 0v2.0m-.6 0h1.2M546.0 330.8h1.2m-.6 0v2.0m-.6 0h1.2M548.3 331.0h1.2m-.6 0v1.7m-.6 0h1.2M550.6 330.7h1.2m-.6 0v1.8m-.6 0h1.2M552.9 330.5h1.2m-.6 0v2.0m-.6 0h1.2M555.2 330.6h1.2m-.6 0v1.7m-.6 0h1.2M557.5 331.1h1.2m-.6 0v1.7m-.6 0h1.2M559.8 330.1h1.2m-.6 0v1.7m-.6 0h1.2M562.1 331.1h1.2m-.6 0v1.9m-.6 0h1.2M564.4 330.5h1.2m-.6 0v1.9m-.6 0h1.2M566.7 330.5h1.2m-.6 0v1.6m-.6 0h1.2M569.0 330.6h1.2m-.6 0v2.0m-.6 0h1.2M571.3 330.6h1.2m-.6 0v1.6m-.6 0h1.2M573.6 330.8h1.2m-.6 0v1.9m-.6 0h1.2M576.0 331.0h1.2m-.6 0v1.6m-.6 0h1.2M578.3 330.8h1.2m-.6 0v2.1m-.6 0h1.2M580.6 330.8h1.2m-.6 0v2.1m-.6 0h1.2M582.9 330.9h1.2m-.6 0v2.0m-.6 0h1.2M585.2 331.2h1.2m-.6 0v1.6m-.6 0h1.2M587.5 331.3h1.2m-.6 0v1.6m-.6 0h1.2M589.8 330.8h1.2m-.6 0v1.7m-.6 0h1.2M592.1 330.8h1.2m-.6 0v1.8m-.6 0h1.2M594.4 331.5h1.2m-.6 0v1.3m-.6 0h1.2M596.7 331.2h1.2m-.6 0v1.8m-.6 0h1.2M599.0 330.6h1.2m-.6 0v2.1m-.6 0h1.2M601.3 331.1h1.2m-.6 0v1.4m-.6 0h1.2" stroke="#c4c4c4" stroke-width="0.4" fill="none"/>
<defs><path id="c60" d="M487.7 331.4l1.2 .1 1.1-.1 1.2 .3 1.1-.5 1.2-.4 1.1 .2 1.2 .7 1.1-.1 1.2-.4 1.1 .1 1.2 .3 1.1-.6 1.2 .2 1.2-.1 1.1 .3 1.2-.4 1.1 .5 1.2 .2 1.1-.3 1.2 .4 1.1-.8 1.2 .2 1.1 .7 1.2-.5 1.1-.2 1.2 .3 1.2-.2 1.1 .3 1.2-.1 1.1 0 1.2-.2 1.1 .4 1.2 .1 1.1-.4 1.2 .2 1.1-.3 1.2 .3 1.2 .3 1.1-.6 1.2 .1 1.1-.1 1.2 .3 1.1 0 1.2-.4 1.1 .8 1.2-.9 1.1 .3 1.2 .2 1.1 0 1.2-.2 1.2 .4 1.1-.3 1.2 .4 1.1 .2 1.2-.5 1.1 0 1.2-.1 1.1 0 1.2 0 1.1-.1 1.2 .6 1.1-.7 1.2-.4 1.2 .9 1.1 .2 1.2-.5 1.1 0 1.2-.1 1.1-.1 1.2 .8 1.1-.5 1.2 0 1.1-.2 1.2 .6 1.1-.2 1.2 .1 1.2-.1 1.1 0 1.2 0 1.1 .5 1.2-.5 1.1 0 1.2 .1 1.1 .9 1.2-.8 1.1 0 1.2 .1 1.2-.7 1.1 .2 1.2 .3 1.1-.2 1.2-.7 1.1 1.2 1.2-.4 1.1 .3 1.2-.6 1.1 .1 1.2 .4 1.1-.2 1.2 .4"/></defs>
<path d="M488.3 330.8h1.2m-.6 0v1.6m-.6 0h1.2M490.6 330.6h1.2m-.6 0v1.5m-.6 0h1.2M492.9 331.2h1.2m-.6 0v1.3m-.6 0h1.2M495.2 330.6h1.2m-.6 0v1.4m-.6 0h1.2M497.5 331.0h1.2m-.6 0v1.5m-.6 0h1.2M499.8 330.6h1.2m-.6 0v1.8m-.6 0h1.2M502.1 330.1h1.2m-.6 0v2.1m-.6 0h1.2M504.4 330.2h1.2m-.6 0v1.5m-.6 0h1.2M506.7 330.1h1.2m-.6 0v1.6m-.6 0h1.2M509.0 330.8h1.2m-.6 0v1.6m-.6 0h1.2M511.3 330.2h1.2m-.6 0v1.9m-.6 0h1.2M513.6 330.5h1.2m-.6 0v1.6m-.6 0h1.2M515.9 330.3h1.2m-.6 0v1.9m-.6 0h1.2M518.3 330.5h1.2m-.6 0v1.4m-.6 0h1.2M520.6 330.6h1.2m-.6 0v1.3m-.6 0h1.2M522.9 330.4h1.2m-.6 0v1.8m-.6 0h1.2M525.2 330.8h1.2m-.6 0v1.9m-.6 0h1.2M527.5 330.3h1.2m-.6 0v1.4m-.6 0h1.2M529.8 330.6h1.2m-.6 0v1.3m-.6 0h1.2M532.1 330.5h1.2m-.6 0v1.9m-.6 0h1.2M534.4 330.6h1.2m-.6 0v1.4m-.6 0h1.2M536.7 330.0h1.2m-.6 0v2.1m-.6 0h1.2M539.0 330.6h1.2m-.6 0v1.9m-.6 0h1.2M541.3 330.2h1.2m-.6 0v1.4m-.6 0h1.2M543.6 330.1h1.2m-.6 0v1.7m-.6 0h1.2M546.0 330.2h1.2m-.6 0v1.4m-.6 0h1.2M548.3 330.1h1.2m-.6 0v1.4m-.6 0h1.2M550.6 330.7h1.2m-.6 0v1.6m-.6 0h1.2M552.9 330.3h1.2m-.6 0v2.1m-.6 0h1.2M555.2 330.7h1.2m-.6 0v2.1m-.6 0h1.2M557.5 330.0h1.2m-.6 0v2.0m-.6 0h1.2M559.8 330.1h1.2m-.6 0v1.9m-.6 0h1.2M562.1 330.6h1.2m-.6 0v1.8m-.6 0h1.2M564.4 330.2h1.2m-.6 0v1.7m-.6 0h1.2M566.7 330.3h1.2m-.6 0v1.9m-.6 0h1.2M569.0 330.1h1.2m-.6 0v1.7m-.6 0h1.2M571.3 330.1h1.2m-.6 0v1.6m-.6 0h1.2M573.6 330.0h1.2m-.6 0v2.0m-.6 0h1.2M576.0 330.7h1.2m-.6 0v1.6m-.6 0h1.2M578.3 330.9h1.2m-.6 0v1.7m-.6 0h1.2M580.6 330.3h1.2m-.6 0v1.9m-.6 0h1.2M582.9 330.5h1.2m-.6 0v2.1m-.6 0h1.2M585.2 330.7h1.2m-.6 0v1.6m-.6 0h1.2M587.5 330.7h1.2m-.6 0v1.7m-.6 0h1.2M589.8 330.5h1.2m-.6 0v1.7m-.6 0h1.2M592.1 330.8h1.2m-.6 0v1.5m-.6 0h1.2M594.4 330.9h1.2m-.6 0v1.6m-.6 0h1.2M596.7 330.4h1.2m-.6 0v2.0m-.6 0h1.2M599.0 330.8h1.2m-.6 0v1.5m-.6 0h1.2M601.3 330.8h1.2m-.6 0v1.7m-.6 0h1.2" stroke="#c4c4c4" stroke-width="0.4" fill="none"/>
<defs><path id="c61" d="M487.7 331.1l1.2 .5 1.1-.6 1.2 .4 1.1 .1 1.2 .3 1.1-.3 1.2-.2 1.1-.3 1.2 .8 1.1-.5 1.2 .1 1.1 .1 1.2-.3 1.2 .2 1.1-.5 1.2 1 1.1-1 1.2 .7 1.1 0 1.2-.7 1.1 .2 1.2-.1 1.1 .3 1.2 0 1.1-.1 1.2-.2 1.2 .3 1.1-.2 1.2 .2 1.1-.3 1.2 .3 1.1 .3 1.2 .2 1.1-.8 1.2 0 1.1-.2 1.2 .5 1.2 .1 1.1 .1 1.2-.6 1.1 .3 1.2-.4 1.1 .3 1.2 .1 1.1 .4 1.2-.3 1.1-.4 1.2 .4 1.1-.4 1.2 .7 1.2-.8 1.1-.4 1.2 .4 1.1 .2 1.2 .5 1.1-.2 1.2 0 1.1-.2 1.2 .6 1.1-.3 1.2-.4 1.1 .1 1.2-.1 1.2 0 1.1 .5 1.2 .1 1.1-.5 1.2 .1 1.1 0 1.2 .2 1.1-.4 1.2 .1 1.1-.2 1.2 .4 1.1-.2 1.2 .2 1.2 .2 1.1-.2 1.2 .4 1.1-.4 1.2-.1 1.1-.1 1.2 .5 1.1 .1 1.2-.2 1.1 .4 1.2-.4 1.2-.9 1.1 .7 1.2 .2 1.1 0 1.2-.6 1.1 .8 1.2-.3 1.1 0 1.2 .2 1.1 0 1.2 .2 1.1-.2 1.2-.6"/></defs>
<path d="M488.3 329.0h1.2m-.6 0v4.9m-.6 0h1.2M490.6 329.2h1.2m-.6 0v4.3m-.6 0h1.2M492.9 329.0h1.2m-.6 0v5.2m-.6 0h1.2M495.2 329.9h1.2m-.6 0v3.6m-.6 0h1.2M497.5 328.5h1.2m-.6 0v4.8m-.6 0h1.2M499.8 326.5h1.2m-.6 0v5.2m-.6 0h1.2M502.1 323.6h1.2m-.6 0v5.2m-.6 0h1.2M504.4 322.2h1.2m-.6 0v5.1m-.6 0h1.2M506.7 322.5h1.2m-.6 0v4.2m-.6 0h1.2M509.0 323.4h1.2m-.6 0v4.4m-.6 0h1.2M511.3 322.5h1.2m-.6 0v5.1m-.6 0h1.2M513.6 323.5h1.2m-.6 0v4.1m-.6 0h1.2M515.9 324.3h1.2m-.6 0v3.8m-.6 0h1.2M518.3 324.3h1.2m-.6 0v3.3m-.6 0h1.2M520.6 325.3h1.2m-.6 0v3.7m-.6 0h1.2M522.9 325.3h1.2m-.6 0v3.6m-.6 0h1.2M525.2 324.6h1.2m-.6 0v5.3m-.6 0h1.2M527.5 325.6h1.2m-.6 0v3.9m-.6 0h1.2M529.8 325.3h1.2m-.6 0v4.0m-.6 0h1.2M532.1 325.5h1.2m-.6 0v5.4m-.6 0h1.2M534.4 325.4h1.2m-.6 0v4.8m-.6 0h1.2M536.7 326.1h1.2m-.6 0v4.2m-.6 0h1.2M539.0 326.3h1.2m-.6 0v3.5m-.6 0h1.2M541.3 327.0h1.2m-.6 0v4.1m-.6 0h1.2M543.6 327.4h1.2m-.6 0v3.9m-.6 0h1.2M546.0 326.0h1.2m-.6 0v5.3m-.6 0h1.2M548.3 327.2h1.2m-.6 0v4.2m-.6 0h1.2M550.6 326.8h1.2m-.6 0v5.4m-.6 0h1.2M552.9 327.3h1.2m-.6 0v3.8m-.6 0h1.2M555.2 327.5h1.2m-.6 0v3.4m-.6 0h1.2M557.5 327.0h1.2m-.6 0v5.2m-.6 0h1.2M559.8 327.2h1.2m-.6 0v3.4m-.6 0h1.2M562.1 327.1h1.2m-.6 0v5.0m-.6 0h1.2M564.4 327.0h1.2m-.6 0v4.6m-.6 0h1.2M566.7 327.7h1.2m-.6 0v3.9m-.6 0h1.2M569.0 327.5h1.2m-.6 0v5.1m-.6 0h1.2M571.3 327.4h1.2m-.6 0v4.2m-.6 0h1.2M573.6 326.8h1.2m-.6 0v5.4m-.6 0h1.2M576.0 327.5h1.2m-.6 0v4.5m-.6 0h1.2M578.3 327.1h1.2m-.6 0v5.3m-.6 0h1.2M580.6 327.5h1.2m-.6 0v5.3m-.6 0h1.2M582.9 327.9h1.2m-.6 0v4.1m-.6 0h1.2M585.2 327.8h1.2m-.6 0v4.8m-.6 0h1.2M587.5 327.5h1.2m-.6 0v4.8m-.6 0h1.2M589.8 327.5h1.2m-.6 0v4.7m-.6 0h1.2M592.1 328.2h1.2m-.6 0v3.3m-.6 0h1.2M594.4 327.4h1.2m-.6 0v4.8m-.6 0h1.2M596.7 327.4h1.2m-.6 0v4.9m-.6 0h1.2M599.0 327.6h1.2m-.6 0v3.7m-.6 0h1.2M601.3 328.0h1.2m-.6 0v3.5m-.6 0h1.2" stroke="#c4c4c4" stroke-width="0.4" fill="none"/>
<defs><path id="c62" d="M487.7 331l1.2 .5 1.1-.4 1.2 .3 1.1 .1 1.2 .1 1.1-.2 1.2 .2 1.1 .1 1.2-.8 1.1-1 1.2-.7 1.1-1.6 1.2-1.4 1.2-.3 1.1-1.2 1.2 0 1.1-.1 1.2 0 1.1 1 1.2-.6 1.1 .1 1.2 .3 1.1 .1 1.2-.1 1.1 .8 1.2-.3 1.2 .1 1.1 .4 1.2 .8 1.1-.3 1.2 .1 1.1 .5 1.2-.3 1.1-.1 1.2 .4 1.1 .1 1.2-.3 1.2 .7 1.1 .1 1.2-.1 1.1-.2 1.2 .2 1.1 .2 1.2 .3 1.1-.4 1.2 .1 1.1 .8 1.2-.5 1.1 .8 1.2-1 1.2 .3 1.1 .4 1.2 .3 1.1-.2 1.2 .4 1.1-.6 1.2 .4 1.1 .4 1.2-.5 1.1-.3 1.2 .8 1.1-.3 1.2-.5 1.2 .5 1.1 .2 1.2-.2 1.1-.1 1.2 .5 1.1-.2 1.2 .5 1.1 0 1.2 0 1.1-.6 1.2 .1 1.1-.1 1.2-.1 1.2 .4 1.1-.1 1.2 0 1.1 0 1.2 .5 1.1-.2 1.2-.1 1.1 0 1.2 .2 1.1-.1 1.2-.1 1.2 0 1.1-.1 1.2 0 1.1 .1 1.2-.1 1.1 0 1.2-.1 1.1 .2 1.2 .3 1.1-.8 1.2 .4 1.1 0 1.2 .1"/></defs>
<path d="M488.3 330.4h1.2m-.6 0v1.7m-.6 0h1.2M490.6 330.2h1.2m-.6 0v1.7m-.6 0h1.2M492.9 330.1h1.2m-.6 0v1.7m-.6 0h1.2M495.2 331.0h1.2m-.6 0v1.3m-.6 0h1.2M497.5 330.3h1.2m-.6 0v1.4m-.6 0h1.2M499.8 330.2h1.2m-.6 0v2.0m-.6 0h1.2M502.1 329.8h1.2m-.6 0v1.7m-.6 0h1.2M504.4 329.5h1.2m-.6 0v1.6m-.6 0h1.2M506.7 329.9h1.2m-.6 0v1.7m-.6 0h1.2M509.0 330.3h1.2m-.6 0v1.3m-.6 0h1.2M511.3 330.3h1.2m-.6 0v1.4m-.6 0h1.2M513.6 329.2h1.2m-.6 0v2.0m-.6 0h1.2M515.9 329.9h1.2m-.6 0v2.0m-.6 0h1.2M518.3 329.8h1.2m-.6 0v1.5m-.6 0h1.2M520.6 329.5h1.2m-.6 0v1.6m-.6 0h1.2M522.9 330.0h1.2m-.6 0v1.4m-.6 0h1.2M525.2 330.3h1.2m-.6 0v1.6m-.6 0h1.2M527.5 329.7h1.2m-.6 0v1.8m-.6 0h1.2M529.8 330.5h1.2m-.6 0v2.0m-.6 0h1.2M532.1 330.5h1.2m-.6 0v1.7m-.6 0h1.2M534.4 330.6h1.2m-.6 0v2.0m-.6 0h1.2M536.7 330.2h1.2m-.6 0v2.2m-.6 0h1.2M539.0 330.6h1.2m-.6 0v1.8m-.6 0h1.2M541.3 330.9h1.2m-.6 0v1.3m-.6 0h1.2M543.6 330.4h1.2m-.6 0v1.4m-.6 0h1.2M546.0 330.9h1.2m-.6 0v1.9m-.6 0h1.2M548.3 330.7h1.2m-.6 0v1.4m-.6 0h1.2M550.6 330.5h1.2m-.6 0v2.1m-.6 0h1.2M552.9 330.9h1.2m-.6 0v1.4m-.6 0h1.2M555.2 330.9h1.2m-.6 0v1.4m-.6 0h1.2M557.5 330.2h1.2m-.6 0v2.2m-.6 0h1.2M559.8 330.4h1.2m-.6 0v1.7m-.6 0h1.2M562.1 330.9h1.2m-.6 0v1.8m-.6 0h1.2M564.4 331.3h1.2m-.6 0v1.8m-.6 0h1.2M566.7 331.6h1.2m-.6 0v1.4m-.6 0h1.2M569.0 331.2h1.2m-.6 0v1.6m-.6 0h1.2M571.3 331.5h1.2m-.6 0v1.6m-.6 0h1.2M573.6 330.9h1.2m-.6 0v1.9m-.6 0h1.2M576.0 330.4h1.2m-.6 0v2.0m-.6 0h1.2M578.3 330.7h1.2m-.6 0v1.9m-.6 0h1.2M580.6 331.0h1.2m-.6 0v1.5m-.6 0h1.2M582.9 330.9h1.2m-.6 0v1.7m-.6 0h1.2M585.2 330.9h1.2m-.6 0v2.1m-.6 0h1.2M587.5 331.1h1.2m-.6 0v1.5m-.6 0h1.2M589.8 331.3h1.2m-.6 0v1.6m-.6 0h1.2M592.1 330.5h1.2m-.6 0v1.8m-.6 0h1.2M594.4 330.9h1.2m-.6 0v2.2m-.6 0h1.2M596.7 330.9h1.2m-.6 0v1.3m-.6 0h1.2M599.0 331.2h1.2m-.6 0v1.9m-.6 0h1.2M601.3 330.7h1.2m-.6 0v1.7m-.6 0h1.2" stroke="#c4c4c4" stroke-width="0.4" fill="none"/>
<defs><path id="c63" d="M487.7 331.1l1.2 .2 1.1-.3 1.2 .1 1.1 1.1 1.2-1.3 1.1 .5 1.2 .3 1.1-.4 1.2-.3 1.1 .5 1.2-.3 1.1-.7 1.2 .1 1.2-.6 1.1 .3 1.2 .2 1.1 .3 1.2-.5 1.1 .7 1.2-.1 1.1 .1 1.2-.8 1.1 0 1.2 .6 1.1 .1 1.2-.3 1.2-.1 1.1 .6 1.2-.8 1.1 .7 1.2-.3 1.1 1 1.2-.6 1.1 .2 1.2-.7 1.1 .6 1.2 .3 1.2-.8 1.1 .7 1.2-.2 1.1 .4 1.2-.5 1.1 .1 1.2 .2 1.1 .1 1.2 0 1.1 .1 1.2 .2 1.1-.7 1.2 .1 1.2 .6 1.1 0 1.2-.4 1.1-.5 1.2 .7 1.1 0 1.2 0 1.1-.1 1.2 .1 1.1-.3 1.2 0 1.1 .2 1.2-.3 1.2 .5 1.1 .1 1.2-1 1.1 1.4 1.2-.1 1.1 .2 1.2-.7 1.1 .4 1.2-.6 1.1 .9 1.2-.5 1.1 0 1.2 .2 1.2-.6 1.1 .5 1.2-.3 1.1 .3 1.2-.2 1.1 .2 1.2-.1 1.1 0 1.2 .2 1.1-.3 1.2 .1 1.2 .3 1.1 0 1.2-.4 1.1-.2 1.2 .7 1.1-.3 1.2-.2 1.1-.2 1.2 .1 1.1 .6 1.2-.4 1.1-.2 1.2 .2"/></defs>
<path d="M488.3 330.7h1.2m-.6 0v2.4m-.6 0h1.2M490.6 329.7h1.2m-.6 0v2.8m-.6 0h1.2M492.9 330.0h1.2m-.6 0v3.1m-.6 0h1.2M495.2 330.1h1.2m-.6 0v2.6m-.6 0h1.2M497.5 329.3h1.2m-.6 0v2.9m-.6 0h1.2M499.8 327.7h1.2m-.6 0v3.1m-.6 0h1.2M502.1 324.7h1.2m-.6 0v2.8m-.6 0h1.2M504.4 321.0h1.2m-.6 0v2.6m-.6 0h1.2M506.7 316.6h1.2m-.6 0v3.6m-.6 0h1.2M509.0 313.6h1.2m-.6 0v2.4m-.6 0h1.2M511.3 310.3h1.2m-.6 0v3.7m-.6 0h1.2M513.6 309.6h1.2m-.6 0v2.4m-.6 0h1.2M515.9 310.3h1.2m-.6 0v3.1m-.6 0h1.2M518.3 311.4h1.2m-.6 0v3.1m-.6 0h1.2M520.6 311.8h1.2m-.6 0v2.9m-.6 0h1.2M522.9 312.2h1.2m-.6 0v3.2m-.6 0h1.2M525.2 312.9h1.2m-.6 0v3.6m-.6 0h1.2M527.5 313.7h1.2m-.6 0v2.8m-.6 0h1.2M529.8 314.2h1.2m-.6 0v2.4m-.6 0h1.2M532.1 315.2h1.2m-.6 0v2.6m-.6 0h1.2M534.4 314.9h1.2m-.6 0v3.6m-.6 0h1.2M536.7 315.7h1.2m-.6 0v3.2m-.6 0h1.2M539.0 316.0h1.2m-.6 0v3.4m-.6 0h1.2M541.3 316.4h1.2m-.6 0v2.9m-.6 0h1.2M543.6 316.9h1.2m-.6 0v2.8m-.6 0h1.2M546.0 317.6h1.2m-.6 0v3.3m-.6 0h1.2M548.3 317.4h1.2m-.6 0v3.1m-.6 0h1.2M550.6 317.1h1.2m-.6 0v3.7m-.6 0h1.2M552.9 319.4h1.2m-.6 0v2.5m-.6 0h1.2M555.2 318.9h1.2m-.6 0v2.8m-.6 0h1.2M557.5 319.1h1.2m-.6 0v3.3m-.6 0h1.2M559.8 319.0h1.2m-.6 0v3.7m-.6 0h1.2M562.1 319.3h1.2m-.6 0v3.0m-.6 0h1.2M564.4 319.9h1.2m-.6 0v3.5m-.6 0h1.2M566.7 320.6h1.2m-.6 0v2.4m-.6 0h1.2M569.0 320.3h1.2m-.6 0v3.3m-.6 0h1.2M571.3 320.8h1.2m-.6 0v2.8m-.6 0h1.2M573.6 320.5h1.2m-.6 0v3.3m-.6 0h1.2M576.0 320.9h1.2m-.6 0v2.7m-.6 0h1.2M578.3 321.2h1.2m-.6 0v2.6m-.6 0h1.2M580.6 321.5h1.2m-.6 0v2.7m-.6 0h1.2M582.9 321.6h1.2m-.6 0v3.4m-.6 0h1.2M585.2 321.4h1.2m-.6 0v3.4m-.6 0h1.2M587.5 321.6h1.2m-.6 0v3.7m-.6 0h1.2M589.8 322.0h1.2m-.6 0v2.9m-.6 0h1.2M592.1 322.6h1.2m-.6 0v2.4m-.6 0h1.2M594.4 322.0h1.2m-.6 0v3.5m-.6 0h1.2M596.7 322.7h1.2m-.6 0v2.7m-.6 0h1.2M599.0 322.2h1.2m-.6 0v3.4m-.6 0h1.2M601.3 322.5h1.2m-.6 0v3.0m-.6 0h1.2" stroke="#c4c4c4" stroke-width="0.4" fill="none"/>
<defs><path id="c64" d="M487.7 331.5l1.2 .4 1.1-.4 1.2-.4 1.1 .1 1.2 .4 1.1-.6 1.2 .5 1.1 .1 1.2-.9 1.1-.9 1.2-.6 1.1-1.1 1.2-2 1.2-1.2 1.1-2.6 1.2-2.3 1.1-1.6 1.2-1.6 1.1-2 1.2-1.1 1.1-1.6 1.2-.3 1.1-1 1.2 .8 1.1 .2 1.2 .7 1.2 .5 1.1-.1 1.2 .3 1.1 .7 1.2-.1 1.1 .6 1.2 .3 1.1 .2 1.2 .2 1.1 .2 1.2 .1 1.2 .5 1.1 .6 1.2 .2 1.1 0 1.2 .6 1.1 0 1.2 .3 1.1 .1 1.2 .2 1.1 0 1.2 0 1.1 .4 1.2 .2 1.2 .7 1.1-.4 1.2 .1 1.1 .9 1.2-.8 1.1 1 1.2 .6 1.1-1 1.2 .7 1.1 .3 1.2 .1 1.1-.3 1.2 .4 1.2 .3 1.1-.3 1.2 .7 1.1 .1 1.2 0 1.1 .2 1.2-.3 1.1 .4 1.2 .3 1.1 0 1.2 .5 1.1-.5 1.2 .1 1.2 0 1.1 .3 1.2-.1 1.1 .5 1.2-.2 1.1 0 1.2 .5 1.1-.4 1.2 .2 1.1 .1 1.2 .2 1.2-.6 1.1 .6 1.2 .3 1.1 .1 1.2-.4 1.1 .3 1.2 .2 1.1 .1 1.2-.4 1.1 .3 1.2-.2 1.1 .3 1.2 .4"/></defs>
<use href="#c57" stroke="#2b8cf0" stroke-width="1.4" fill="none" stroke-linejoin="round"/>
<use href="#c58" stroke="#d62020" stroke-width="1.4" fill="none" stroke-linejoin="round"/>
<use href="#c59" stroke="#2aa84a" stroke-width="1.4" fill="none" stroke-linejoin="round"/>
<use href="#c60" stroke="#8a2be8" stroke-width="1.4" fill="none" stroke-linejoin="round"/>
<use href="#c61" stroke="#18a4c4" stroke-width="1.4" fill="none" stroke-linejoin="round"/>
<use href="#c62" stroke="#8fe0a8" stroke-width="1.4" fill="none" stroke-linejoin="round"/>
<use href="#c63" stroke="#f5881f" stroke-width="1.4" fill="none" stroke-linejoin="round"/>
<use href="#c64" stroke="#eea0b8" stroke-width="1.4" fill="none" stroke-linejoin="round"/>
<line x1="487.70" y1="226.60" x2="487.70" y2="335.55" stroke="#444" stroke-width="0.7"/>
<line x1="487.35" y1="335.20" x2="603.45" y2="335.20" stroke="#444" stroke-width="0.7"/>
<line x1="484.30" y1="335.20" x2="487.70" y2="335.20" stroke="#444" stroke-width="0.6"/>
<line x1="485.10" y1="324.34" x2="487.70" y2="324.34" stroke="#444" stroke-width="0.6"/>
<line x1="484.30" y1="313.48" x2="487.70" y2="313.48" stroke="#444" stroke-width="0.6"/>
<line x1="485.10" y1="302.62" x2="487.70" y2="302.62" stroke="#444" stroke-width="0.6"/>
<line x1="484.30" y1="291.76" x2="487.70" y2="291.76" stroke="#444" stroke-width="0.6"/>
<line x1="485.10" y1="280.90" x2="487.70" y2="280.90" stroke="#444" stroke-width="0.6"/>
<line x1="484.30" y1="270.04" x2="487.70" y2="270.04" stroke="#444" stroke-width="0.6"/>
<line x1="485.10" y1="259.18" x2="487.70" y2="259.18" stroke="#444" stroke-width="0.6"/>
<line x1="484.30" y1="248.32" x2="487.70" y2="248.32" stroke="#444" stroke-width="0.6"/>
<line x1="485.10" y1="237.46" x2="487.70" y2="237.46" stroke="#444" stroke-width="0.6"/>
<line x1="484.30" y1="226.60" x2="487.70" y2="226.60" stroke="#444" stroke-width="0.6"/>
<line x1="487.70" y1="335.20" x2="487.70" y2="338.60" stroke="#444" stroke-width="0.6"/>
<line x1="493.47" y1="335.20" x2="493.47" y2="337.80" stroke="#444" stroke-width="0.6"/>
<line x1="499.24" y1="335.20" x2="499.24" y2="337.80" stroke="#444" stroke-width="0.6"/>
<line x1="505.01" y1="335.20" x2="505.01" y2="337.80" stroke="#444" stroke-width="0.6"/>
<line x1="510.78" y1="335.20" x2="510.78" y2="337.80" stroke="#444" stroke-width="0.6"/>
<line x1="516.55" y1="335.20" x2="516.55" y2="338.60" stroke="#444" stroke-width="0.6"/>
<line x1="522.32" y1="335.20" x2="522.32" y2="337.80" stroke="#444" stroke-width="0.6"/>
<line x1="528.09" y1="335.20" x2="528.09" y2="337.80" stroke="#444" stroke-width="0.6"/>
<line x1="533.86" y1="335.20" x2="533.86" y2="337.80" stroke="#444" stroke-width="0.6"/>
<line x1="539.63" y1="335.20" x2="539.63" y2="337.80" stroke="#444" stroke-width="0.6"/>
<line x1="545.40" y1="335.20" x2="545.40" y2="338.60" stroke="#444" stroke-width="0.6"/>
<line x1="551.17" y1="335.20" x2="551.17" y2="337.80" stroke="#444" stroke-width="0.6"/>
<line x1="556.94" y1="335.20" x2="556.94" y2="337.80" stroke="#444" stroke-width="0.6"/>
<line x1="562.71" y1="335.20" x2="562.71" y2="337.80" stroke="#444" stroke-width="0.6"/>
<line x1="568.48" y1="335.20" x2="568.48" y2="337.80" stroke="#444" stroke-width="0.6"/>
<line x1="574.25" y1="335.20" x2="574.25" y2="338.60" stroke="#444" stroke-width="0.6"/>
<line x1="580.02" y1="335.20" x2="580.02" y2="337.80" stroke="#444" stroke-width="0.6"/>
<line x1="585.79" y1="335.20" x2="585.79" y2="337.80" stroke="#444" stroke-width="0.6"/>
<line x1="591.56" y1="335.20" x2="591.56" y2="337.80" stroke="#444" stroke-width="0.6"/>
<line x1="597.33" y1="335.20" x2="597.33" y2="337.80" stroke="#444" stroke-width="0.6"/>
<line x1="603.10" y1="335.20" x2="603.10" y2="338.60" stroke="#444" stroke-width="0.6"/>
<text transform="translate(487.70 349.10) scale(0.93 1)" font-size="8.4" text-anchor="middle" fill="#222">0</text>
<text transform="translate(516.55 349.10) scale(0.93 1)" font-size="8.4" text-anchor="middle" fill="#222">500</text>
<text transform="translate(545.40 349.10) scale(0.93 1)" font-size="8.4" text-anchor="middle" fill="#222">1,000</text>
<text transform="translate(574.25 349.10) scale(0.93 1)" font-size="8.4" text-anchor="middle" fill="#222">1,500</text>
<text transform="translate(603.10 349.10) scale(0.93 1)" font-size="8.4" text-anchor="middle" fill="#222">2,000</text>
<text transform="translate(545.40 362.10) scale(0.975 1)" font-size="9.2" text-anchor="middle" fill="#222">Time (s)</text>
<text transform="translate(514.00 242.40) scale(0.93 1)" font-size="9.2" text-anchor="start" fill="#222">+ <tspan font-style="italic">Li</tspan>Prx1&#916;C<tspan font-size="6.3" dy="1.9">P</tspan><tspan dy="-1.9">&#8203;</tspan>&#916;C<tspan font-size="6.3" dy="1.9">R</tspan><tspan dy="-1.9">&#8203;</tspan></text>
<text transform="translate(612.90 238.20)" font-size="9.2" text-anchor="start" fill="#222">H<tspan font-size="6.3" dy="1.9">2</tspan><tspan dy="-1.9">&#8203;</tspan>O<tspan font-size="6.3" dy="1.9">2</tspan><tspan dy="-1.9">&#8203;</tspan> (&#181;M)</text>
<line x1="612.90" y1="248.50" x2="621.70" y2="248.50" stroke="#2b8cf0" stroke-width="1.2"/>
<text transform="translate(626.60 251.80) scale(0.99 1)" font-size="9.5" text-anchor="start" fill="#222">0</text>
<line x1="612.90" y1="258.15" x2="621.70" y2="258.15" stroke="#d62020" stroke-width="1.2"/>
<text transform="translate(626.60 261.45) scale(0.99 1)" font-size="9.5" text-anchor="start" fill="#222">10</text>
<line x1="612.90" y1="267.80" x2="621.70" y2="267.80" stroke="#2aa84a" stroke-width="1.2"/>
<text transform="translate(626.60 271.10) scale(0.99 1)" font-size="9.5" text-anchor="start" fill="#222">20</text>
<line x1="612.90" y1="277.45" x2="621.70" y2="277.45" stroke="#8a2be8" stroke-width="1.2"/>
<text transform="translate(626.60 280.75) scale(0.99 1)" font-size="9.5" text-anchor="start" fill="#222">50</text>
<line x1="612.90" y1="287.10" x2="621.70" y2="287.10" stroke="#18a4c4" stroke-width="1.2"/>
<text transform="translate(626.60 290.40) scale(0.99 1)" font-size="9.5" text-anchor="start" fill="#222">100</text>
<line x1="612.90" y1="296.75" x2="621.70" y2="296.75" stroke="#f5881f" stroke-width="1.2"/>
<text transform="translate(626.60 300.05) scale(0.99 1)" font-size="9.5" text-anchor="start" fill="#222">200</text>
<line x1="612.90" y1="306.40" x2="621.70" y2="306.40" stroke="#8fe0a8" stroke-width="1.2"/>
<text transform="translate(626.60 309.70) scale(0.99 1)" font-size="9.5" text-anchor="start" fill="#222">500</text>
<line x1="612.90" y1="316.05" x2="621.70" y2="316.05" stroke="#eea0b8" stroke-width="1.2"/>
<text transform="translate(626.60 319.35) scale(0.99 1)" font-size="9.5" text-anchor="start" fill="#222">1,000</text>
<defs><filter id="b1" x="-20%" y="-100%" width="140%" height="300%"><feGaussianBlur stdDeviation="0.9 0.7"/></filter><filter id="b2" x="-20%" y="-100%" width="140%" height="300%"><feGaussianBlur stdDeviation="1.2 0.9"/></filter><filter id="b3" x="-30%" y="-30%" width="160%" height="160%"><feGaussianBlur stdDeviation="4"/></filter><linearGradient id="g1" x1="0" x2="1"><stop offset="0" stop-color="#e8e8e8"/><stop offset="0.5" stop-color="#e4e4e4"/><stop offset="1" stop-color="#dadada"/></linearGradient><linearGradient id="g2" x1="0" x2="1"><stop offset="0" stop-color="#e2e2e2"/><stop offset="1" stop-color="#d8d8d8"/></linearGradient></defs>
<defs><radialGradient id="vg" cx="0.6" cy="0.45" r="0.75"><stop offset="0.45" stop-color="#000" stop-opacity="0"/><stop offset="1" stop-color="#000" stop-opacity="0.22"/></radialGradient><filter id="nz" x="0" y="0" width="100%" height="100%"><feTurbulence type="fractalNoise" baseFrequency="0.8" numOctaves="2" seed="3"/><feColorMatrix type="matrix" values="0 0 0 0 0  0 0 0 0 0  0 0 0 0 0  1.4 0 0 0 -0.35"/></filter></defs>
<text transform="translate(3.20 399.00) scale(1.08 1)" font-size="13.2" text-anchor="start" fill="#000" font-weight="bold" stroke="#000" stroke-width="0.45">b</text>
<text transform="translate(36.00 399.00) scale(0.95 1)" font-size="9.0" text-anchor="start" fill="#222">roGFP2-<tspan font-style="italic">At</tspan>BAS1B</text>
<line x1="34.20" y1="402.30" x2="106.30" y2="402.30" stroke="#666" stroke-width="0.8"/>
<text transform="translate(112.70 399.00) scale(0.96 1)" font-size="9.0" text-anchor="start" fill="#222">roGFP2-<tspan font-style="italic">At</tspan>BAS1A</text>
<line x1="111.80" y1="402.30" x2="183.20" y2="402.30" stroke="#666" stroke-width="0.8"/>
<text transform="translate(44.70 441.30) rotate(-45) scale(0.93 1)" font-size="9.3" text-anchor="start" fill="#222">Empty</text>
<text transform="translate(70.20 441.30) rotate(-45) scale(0.93 1)" font-size="9.3" text-anchor="start" fill="#222"><tspan font-style="italic">At</tspan>BAS1B</text>
<text transform="translate(94.90 441.30) rotate(-45) scale(0.93 1)" font-size="9.3" text-anchor="start" fill="#222"><tspan font-style="italic">At</tspan>BAS1A</text>
<text transform="translate(120.10 441.30) rotate(-45) scale(0.93 1)" font-size="9.3" text-anchor="start" fill="#222">Empty</text>
<text transform="translate(145.50 441.30) rotate(-45) scale(0.93 1)" font-size="9.3" text-anchor="start" fill="#222"><tspan font-style="italic">At</tspan>BAS1B</text>
<text transform="translate(170.70 441.30) rotate(-45) scale(0.93 1)" font-size="9.3" text-anchor="start" fill="#222"><tspan font-style="italic">At</tspan>BAS1A</text>
<text transform="translate(10.60 452.30) scale(0.95 1)" font-size="8.8" text-anchor="start" fill="#222">kDa</text>
<text transform="translate(25.50 474.80) scale(0.89 1)" font-size="8.4" text-anchor="end" fill="#222">720</text>
<line x1="28.50" y1="472.20" x2="32.30" y2="472.20" stroke="#444" stroke-width="0.6"/>
<text transform="translate(25.50 499.10) scale(0.89 1)" font-size="8.4" text-anchor="end" fill="#222">545</text>
<line x1="28.50" y1="496.50" x2="32.30" y2="496.50" stroke="#444" stroke-width="0.6"/>
<text transform="translate(25.50 529.30) scale(0.89 1)" font-size="8.4" text-anchor="end" fill="#222">272</text>
<line x1="28.50" y1="526.70" x2="32.30" y2="526.70" stroke="#444" stroke-width="0.6"/>
<text transform="translate(25.50 547.10) scale(0.89 1)" font-size="8.4" text-anchor="end" fill="#222">146</text>
<line x1="28.50" y1="544.50" x2="32.30" y2="544.50" stroke="#444" stroke-width="0.6"/>
<text transform="translate(25.50 578.60) scale(0.89 1)" font-size="8.4" text-anchor="end" fill="#222">67</text>
<line x1="28.50" y1="576.00" x2="32.30" y2="576.00" stroke="#444" stroke-width="0.6"/>
<clipPath id="cp1"><rect x="32.3" y="446.2" width="152.60000000000002" height="84.30000000000001"/></clipPath>
<rect x="32.3" y="446.2" width="152.60000000000002" height="84.30000000000001" fill="url(#g1)"/>
<g clip-path="url(#cp1)">
<ellipse cx="60" cy="520" rx="45" ry="25" fill="#f2f2f2" opacity="0.6" filter="url(#b3)"/>
<ellipse cx="170" cy="515" rx="25" ry="25" fill="#cfcfcf" opacity="0.7" filter="url(#b3)"/>
<rect x="36.2" y="469.6" width="18.8" height="2.6" rx="1.2" fill="#000" opacity="0.95" filter="url(#b1)"/>
<rect x="61.8" y="470.0" width="18.1" height="12.0" rx="1.2" fill="#000" opacity="0.08" filter="url(#b2)"/>
<rect x="61.8" y="470.3" width="18.1" height="2.4" rx="1.2" fill="#000" opacity="0.08" filter="url(#b1)"/>
<rect x="61.8" y="474.3" width="18.1" height="1.8" rx="0.9" fill="#000" opacity="0.08" filter="url(#b1)"/>
<rect x="61.8" y="477.9" width="18.1" height="1.8" rx="0.9" fill="#000" opacity="0.18" filter="url(#b1)"/>
<rect x="61.8" y="481.1" width="18.1" height="1.9" rx="0.9" fill="#000" opacity="0.5" filter="url(#b1)"/>
<rect x="61.8" y="484.6" width="18.1" height="2.2" rx="1.1" fill="#000" opacity="0.92" filter="url(#b1)"/>
<rect x="61.8" y="488.5" width="18.1" height="2.4" rx="1.2" fill="#000" opacity="0.96" filter="url(#b1)"/>
<rect x="61.8" y="492.8" width="18.1" height="2.7" rx="1.2" fill="#000" opacity="0.98" filter="url(#b1)"/>
<rect x="61.8" y="498.1" width="18.1" height="2.9" rx="1.2" fill="#000" opacity="0.98" filter="url(#b1)"/>
<rect x="61.8" y="504.6" width="18.1" height="2.4" rx="1.2" fill="#000" opacity="0.95" filter="url(#b1)"/>
<rect x="86.8" y="470.1" width="17.7" height="2.8" rx="1.2" fill="#000" opacity="0.15" filter="url(#b1)"/>
<rect x="86.8" y="471.5" width="17.7" height="9.0" rx="1.2" fill="#000" opacity="0.05" filter="url(#b2)"/>
<rect x="112.0" y="515.7" width="17.5" height="2.6" rx="1.2" fill="#000" opacity="0.08" filter="url(#b1)"/>
<rect x="112.0" y="518.0" width="17.5" height="8.0" rx="1.2" fill="#000" opacity="0.03" filter="url(#b2)"/>
<rect x="137.4" y="487.0" width="17.9" height="2.0" rx="1.0" fill="#000" opacity="0.12" filter="url(#b1)"/>
<rect x="137.4" y="491.6" width="17.9" height="1.9" rx="0.9" fill="#000" opacity="0.72" filter="url(#b1)" transform="rotate(-2 146.4 492.5)"/>
<rect x="137.4" y="497.1" width="17.9" height="2.5" rx="1.2" fill="#000" opacity="0.95" filter="url(#b1)" transform="rotate(-1 146.4 498.3)"/>
<rect x="137.4" y="503.6" width="17.9" height="2.3" rx="1.1" fill="#000" opacity="0.93" filter="url(#b1)"/>
<rect x="137.4" y="512.0" width="17.9" height="16.0" rx="1.2" fill="#000" opacity="0.03" filter="url(#b2)"/>
<circle cx="83" cy="458.7" r="0.8" fill="#666"/>
<circle cx="118.7" cy="492.5" r="0.6" fill="#777"/>
<circle cx="167" cy="501.5" r="0.7" fill="#999"/>
<circle cx="112.8" cy="454" r="1.0" fill="#fff"/>
<rect x="32.3" y="446.2" width="152.6" height="84.3" filter="url(#nz)" opacity="0.05"/>
</g>
<rect x="32.3" y="446.2" width="152.60000000000002" height="84.30000000000001" fill="none" stroke="#333" stroke-width="0.8"/>
<clipPath id="cp2"><rect x="32.3" y="537.6" width="152.60000000000002" height="50.60000000000002"/></clipPath>
<rect x="32.3" y="537.6" width="152.60000000000002" height="50.60000000000002" fill="url(#g2)"/>
<g clip-path="url(#cp2)">
<ellipse cx="100" cy="542" rx="50" ry="6" fill="#f4f4f4" opacity="0.8" filter="url(#b3)"/>
<rect x="37.9" y="549.5" width="16.3" height="3.0" rx="1.2" fill="#000" opacity="0.6" filter="url(#b1)"/>
<rect x="63.4" y="550.6" width="15.7" height="2.4" rx="1.2" fill="#000" opacity="0.25" filter="url(#b1)"/>
<rect x="63.4" y="572.1" width="15.7" height="2.4" rx="1.2" fill="#000" opacity="0.35" filter="url(#b1)"/>
<rect x="88.3" y="550.4" width="16.3" height="2.8" rx="1.2" fill="#000" opacity="0.7" filter="url(#b1)"/>
<rect x="88.3" y="570.8" width="16.3" height="4.0" rx="1.2" fill="#000" opacity="0.95" filter="url(#b1)"/>
<rect x="111.4" y="548.8" width="19.0" height="6.0" rx="1.2" fill="#000" opacity="1" filter="url(#b1)"/>
<rect x="111.4" y="547.8" width="19.0" height="8.0" rx="1.2" fill="#000" opacity="0.4" filter="url(#b2)"/>
<rect x="113.0" y="566.4" width="15.0" height="2.0" rx="1.0" fill="#000" opacity="0.05" filter="url(#b1)"/>
<rect x="137.4" y="548.4" width="17.9" height="4.0" rx="1.2" fill="#000" opacity="0.97" filter="url(#b1)" transform="rotate(-4 146.4 550.4)"/>
<rect x="137.4" y="569.2" width="17.9" height="4.0" rx="1.2" fill="#000" opacity="0.97" filter="url(#b1)" transform="rotate(-4 146.4 571.2)"/>
<rect x="162.7" y="546.4" width="17.6" height="4.4" rx="1.2" fill="#000" opacity="0.98" filter="url(#b1)" transform="rotate(-3 171.5 548.6)"/>
<rect x="162.7" y="567.0" width="17.6" height="5.0" rx="1.2" fill="#000" opacity="1" filter="url(#b1)" transform="rotate(-3 171.5 569.5)"/>
<rect x="32.3" y="537.6" width="152.6" height="50.6" filter="url(#nz)" opacity="0.05"/>
</g>
<rect x="32.3" y="537.6" width="152.60000000000002" height="50.60000000000002" fill="none" stroke="#333" stroke-width="0.8"/>
<line x1="189.80" y1="464.20" x2="189.80" y2="510.20" stroke="#aaa" stroke-width="1.0"/>
<text transform="translate(193.50 490.20) scale(0.89 1)" font-size="9.2" text-anchor="start" fill="#222">HD</text>
<line x1="179.50" y1="548.10" x2="190.00" y2="548.10" stroke="#000" stroke-width="0.7"/>
<line x1="179.50" y1="569.20" x2="190.00" y2="569.20" stroke="#000" stroke-width="0.7"/>
<text transform="translate(194.30 551.60) scale(1.025 1)" font-size="9.2" text-anchor="start" fill="#222">Homodimer?</text>
<text transform="translate(194.30 571.70) scale(1.03 1)" font-size="9.2" text-anchor="start" fill="#222">Heterodimer?</text>
<defs><linearGradient id="g3" x1="0" x2="1"><stop offset="0" stop-color="#c2c2c2"/><stop offset="0.45" stop-color="#c3c3c3"/><stop offset="0.55" stop-color="#cbcbcb"/><stop offset="1" stop-color="#cacaca"/></linearGradient><linearGradient id="g4" x1="0" x2="1"><stop offset="0" stop-color="#b4b4b4"/><stop offset="0.45" stop-color="#b6b6b6"/><stop offset="0.6" stop-color="#c8c8c8"/><stop offset="1" stop-color="#c6c6c6"/></linearGradient><filter id="b4" x="-50%" y="-10%" width="200%" height="120%"><feGaussianBlur stdDeviation="1.6 0.5"/></filter></defs>
<text transform="translate(302.60 406.40) scale(0.95 1)" font-size="9.0" text-anchor="start" fill="#222">roGFP2-<tspan font-style="italic">Li</tspan>Prx1</text>
<line x1="292.30" y1="410.50" x2="365.60" y2="410.50" stroke="#bbb" stroke-width="1.0"/>
<text transform="translate(377.00 406.40) scale(0.98 1)" font-size="9.0" text-anchor="start" fill="#222">roGFP2-<tspan font-style="italic">Li</tspan>Prx2</text>
<line x1="371.50" y1="410.50" x2="441.30" y2="410.50" stroke="#bbb" stroke-width="1.0"/>
<text transform="translate(303.60 440.80) rotate(-45) scale(0.95 1)" font-size="9.4" text-anchor="start" fill="#222">Empty</text>
<text transform="translate(327.60 440.80) rotate(-45) scale(0.95 1)" font-size="9.4" text-anchor="start" fill="#222"><tspan font-style="italic">Li</tspan>Prx1</text>
<text transform="translate(350.60 440.80) rotate(-45) scale(0.95 1)" font-size="9.4" text-anchor="start" fill="#222"><tspan font-style="italic">Li</tspan>Prx2</text>
<text transform="translate(375.60 440.80) rotate(-45) scale(0.95 1)" font-size="9.4" text-anchor="start" fill="#222">Empty</text>
<text transform="translate(399.10 440.80) rotate(-45) scale(0.95 1)" font-size="9.4" text-anchor="start" fill="#222"><tspan font-style="italic">Li</tspan>Prx1</text>
<text transform="translate(423.60 440.80) rotate(-45) scale(0.95 1)" font-size="9.4" text-anchor="start" fill="#222"><tspan font-style="italic">Li</tspan>Prx2</text>
<text transform="translate(268.70 452.90) scale(0.95 1)" font-size="8.8" text-anchor="start" fill="#222">kDa</text>
<text transform="translate(284.40 474.40) scale(0.89 1)" font-size="8.4" text-anchor="end" fill="#222">720</text>
<line x1="287.60" y1="471.80" x2="291.80" y2="471.80" stroke="#444" stroke-width="0.6"/>
<text transform="translate(284.40 507.90) scale(0.89 1)" font-size="8.4" text-anchor="end" fill="#222">450</text>
<line x1="287.60" y1="505.30" x2="291.80" y2="505.30" stroke="#444" stroke-width="0.6"/>
<text transform="translate(284.40 529.20) scale(0.89 1)" font-size="8.4" text-anchor="end" fill="#222">272</text>
<line x1="287.60" y1="526.60" x2="291.80" y2="526.60" stroke="#444" stroke-width="0.6"/>
<text transform="translate(284.40 545.40) scale(0.89 1)" font-size="8.4" text-anchor="end" fill="#222">146</text>
<line x1="287.60" y1="542.80" x2="291.80" y2="542.80" stroke="#444" stroke-width="0.6"/>
<text transform="translate(284.40 576.90) scale(0.89 1)" font-size="8.4" text-anchor="end" fill="#222">67</text>
<line x1="287.60" y1="574.30" x2="291.80" y2="574.30" stroke="#444" stroke-width="0.6"/>
<defs><filter id="b5" x="-20%" y="-100%" width="140%" height="300%"><feGaussianBlur stdDeviation="1.1 0.8"/></filter></defs>
<clipPath id="cp3"><rect x="291.8" y="445.8" width="149.8" height="72.49999999999994"/></clipPath>
<rect x="291.8" y="445.8" width="149.8" height="72.49999999999994" fill="url(#g3)"/>
<g clip-path="url(#cp3)">
<rect x="296.5" y="440" width="17" height="85" fill="#000" opacity="0.05" filter="url(#b4)"/>
<rect x="319.5" y="440" width="17" height="85" fill="#000" opacity="0.09" filter="url(#b4)"/>
<rect x="343.5" y="440" width="16" height="85" fill="#000" opacity="0.07" filter="url(#b4)"/>
<rect x="391.5" y="440" width="17" height="85" fill="#000" opacity="0.03" filter="url(#b4)"/>
<rect x="417.0" y="440" width="16" height="85" fill="#000" opacity="0.02" filter="url(#b4)"/>
<rect x="297.0" y="474.7" width="15.0" height="2.6" rx="1.2" fill="#000" opacity="0.72" filter="url(#b5)" transform="rotate(3 304.5 476.0)"/>
<rect x="320.0" y="476.0" width="15.7" height="9.0" rx="1.2" fill="#000" opacity="0.35" filter="url(#b2)"/>
<rect x="320.0" y="482.6" width="15.7" height="3.4" rx="1.2" fill="#000" opacity="0.5" filter="url(#b5)"/>
<rect x="344.4" y="477.3" width="14.4" height="2.6" rx="1.2" fill="#000" opacity="0.14" filter="url(#b5)"/>
<rect x="389.8" y="485.8" width="18.4" height="3.0" rx="1.2" fill="#000" opacity="0.7" filter="url(#b5)" transform="rotate(-3 399.0 487.3)"/>
<rect x="291.8" y="445.8" width="149.8" height="72.5" fill="url(#vg)" opacity="0.6"/>
<rect x="291.8" y="445.8" width="149.8" height="72.5" filter="url(#nz)" opacity="0.10"/>
<circle cx="404" cy="516.3" r="1.6" fill="#fff" filter="url(#b1)"/>
</g>
<rect x="291.8" y="445.8" width="149.8" height="72.49999999999994" fill="none" stroke="#333" stroke-width="0.8"/>
<clipPath id="cp4"><rect x="291.8" y="525.4" width="149.8" height="62.60000000000002"/></clipPath>
<rect x="291.8" y="525.4" width="149.8" height="62.60000000000002" fill="url(#g4)"/>
<g clip-path="url(#cp4)">
<rect x="296.5" y="520" width="18" height="75" fill="#000" opacity="0.05" filter="url(#b4)"/>
<rect x="321.0" y="520" width="18" height="75" fill="#000" opacity="0.1" filter="url(#b4)"/>
<rect x="344.5" y="520" width="18" height="75" fill="#000" opacity="0.11" filter="url(#b4)"/>
<rect x="368.5" y="520" width="17" height="75" fill="#000" opacity="0.0" filter="url(#b4)"/>
<rect x="393.5" y="520" width="17" height="75" fill="#000" opacity="0.05" filter="url(#b4)"/>
<rect x="416.5" y="520" width="17" height="75" fill="#000" opacity="0.07" filter="url(#b4)"/>
<rect x="297.9" y="537.7" width="15.7" height="3.2" rx="1.2" fill="#000" opacity="0.72" filter="url(#b5)" transform="rotate(2 305.8 539.3)"/>
<rect x="299.0" y="568.1" width="14.0" height="2.8" rx="1.2" fill="#000" opacity="0.42" filter="url(#b5)"/>
<rect x="321.5" y="538.9" width="16.8" height="3.6" rx="1.2" fill="#000" opacity="0.85" filter="url(#b5)" transform="rotate(3 329.9 540.7)"/>
<rect x="321.5" y="568.3" width="16.8" height="4.6" rx="1.2" fill="#000" opacity="0.95" filter="url(#b5)"/>
<rect x="345.2" y="540.1" width="16.2" height="4.2" rx="1.2" fill="#000" opacity="0.95" filter="url(#b5)" transform="rotate(4 353.3 542.2)"/>
<rect x="346.0" y="550.4" width="15.0" height="4.5" rx="1.2" fill="#000" opacity="0.35" filter="url(#b2)"/>
<rect x="345.2" y="568.9" width="16.2" height="5.0" rx="1.2" fill="#000" opacity="0.97" filter="url(#b5)"/>
<rect x="368.0" y="545.1" width="18.4" height="2.6" rx="1.2" fill="#000" opacity="0.2" filter="url(#b5)"/>
<rect x="367.5" y="574.5" width="19.3" height="5.0" rx="1.2" fill="#000" opacity="1" filter="url(#b5)"/>
<rect x="393.0" y="545.1" width="18.4" height="2.6" rx="1.2" fill="#000" opacity="0.22" filter="url(#b5)"/>
<rect x="393.0" y="549.8" width="18.4" height="4.5" rx="1.2" fill="#000" opacity="0.2" filter="url(#b2)"/>
<rect x="392.0" y="572.9" width="19.8" height="6.4" rx="1.2" fill="#000" opacity="1" filter="url(#b5)" transform="rotate(-2 401.9 576.1)"/>
<rect x="416.0" y="542.8" width="17.7" height="3.0" rx="1.2" fill="#000" opacity="0.42" filter="url(#b5)" transform="rotate(-3 424.9 544.3)"/>
<rect x="416.0" y="552.7" width="17.7" height="3.2" rx="1.2" fill="#000" opacity="0.28" filter="url(#b5)"/>
<rect x="415.0" y="570.7" width="20.0" height="7.8" rx="1.2" fill="#000" opacity="1" filter="url(#b5)" transform="rotate(-2 425.0 574.6)"/>
<rect x="291.8" y="525.4" width="149.8" height="62.6" fill="url(#vg)"/>
<rect x="291.8" y="525.4" width="149.8" height="62.6" filter="url(#nz)" opacity="0.07"/>
</g>
<rect x="291.8" y="525.4" width="149.8" height="62.60000000000002" fill="none" stroke="#333" stroke-width="0.8"/>
<line x1="446.40" y1="463.60" x2="446.40" y2="509.30" stroke="#aaa" stroke-width="1.0"/>
<text transform="translate(450.40 489.30) scale(0.89 1)" font-size="9.2" text-anchor="start" fill="#222">HD</text>
<line x1="433.50" y1="543.00" x2="447.20" y2="543.00" stroke="#000" stroke-width="0.7"/>
<line x1="433.50" y1="554.10" x2="447.20" y2="554.10" stroke="#000" stroke-width="0.7"/>
<line x1="433.50" y1="574.30" x2="447.20" y2="574.30" stroke="#000" stroke-width="0.7"/>
<text transform="translate(450.60 545.60) scale(1.01 1)" font-size="9.2" text-anchor="start" fill="#222">Homodimer?</text>
<text transform="translate(450.60 556.50) scale(1.02 1)" font-size="9.2" text-anchor="start" fill="#222">Heterodimer?</text>
<text transform="translate(450.60 572.30)" font-size="9.2" text-anchor="start" fill="#222">Unassembled</text>
<text transform="translate(450.60 582.40) scale(1.01 1)" font-size="9.2" text-anchor="start" fill="#222">monomer?</text>
<text transform="translate(519.00 399.00) scale(1.12 1)" font-size="12.8" text-anchor="start" fill="#000" font-weight="bold" stroke="#000" stroke-width="0.45">c</text>
<rect x="573.3" y="438.7" width="26.6" height="149.6" fill="#000"/>
<rect x="611.3" y="432.7" width="26.6" height="155.6" fill="#008000"/>
<rect x="649.2" y="501.0" width="26.7" height="87.3" fill="#0080ff"/>
<line x1="559.60" y1="416.20" x2="559.60" y2="588.65" stroke="#444" stroke-width="0.7"/>
<line x1="559.25" y1="588.30" x2="681.60" y2="588.30" stroke="#444" stroke-width="0.7"/>
<line x1="556.10" y1="588.30" x2="559.60" y2="588.30" stroke="#444" stroke-width="0.6"/>
<text transform="translate(552.80 591.20) scale(0.93 1)" font-size="8.8" text-anchor="end" fill="#222">0</text>
<line x1="557.00" y1="571.09" x2="559.60" y2="571.09" stroke="#444" stroke-width="0.6"/>
<line x1="556.10" y1="553.88" x2="559.60" y2="553.88" stroke="#444" stroke-width="0.6"/>
<text transform="translate(552.80 556.78) scale(0.93 1)" font-size="8.8" text-anchor="end" fill="#222">20</text>
<line x1="557.00" y1="536.67" x2="559.60" y2="536.67" stroke="#444" stroke-width="0.6"/>
<line x1="556.10" y1="519.46" x2="559.60" y2="519.46" stroke="#444" stroke-width="0.6"/>
<text transform="translate(552.80 522.36) scale(0.93 1)" font-size="8.8" text-anchor="end" fill="#222">40</text>
<line x1="557.00" y1="502.25" x2="559.60" y2="502.25" stroke="#444" stroke-width="0.6"/>
<line x1="556.10" y1="485.04" x2="559.60" y2="485.04" stroke="#444" stroke-width="0.6"/>
<text transform="translate(552.80 487.94) scale(0.93 1)" font-size="8.8" text-anchor="end" fill="#222">60</text>
<line x1="557.00" y1="467.83" x2="559.60" y2="467.83" stroke="#444" stroke-width="0.6"/>
<line x1="556.10" y1="450.62" x2="559.60" y2="450.62" stroke="#444" stroke-width="0.6"/>
<text transform="translate(552.80 453.52) scale(0.93 1)" font-size="8.8" text-anchor="end" fill="#222">80</text>
<line x1="557.00" y1="433.41" x2="559.60" y2="433.41" stroke="#444" stroke-width="0.6"/>
<line x1="556.10" y1="416.20" x2="559.60" y2="416.20" stroke="#444" stroke-width="0.6"/>
<text transform="translate(552.80 419.10) scale(0.93 1)" font-size="8.8" text-anchor="end" fill="#222">100</text>
<text transform="translate(530.80 502.00) rotate(-90)" font-size="9.2" text-anchor="middle" fill="#222">Species (%)</text>
<text transform="translate(624.80 602.20) scale(1.035 1)" font-size="9.2" text-anchor="middle" fill="#222">Compartment</text>
<rect x="572.5" y="380.8" width="7.6" height="7.4" fill="#000"/>
<text transform="translate(585.00 387.30) scale(1.05 1)" font-size="9.2" text-anchor="start" fill="#222">Cytosol</text>
<rect x="572.5" y="393.4" width="7.6" height="7.4" fill="#008000"/>
<text transform="translate(585.00 399.90) scale(1.05 1)" font-size="9.2" text-anchor="start" fill="#222">Plastid</text>
<rect x="572.5" y="406.0" width="7.6" height="7.4" fill="#0080ff"/>
<text transform="translate(585.00 412.50) scale(1.05 1)" font-size="9.2" text-anchor="start" fill="#222">Mitochondrial matrix</text>
<text transform="translate(4.00 623.70) scale(1.08 1)" font-size="13.2" text-anchor="start" fill="#000" font-weight="bold" stroke="#000" stroke-width="0.45">d</text>
<text transform="translate(335.30 621.90) scale(0.985 1)" font-size="9.3" text-anchor="middle" fill="#e6212d" font-weight="bold">Structural plasticity</text>
<text transform="translate(332.10 892.60) scale(0.985 1)" font-size="9.3" text-anchor="middle" fill="#e6212d" font-weight="bold">Functional plasticity</text>
<text transform="translate(132.00 650.20) scale(0.955 1)" font-size="9.4" text-anchor="end" fill="#222">For example, <tspan font-style="italic">At</tspan>BAS1A</text>
<text transform="translate(132.00 663.40) scale(0.955 1)" font-size="9.4" text-anchor="end" fill="#222"><tspan font-style="italic">Sc</tspan>Tsa1</text>
<text transform="translate(132.00 676.60) scale(0.955 1)" font-size="9.4" text-anchor="end" fill="#222"><tspan font-style="italic">Li</tspan>Prx2</text>
<text transform="translate(132.00 720.00) scale(0.955 1)" font-size="9.4" text-anchor="end" fill="#222">For example, <tspan font-style="italic">At</tspan>BAS1B</text>
<text transform="translate(132.00 733.20) scale(0.955 1)" font-size="9.4" text-anchor="end" fill="#222"><tspan font-style="italic">Sc</tspan>Tsa2</text>
<text transform="translate(132.00 746.40) scale(0.955 1)" font-size="9.4" text-anchor="end" fill="#222"><tspan font-style="italic">Li</tspan>Prx1</text>
<text transform="translate(132.00 788.40) scale(0.932 1)" font-size="9.4" text-anchor="end" fill="#222">For example, <tspan font-style="italic">At</tspan>BAS1A&#8211;<tspan font-style="italic">At</tspan>BAS1B</text>
<text transform="translate(132.00 801.60) scale(0.955 1)" font-size="9.4" text-anchor="end" fill="#222"><tspan font-style="italic">Sc</tspan>Tsa1&#8211;<tspan font-style="italic">Sc</tspan>Tsa2</text>
<text transform="translate(132.00 814.80) scale(0.955 1)" font-size="9.4" text-anchor="end" fill="#222"><tspan font-style="italic">Li</tspan>Prx2&#8211;<tspan font-style="italic">Li</tspan>Prx1</text>
<text transform="translate(210.20 641.10) scale(0.99 1)" font-size="9.5" text-anchor="middle" fill="#4a8fd8">Prx1-type &#945;<tspan font-size="6.3" dy="1.9">2</tspan><tspan dy="-1.9">&#8203;</tspan> homodimer</text>
<text transform="translate(210.20 710.40) scale(0.99 1)" font-size="9.5" text-anchor="middle" fill="#f08a3c">Prx1-type &#945;<tspan font-size="6.3" dy="1.9">2</tspan><tspan dy="-1.9">&#8203;</tspan> homodimer</text>
<text transform="translate(210.20 764.20) scale(0.97 1)" font-size="9.5" text-anchor="middle" fill="#222">Prx1-type &#945;<tspan font-size="6.3" dy="1.9">2</tspan><tspan dy="-1.9">&#8203;</tspan> homo-</text>
<text transform="translate(210.20 773.90) scale(0.99 1)" font-size="9.5" text-anchor="middle" fill="#222">and heterodimers</text>
<g><path d="M194.00 656.20H230.00L222.60 665.90H201.40Z" fill="#96c3f5"/><path d="M196.96 660.08H212.20V665.90H201.40Z" fill="#0a85e6"/></g>
<g><path d="M194.00 724.30H230.00L222.60 734.00H201.40Z" fill="#ee7d1c"/><path d="M196.96 728.18H212.20V734.00H201.40Z" fill="#f9c07c"/></g>
<g><path d="M192.60 784.90H228.60L221.20 794.60H200.00Z" fill="#96c3f5"/><path d="M195.56 788.78H210.80V794.60H200.00Z" fill="#f9c07c"/></g>
<g><path d="M166.80 798.00H202.80L195.40 807.70H174.20Z" fill="#96c3f5"/><path d="M169.76 801.88H185.00V807.70H174.20Z" fill="#0a85e6"/></g>
<g><path d="M217.40 798.00H253.40L246.00 807.70H224.80Z" fill="#ee7d1c"/><path d="M220.36 801.88H235.60V807.70H224.80Z" fill="#f9c07c"/></g>
<g><path d="M192.40 812.10H228.40L221.00 821.80H199.80Z" fill="#ee7d1c"/><path d="M195.36 815.98H210.60V821.80H199.80Z" fill="#0a85e6"/></g>
<g transform="rotate(0 461.8 655.1)"><path d="M443.80 630.67H479.80L472.40 640.37H451.20Z" fill="#96c3f5"/><path d="M446.76 634.55H462.00V640.37H451.20Z" fill="#0a85e6"/></g>
<g transform="rotate(72 461.8 655.1)"><path d="M443.80 630.67H479.80L472.40 640.37H451.20Z" fill="#96c3f5"/><path d="M446.76 634.55H462.00V640.37H451.20Z" fill="#0a85e6"/></g>
<g transform="rotate(144 461.8 655.1)"><path d="M443.80 630.67H479.80L472.40 640.37H451.20Z" fill="#96c3f5"/><path d="M446.76 634.55H462.00V640.37H451.20Z" fill="#0a85e6"/></g>
<g transform="rotate(216 461.8 655.1)"><path d="M443.80 630.67H479.80L472.40 640.37H451.20Z" fill="#96c3f5"/><path d="M446.76 634.55H462.00V640.37H451.20Z" fill="#0a85e6"/></g>
<g transform="rotate(288 461.8 655.1)"><path d="M443.80 630.67H479.80L472.40 640.37H451.20Z" fill="#96c3f5"/><path d="M446.76 634.55H462.00V640.37H451.20Z" fill="#0a85e6"/></g>
<g transform="rotate(0 461.9 723.3)"><path d="M443.90 698.87H479.90L472.50 708.57H451.30Z" fill="#ee7d1c"/><path d="M446.86 702.75H462.10V708.57H451.30Z" fill="#f9c07c"/></g>
<g transform="rotate(72 461.9 723.3)"><path d="M443.90 698.87H479.90L472.50 708.57H451.30Z" fill="#ee7d1c"/><path d="M446.86 702.75H462.10V708.57H451.30Z" fill="#f9c07c"/></g>
<g transform="rotate(144 461.9 723.3)"><path d="M443.90 698.87H479.90L472.50 708.57H451.30Z" fill="#ee7d1c"/><path d="M446.86 702.75H462.10V708.57H451.30Z" fill="#f9c07c"/></g>
<g transform="rotate(216 461.9 723.3)"><path d="M443.90 698.87H479.90L472.50 708.57H451.30Z" fill="#ee7d1c"/><path d="M446.86 702.75H462.10V708.57H451.30Z" fill="#f9c07c"/></g>
<g transform="rotate(288 461.9 723.3)"><path d="M443.90 698.87H479.90L472.50 708.57H451.30Z" fill="#ee7d1c"/><path d="M446.86 702.75H462.10V708.57H451.30Z" fill="#f9c07c"/></g>
<g transform="rotate(0 429.5 790.2)"><path d="M411.50 765.77H447.50L440.10 775.47H418.90Z" fill="#96c3f5"/><path d="M414.46 769.65H429.70V775.47H418.90Z" fill="#0a85e6"/></g>
<g transform="rotate(72 429.5 790.2)"><path d="M411.50 765.77H447.50L440.10 775.47H418.90Z" fill="#ee7d1c"/><path d="M414.46 769.65H429.70V775.47H418.90Z" fill="#0a85e6"/></g>
<g transform="rotate(144 429.5 790.2)"><path d="M411.50 765.77H447.50L440.10 775.47H418.90Z" fill="#96c3f5"/><path d="M414.46 769.65H429.70V775.47H418.90Z" fill="#0a85e6"/></g>
<g transform="rotate(216 429.5 790.2)"><path d="M411.50 765.77H447.50L440.10 775.47H418.90Z" fill="#96c3f5"/><path d="M414.46 769.65H429.70V775.47H418.90Z" fill="#0a85e6"/></g>
<g transform="rotate(288 429.5 790.2)"><path d="M411.50 765.77H447.50L440.10 775.47H418.90Z" fill="#96c3f5"/><path d="M414.46 769.65H429.70V775.47H418.90Z" fill="#0a85e6"/></g>
<g transform="rotate(0 495.9 790.2)"><path d="M477.90 765.77H513.90L506.50 775.47H485.30Z" fill="#96c3f5"/><path d="M480.86 769.65H496.10V775.47H485.30Z" fill="#0a85e6"/></g>
<g transform="rotate(72 495.9 790.2)"><path d="M477.90 765.77H513.90L506.50 775.47H485.30Z" fill="#ee7d1c"/><path d="M480.86 769.65H496.10V775.47H485.30Z" fill="#f9c07c"/></g>
<g transform="rotate(144 495.9 790.2)"><path d="M477.90 765.77H513.90L506.50 775.47H485.30Z" fill="#96c3f5"/><path d="M480.86 769.65H496.10V775.47H485.30Z" fill="#0a85e6"/></g>
<g transform="rotate(216 495.9 790.2)"><path d="M477.90 765.77H513.90L506.50 775.47H485.30Z" fill="#96c3f5"/><path d="M480.86 769.65H496.10V775.47H485.30Z" fill="#0a85e6"/></g>
<g transform="rotate(288 495.9 790.2)"><path d="M477.90 765.77H513.90L506.50 775.47H485.30Z" fill="#96c3f5"/><path d="M480.86 769.65H496.10V775.47H485.30Z" fill="#0a85e6"/></g>
<text transform="translate(538.40 651.20)" font-size="9.4" text-anchor="start" fill="#4a8fd8">Prx1-type (&#945;<tspan font-size="6.3" dy="1.9">2</tspan><tspan dy="-1.9">&#8203;</tspan>)<tspan font-size="6.3" dy="1.9">5</tspan><tspan dy="-1.9">&#8203;</tspan></text>
<text transform="translate(538.40 661.50)" font-size="9.4" text-anchor="start" fill="#4a8fd8">homodecamer</text>
<text transform="translate(538.40 719.80)" font-size="9.4" text-anchor="start" fill="#f08a3c">Prx1-type (&#945;<tspan font-size="6.3" dy="1.9">2</tspan><tspan dy="-1.9">&#8203;</tspan>)<tspan font-size="6.3" dy="1.9">5</tspan><tspan dy="-1.9">&#8203;</tspan></text>
<text transform="translate(538.40 730.20)" font-size="9.4" text-anchor="start" fill="#f08a3c">homodecamer</text>
<text transform="translate(538.40 787.00)" font-size="9.4" text-anchor="start" fill="#222">Prx1-type</text>
<text transform="translate(538.40 797.40)" font-size="9.4" text-anchor="start" fill="#222">heterodecamers</text>
<path d="M295.2 658.2H372.2L357.8 653.0" fill="none" stroke="#000" stroke-width="1.1" stroke-linejoin="miter"/>
<path d="M372.7 663.8H295.0L310 669.0" fill="none" stroke="#000" stroke-width="1.8" stroke-linejoin="miter"/>
<path d="M295.2 726.6H372.2L357.8 721.4" fill="none" stroke="#000" stroke-width="1.8" stroke-linejoin="miter"/>
<path d="M372.7 731.7H295.0L310 736.9" fill="none" stroke="#000" stroke-width="1.1" stroke-linejoin="miter"/>
<path d="M295.2 795.0H372.2L357.8 789.8" fill="none" stroke="#000" stroke-width="1.8" stroke-linejoin="miter"/>
<path d="M372.7 800.1H295.0L310 805.3" fill="none" stroke="#000" stroke-width="1.1" stroke-linejoin="miter"/>
<rect x="276.2" y="757.2" width="112.8" height="23.1" fill="#d9d9d9"/>
<text transform="translate(332.60 771.60) scale(1.035 1)" font-size="9.6" text-anchor="middle" fill="#222">Inducible/titratable</text>
<path d="M66.7 833.55H594.4" stroke="#000" stroke-width="2.1" stroke-dasharray="2.8 2.785" fill="none"/>
<path d="M333 814.4V833" stroke="#000" stroke-width="2.1" stroke-dasharray="3.0 3.1" fill="none"/>
<rect x="66.7" y="837.0" width="2.4" height="3.2" fill="#000"/><rect x="596.9" y="831.8" width="2.3" height="3.4" fill="#000"/><rect x="596.9" y="837.5" width="2.3" height="3.4" fill="#000"/>
<rect x="102.7" y="846.5" width="121.2" height="33.7" fill="#facb9e"/>
<text transform="translate(163.30 865.80) scale(1.01 1)" font-size="9.6" text-anchor="middle" fill="#222">Detoxification</text>
<rect x="272.2" y="846.5" width="120.6" height="33.7" fill="#facb9e"/>
<text transform="translate(332.50 865.80) scale(1.01 1)" font-size="9.6" text-anchor="middle" fill="#222">Redox signaling</text>
<rect x="441.9" y="846.5" width="120.9" height="33.7" fill="#facb9e"/>
<text transform="translate(502.35 865.80) scale(1.01 1)" font-size="9.6" text-anchor="middle" fill="#222">Chaperone</text>
</svg></body></html>
